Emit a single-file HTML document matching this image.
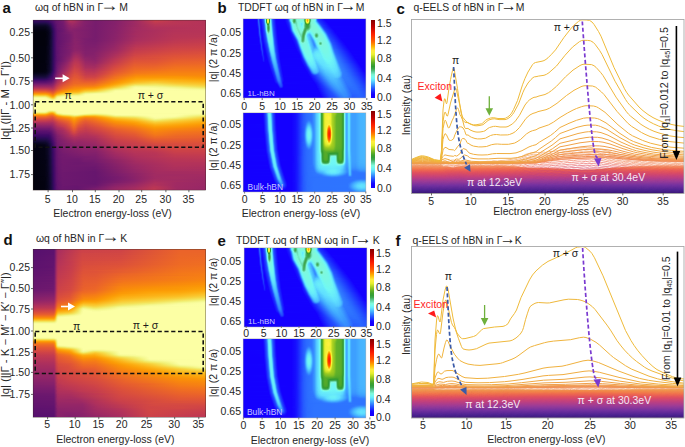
<!DOCTYPE html>
<html><head><meta charset="utf-8"><style>
html,body{margin:0;padding:0;background:#fff;}
body{width:685px;height:447px;overflow:hidden;position:relative;font-family:"Liberation Sans", sans-serif;}
.hm{position:absolute;overflow:hidden;}
.hm div{width:100%;}
svg{position:absolute;left:0;top:0;}
svg text{font-family:"Liberation Sans", sans-serif;}
</style></head><body>
<div class="hm" style="left:33px;top:20px;width:173px;height:170px;"><div style="height:1px;background:linear-gradient(90deg,#390963 0.5px,#390963 12.5px,#3e0966 15.5px,#6a176e 24.5px,#71196e 28.5px,#781c6d 30.5px,#a62d60 35.5px,#b1325a 37.5px,#a92e5e 41.5px,#9b2964 44.5px,#82206c 52.5px,#771c6d 62.5px,#84206b 82.5px,#982766 99.5px,#c83f4b 122.5px,#ba3655 141.5px,#b43359 172.5px)"></div><div style="height:1px;background:linear-gradient(90deg,#310a5c 0.5px,#310a5c 11.5px,#380962 15.5px,#4d0d6c 19.5px,#65156e 23.5px,#771c6d 30.5px,#a22b62 35.5px,#ad305d 37.5px,#a92e5e 40.5px,#84206b 51.5px,#771c6d 62.5px,#82206c 80.5px,#9a2865 100.5px,#c63d4d 122.5px,#b93556 144.5px,#b43359 172.5px)"></div><div style="height:1px;background:linear-gradient(90deg,#280b53 0.5px,#280b53 12.5px,#2f0a5b 15.5px,#490b6a 19.5px,#64156e 23.5px,#751b6e 30.5px,#a22b62 36.5px,#a62d60 38.5px,#a32c61 41.5px,#932667 45.5px,#84206b 51.5px,#771c6d 62.5px,#85216b 83.5px,#a32c61 105.5px,#c13a50 122.5px,#b93556 141.5px,#b43359 172.5px)"></div><div style="height:1px;background:linear-gradient(90deg,#1e0c45 0.5px,#1e0c45 12.5px,#230c4c 14.5px,#310a5c 17.5px,#440a68 19.5px,#5c126e 22.5px,#6a176e 25.5px,#71196e 29.5px,#7a1d6d 31.5px,#972766 35.5px,#a22b62 39.5px,#85216b 50.5px,#771c6d 62.5px,#84206b 81.5px,#9b2964 100.5px,#bd3853 121.5px,#b43359 172.5px)"></div><div style="height:1px;background:linear-gradient(90deg,#150b37 0.5px,#150b37 12.5px,#190c3e 14.5px,#290b55 17.5px,#3e0966 19.5px,#510e6c 21.5px,#65156e 24.5px,#6f196e 29.5px,#972766 36.5px,#9d2964 39.5px,#82206c 51.5px,#771c6d 62.5px,#85216b 82.5px,#9d2964 101.5px,#ba3655 122.5px,#b43359 172.5px)"></div><div style="height:1px;background:linear-gradient(90deg,#0e092b 0.5px,#0e092b 12.5px,#120a32 14.5px,#230c4c 17.5px,#390963 19.5px,#4d0d6c 21.5px,#65156e 24.5px,#721a6e 30.5px,#8d2369 35.5px,#982766 38.5px,#952667 42.5px,#7f1e6c 53.5px,#771c6d 62.5px,#87216b 83.5px,#b73557 122.5px,#b43359 172.5px)"></div><div style="height:1px;background:linear-gradient(90deg,#0a0722 0.5px,#0a0722 12.5px,#110a30 15.5px,#1e0c45 17.5px,#340a5f 19.5px,#4c0c6b 21.5px,#64156e 24.5px,#71196e 30.5px,#8c2369 35.5px,#952667 39.5px,#7d1e6d 54.5px,#771c6d 62.5px,#85216b 81.5px,#b43359 121.5px,#b63458 172.5px)"></div><div style="height:1px;background:linear-gradient(90deg,#07051b 0.5px,#07051b 10.5px,#09061f 13.5px,#0e092b 15.5px,#190c3e 17.5px,#310a5c 19.5px,#3d0965 20.5px,#540f6d 22.5px,#64156e 24.5px,#741a6e 31.5px,#88226a 35.5px,#902568 38.5px,#902568 41.5px,#85216b 47.5px,#771c6d 62.5px,#85216b 81.5px,#9f2a63 100.5px,#b1325a 120.5px,#b63458 172.5px)"></div><div style="height:1px;background:linear-gradient(90deg,#060419 0.5px,#060419 12.5px,#0c0826 15.5px,#160b39 17.5px,#390963 20.5px,#510e6c 22.5px,#62146e 24.5px,#6c186e 29.5px,#8a226a 36.5px,#8d2369 38.5px,#771c6d 62.5px,#87216b 82.5px,#a02a63 101.5px,#b0315b 121.5px,#b63458 172.5px)"></div><div style="height:1px;background:linear-gradient(90deg,#040314 0.5px,#040314 12.5px,#0a0722 15.5px,#140b34 17.5px,#290b55 19.5px,#360961 20.5px,#4f0d6c 22.5px,#5a116e 23.5px,#65156e 25.5px,#6d186e 30.5px,#87216b 36.5px,#8a226a 38.5px,#771c6d 62.5px,#88226a 83.5px,#a22b62 102.5px,#ad305d 119.5px,#b43359 140.5px,#b63458 172.5px)"></div><div style="height:1px;background:linear-gradient(90deg,#030210 0.5px,#030210 11.5px,#060419 14.5px,#0c0826 16.5px,#1b0c41 18.5px,#340a5f 20.5px,#4f0d6c 22.5px,#61136e 24.5px,#6a176e 29.5px,#84206b 36.5px,#87216b 38.5px,#771c6d 62.5px,#8a226a 84.5px,#a32c61 103.5px,#b43359 141.5px,#b63458 172.5px)"></div><div style="height:1px;background:linear-gradient(90deg,#02020e 0.5px,#02020e 12.5px,#07051b 15.5px,#190c3e 18.5px,#320a5e 20.5px,#4d0d6c 22.5px,#61136e 24.5px,#6a176e 29.5px,#801f6c 36.5px,#87216b 40.5px,#771c6d 62.5px,#87216b 81.5px,#a52c60 105.5px,#b43359 140.5px,#b63458 172.5px)"></div><div style="height:1px;background:linear-gradient(90deg,#02020c 0.5px,#02020c 11.5px,#040314 14.5px,#0a0722 16.5px,#10092d 17.5px,#320a5e 20.5px,#4d0d6c 22.5px,#61136e 24.5px,#64156e 25.5px,#87216b 41.5px,#771c6d 62.5px,#88226a 82.5px,#a52c60 104.5px,#b63458 142.5px,#b63458 172.5px)"></div><div style="height:1px;background:linear-gradient(90deg,#02020c 0.5px,#02020c 12.5px,#060419 15.5px,#10092d 17.5px,#190c3e 18.5px,#320a5e 20.5px,#4d0d6c 22.5px,#61136e 24.5px,#67166e 26.5px,#87216b 41.5px,#771c6d 62.5px,#8a226a 83.5px,#a52c60 103.5px,#b63458 140.5px,#b73557 172.5px)"></div><div style="height:1px;background:linear-gradient(90deg,#02020c 0.5px,#02020c 12.5px,#060419 15.5px,#10092d 17.5px,#190c3e 18.5px,#320a5e 20.5px,#4d0d6c 22.5px,#61136e 24.5px,#67166e 26.5px,#781c6d 36.5px,#87216b 41.5px,#771c6d 62.5px,#88226a 81.5px,#a52c60 102.5px,#b73557 142.5px,#b73557 172.5px)"></div><div style="height:2px;background:linear-gradient(90deg,#02020c 0.5px,#02020c 12.5px,#040314 14.5px,#0a0722 16.5px,#10092d 17.5px,#320a5e 20.5px,#4d0d6c 22.5px,#61136e 24.5px,#67166e 26.5px,#771c6d 36.5px,#87216b 41.5px,#771c6d 62.5px,#8a226a 82.5px,#a62d60 104.5px,#b83556 142.5px,#b93656 172.5px)"></div><div style="height:1px;background:linear-gradient(90deg,#02020c 0.5px,#02020c 11.5px,#040314 14.5px,#0a0722 16.5px,#10092d 17.5px,#320a5e 20.5px,#4d0d6c 22.5px,#59106e 23.5px,#65156e 25.5px,#771c6d 36.5px,#87216b 41.5px,#771c6d 62.5px,#8c2369 83.5px,#a62d60 102.5px,#b93556 140.5px,#bc3754 172.5px)"></div><div style="height:1px;background:linear-gradient(90deg,#02020c 0.5px,#02020c 11.5px,#040314 14.5px,#0a0722 16.5px,#10092d 17.5px,#320a5e 20.5px,#4d0d6c 22.5px,#59106e 23.5px,#65156e 25.5px,#751b6e 35.5px,#88226a 42.5px,#7d1e6d 50.5px,#771c6d 61.5px,#88226a 80.5px,#a82e5f 103.5px,#ba3655 141.5px,#bd3853 172.5px)"></div><div style="height:1px;background:linear-gradient(90deg,#02020c 0.5px,#02020c 11.5px,#040314 14.5px,#0a0722 16.5px,#190c3e 18.5px,#320a5e 20.5px,#4d0d6c 22.5px,#59106e 23.5px,#65156e 25.5px,#781c6d 36.5px,#88226a 41.5px,#85216b 46.5px,#7c1d6d 51.5px,#771c6d 61.5px,#8c2369 82.5px,#a82e5f 102.5px,#bc3754 143.5px,#c03a51 172.5px)"></div><div style="height:1px;background:linear-gradient(90deg,#02020c 0.5px,#02020c 11.5px,#030210 13.5px,#07051b 15.5px,#190c3e 18.5px,#320a5e 20.5px,#4d0d6c 22.5px,#61136e 24.5px,#781c6d 36.5px,#88226a 41.5px,#7a1d6d 54.5px,#781c6d 63.5px,#8a226a 80.5px,#ab2f5e 104.5px,#bd3853 143.5px,#c13a50 172.5px)"></div><div style="height:1px;background:linear-gradient(90deg,#02020c 0.5px,#02020c 11.5px,#030210 13.5px,#07051b 15.5px,#190c3e 18.5px,#320a5e 20.5px,#4d0d6c 22.5px,#61136e 24.5px,#781c6d 36.5px,#88226a 41.5px,#88226a 44.5px,#7c1d6d 52.5px,#781c6d 62.5px,#8c2369 80.5px,#ad305d 103.5px,#bf3952 141.5px,#c33b4f 172.5px)"></div><div style="height:1px;background:linear-gradient(90deg,#02020c 0.5px,#02020c 11.5px,#030210 13.5px,#07051b 15.5px,#190c3e 18.5px,#320a5e 20.5px,#4d0d6c 22.5px,#5a116e 23.5px,#61136e 24.5px,#771c6d 35.5px,#88226a 41.5px,#88226a 44.5px,#7c1d6d 52.5px,#7a1d6d 62.5px,#8d2369 80.5px,#b0315b 103.5px,#c13a50 144.5px,#c43c4e 172.5px)"></div><div style="height:1px;background:linear-gradient(90deg,#02020c 0.5px,#02020c 11.5px,#030210 13.5px,#07051b 15.5px,#190c3e 18.5px,#320a5e 20.5px,#4d0d6c 22.5px,#5a116e 23.5px,#61136e 24.5px,#8a226a 42.5px,#7d1e6d 51.5px,#7a1d6d 61.5px,#8f2469 80.5px,#b3325a 104.5px,#c33b4f 141.5px,#c73e4c 172.5px)"></div><div style="height:1px;background:linear-gradient(90deg,#02020c 0.5px,#02020c 11.5px,#030210 13.5px,#07051b 15.5px,#190c3e 18.5px,#320a5e 20.5px,#4d0d6c 22.5px,#5a116e 23.5px,#61136e 24.5px,#8a226a 42.5px,#7d1e6d 52.5px,#7c1d6d 62.5px,#902568 80.5px,#b43359 102.5px,#c63d4d 143.5px,#c83f4b 172.5px)"></div><div style="height:1px;background:linear-gradient(90deg,#02020c 0.5px,#02020c 11.5px,#030210 13.5px,#0b0724 16.5px,#190c3e 18.5px,#320a5e 20.5px,#4d0d6c 22.5px,#5a116e 23.5px,#61136e 24.5px,#6a176e 27.5px,#7a1d6d 36.5px,#8a226a 41.5px,#8a226a 44.5px,#7d1e6d 53.5px,#7d1e6d 62.5px,#922568 80.5px,#b73557 102.5px,#c73e4c 141.5px,#ca404a 172.5px)"></div><div style="height:1px;background:linear-gradient(90deg,#02020c 0.5px,#02020e 12.5px,#0b0724 16.5px,#190c3e 18.5px,#320a5e 20.5px,#4d0d6c 22.5px,#5a116e 23.5px,#61136e 24.5px,#8a226a 41.5px,#8a226a 44.5px,#7f1e6c 51.5px,#7d1e6d 61.5px,#932667 80.5px,#ba3655 103.5px,#ca404a 143.5px,#cc4248 172.5px)"></div><div style="height:1px;background:linear-gradient(90deg,#02020c 0.5px,#02020e 12.5px,#0b0724 16.5px,#1b0c41 18.5px,#320a5e 20.5px,#4d0d6c 22.5px,#5a116e 23.5px,#61136e 24.5px,#69166e 26.5px,#771c6d 34.5px,#8a226a 41.5px,#88226a 46.5px,#7f1e6c 52.5px,#7f1e6c 62.5px,#952667 80.5px,#bc3754 101.5px,#cb4149 140.5px,#ce4347 172.5px)"></div><div style="height:1px;background:linear-gradient(90deg,#02020c 0.5px,#02020e 12.5px,#0b0724 16.5px,#1b0c41 18.5px,#320a5e 20.5px,#4d0d6c 22.5px,#5a116e 23.5px,#61136e 24.5px,#69166e 26.5px,#8c2369 42.5px,#7f1e6c 53.5px,#82206c 64.5px,#9b2964 83.5px,#c03a51 103.5px,#ce4347 142.5px,#d04545 172.5px)"></div><div style="height:1px;background:linear-gradient(90deg,#02020c 0.5px,#02020e 12.5px,#08051d 15.5px,#110a30 17.5px,#260c51 19.5px,#400a67 21.5px,#5a116e 23.5px,#61136e 24.5px,#6d186e 28.5px,#7c1d6d 36.5px,#8c2369 41.5px,#8a226a 46.5px,#801f6c 52.5px,#82206c 63.5px,#9b2964 82.5px,#c13a50 102.5px,#cf4446 140.5px,#d34743 172.5px)"></div><div style="height:1px;background:linear-gradient(90deg,#02020c 0.5px,#02020e 12.5px,#08051d 15.5px,#1b0c41 18.5px,#320a5e 20.5px,#400a67 21.5px,#5a116e 23.5px,#61136e 24.5px,#6d186e 28.5px,#7a1d6d 35.5px,#8d2369 41.5px,#8d2369 45.5px,#801f6c 52.5px,#82206c 62.5px,#a02a63 83.5px,#c43c4e 102.5px,#d24644 141.5px,#d44842 172.5px)"></div><div style="height:1px;background:linear-gradient(90deg,#02020c 0.5px,#02020e 12.5px,#08051d 15.5px,#1b0c41 18.5px,#320a5e 20.5px,#400a67 21.5px,#5a116e 23.5px,#69166e 26.5px,#7d1e6d 36.5px,#922568 42.5px,#902568 45.5px,#82206c 52.5px,#82206c 61.5px,#a52c60 84.5px,#c73e4c 102.5px,#d44842 142.5px,#d74b3f 172.5px)"></div><div style="height:1px;background:linear-gradient(90deg,#02020c 0.5px,#02020e 12.5px,#08051d 15.5px,#1b0c41 18.5px,#320a5e 20.5px,#400a67 21.5px,#5a116e 23.5px,#69166e 26.5px,#7d1e6d 36.5px,#922568 40.5px,#952667 42.5px,#932667 45.5px,#82206c 52.5px,#84206b 61.5px,#a62d60 83.5px,#c83f4b 101.5px,#d54a41 139.5px,#d94d3d 172.5px)"></div><div style="height:1px;background:linear-gradient(90deg,#02020c 0.5px,#02020e 11.5px,#040312 13.5px,#08051d 15.5px,#1b0c41 18.5px,#320a5e 20.5px,#400a67 21.5px,#5a116e 23.5px,#6c186e 27.5px,#7f1e6c 36.5px,#952667 40.5px,#9a2865 42.5px,#952667 46.5px,#87216b 50.5px,#82206c 53.5px,#84206b 60.5px,#a92e5e 83.5px,#cb4149 101.5px,#d84c3e 140.5px,#da4e3c 172.5px)"></div><div style="height:1px;background:linear-gradient(90deg,#02020c 0.5px,#02020e 11.5px,#040312 13.5px,#08051d 15.5px,#1b0c41 18.5px,#320a5e 20.5px,#400a67 21.5px,#5a116e 23.5px,#62146e 24.5px,#6c186e 27.5px,#801f6c 36.5px,#982766 40.5px,#9d2964 42.5px,#9b2964 45.5px,#84206b 52.5px,#85216b 61.5px,#ad305d 83.5px,#ce4347 101.5px,#da4e3c 141.5px,#dd513a 172.5px)"></div><div style="height:1px;background:linear-gradient(90deg,#02020c 0.5px,#02020e 11.5px,#040312 13.5px,#0c0826 16.5px,#1b0c41 18.5px,#320a5e 20.5px,#400a67 21.5px,#5a116e 23.5px,#62146e 24.5px,#6c186e 27.5px,#82206c 36.5px,#9b2964 40.5px,#a22b62 42.5px,#9f2a63 45.5px,#88226a 51.5px,#85216b 53.5px,#87216b 61.5px,#a62d60 78.5px,#d24644 103.5px,#dd513a 142.5px,#df5337 172.5px)"></div><div style="height:1px;background:linear-gradient(90deg,#02020c 0.5px,#02020e 11.5px,#040312 13.5px,#0c0826 16.5px,#1b0c41 18.5px,#320a5e 20.5px,#4d0d6c 22.5px,#62146e 24.5px,#85216b 36.5px,#a02a63 40.5px,#a52c60 42.5px,#a52c60 44.5px,#88226a 52.5px,#88226a 62.5px,#b1325a 82.5px,#d34743 101.5px,#df5337 144.5px,#e05536 172.5px)"></div><div style="height:1px;background:linear-gradient(90deg,#02020c 0.5px,#02020e 11.5px,#040312 13.5px,#0c0826 16.5px,#1b0c41 18.5px,#320a5e 20.5px,#400a67 21.5px,#5a116e 23.5px,#62146e 24.5px,#88226a 36.5px,#a32c61 40.5px,#a92e5e 42.5px,#a32c61 46.5px,#8d2369 51.5px,#88226a 60.5px,#a82e5f 76.5px,#d54a41 101.5px,#e05536 140.5px,#e25734 172.5px)"></div><div style="height:1px;background:linear-gradient(90deg,#02020c 0.5px,#02020e 11.5px,#040312 13.5px,#09061f 15.5px,#120a32 17.5px,#1b0c41 18.5px,#320a5e 20.5px,#4f0d6c 22.5px,#62146e 24.5px,#8c2369 36.5px,#a82e5f 40.5px,#ad305d 42.5px,#ad305d 44.5px,#a62d60 46.5px,#902568 51.5px,#8a226a 61.5px,#b93556 82.5px,#d84c3e 101.5px,#da4e3c 121.5px,#e25734 141.5px,#e45a31 172.5px)"></div><div style="height:1px;background:linear-gradient(90deg,#02020c 0.5px,#02020e 11.5px,#040312 13.5px,#09061f 15.5px,#120a32 17.5px,#1b0c41 18.5px,#320a5e 20.5px,#4f0d6c 22.5px,#62146e 24.5px,#7d1e6d 32.5px,#902568 36.5px,#ab2f5e 40.5px,#b1325a 42.5px,#ae305c 45.5px,#902568 52.5px,#8c2369 61.5px,#bc3754 82.5px,#da4e3c 101.5px,#dd513a 122.5px,#e45a31 142.5px,#e65d2f 172.5px)"></div><div style="height:1px;background:linear-gradient(90deg,#02020c 0.5px,#02020e 11.5px,#09061f 15.5px,#120a32 17.5px,#1b0c41 18.5px,#340a5f 20.5px,#4f0d6c 22.5px,#62146e 24.5px,#85216b 33.5px,#932667 36.5px,#b43359 41.5px,#b43359 44.5px,#932667 52.5px,#8f2469 62.5px,#bd3853 81.5px,#dd513a 101.5px,#df5337 123.5px,#e65d2f 143.5px,#e75e2e 172.5px)"></div><div style="height:1px;background:linear-gradient(90deg,#02020c 0.5px,#02020e 11.5px,#09061f 15.5px,#1b0c41 18.5px,#340a5f 20.5px,#4f0d6c 22.5px,#5c126e 23.5px,#6a176e 25.5px,#7a1d6d 30.5px,#922568 35.5px,#b3325a 40.5px,#b93556 42.5px,#b63458 45.5px,#972766 52.5px,#922568 62.5px,#c03a51 81.5px,#df5337 101.5px,#e05536 120.5px,#e8602d 146.5px,#e9612b 172.5px)"></div><div style="height:1px;background:linear-gradient(90deg,#02020c 0.5px,#02020e 11.5px,#09061f 15.5px,#140b34 17.5px,#260c51 19.5px,#340a5f 20.5px,#510e6c 22.5px,#5d126e 23.5px,#6c186e 25.5px,#8c2369 33.5px,#b73557 40.5px,#bc3754 42.5px,#b93556 45.5px,#9a2865 52.5px,#952667 62.5px,#c13a50 80.5px,#e15635 101.5px,#e25734 122.5px,#e9612b 140.5px,#eb6429 172.5px)"></div><div style="height:1px;background:linear-gradient(90deg,#02020c 0.5px,#030210 12.5px,#09061f 15.5px,#140b34 17.5px,#260c51 19.5px,#340a5f 20.5px,#520e6d 22.5px,#69166e 24.5px,#952667 34.5px,#ba3655 40.5px,#bf3952 42.5px,#bc3754 45.5px,#9d2964 52.5px,#982766 62.5px,#c73e4c 81.5px,#e35933 101.5px,#e45a31 122.5px,#eb6429 141.5px,#eb6628 172.5px)"></div><div style="height:1px;background:linear-gradient(90deg,#02020c 0.5px,#030210 12.5px,#060419 14.5px,#0d0829 16.5px,#1c0c43 18.5px,#340a5f 20.5px,#440a68 21.5px,#61136e 23.5px,#6a176e 24.5px,#932667 33.5px,#bd3853 40.5px,#c13a50 42.5px,#bf3952 45.5px,#a02a63 52.5px,#9b2964 61.5px,#c83f4b 80.5px,#e55c30 101.5px,#e65d2f 122.5px,#ec6726 141.5px,#ed6925 172.5px)"></div><div style="height:1px;background:linear-gradient(90deg,#02020c 0.5px,#030210 12.5px,#0d0829 16.5px,#1c0c43 18.5px,#360961 20.5px,#540f6d 22.5px,#62146e 23.5px,#721a6e 25.5px,#972766 33.5px,#c43c4e 41.5px,#c13a50 45.5px,#a32c61 52.5px,#9f2a63 61.5px,#ce4347 81.5px,#e75e2e 101.5px,#e8602d 122.5px,#ee6a24 142.5px,#ef6c23 172.5px)"></div><div style="height:1px;background:linear-gradient(90deg,#02020c 0.5px,#030210 12.5px,#0d0829 16.5px,#1c0c43 18.5px,#360961 20.5px,#550f6d 22.5px,#64156e 23.5px,#741a6e 25.5px,#a52c60 35.5px,#c73e4c 41.5px,#c03a51 46.5px,#a62d60 52.5px,#a32c61 62.5px,#d34743 82.5px,#e9612b 101.5px,#ea632a 121.5px,#ef6e21 142.5px,#f06f20 172.5px)"></div><div style="height:1px;background:linear-gradient(90deg,#02020c 0.5px,#030210 12.5px,#0d0829 16.5px,#1c0c43 18.5px,#360961 20.5px,#550f6d 22.5px,#6f196e 24.5px,#751b6e 25.5px,#a32c61 34.5px,#ca404a 41.5px,#c33b4f 46.5px,#a92e5e 52.5px,#a62d60 61.5px,#d44842 81.5px,#eb6429 101.5px,#eb6628 119.5px,#f1711f 143.5px,#f1711f 172.5px)"></div><div style="height:1px;background:linear-gradient(90deg,#02020c 0.5px,#030210 12.5px,#0e092b 16.5px,#140b34 17.5px,#280b53 19.5px,#470b6a 21.5px,#57106e 22.5px,#65156e 23.5px,#781c6d 25.5px,#a22b62 33.5px,#cc4248 41.5px,#c83f4b 45.5px,#ae305c 52.5px,#ab2f5e 61.5px,#bf3952 70.5px,#d94d3d 82.5px,#ec6726 101.5px,#ee6a24 123.5px,#f2741c 144.5px,#f2741c 172.5px)"></div><div style="height:1px;background:linear-gradient(90deg,#02020c 0.5px,#030210 11.5px,#040314 13.5px,#0e092b 16.5px,#140b34 17.5px,#280b53 19.5px,#380962 20.5px,#59106e 22.5px,#721a6e 24.5px,#801f6c 26.5px,#ab2f5e 34.5px,#cf4446 41.5px,#cb4149 45.5px,#b43359 51.5px,#b0315b 61.5px,#c73e4c 72.5px,#da4e3c 81.5px,#ee6a24 101.5px,#ef6e21 122.5px,#f3761b 139.5px,#f37819 172.5px)"></div><div style="height:1px;background:linear-gradient(90deg,#02020c 0.5px,#030210 11.5px,#040314 13.5px,#0e092b 16.5px,#1e0c45 18.5px,#390963 20.5px,#5a116e 22.5px,#6a176e 23.5px,#7d1e6d 25.5px,#a92e5e 33.5px,#cb4149 39.5px,#d24644 41.5px,#d04545 44.5px,#b63458 52.5px,#b3325a 60.5px,#c83f4b 71.5px,#df5337 82.5px,#f06f20 102.5px,#f1711f 121.5px,#f47918 139.5px,#f47918 172.5px)"></div><div style="height:1px;background:linear-gradient(90deg,#02020e 0.5px,#030210 10.5px,#050417 13.5px,#10092d 16.5px,#210c4a 18.5px,#3d0965 20.5px,#5d126e 22.5px,#771c6d 24.5px,#982766 29.5px,#b3325a 34.5px,#ce4347 39.5px,#d44842 41.5px,#d04545 45.5px,#b93556 53.5px,#b73557 61.5px,#df5337 80.5px,#f1731d 102.5px,#f57d15 139.5px,#f57d15 172.5px)"></div><div style="height:1px;background:linear-gradient(90deg,#040312 0.5px,#050417 12.5px,#0d0829 15.5px,#190c3e 17.5px,#240c4f 18.5px,#400a67 20.5px,#61136e 22.5px,#7c1d6d 24.5px,#9d2964 29.5px,#cc4248 38.5px,#d74b3f 41.5px,#d34743 45.5px,#bd3853 52.5px,#bc3754 61.5px,#d24644 72.5px,#e35933 81.5px,#f3761b 102.5px,#f68013 138.5px,#f68013 172.5px)"></div><div style="height:1px;background:linear-gradient(90deg,#060419 0.5px,#08051d 11.5px,#0a0722 13.5px,#0d0829 14.5px,#180c3c 16.5px,#290b55 18.5px,#450a69 20.5px,#65156e 22.5px,#7f1e6c 24.5px,#a22b62 29.5px,#cf4446 38.5px,#d94d3d 41.5px,#d84c3e 44.5px,#c03a51 53.5px,#c03a51 61.5px,#cf4446 69.5px,#e75e2e 82.5px,#f57b17 102.5px,#f78410 136.5px,#f78410 172.5px)"></div><div style="height:1px;background:linear-gradient(90deg,#0a0722 0.5px,#0c0826 12.5px,#120a32 14.5px,#240c4f 17.5px,#2f0a5b 18.5px,#4a0c6b 20.5px,#6a176e 22.5px,#84206b 24.5px,#a62d60 29.5px,#d74b3f 39.5px,#db503b 41.5px,#da4e3c 44.5px,#c43c4e 52.5px,#c33b4f 60.5px,#d34743 69.5px,#ea632a 82.5px,#f78212 102.5px,#f8870e 127.5px,#f8850f 172.5px)"></div><div style="height:1px;background:linear-gradient(90deg,#10092d 0.5px,#10092d 10.5px,#110a30 12.5px,#180c3c 14.5px,#2b0b57 17.5px,#400a67 19.5px,#6d186e 22.5px,#7d1e6d 23.5px,#922568 25.5px,#ab2f5e 29.5px,#d54a41 38.5px,#de5238 41.5px,#dd513a 44.5px,#c83f4b 52.5px,#c83f4b 62.5px,#eb6628 81.5px,#f8890c 103.5px,#f98c0a 121.5px,#f8890c 172.5px)"></div><div style="height:1px;background:linear-gradient(90deg,#150b37 0.5px,#150b37 10.5px,#160b39 12.5px,#1e0c45 14.5px,#2b0b57 16.5px,#450a69 19.5px,#721a6e 22.5px,#82206c 23.5px,#972766 25.5px,#b0315b 29.5px,#d04545 36.5px,#e05536 41.5px,#de5238 45.5px,#cb4149 53.5px,#cc4248 62.5px,#ef6e21 82.5px,#fa9008 103.5px,#fa9407 143.5px,#f98c0a 172.5px)"></div><div style="height:1px;background:linear-gradient(90deg,#1c0c43 0.5px,#1c0c43 11.5px,#210c4a 13.5px,#2b0b57 15.5px,#4a0c6b 19.5px,#67166e 21.5px,#87216b 23.5px,#9b2964 25.5px,#bf3952 31.5px,#e15635 40.5px,#e05536 45.5px,#d04545 52.5px,#d04545 61.5px,#df5337 69.5px,#f1711f 81.5px,#f98c0a 96.5px,#fb9706 103.5px,#fb9906 148.5px,#fa9207 172.5px)"></div><div style="height:1px;background:linear-gradient(90deg,#260c51 0.5px,#260c51 11.5px,#2b0b57 13.5px,#510e6c 19.5px,#5c126e 20.5px,#8c2369 23.5px,#a02a63 25.5px,#c33b4f 31.5px,#e35933 40.5px,#e45a31 43.5px,#d54a41 52.5px,#d74b3f 62.5px,#ee6a24 76.5px,#f98e09 93.5px,#fc9f07 103.5px,#fca309 129.5px,#fb9906 172.5px)"></div><div style="height:1px;background:linear-gradient(90deg,#340a5f 0.5px,#340a5f 11.5px,#3b0964 14.5px,#550f6d 19.5px,#61136e 20.5px,#902568 23.5px,#a52c60 25.5px,#c33b4f 30.5px,#e55c30 40.5px,#e65d2f 44.5px,#da4e3c 52.5px,#db503b 61.5px,#e75e2e 69.5px,#f3761b 78.5px,#f98c0a 89.5px,#fb9b06 96.5px,#fca60c 103.5px,#fcac11 126.5px,#fca108 172.5px)"></div><div style="height:1px;background:linear-gradient(90deg,#420a68 0.5px,#420a68 11.5px,#57106e 18.5px,#69166e 20.5px,#a22b62 24.5px,#b73557 27.5px,#d34743 33.5px,#e75e2e 40.5px,#e8602d 44.5px,#df5337 53.5px,#e15635 62.5px,#f2741c 75.5px,#fa9207 88.5px,#fc9f07 95.5px,#fcac11 101.5px,#fcb014 106.5px,#fbb61a 128.5px,#fca80d 172.5px)"></div><div style="height:1px;background:linear-gradient(90deg,#510e6c 0.5px,#510e6c 12.5px,#61136e 18.5px,#71196e 20.5px,#a82e5f 24.5px,#c33b4f 28.5px,#d04545 31.5px,#e9612b 40.5px,#ea632a 44.5px,#e45a31 51.5px,#e55c30 61.5px,#f98c0a 82.5px,#fb9906 88.5px,#fca60c 95.5px,#fbb61a 102.5px,#fac228 119.5px,#fac228 125.5px,#fbb81d 140.5px,#fcb014 172.5px)"></div><div style="height:1px;background:linear-gradient(90deg,#5d126e 0.5px,#5d126e 12.5px,#6a176e 18.5px,#7a1d6d 20.5px,#ae305c 24.5px,#c33b4f 27.5px,#d84c3e 32.5px,#eb6429 40.5px,#eb6628 45.5px,#e8602d 51.5px,#ea632a 62.5px,#f98e09 80.5px,#fb9b06 86.5px,#fca60c 91.5px,#fac026 102.5px,#f8cd37 120.5px,#fac026 142.5px,#fbb81d 172.5px)"></div><div style="height:1px;background:linear-gradient(90deg,#6c186e 0.5px,#6c186e 13.5px,#751b6e 18.5px,#84206b 20.5px,#b63458 24.5px,#c83f4b 27.5px,#dd513a 32.5px,#ec6726 40.5px,#ed6925 61.5px,#f98c0a 76.5px,#fb9b06 82.5px,#fcac11 89.5px,#f9c72f 99.5px,#f8cf3a 104.5px,#f5d949 122.5px,#f9c932 142.5px,#fac026 172.5px)"></div><div style="height:1px;background:linear-gradient(90deg,#7a1d6d 0.5px,#7d1e6d 17.5px,#8d2369 20.5px,#b43359 23.5px,#cf4446 27.5px,#db503b 30.5px,#eb6628 38.5px,#ef6e21 41.5px,#f06f20 60.5px,#fb9606 76.5px,#fca309 81.5px,#fcae12 85.5px,#f9c72f 94.5px,#f4dd4f 101.5px,#f3e55d 122.5px,#f7d340 145.5px,#f9c72f 172.5px)"></div><div style="height:1px;background:linear-gradient(90deg,#8a226a 0.5px,#8c2369 18.5px,#902568 19.5px,#a32c61 21.5px,#bc3754 23.5px,#d04545 26.5px,#e05536 30.5px,#ef6c23 38.5px,#f2741c 42.5px,#f37819 60.5px,#f67e14 64.5px,#fb9906 73.5px,#fca60c 78.5px,#fac228 87.5px,#f6d746 94.5px,#f1ed71 102.5px,#f1ed71 124.5px,#f4e156 142.5px,#f8cf3a 172.5px)"></div><div style="height:1px;background:linear-gradient(90deg,#9a2865 0.5px,#982766 18.5px,#a22b62 20.5px,#c43c4e 23.5px,#d74b3f 26.5px,#e55c30 30.5px,#f1711f 37.5px,#f57b17 41.5px,#f78212 60.5px,#fb9906 69.5px,#fcae12 76.5px,#f8cd37 86.5px,#f3e35a 93.5px,#f1ec6d 96.5px,#f2f482 99.5px,#f4f88e 102.5px,#f3f68a 122.5px,#f2f482 126.5px,#f2f482 129.5px,#f1ef75 136.5px,#f2ea69 148.5px,#f2e661 151.5px,#f5d949 172.5px)"></div><div style="height:1px;background:linear-gradient(90deg,#ab2f5e 0.5px,#a62d60 19.5px,#b63458 21.5px,#cc4248 23.5px,#d94d3d 25.5px,#ea632a 30.5px,#f78410 41.5px,#fa9207 62.5px,#fb9b06 65.5px,#fcaa0f 70.5px,#f9c72f 79.5px,#f4e156 88.5px,#f1ed71 93.5px,#f9fc9d 101.5px,#fafda1 103.5px,#f9fc9d 104.5px,#f9fc9d 115.5px,#f8fb9a 116.5px,#f6fa96 128.5px,#f3f586 144.5px,#f2e661 169.5px,#f2e661 172.5px)"></div><div style="height:1px;background:linear-gradient(90deg,#ba3655 0.5px,#ba3655 13.5px,#b3325a 19.5px,#c03a51 21.5px,#da4e3c 24.5px,#ef6c23 30.5px,#f98c0a 41.5px,#f98e09 45.5px,#fb9d07 53.5px,#fca108 61.5px,#fca80d 64.5px,#fbbc21 70.5px,#f8cf3a 76.5px,#f4e156 81.5px,#f2f27d 91.5px,#fafda1 100.5px,#fcffa4 102.5px,#fcffa4 120.5px,#f9fc9d 129.5px,#f9fc9d 136.5px,#f1f179 172.5px)"></div><div style="height:1px;background:linear-gradient(90deg,#cb4149 0.5px,#cb4149 12.5px,#c03a51 18.5px,#c33b4f 20.5px,#e25734 24.5px,#f2741c 29.5px,#fa9008 38.5px,#fb9b06 46.5px,#fcac11 53.5px,#fcb014 59.5px,#fbb81d 63.5px,#f5db4c 74.5px,#f2f27d 82.5px,#fcffa4 100.5px,#fcffa4 139.5px,#f5f992 172.5px)"></div><div style="height:1px;background:linear-gradient(90deg,#da4e3c 0.5px,#da4e3c 12.5px,#cc4248 19.5px,#d54a41 21.5px,#e55c30 23.5px,#ee6a24 25.5px,#f8870e 30.5px,#fb9606 36.5px,#fca108 41.5px,#fca309 45.5px,#fbba1f 51.5px,#f9c932 63.5px,#f5db4c 69.5px,#f1ed71 75.5px,#f8fb9a 82.5px,#fcffa4 97.5px,#fafda1 172.5px)"></div><div style="height:1px;background:linear-gradient(90deg,#e8602d 0.5px,#e8602d 12.5px,#d84c3e 19.5px,#e15635 21.5px,#f2741c 24.5px,#fa9207 29.5px,#fc9f07 34.5px,#fcac11 41.5px,#fcac11 43.5px,#fcb418 46.5px,#f8cd37 51.5px,#f7d340 54.5px,#f6d746 60.5px,#f4e156 65.5px,#f2f482 74.5px,#f5f992 77.5px,#fcffa4 82.5px,#fcffa4 172.5px)"></div><div style="height:1px;background:linear-gradient(90deg,#f2741c 0.5px,#f2741c 12.5px,#ec6726 16.5px,#e55c30 18.5px,#e45a31 20.5px,#f8870e 24.5px,#fa9407 26.5px,#fc9f07 28.5px,#fca80d 30.5px,#fbbc21 40.5px,#fbbe23 44.5px,#fac62d 46.5px,#f3e55d 52.5px,#f1ed71 62.5px,#f5f992 73.5px,#fcffa4 81.5px,#fcffa4 172.5px)"></div><div style="height:1px;background:linear-gradient(90deg,#f98e09 0.5px,#f98e09 12.5px,#f78212 15.5px,#eb6628 19.5px,#ed6925 20.5px,#fa9207 23.5px,#fb9d07 24.5px,#fbb61a 28.5px,#fbbe23 30.5px,#f8cf3a 39.5px,#f6d543 45.5px,#f5d949 46.5px,#f1ef75 50.5px,#f3f586 52.5px,#f6fa96 61.5px,#fafda1 73.5px,#fcffa4 78.5px,#fcffa4 172.5px)"></div><div style="height:1px;background:linear-gradient(90deg,#fcac11 0.5px,#fcaa0f 12.5px,#fca108 14.5px,#fa9207 16.5px,#f37819 19.5px,#f57b17 20.5px,#fb9906 22.5px,#fbb81d 24.5px,#f7d340 29.5px,#f3e55d 38.5px,#f2e661 44.5px,#f1ec6d 46.5px,#f5f992 50.5px,#f9fc9d 52.5px,#fafda1 55.5px,#fcffa4 61.5px,#fcffa4 172.5px)"></div><div style="height:1px;background:linear-gradient(90deg,#f9cb35 0.5px,#f9c932 12.5px,#fbbe23 14.5px,#fc9f07 17.5px,#f98b0b 19.5px,#f98e09 20.5px,#fc9f07 21.5px,#f9c72f 23.5px,#f7d340 24.5px,#f3e55d 27.5px,#f1ed71 30.5px,#f3f586 38.5px,#f3f68a 45.5px,#fcffa4 52.5px,#fcffa4 172.5px)"></div><div style="height:1px;background:linear-gradient(90deg,#f2e865 0.5px,#f2e865 11.5px,#f2e661 12.5px,#f8cf3a 15.5px,#fcaa0f 18.5px,#fca108 19.5px,#fca50a 20.5px,#fbb61a 21.5px,#f9cb35 22.5px,#f4e156 23.5px,#f1ed71 24.5px,#f2f27d 25.5px,#f6fa96 30.5px,#f9fc9d 36.5px,#f9fc9d 45.5px,#fcffa4 49.5px,#fcffa4 172.5px)"></div><div style="height:1px;background:linear-gradient(90deg,#f5f992 0.5px,#f5f992 11.5px,#f4f88e 12.5px,#f3f586 13.5px,#f2e865 15.5px,#fac42a 18.5px,#fbbc21 19.5px,#fbbe23 20.5px,#f8cd37 21.5px,#f1f179 23.5px,#f5f992 24.5px,#f9fc9d 26.5px,#fcffa4 30.5px,#fcffa4 172.5px)"></div><div style="height:1px;background:linear-gradient(90deg,#fcffa4 0.5px,#fcffa4 10.5px,#f9fc9d 13.5px,#f6fa96 14.5px,#f2f27d 16.5px,#f4e156 18.5px,#f5d949 19.5px,#f5d949 20.5px,#f3e35a 21.5px,#f5f992 23.5px,#fcffa4 25.5px,#fcffa4 172.5px)"></div><div style="height:1px;background:linear-gradient(90deg,#fcffa4 0.5px,#fcffa4 13.5px,#f8fb9a 16.5px,#f5f992 17.5px,#f1f179 19.5px,#f1f179 20.5px,#f9fc9d 23.5px,#fcffa4 24.5px,#fcffa4 172.5px)"></div><div style="height:1px;background:linear-gradient(90deg,#fcffa4 0.5px,#fcffa4 16.5px,#f8fb9a 19.5px,#fcffa4 23.5px,#fcffa4 172.5px)"></div><div style="height:6px;background:linear-gradient(90deg,#fcffa4 0.5px,#fcffa4 172.5px)"></div><div style="height:3px;background:linear-gradient(90deg,#fcffa4 0.5px,#fcffa4 172.5px)"></div><div style="height:1px;background:linear-gradient(90deg,#fcffa4 0.5px,#fcffa4 12.5px,#f5f992 17.5px,#f5f992 19.5px,#fcffa4 24.5px,#fcffa4 172.5px)"></div><div style="height:1px;background:linear-gradient(90deg,#fafda1 0.5px,#fafda1 11.5px,#f6fa96 13.5px,#f3f68a 14.5px,#f2ea69 16.5px,#f2e661 17.5px,#f3e55d 19.5px,#f1ef75 21.5px,#f8fb9a 23.5px,#fcffa4 25.5px,#fcffa4 172.5px)"></div><div style="height:1px;background:linear-gradient(90deg,#f2f482 0.5px,#f2f482 11.5px,#f2f27d 12.5px,#f3e35a 14.5px,#f6d543 15.5px,#fac42a 17.5px,#fac026 18.5px,#fac228 19.5px,#f9c932 20.5px,#f6d746 21.5px,#f2e865 22.5px,#f3f586 23.5px,#f8fb9a 24.5px,#fafda1 25.5px,#fcffa4 27.5px,#fcffa4 172.5px)"></div><div style="height:1px;background:linear-gradient(90deg,#f6d543 0.5px,#f6d543 11.5px,#f9cb35 13.5px,#fca60c 16.5px,#fb9b06 18.5px,#fb9d07 19.5px,#fca80d 20.5px,#fbbc21 21.5px,#f7d13d 22.5px,#f2e661 23.5px,#f2f27d 24.5px,#f3f68a 25.5px,#fafda1 30.5px,#fcffa4 36.5px,#fcffa4 48.5px,#f6fa96 59.5px,#f6fa96 64.5px,#fcffa4 78.5px,#fafda1 172.5px)"></div><div style="height:1px;background:linear-gradient(90deg,#fcac11 0.5px,#fcac11 10.5px,#fca80d 12.5px,#fb9b06 14.5px,#f8890c 16.5px,#f78212 18.5px,#f78410 19.5px,#f98c0a 20.5px,#fb9d07 21.5px,#fcb216 22.5px,#fac62d 23.5px,#f4dd4f 25.5px,#f1ed71 28.5px,#f2f482 30.5px,#f4f88e 36.5px,#fafda1 42.5px,#f9fc9d 44.5px,#f1f179 53.5px,#f2ea69 61.5px,#f3f586 72.5px,#f9fc9d 79.5px,#fcffa4 83.5px,#fcffa4 146.5px,#f5f992 167.5px,#f5f992 172.5px)"></div><div style="height:1px;background:linear-gradient(90deg,#f8890c 0.5px,#f8890c 12.5px,#f1731d 16.5px,#ef6c23 18.5px,#ef6e21 19.5px,#f2741c 20.5px,#fa9207 22.5px,#fca108 23.5px,#fbb61a 25.5px,#f7d13d 29.5px,#f3e35a 36.5px,#f2f27d 41.5px,#f1ef75 44.5px,#f7d13d 51.5px,#f9c932 58.5px,#f9c932 62.5px,#f7d340 66.5px,#f1ed71 76.5px,#f5f992 82.5px,#f5f992 87.5px,#f6fa96 88.5px,#f6fa96 98.5px,#fcffa4 117.5px,#fcffa4 143.5px,#f3f68a 158.5px,#f1ef75 172.5px)"></div><div style="height:1px;background:linear-gradient(90deg,#f1731d 0.5px,#f1711f 12.5px,#e75e2e 17.5px,#e65d2f 19.5px,#ef6c23 21.5px,#f98c0a 24.5px,#fb9906 26.5px,#fcb014 31.5px,#fbba1f 35.5px,#fac228 37.5px,#f8cf3a 39.5px,#f6d543 41.5px,#f8cf3a 43.5px,#fca60c 51.5px,#fca309 53.5px,#fca50a 61.5px,#fbba1f 68.5px,#f5d949 77.5px,#f3e55d 80.5px,#f2ea69 83.5px,#f1f179 100.5px,#fcffa4 120.5px,#fafda1 141.5px,#f4f88e 150.5px,#f2f27d 155.5px,#f4e156 172.5px)"></div><div style="height:1px;background:linear-gradient(90deg,#e9612b 0.5px,#e8602d 12.5px,#dd513a 19.5px,#e05536 20.5px,#f37819 24.5px,#fa9207 31.5px,#fca309 37.5px,#fcb216 39.5px,#fbb81d 41.5px,#fca60c 44.5px,#fb9d07 46.5px,#f8850f 52.5px,#f98b0b 60.5px,#fca108 68.5px,#fcb216 73.5px,#f7d13d 82.5px,#f3e35a 102.5px,#f2f27d 111.5px,#f6fa96 117.5px,#fafda1 121.5px,#fafda1 126.5px,#f5f992 140.5px,#f3e55d 159.5px,#f6d746 169.5px,#f6d543 172.5px)"></div><div style="height:1px;background:linear-gradient(90deg,#df5337 0.5px,#df5337 11.5px,#d44842 19.5px,#de5238 21.5px,#ea632a 23.5px,#f1711f 26.5px,#f8850f 34.5px,#fa9207 37.5px,#fca50a 40.5px,#fca60c 41.5px,#fa9407 44.5px,#f68013 48.5px,#f2741c 52.5px,#f67e14 61.5px,#fa9008 67.5px,#fb9b06 71.5px,#fcaa0f 76.5px,#fbb81d 80.5px,#fac026 84.5px,#f7d340 102.5px,#f2ea69 112.5px,#f1ef75 114.5px,#f8fb9a 122.5px,#f1ed71 143.5px,#f5db4c 157.5px,#f9c932 172.5px)"></div><div style="height:1px;background:linear-gradient(90deg,#d44842 0.5px,#d44842 10.5px,#cb4149 19.5px,#e8602d 25.5px,#f68013 36.5px,#fb9b06 40.5px,#fb9b06 41.5px,#fa9008 43.5px,#f47918 47.5px,#ee6a24 51.5px,#f2741c 60.5px,#f98e09 70.5px,#fb9b06 75.5px,#fcb014 83.5px,#fbba1f 93.5px,#f9c72f 103.5px,#f4df53 112.5px,#f2f482 121.5px,#f1f179 127.5px,#f1ed71 129.5px,#f4dd4f 144.5px,#fac62d 165.5px,#fac026 172.5px)"></div><div style="height:1px;background:linear-gradient(90deg,#c83f4b 0.5px,#c83f4b 12.5px,#c13a50 19.5px,#de5238 24.5px,#f1711f 35.5px,#f57b17 37.5px,#fa9207 40.5px,#f98e09 42.5px,#f47918 45.5px,#f1711f 47.5px,#e9612b 52.5px,#f06f20 61.5px,#f98c0a 73.5px,#fb9b06 79.5px,#fca50a 83.5px,#fcb216 97.5px,#fbbc21 103.5px,#f7d13d 112.5px,#f2e865 121.5px,#f2e865 123.5px,#f7d340 141.5px,#fbb61a 172.5px)"></div><div style="height:1px;background:linear-gradient(90deg,#bd3853 0.5px,#bd3853 12.5px,#b73557 16.5px,#bc3754 20.5px,#d04545 23.5px,#db503b 26.5px,#ec6726 35.5px,#f47918 38.5px,#f78410 39.5px,#f98b0b 41.5px,#ed6925 47.5px,#e75e2e 50.5px,#e55c30 53.5px,#ee6a24 62.5px,#f8890c 75.5px,#fb9706 82.5px,#fcaa0f 100.5px,#fbb61a 106.5px,#f5db4c 122.5px,#fac228 148.5px,#fcac11 172.5px)"></div><div style="height:1px;background:linear-gradient(90deg,#b1325a 0.5px,#ae305c 19.5px,#d24644 25.5px,#e8602d 35.5px,#f78212 40.5px,#f78410 41.5px,#eb6628 46.5px,#e35933 50.5px,#e15635 53.5px,#ef6c23 66.5px,#f98e09 81.5px,#fb9906 93.5px,#fca60c 104.5px,#f8cd37 121.5px,#fca50a 172.5px)"></div><div style="height:1px;background:linear-gradient(90deg,#a52c60 0.5px,#a32c61 18.5px,#ab2f5e 20.5px,#c73e4c 24.5px,#e15635 34.5px,#eb6429 37.5px,#f57b17 40.5px,#f57d15 41.5px,#e8602d 46.5px,#dd513a 52.5px,#e75e2e 62.5px,#f8890c 83.5px,#fa9407 95.5px,#fb9706 100.5px,#fca309 106.5px,#fac228 122.5px,#fcaa0f 154.5px,#fc9f07 172.5px)"></div><div style="height:1px;background:linear-gradient(90deg,#9a2865 0.5px,#9b2964 18.5px,#a32c61 20.5px,#bc3754 23.5px,#c43c4e 25.5px,#d94d3d 33.5px,#e75e2e 37.5px,#f3761b 40.5px,#f3761b 41.5px,#e45a31 46.5px,#d94d3d 51.5px,#d94d3d 53.5px,#e8602d 66.5px,#f68013 82.5px,#f98e09 98.5px,#fc9f07 109.5px,#fbb61a 122.5px,#fca309 153.5px,#fb9706 172.5px)"></div><div style="height:1px;background:linear-gradient(90deg,#8f2469 0.5px,#902568 17.5px,#972766 19.5px,#ba3655 24.5px,#d04545 32.5px,#e05536 36.5px,#ee6a24 39.5px,#f1711f 41.5px,#e25734 45.5px,#d74b3f 50.5px,#d54a41 53.5px,#e25734 64.5px,#f3761b 80.5px,#f8890c 101.5px,#fa9207 106.5px,#fc9f07 114.5px,#fcac11 122.5px,#fb9d07 150.5px,#fa9008 172.5px)"></div><div style="height:1px;background:linear-gradient(90deg,#85216b 0.5px,#87216b 17.5px,#8f2469 19.5px,#b3325a 24.5px,#cf4446 33.5px,#db503b 36.5px,#ee6a24 40.5px,#eb6628 42.5px,#de5238 45.5px,#d04545 52.5px,#e25734 67.5px,#f1711f 81.5px,#f68013 100.5px,#fa9407 112.5px,#fca309 121.5px,#fb9706 148.5px,#f98b0b 172.5px)"></div><div style="height:1px;background:linear-gradient(90deg,#7c1d6d 0.5px,#7f1e6c 17.5px,#82206c 18.5px,#ab2f5e 24.5px,#b93556 29.5px,#ce4347 34.5px,#d74b3f 36.5px,#eb6429 40.5px,#e8602d 42.5px,#d94d3d 45.5px,#cc4248 52.5px,#da4e3c 64.5px,#ef6c23 83.5px,#f47918 100.5px,#fa9008 114.5px,#fb9b06 121.5px,#fa9207 145.5px,#f78410 172.5px)"></div><div style="height:1px;background:linear-gradient(90deg,#71196e 0.5px,#741a6e 16.5px,#801f6c 19.5px,#a02a63 23.5px,#b63458 30.5px,#d24644 36.5px,#e75e2e 40.5px,#e45a31 42.5px,#d94d3d 44.5px,#d24644 46.5px,#c83f4b 52.5px,#db503b 68.5px,#eb6628 83.5px,#f2741c 101.5px,#fa9407 121.5px,#f67e14 172.5px)"></div><div style="height:1px;background:linear-gradient(90deg,#69166e 0.5px,#6c186e 16.5px,#801f6c 20.5px,#a02a63 24.5px,#b0315b 30.5px,#cc4248 36.5px,#e35933 40.5px,#e05536 42.5px,#d04545 45.5px,#c63d4d 53.5px,#d84c3e 68.5px,#e75e2e 81.5px,#f06f20 101.5px,#f98e09 121.5px,#f57b17 172.5px)"></div><div style="height:1px;background:linear-gradient(90deg,#61136e 0.5px,#62146e 15.5px,#6d186e 18.5px,#7a1d6d 20.5px,#952667 23.5px,#a92e5e 30.5px,#c13a50 35.5px,#da4e3c 39.5px,#df5337 41.5px,#cc4248 45.5px,#c13a50 52.5px,#d04545 65.5px,#e55c30 83.5px,#ee6a24 101.5px,#f8890c 121.5px,#f57d15 146.5px,#f37819 172.5px)"></div><div style="height:1px;background:linear-gradient(90deg,#59106e 0.5px,#59106e 13.5px,#61136e 17.5px,#6c186e 19.5px,#952667 24.5px,#a22b62 29.5px,#b3325a 33.5px,#c73e4c 37.5px,#d94d3d 40.5px,#d94d3d 41.5px,#cb4149 44.5px,#c33b4f 47.5px,#bf3952 53.5px,#cf4446 67.5px,#e25734 82.5px,#eb6628 101.5px,#f8850f 122.5px,#f47918 142.5px,#f1731d 172.5px)"></div><div style="height:1px;background:linear-gradient(90deg,#520e6d 0.5px,#550f6d 16.5px,#5f136e 18.5px,#902568 24.5px,#a92e5e 32.5px,#bc3754 36.5px,#cf4446 39.5px,#d44842 41.5px,#c03a51 46.5px,#ba3655 53.5px,#cc4248 68.5px,#e05536 83.5px,#e9612b 101.5px,#f68013 121.5px,#f2741c 145.5px,#f06f20 172.5px)"></div><div style="height:1px;background:linear-gradient(90deg,#4c0c6b 0.5px,#4f0d6c 16.5px,#520e6d 17.5px,#6a176e 20.5px,#8c2369 24.5px,#b1325a 35.5px,#c83f4b 39.5px,#ce4347 41.5px,#bd3853 45.5px,#b63458 52.5px,#c73e4c 67.5px,#dd513a 82.5px,#e65d2f 101.5px,#f57d15 121.5px,#f1711f 143.5px,#ef6c23 172.5px)"></div><div style="height:1px;background:linear-gradient(90deg,#440a68 0.5px,#450a69 15.5px,#540f6d 18.5px,#87216b 24.5px,#a82e5f 34.5px,#c63d4d 40.5px,#b63458 47.5px,#b3325a 53.5px,#c03a51 65.5px,#d94d3d 81.5px,#e45a31 102.5px,#f47918 122.5px,#ef6e21 141.5px,#ed6925 172.5px)"></div><div style="height:1px;background:linear-gradient(90deg,#3d0965 0.5px,#3e0966 15.5px,#470b6a 17.5px,#62146e 20.5px,#82206c 24.5px,#a82e5f 35.5px,#bf3952 41.5px,#b1325a 47.5px,#b0315b 54.5px,#ba3655 64.5px,#d84c3e 83.5px,#e05536 100.5px,#f2741c 122.5px,#ed6925 145.5px,#eb6628 172.5px)"></div><div style="height:1px;background:linear-gradient(90deg,#360961 0.5px,#390963 15.5px,#420a68 17.5px,#5f136e 20.5px,#7f1e6c 24.5px,#b63458 40.5px,#ad305d 48.5px,#ad305d 54.5px,#b3325a 62.5px,#d44842 82.5px,#de5238 101.5px,#ef6e21 121.5px,#eb6628 142.5px,#ea632a 172.5px)"></div><div style="height:1px;background:linear-gradient(90deg,#2f0a5b 0.5px,#2f0a5b 12.5px,#340a5f 15.5px,#3e0966 17.5px,#5a116e 20.5px,#771c6d 23.5px,#82206c 25.5px,#b0315b 41.5px,#a92e5e 45.5px,#ad305d 60.5px,#d24644 82.5px,#db503b 102.5px,#ed6925 121.5px,#e8602d 172.5px)"></div><div style="height:1px;background:linear-gradient(90deg,#280b53 0.5px,#280b53 12.5px,#2b0b57 14.5px,#390963 17.5px,#57106e 20.5px,#7c1d6d 24.5px,#a92e5e 40.5px,#a52c60 50.5px,#ab2f5e 62.5px,#cf4446 83.5px,#da4e3c 104.5px,#ea632a 121.5px,#e55c30 172.5px)"></div><div style="height:1px;background:linear-gradient(90deg,#1f0c48 0.5px,#230c4c 13.5px,#340a5f 17.5px,#540f6d 20.5px,#7a1d6d 24.5px,#a52c60 41.5px,#a02a63 46.5px,#a62d60 61.5px,#cb4149 82.5px,#d54a41 102.5px,#e75e2e 122.5px,#e35933 172.5px)"></div><div style="height:1px;background:linear-gradient(90deg,#190c3e 0.5px,#1b0c41 12.5px,#230c4c 15.5px,#280b53 16.5px,#450a69 19.5px,#5c126e 21.5px,#781c6d 24.5px,#a02a63 41.5px,#9b2964 45.5px,#a52c60 62.5px,#c83f4b 82.5px,#d34743 103.5px,#e35933 121.5px,#e25734 172.5px)"></div><div style="height:1px;background:linear-gradient(90deg,#140b34 0.5px,#150b37 12.5px,#1e0c45 15.5px,#2b0b57 17.5px,#420a68 19.5px,#65156e 22.5px,#771c6d 24.5px,#9b2964 41.5px,#982766 47.5px,#a22b62 62.5px,#c63d4d 82.5px,#cf4446 102.5px,#e05536 121.5px,#e05536 172.5px)"></div><div style="height:1px;background:linear-gradient(90deg,#0d0829 0.5px,#0e092b 10.5px,#10092d 12.5px,#150b37 14.5px,#280b53 17.5px,#4a0c6b 20.5px,#751b6e 24.5px,#801f6c 28.5px,#972766 41.5px,#932667 45.5px,#9f2a63 62.5px,#c33b4f 82.5px,#ce4347 104.5px,#dd513a 122.5px,#de5238 172.5px)"></div><div style="height:1px;background:linear-gradient(90deg,#09061f 0.5px,#0a0722 9.5px,#0d0829 13.5px,#150b37 15.5px,#230c4c 17.5px,#390963 19.5px,#540f6d 21.5px,#741a6e 24.5px,#7a1d6d 26.5px,#922568 41.5px,#9a2865 60.5px,#c03a51 82.5px,#ca404a 102.5px,#d94d3d 122.5px,#db503b 172.5px)"></div><div style="height:1px;background:linear-gradient(90deg,#050417 0.5px,#07051b 11.5px,#0d0829 14.5px,#1f0c48 17.5px,#360961 19.5px,#510e6c 21.5px,#6a176e 23.5px,#721a6e 24.5px,#84206b 32.5px,#8f2469 41.5px,#982766 61.5px,#bd3853 82.5px,#d54a41 123.5px,#da4e3c 172.5px)"></div><div style="height:1px;background:linear-gradient(90deg,#040312 0.5px,#050417 11.5px,#0b0724 14.5px,#150b37 16.5px,#1e0c45 17.5px,#420a68 20.5px,#69166e 23.5px,#71196e 24.5px,#801f6c 30.5px,#922568 50.5px,#952667 61.5px,#bc3754 84.5px,#d74b3f 137.5px,#d84c3e 172.5px)"></div><div style="height:1px;background:linear-gradient(90deg,#030210 0.5px,#050417 12.5px,#0e092b 15.5px,#260c51 18.5px,#400a67 20.5px,#67166e 23.5px,#741a6e 25.5px,#7f1e6c 30.5px,#902568 51.5px,#922568 61.5px,#b93556 84.5px,#d54a41 140.5px,#d54a41 172.5px)"></div><div style="height:1px;background:linear-gradient(90deg,#030210 0.5px,#040314 11.5px,#0a0722 14.5px,#1c0c43 17.5px,#400a67 20.5px,#65156e 23.5px,#721a6e 25.5px,#7f1e6c 31.5px,#8f2469 52.5px,#8f2469 61.5px,#b63458 84.5px,#d34743 140.5px,#d34743 172.5px)"></div><div style="height:1px;background:linear-gradient(90deg,#030210 0.5px,#040314 11.5px,#0a0722 14.5px,#140b34 16.5px,#320a5e 19.5px,#4c0c6b 21.5px,#64156e 23.5px,#71196e 25.5px,#7d1e6d 31.5px,#8c2369 50.5px,#8c2369 61.5px,#b3325a 84.5px,#d24644 142.5px,#d24644 172.5px)"></div><div style="height:1px;background:linear-gradient(90deg,#030210 0.5px,#040314 11.5px,#0a0722 14.5px,#140b34 16.5px,#320a5e 19.5px,#4c0c6b 21.5px,#64156e 23.5px,#721a6e 26.5px,#7c1d6d 31.5px,#8a226a 51.5px,#8a226a 62.5px,#ad305d 81.5px,#bc3754 100.5px,#c33b4f 122.5px,#cf4446 141.5px,#cf4446 172.5px)"></div><div style="height:1px;background:linear-gradient(90deg,#030210 0.5px,#040314 11.5px,#0a0722 14.5px,#1b0c41 17.5px,#320a5e 19.5px,#4c0c6b 21.5px,#62146e 23.5px,#6a176e 24.5px,#741a6e 27.5px,#7a1d6d 31.5px,#88226a 52.5px,#87216b 61.5px,#ab2f5e 82.5px,#ba3655 101.5px,#bf3952 119.5px,#cc4248 140.5px,#cc4248 172.5px)"></div><div style="height:1px;background:linear-gradient(90deg,#030210 0.5px,#040314 11.5px,#0a0722 14.5px,#1b0c41 17.5px,#260c51 18.5px,#3e0966 20.5px,#62146e 23.5px,#6d186e 25.5px,#771c6d 29.5px,#85216b 50.5px,#87216b 63.5px,#a82e5f 82.5px,#b73557 100.5px,#bc3754 119.5px,#cb4149 143.5px,#cb4149 172.5px)"></div><div style="height:1px;background:linear-gradient(90deg,#030210 0.5px,#040314 11.5px,#0a0722 14.5px,#1b0c41 17.5px,#3e0966 20.5px,#62146e 23.5px,#6d186e 25.5px,#771c6d 30.5px,#84206b 51.5px,#84206b 62.5px,#a62d60 83.5px,#b63458 101.5px,#ba3655 121.5px,#c83f4b 141.5px,#c83f4b 172.5px)"></div><div style="height:1px;background:linear-gradient(90deg,#030210 0.5px,#040314 11.5px,#0a0722 14.5px,#1b0c41 17.5px,#310a5c 19.5px,#3d0965 20.5px,#61136e 23.5px,#69166e 24.5px,#6f196e 26.5px,#751b6e 30.5px,#82206c 51.5px,#82206c 62.5px,#a22b62 81.5px,#b43359 102.5px,#b93556 122.5px,#c63d4d 141.5px,#c73e4c 172.5px)"></div><div style="height:1px;background:linear-gradient(90deg,#030210 0.5px,#040314 11.5px,#0a0722 14.5px,#1b0c41 17.5px,#310a5c 19.5px,#3d0965 20.5px,#61136e 23.5px,#6c186e 25.5px,#741a6e 30.5px,#801f6c 52.5px,#801f6c 62.5px,#a02a63 82.5px,#b3325a 103.5px,#b73557 122.5px,#c43c4e 144.5px,#c43c4e 172.5px)"></div><div style="height:1px;background:linear-gradient(90deg,#030210 0.5px,#040314 11.5px,#07051b 13.5px,#0d0829 15.5px,#1b0c41 17.5px,#310a5c 19.5px,#3d0965 20.5px,#61136e 23.5px,#6c186e 25.5px,#721a6e 29.5px,#7f1e6c 52.5px,#7f1e6c 62.5px,#9f2a63 83.5px,#b0315b 101.5px,#b63458 122.5px,#c13a50 141.5px,#c33b4f 172.5px)"></div><div style="height:1px;background:linear-gradient(90deg,#030210 0.5px,#040314 11.5px,#07051b 13.5px,#0d0829 15.5px,#1b0c41 17.5px,#310a5c 19.5px,#3d0965 20.5px,#61136e 23.5px,#6c186e 25.5px,#721a6e 29.5px,#7d1e6d 62.5px,#9a2865 81.5px,#ae305c 102.5px,#bf3952 140.5px,#c03a51 172.5px)"></div><div style="height:1px;background:linear-gradient(90deg,#030210 0.5px,#040314 11.5px,#07051b 13.5px,#0d0829 15.5px,#1b0c41 17.5px,#3d0965 20.5px,#61136e 23.5px,#6c186e 25.5px,#71196e 28.5px,#7c1d6d 62.5px,#982766 82.5px,#ad305d 103.5px,#bd3853 143.5px,#bf3952 172.5px)"></div><div style="height:1px;background:linear-gradient(90deg,#030210 0.5px,#040312 10.5px,#07051b 13.5px,#0d0829 15.5px,#190c3e 17.5px,#240c4f 18.5px,#3d0965 20.5px,#61136e 23.5px,#6d186e 26.5px,#721a6e 30.5px,#721a6e 45.5px,#7a1d6d 54.5px,#7a1d6d 62.5px,#972766 83.5px,#ab2f5e 104.5px,#ba3655 140.5px,#bd3853 172.5px)"></div><div style="height:1px;background:linear-gradient(90deg,#030210 0.5px,#040312 10.5px,#060419 13.5px,#09061f 14.5px,#190c3e 17.5px,#2f0a5b 19.5px,#3b0964 20.5px,#61136e 23.5px,#6a176e 25.5px,#71196e 29.5px,#71196e 45.5px,#771c6d 51.5px,#781c6d 62.5px,#a82e5f 102.5px,#b93556 140.5px,#ba3655 172.5px)"></div><div style="height:1px;background:linear-gradient(90deg,#02020e 0.5px,#040314 12.5px,#09061f 14.5px,#190c3e 17.5px,#2f0a5b 19.5px,#3b0964 20.5px,#5f136e 23.5px,#6a176e 25.5px,#71196e 29.5px,#6f196e 45.5px,#751b6e 51.5px,#751b6e 60.5px,#a62d60 103.5px,#b73557 140.5px,#b93556 172.5px)"></div><div style="height:1px;background:linear-gradient(90deg,#02020e 0.5px,#040314 12.5px,#09061f 14.5px,#190c3e 17.5px,#2f0a5b 19.5px,#3b0964 20.5px,#5f136e 23.5px,#6a176e 25.5px,#71196e 29.5px,#6f196e 46.5px,#741a6e 50.5px,#741a6e 60.5px,#a52c60 104.5px,#b63458 139.5px,#b73557 172.5px)"></div><div style="height:1px;background:linear-gradient(90deg,#02020e 0.5px,#040314 12.5px,#09061f 14.5px,#190c3e 17.5px,#2f0a5b 19.5px,#3b0964 20.5px,#5f136e 23.5px,#6a176e 25.5px,#71196e 29.5px,#6d186e 43.5px,#721a6e 60.5px,#a22b62 102.5px,#b43359 139.5px,#b43359 172.5px)"></div><div style="height:1px;background:linear-gradient(90deg,#02020e 0.5px,#040314 12.5px,#09061f 14.5px,#190c3e 17.5px,#2f0a5b 19.5px,#3b0964 20.5px,#5f136e 23.5px,#6a176e 25.5px,#71196e 30.5px,#6d186e 45.5px,#721a6e 63.5px,#9f2a63 101.5px,#a62d60 114.5px,#b3325a 139.5px,#b3325a 172.5px)"></div><div style="height:1px;background:linear-gradient(90deg,#02020e 0.5px,#040312 11.5px,#09061f 14.5px,#190c3e 17.5px,#3b0964 20.5px,#5f136e 23.5px,#6a176e 25.5px,#71196e 30.5px,#6d186e 41.5px,#71196e 63.5px,#9b2964 100.5px,#a52c60 114.5px,#b3325a 142.5px,#b1325a 172.5px)"></div><div style="height:1px;background:linear-gradient(90deg,#02020e 0.5px,#040312 11.5px,#09061f 14.5px,#190c3e 17.5px,#390963 20.5px,#5f136e 23.5px,#6c186e 26.5px,#6f196e 29.5px,#6f196e 62.5px,#9a2865 100.5px,#a62d60 119.5px,#b1325a 142.5px,#b0315b 172.5px)"></div><div style="height:1px;background:linear-gradient(90deg,#02020e 0.5px,#040312 11.5px,#060419 13.5px,#0c0826 15.5px,#180c3c 17.5px,#390963 20.5px,#5f136e 23.5px,#69166e 25.5px,#6f196e 29.5px,#6d186e 62.5px,#982766 100.5px,#a82e5f 123.5px,#b0315b 141.5px,#ae305c 172.5px)"></div><div style="height:2px;background:linear-gradient(90deg,#02020e 0.5px,#040312 11.5px,#060419 13.5px,#0c0826 15.5px,#180c3c 17.5px,#390963 20.5px,#5d126e 23.5px,#69166e 25.5px,#6f196e 29.5px,#6b176e 61.5px,#992865 103.5px,#a52c60 120.5px,#ad305c 140.5px,#ac2f5d 172.5px)"></div><div style="height:2px;background:linear-gradient(90deg,#02020e 0.5px,#040312 11.5px,#060419 13.5px,#0c0826 15.5px,#180c3c 17.5px,#390963 20.5px,#5d126e 23.5px,#69166e 25.5px,#6f196e 30.5px,#69176e 62.5px,#942667 101.5px,#a52c60 122.5px,#aa2f5e 139.5px,#a92e5f 172.5px)"></div><div style="height:1px;background:linear-gradient(90deg,#02020e 0.5px,#040312 11.5px,#060419 13.5px,#0c0826 15.5px,#180c3c 17.5px,#390963 20.5px,#5d126e 23.5px,#69166e 25.5px,#6f196e 30.5px,#67166e 61.5px,#932667 102.5px,#a52c60 124.5px,#a62d60 172.5px)"></div><div style="height:1px;background:linear-gradient(90deg,#02020e 0.5px,#040312 11.5px,#08051d 14.5px,#180c3c 17.5px,#380962 20.5px,#450a69 21.5px,#5d126e 23.5px,#69166e 25.5px,#6d186e 29.5px,#67166e 62.5px,#902568 100.5px,#a32c61 122.5px,#a52c60 172.5px)"></div><div style="height:1px;background:linear-gradient(90deg,#02020e 0.5px,#040312 11.5px,#08051d 14.5px,#1f0c48 18.5px,#380962 20.5px,#450a69 21.5px,#5d126e 23.5px,#6a176e 26.5px,#6d186e 29.5px,#67166e 62.5px,#84206b 91.5px,#a32c61 124.5px,#a52c60 172.5px)"></div><div style="height:2px;background:linear-gradient(90deg,#02020e 0.5px,#040312 11.5px,#08051d 14.5px,#160b39 17.5px,#380962 20.5px,#450a69 21.5px,#5d126e 23.5px,#67166e 25.5px,#6d186e 29.5px,#67166e 62.5px,#811f6c 90.5px,#a12b62 121.5px,#a22b62 172.5px)"></div><div style="height:1px;background:linear-gradient(90deg,#02020e 0.5px,#030210 10.5px,#050417 13.5px,#08051d 14.5px,#160b39 17.5px,#380962 20.5px,#450a69 21.5px,#5c126e 23.5px,#67166e 25.5px,#6d186e 29.5px,#67166e 62.5px,#781c6d 84.5px,#a02a63 121.5px,#a32c61 137.5px,#a02a63 172.5px)"></div><div style="height:2px;background:linear-gradient(90deg,#02020d 0.5px,#040312 12.5px,#0b0724 15.5px,#160b39 17.5px,#370961 20.5px,#5c126e 23.5px,#67166e 25.5px,#6d186e 30.5px,#67166e 63.5px,#791c6d 86.5px,#a12b62 122.5px,#a32c61 141.5px,#9e2a63 172.5px)"></div><div style="height:1px;background:linear-gradient(90deg,#02020c 0.5px,#040312 12.5px,#0b0724 15.5px,#160b39 17.5px,#360961 20.5px,#440a68 21.5px,#5c126e 23.5px,#67166e 25.5px,#6c186e 29.5px,#67166e 63.5px,#71196e 77.5px,#87216b 100.5px,#a32c61 121.5px,#9d2964 172.5px)"></div><div style="height:1px;background:linear-gradient(90deg,#02020c 0.5px,#040312 12.5px,#0b0724 15.5px,#1e0c45 18.5px,#360961 20.5px,#440a68 21.5px,#5c126e 23.5px,#69166e 26.5px,#6c186e 29.5px,#67166e 63.5px,#87216b 99.5px,#a62d60 121.5px,#9b2964 172.5px)"></div><div style="height:1px;background:linear-gradient(90deg,#02020c 0.5px,#030210 11.5px,#050417 13.5px,#0b0724 15.5px,#1e0c45 18.5px,#360961 20.5px,#440a68 21.5px,#5c126e 23.5px,#65156e 25.5px,#6c186e 29.5px,#67166e 62.5px,#8d2369 102.5px,#a92e5e 121.5px,#9b2964 172.5px)"></div><div style="height:1px;background:linear-gradient(90deg,#02020c 0.5px,#030210 11.5px,#050417 13.5px,#0b0724 15.5px,#150b37 17.5px,#360961 20.5px,#510e6c 22.5px,#62146e 24.5px,#6c186e 29.5px,#67166e 62.5px,#8d2369 99.5px,#ad305d 122.5px,#a02a63 144.5px,#9b2964 172.5px)"></div><div style="height:1px;background:linear-gradient(90deg,#02020c 0.5px,#030210 11.5px,#050417 13.5px,#0b0724 15.5px,#150b37 17.5px,#280b53 19.5px,#360961 20.5px,#4f0d6c 22.5px,#62146e 24.5px,#6c186e 29.5px,#67166e 62.5px,#82206c 82.5px,#922568 100.5px,#b0315b 122.5px,#a02a63 143.5px,#9a2865 172.5px)"></div><div style="height:1px;background:linear-gradient(90deg,#02020c 0.5px,#030210 11.5px,#050417 13.5px,#0b0724 15.5px,#150b37 17.5px,#1e0c45 18.5px,#420a68 21.5px,#62146e 24.5px,#6c186e 30.5px,#69166e 62.5px,#84206b 80.5px,#972766 101.5px,#b1325a 120.5px,#a02a63 143.5px,#9a2865 172.5px)"></div><div style="height:1px;background:linear-gradient(90deg,#02020c 0.5px,#030210 11.5px,#07051b 14.5px,#0e092b 16.5px,#280b53 19.5px,#420a68 21.5px,#62146e 24.5px,#6c186e 30.5px,#69166e 40.5px,#6c186e 63.5px,#8a226a 82.5px,#9b2964 102.5px,#b43359 120.5px,#a02a63 142.5px,#9a2865 172.5px)"></div><div style="height:1px;background:linear-gradient(90deg,#02020c 0.5px,#030210 11.5px,#07051b 14.5px,#0e092b 16.5px,#1e0c45 18.5px,#420a68 21.5px,#5a116e 23.5px,#65156e 25.5px,#6a176e 29.5px,#67166e 44.5px,#6f196e 62.5px,#8c2369 80.5px,#a02a63 103.5px,#b73557 120.5px,#b73557 123.5px,#a02a63 142.5px,#982766 172.5px)"></div><div style="height:1px;background:linear-gradient(90deg,#02020c 0.5px,#030210 11.5px,#07051b 14.5px,#0e092b 16.5px,#1c0c43 18.5px,#340a5f 20.5px,#420a68 21.5px,#5a116e 23.5px,#65156e 25.5px,#6a176e 29.5px,#67166e 44.5px,#721a6e 61.5px,#922568 82.5px,#a22b62 101.5px,#ba3655 120.5px,#b93556 124.5px,#a02a63 142.5px,#982766 172.5px)"></div><div style="height:1px;background:linear-gradient(90deg,#02020c 0.5px,#030210 11.5px,#0a0722 15.5px,#1c0c43 18.5px,#340a5f 20.5px,#420a68 21.5px,#5a116e 23.5px,#67166e 26.5px,#6a176e 29.5px,#67166e 45.5px,#7f1e6c 67.5px,#932667 80.5px,#a52c60 101.5px,#bd3853 121.5px,#9f2a63 144.5px,#982766 172.5px)"></div><div style="height:1px;background:linear-gradient(90deg,#02020c 0.5px,#030210 11.5px,#040314 13.5px,#0a0722 15.5px,#1c0c43 18.5px,#340a5f 20.5px,#420a68 21.5px,#5a116e 23.5px,#64156e 25.5px,#6a176e 29.5px,#67166e 45.5px,#82206c 67.5px,#9a2865 83.5px,#a62d60 100.5px,#bf3952 120.5px,#a02a63 141.5px,#982766 172.5px)"></div></div>
<div class="hm" style="left:33px;top:249px;width:173px;height:168px;"><div style="height:2px;background:linear-gradient(90deg,#57106e 0.5px,#5c126e 20.5px,#65156e 21.5px,#932567 23.5px,#a32c61 24.5px,#a92e5e 25.5px,#cc4248 49.5px,#ce4447 88.5px,#ea632a 146.5px,#ea632a 172.5px)"></div><div style="height:2px;background:linear-gradient(90deg,#57106e 0.5px,#5d126e 20.5px,#67166e 21.5px,#942667 23.5px,#a42c61 24.5px,#ab2f5e 25.5px,#cd4248 48.5px,#d04545 87.5px,#eb6429 147.5px,#eb6429 172.5px)"></div><div style="height:2px;background:linear-gradient(90deg,#59106e 0.5px,#5d126e 20.5px,#68166e 21.5px,#962766 23.5px,#a62d60 24.5px,#ad305c 25.5px,#d04545 49.5px,#d24743 88.5px,#eb6528 147.5px,#eb6628 172.5px)"></div><div style="height:2px;background:linear-gradient(90deg,#59106e 0.5px,#5f136e 20.5px,#69166e 21.5px,#972766 23.5px,#a82e5f 24.5px,#af315c 25.5px,#d14644 49.5px,#d44842 86.5px,#eb6628 146.5px,#ec6726 172.5px)"></div><div style="height:2px;background:linear-gradient(90deg,#5a116e 0.5px,#60136e 20.5px,#69176e 21.5px,#992865 23.5px,#a92e5e 24.5px,#b0315b 25.5px,#d34743 49.5px,#d64a40 88.5px,#ec6726 147.5px,#ed6925 172.5px)"></div><div style="height:2px;background:linear-gradient(90deg,#5a116e 0.5px,#61136e 20.5px,#6a176e 21.5px,#9b2865 23.5px,#ac2f5d 24.5px,#b2325a 25.5px,#d44842 49.5px,#d74b3f 85.5px,#ed6826 147.5px,#ee6a24 172.5px)"></div><div style="height:2px;background:linear-gradient(90deg,#5c126e 0.5px,#61146e 20.5px,#6c186e 21.5px,#9c2964 23.5px,#ad305c 24.5px,#b43359 25.5px,#c63d4d 39.5px,#d64a40 49.5px,#da4e3d 87.5px,#ed6925 146.5px,#ef6c23 172.5px)"></div><div style="height:2px;background:linear-gradient(90deg,#5c126e 0.5px,#62146e 20.5px,#6d186e 21.5px,#9e2a63 23.5px,#af315c 24.5px,#b63458 25.5px,#c43c4f 37.5px,#d74b3f 49.5px,#dc503a 88.5px,#ee6a24 147.5px,#ef6e21 172.5px)"></div><div style="height:1px;background:linear-gradient(90deg,#5d126e 0.5px,#62146e 20.5px,#6d186e 21.5px,#9f2a63 23.5px,#b1325a 24.5px,#b73557 25.5px,#c63d4d 38.5px,#d94d3d 50.5px,#de5238 88.5px,#ef6c23 147.5px,#f06f20 172.5px)"></div><div style="height:1px;background:linear-gradient(90deg,#5d126e 0.5px,#61136e 19.5px,#64156e 20.5px,#6d186e 21.5px,#a02a63 23.5px,#b1325a 24.5px,#b93556 25.5px,#ca404a 40.5px,#da4e3c 50.5px,#df5337 87.5px,#ef6c23 144.5px,#f1711f 172.5px)"></div><div style="height:1px;background:linear-gradient(90deg,#5d126e 0.5px,#61136e 19.5px,#64156e 20.5px,#6f196e 21.5px,#a02a63 23.5px,#b3325a 24.5px,#b93556 25.5px,#c73e4c 38.5px,#da4e3c 49.5px,#e05536 86.5px,#ef6e21 145.5px,#f1731d 172.5px)"></div><div style="height:1px;background:linear-gradient(90deg,#5d126e 0.5px,#64156e 20.5px,#6f196e 21.5px,#a22b62 23.5px,#b3325a 24.5px,#ba3655 25.5px,#c63d4d 37.5px,#db503b 50.5px,#df5337 76.5px,#f06f20 145.5px,#f2741c 172.5px)"></div><div style="height:1px;background:linear-gradient(90deg,#5f136e 0.5px,#64156e 20.5px,#6f196e 21.5px,#a22b62 23.5px,#b43359 24.5px,#ba3655 25.5px,#ca404a 39.5px,#dd513a 50.5px,#de5238 68.5px,#f1711f 146.5px,#f2741c 172.5px)"></div><div style="height:1px;background:linear-gradient(90deg,#5f136e 0.5px,#62146e 19.5px,#65156e 20.5px,#71196e 21.5px,#a32c61 23.5px,#b43359 24.5px,#bc3754 25.5px,#c73e4c 37.5px,#dd513a 50.5px,#e9612b 108.5px,#f1731d 146.5px,#f3761b 172.5px)"></div><div style="height:1px;background:linear-gradient(90deg,#5f136e 0.5px,#65156e 20.5px,#71196e 21.5px,#a52c60 23.5px,#b63458 24.5px,#bd3853 25.5px,#cb4149 39.5px,#de5238 50.5px,#de5238 62.5px,#f2741c 147.5px,#f37819 172.5px)"></div><div style="height:1px;background:linear-gradient(90deg,#61136e 0.5px,#65156e 20.5px,#71196e 21.5px,#a52c60 23.5px,#b73557 24.5px,#bd3853 25.5px,#c83f4b 37.5px,#de5238 49.5px,#df5337 62.5px,#f3761b 148.5px,#f47918 172.5px)"></div><div style="height:1px;background:linear-gradient(90deg,#61136e 0.5px,#64156e 19.5px,#67166e 20.5px,#721a6e 21.5px,#a62d60 23.5px,#b73557 24.5px,#bf3952 25.5px,#cb4149 38.5px,#df5337 50.5px,#e05536 63.5px,#e9612b 87.5px,#f37819 149.5px,#f57b17 172.5px)"></div><div style="height:1px;background:linear-gradient(90deg,#61136e 0.5px,#67166e 20.5px,#721a6e 21.5px,#a62d60 23.5px,#b93556 24.5px,#bf3952 25.5px,#ca404a 37.5px,#e05536 50.5px,#e05536 60.5px,#eb6429 89.5px,#f37819 144.5px,#f57d15 172.5px)"></div><div style="height:1px;background:linear-gradient(90deg,#62146e 0.5px,#65156e 19.5px,#69166e 20.5px,#741a6e 21.5px,#a82e5f 23.5px,#b93556 24.5px,#c03a51 25.5px,#cc4248 38.5px,#e05536 49.5px,#e15635 61.5px,#ec6726 92.5px,#f67e14 172.5px)"></div><div style="height:1px;background:linear-gradient(90deg,#62146e 0.5px,#69166e 20.5px,#741a6e 21.5px,#a82e5f 23.5px,#ba3655 24.5px,#c13a50 25.5px,#cb4149 37.5px,#e15635 50.5px,#e25734 62.5px,#ec6726 86.5px,#f57b17 145.5px,#f67e14 172.5px)"></div><div style="height:1px;background:linear-gradient(90deg,#64156e 0.5px,#69166e 20.5px,#741a6e 21.5px,#a92e5e 23.5px,#bc3754 24.5px,#c13a50 25.5px,#ce4347 38.5px,#e25734 50.5px,#e45a31 65.5px,#ee6a24 89.5px,#f57d15 146.5px,#f68013 172.5px)"></div><div style="height:1px;background:linear-gradient(90deg,#64156e 0.5px,#67166e 19.5px,#6a176e 20.5px,#751b6e 21.5px,#a92e5e 23.5px,#bc3754 24.5px,#c33b4f 25.5px,#cc4248 37.5px,#e25734 49.5px,#e45a31 63.5px,#ef6c23 87.5px,#f78212 172.5px)"></div><div style="height:1px;background:linear-gradient(90deg,#64156e 0.5px,#6a176e 20.5px,#751b6e 21.5px,#ab2f5e 23.5px,#bd3853 24.5px,#c43c4e 25.5px,#cf4446 38.5px,#e35933 50.5px,#e45a31 61.5px,#f06f20 90.5px,#f78410 172.5px)"></div><div style="height:1px;background:linear-gradient(90deg,#65156e 0.5px,#69166e 19.5px,#6c186e 20.5px,#771c6d 21.5px,#ad305d 23.5px,#bf3952 24.5px,#c43c4e 25.5px,#d24644 39.5px,#e45a31 50.5px,#e65d2f 64.5px,#f1711f 87.5px,#f8850f 172.5px)"></div><div style="height:1px;background:linear-gradient(90deg,#65156e 0.5px,#69166e 19.5px,#6c186e 20.5px,#771c6d 21.5px,#ad305d 23.5px,#bf3952 24.5px,#c63d4d 25.5px,#d04545 38.5px,#e55c30 51.5px,#e65d2f 62.5px,#f2741c 89.5px,#f8890c 172.5px)"></div><div style="height:1px;background:linear-gradient(90deg,#67166e 0.5px,#6c186e 20.5px,#781c6d 21.5px,#902568 22.5px,#ae305c 23.5px,#c03a51 24.5px,#c63d4d 25.5px,#d34743 39.5px,#e55c30 50.5px,#e75e2e 62.5px,#f37819 91.5px,#f98c0a 172.5px)"></div><div style="height:1px;background:linear-gradient(90deg,#67166e 0.5px,#6a176e 19.5px,#6d186e 20.5px,#781c6d 21.5px,#ae305c 23.5px,#c03a51 24.5px,#c73e4c 25.5px,#d24644 38.5px,#e65d2f 50.5px,#e8602d 63.5px,#f47918 87.5px,#fa9008 172.5px)"></div><div style="height:1px;background:linear-gradient(90deg,#67166e 0.5px,#6d186e 20.5px,#781c6d 21.5px,#922568 22.5px,#b0315b 23.5px,#c13a50 24.5px,#c83f4b 25.5px,#d44842 39.5px,#e75e2e 51.5px,#e9612b 63.5px,#f57d15 88.5px,#fa9207 172.5px)"></div><div style="height:1px;background:linear-gradient(90deg,#69166e 0.5px,#6c186e 19.5px,#6f196e 20.5px,#7a1d6d 21.5px,#b0315b 23.5px,#c33b4f 24.5px,#c83f4b 25.5px,#d34743 38.5px,#e75e2e 50.5px,#e9612b 62.5px,#f68013 90.5px,#fb9606 172.5px)"></div><div style="height:1px;background:linear-gradient(90deg,#69166e 0.5px,#6c186e 19.5px,#6f196e 20.5px,#7a1d6d 21.5px,#932667 22.5px,#b1325a 23.5px,#c33b4f 24.5px,#ca404a 25.5px,#d54a41 39.5px,#e75e2e 49.5px,#ea632a 62.5px,#f78212 87.5px,#f98c0a 118.5px,#fb9906 172.5px)"></div><div style="height:1px;background:linear-gradient(90deg,#69166e 0.5px,#6f196e 20.5px,#7c1d6d 21.5px,#952667 22.5px,#b3325a 23.5px,#c43c4e 24.5px,#cb4149 25.5px,#d34743 37.5px,#e9612b 51.5px,#eb6429 62.5px,#f8850f 88.5px,#fa9008 120.5px,#fb9d07 172.5px)"></div><div style="height:1px;background:linear-gradient(90deg,#6a176e 0.5px,#6d186e 19.5px,#71196e 20.5px,#7c1d6d 21.5px,#952667 22.5px,#b3325a 23.5px,#c43c4e 24.5px,#cb4149 25.5px,#d54a41 38.5px,#e9612b 50.5px,#eb6429 61.5px,#f8890c 89.5px,#fa9407 122.5px,#fb9606 142.5px,#fca108 172.5px)"></div><div style="height:1px;background:linear-gradient(90deg,#6c186e 0.5px,#71196e 20.5px,#7d1e6d 21.5px,#972766 22.5px,#b43359 23.5px,#c63d4d 24.5px,#cc4248 25.5px,#d44842 37.5px,#ea632a 50.5px,#eb6628 61.5px,#f98c0a 90.5px,#fb9606 115.5px,#fb9906 144.5px,#fca50a 172.5px)"></div><div style="height:1px;background:linear-gradient(90deg,#6d186e 0.5px,#71196e 19.5px,#741a6e 20.5px,#7f1e6c 21.5px,#982766 22.5px,#b63458 23.5px,#c73e4c 24.5px,#ce4347 25.5px,#d54a41 37.5px,#eb6628 51.5px,#ee6a24 63.5px,#f8890c 83.5px,#fa9008 91.5px,#fb9906 114.5px,#fb9d07 141.5px,#fca80d 172.5px)"></div><div style="height:1px;background:linear-gradient(90deg,#71196e 0.5px,#751b6e 20.5px,#82206c 21.5px,#9b2964 22.5px,#b73557 23.5px,#c83f4b 24.5px,#cf4446 25.5px,#d94d3d 38.5px,#ec6726 49.5px,#ef6c23 61.5px,#f98c0a 83.5px,#fa9407 91.5px,#fc9f07 117.5px,#fca309 145.5px,#fcae12 172.5px)"></div><div style="height:1px;background:linear-gradient(90deg,#741a6e 0.5px,#781c6d 20.5px,#85216b 21.5px,#9d2964 22.5px,#ba3655 23.5px,#cb4149 24.5px,#d04545 25.5px,#d94d3d 37.5px,#ed6925 48.5px,#f1711f 62.5px,#fb9606 87.5px,#fca309 115.5px,#fca80d 146.5px,#fbb61a 172.5px)"></div><div style="height:1px;background:linear-gradient(90deg,#771c6d 0.5px,#7c1d6d 20.5px,#87216b 21.5px,#a02a63 22.5px,#bc3754 23.5px,#cc4248 24.5px,#d34743 25.5px,#db503b 37.5px,#f06f20 49.5px,#f2741c 61.5px,#f98b0b 76.5px,#fb9906 87.5px,#fca80d 117.5px,#fcae12 146.5px,#fbbc21 172.5px)"></div><div style="height:1px;background:linear-gradient(90deg,#7a1d6d 0.5px,#7f1e6c 20.5px,#8a226a 21.5px,#a32c61 22.5px,#bf3952 23.5px,#ce4347 24.5px,#d44842 25.5px,#db503b 36.5px,#f1731d 49.5px,#f57b17 63.5px,#f98c0a 74.5px,#fb9906 83.5px,#fca108 88.5px,#fcac11 114.5px,#fcb418 146.5px,#fac42a 172.5px)"></div><div style="height:1px;background:linear-gradient(90deg,#7d1e6d 0.5px,#82206c 20.5px,#8d2369 21.5px,#c03a51 23.5px,#d04545 24.5px,#d54a41 25.5px,#df5337 37.5px,#f37819 49.5px,#f67e14 62.5px,#f98e09 72.5px,#fb9b06 81.5px,#fca60c 89.5px,#fbba1f 146.5px,#f9c932 172.5px)"></div><div style="height:1px;background:linear-gradient(90deg,#801f6c 0.5px,#85216b 20.5px,#902568 21.5px,#a82e5f 22.5px,#c33b4f 23.5px,#d24644 24.5px,#d84c3e 25.5px,#df5337 36.5px,#f57b17 49.5px,#f78410 63.5px,#fa9008 70.5px,#fb9d07 79.5px,#fcac11 89.5px,#fac026 145.5px,#f7d13d 172.5px)"></div><div style="height:1px;background:linear-gradient(90deg,#84206b 0.5px,#8a226a 20.5px,#932667 21.5px,#c43c4e 23.5px,#d44842 24.5px,#d94d3d 25.5px,#e25734 37.5px,#f78212 50.5px,#f8870e 62.5px,#fb9706 72.5px,#fca108 78.5px,#fcb014 87.5px,#fac62d 141.5px,#f5d949 172.5px)"></div><div style="height:1px;background:linear-gradient(90deg,#87216b 0.5px,#8d2369 20.5px,#972766 21.5px,#c73e4c 23.5px,#d54a41 24.5px,#dd513a 26.5px,#e45a31 37.5px,#f3761b 45.5px,#f8870e 51.5px,#f98b0b 61.5px,#fb9706 69.5px,#fca309 76.5px,#fbb61a 87.5px,#f8cf3a 143.5px,#f3e35a 172.5px)"></div><div style="height:1px;background:linear-gradient(90deg,#8a226a 0.5px,#902568 20.5px,#9a2865 21.5px,#ca404a 23.5px,#d84c3e 24.5px,#dd513a 25.5px,#e65d2f 37.5px,#f98c0a 50.5px,#fa9008 61.5px,#fb9906 67.5px,#fca80d 76.5px,#fbbe23 89.5px,#f7d13d 130.5px,#f4df53 152.5px,#f1ec6d 172.5px)"></div><div style="height:1px;background:linear-gradient(90deg,#8f2469 0.5px,#952667 20.5px,#9f2a63 21.5px,#cc4248 23.5px,#da4e3c 24.5px,#e05536 25.5px,#e75e2e 36.5px,#f98e09 48.5px,#fb9606 51.5px,#fb9b06 64.5px,#fcaa0f 73.5px,#fac42a 88.5px,#f8cf3a 113.5px,#f5d949 128.5px,#f2f482 172.5px)"></div><div style="height:1px;background:linear-gradient(90deg,#952667 0.5px,#9a2865 20.5px,#a32c61 21.5px,#d04545 23.5px,#de5238 24.5px,#e35933 25.5px,#eb6628 37.5px,#f98b0b 45.5px,#fb9d07 49.5px,#fca108 51.5px,#fca108 62.5px,#fbb61a 75.5px,#f9cb35 88.5px,#f5db4c 119.5px,#f1ef75 148.5px,#f6fa96 172.5px)"></div><div style="height:1px;background:linear-gradient(90deg,#9a2865 0.5px,#9f2a63 20.5px,#a92e5e 21.5px,#bf3952 22.5px,#d54a41 23.5px,#e25734 24.5px,#e65d2f 25.5px,#ef6c23 37.5px,#f98e09 44.5px,#fb9906 46.5px,#fca80d 49.5px,#fcac11 51.5px,#fcaa0f 62.5px,#f7d340 88.5px,#f4e156 114.5px,#f4f88e 150.5px,#fafda1 172.5px)"></div><div style="height:1px;background:linear-gradient(90deg,#a02a63 0.5px,#a52c60 20.5px,#ae305c 21.5px,#c43c4e 22.5px,#da4e3c 23.5px,#e65d2f 24.5px,#ea632a 25.5px,#f06f20 36.5px,#fb9906 44.5px,#fca50a 46.5px,#fbb81d 50.5px,#fbb61a 63.5px,#f8cf3a 80.5px,#f5db4c 87.5px,#f4e156 99.5px,#f2ea69 112.5px,#f2ea69 115.5px,#f8fb9a 146.5px,#fcffa4 172.5px)"></div><div style="height:1px;background:linear-gradient(90deg,#a62d60 0.5px,#a92e5e 20.5px,#b43359 21.5px,#de5238 23.5px,#e9612b 24.5px,#ed6925 25.5px,#f3761b 36.5px,#f78410 39.5px,#fb9706 42.5px,#fca309 44.5px,#fbbe23 48.5px,#fac62d 50.5px,#fac026 63.5px,#f4dd4f 82.5px,#f2e661 91.5px,#f1f179 111.5px,#f3f586 117.5px,#fafda1 144.5px,#fcffa4 172.5px)"></div><div style="height:1px;background:linear-gradient(90deg,#ad305d 0.5px,#b0315b 20.5px,#ba3655 21.5px,#ce4347 22.5px,#e25734 23.5px,#ec6726 24.5px,#f06f20 25.5px,#f57d15 36.5px,#fb9906 41.5px,#fca60c 43.5px,#fac42a 47.5px,#f7d340 50.5px,#f9c932 60.5px,#f9cb35 64.5px,#f5db4c 75.5px,#f1ed71 89.5px,#f6fa96 115.5px,#fcffa4 141.5px,#fcffa4 172.5px)"></div><div style="height:1px;background:linear-gradient(90deg,#b3325a 0.5px,#b63458 20.5px,#bf3952 21.5px,#d34743 22.5px,#e65d2f 23.5px,#ef6e21 24.5px,#f3761b 25.5px,#f78410 36.5px,#fb9b06 40.5px,#fcb216 43.5px,#f7d13d 47.5px,#f4e156 50.5px,#f4e156 52.5px,#f6d543 60.5px,#f6d543 63.5px,#f2e865 77.5px,#f2f27d 84.5px,#f3f586 88.5px,#fafda1 114.5px,#fcffa4 172.5px)"></div><div style="height:1px;background:linear-gradient(90deg,#b93556 0.5px,#ba3655 20.5px,#c43c4e 21.5px,#d84c3e 22.5px,#eb6429 23.5px,#f3761b 24.5px,#f67e14 25.5px,#f8890c 35.5px,#fb9d07 39.5px,#fcae12 41.5px,#fac62d 44.5px,#f4dd4f 47.5px,#f1ec6d 49.5px,#f1ed71 50.5px,#f1ed71 52.5px,#f4e156 60.5px,#f4e156 63.5px,#f3f586 81.5px,#f5f992 84.5px,#f8fb9a 89.5px,#f9fc9d 103.5px,#fcffa4 111.5px,#fcffa4 172.5px)"></div><div style="height:1px;background:linear-gradient(90deg,#bf3952 0.5px,#c13a50 20.5px,#cb4149 21.5px,#de5238 22.5px,#ef6c23 23.5px,#f68013 24.5px,#f8870e 25.5px,#fb9906 37.5px,#fca80d 39.5px,#fbb81d 41.5px,#f5d949 45.5px,#f2ea69 47.5px,#f3f586 49.5px,#f4f88e 50.5px,#f2f27d 56.5px,#f1ec6d 60.5px,#f1ec6d 63.5px,#f3f68a 76.5px,#fafda1 86.5px,#fafda1 93.5px,#fcffa4 94.5px,#fcffa4 172.5px)"></div><div style="height:1px;background:linear-gradient(90deg,#c63d4d 0.5px,#c83f4b 20.5px,#d24644 21.5px,#e45a31 22.5px,#f3761b 23.5px,#f98b0b 24.5px,#fa9407 25.5px,#fca108 36.5px,#fcac11 38.5px,#f9cb35 42.5px,#f3e35a 45.5px,#f1f179 47.5px,#f3f68a 48.5px,#f9fc9d 50.5px,#f8fb9a 53.5px,#f2f482 62.5px,#fcffa4 85.5px,#fcffa4 172.5px)"></div><div style="height:1px;background:linear-gradient(90deg,#cc4248 0.5px,#cf4446 20.5px,#d84c3e 21.5px,#e9612b 22.5px,#f68013 23.5px,#fb9606 24.5px,#fc9f07 25.5px,#fcaa0f 35.5px,#fbb81d 38.5px,#f9cb35 41.5px,#f4e156 44.5px,#f1ef75 46.5px,#f5f992 48.5px,#f9fc9d 49.5px,#fafda1 50.5px,#fcffa4 51.5px,#f6fa96 63.5px,#fcffa4 81.5px,#fcffa4 172.5px)"></div><div style="height:1px;background:linear-gradient(90deg,#d34743 0.5px,#d54a41 20.5px,#de5238 21.5px,#ee6a24 22.5px,#f98b0b 23.5px,#fca309 24.5px,#fcac11 25.5px,#fbb81d 35.5px,#fbbe23 37.5px,#f6d543 41.5px,#f2e661 44.5px,#f2f27d 46.5px,#f6fa96 48.5px,#fcffa4 50.5px,#fcffa4 58.5px,#fafda1 59.5px,#fafda1 67.5px,#fcffa4 68.5px,#fcffa4 172.5px)"></div><div style="height:1px;background:linear-gradient(90deg,#da4e3c 0.5px,#db503b 20.5px,#e45a31 21.5px,#f2741c 22.5px,#fb9706 23.5px,#fcb014 24.5px,#fbba1f 25.5px,#fac62d 35.5px,#f8cf3a 38.5px,#f3e35a 42.5px,#f1f179 45.5px,#f8fb9a 48.5px,#fcffa4 50.5px,#fcffa4 172.5px)"></div><div style="height:1px;background:linear-gradient(90deg,#e05536 0.5px,#e25734 20.5px,#ea632a 21.5px,#f68013 22.5px,#fca50a 23.5px,#fbbe23 24.5px,#f9c932 25.5px,#f7d340 33.5px,#f5db4c 37.5px,#f4e156 39.5px,#f2f27d 44.5px,#f9fc9d 48.5px,#fcffa4 50.5px,#fcffa4 172.5px)"></div><div style="height:1px;background:linear-gradient(90deg,#e75e2e 0.5px,#e75e2e 19.5px,#e9612b 20.5px,#ef6e21 21.5px,#f98c0a 22.5px,#fcb418 23.5px,#f8cf3a 24.5px,#f5db4c 25.5px,#f2e661 34.5px,#f2f27d 41.5px,#f3f586 42.5px,#fcffa4 49.5px,#fcffa4 172.5px)"></div><div style="height:1px;background:linear-gradient(90deg,#ee6a24 0.5px,#ee6a24 19.5px,#ef6e21 20.5px,#f57b17 21.5px,#fb9d07 22.5px,#fac62d 23.5px,#f4e156 24.5px,#f1ec6d 25.5px,#f2f482 32.5px,#fcffa4 48.5px,#fcffa4 172.5px)"></div><div style="height:1px;background:linear-gradient(90deg,#f37819 0.5px,#f37819 19.5px,#f57b17 20.5px,#f8890c 21.5px,#fcac11 22.5px,#f6d543 23.5px,#f1ef75 24.5px,#f3f68a 25.5px,#f5f992 27.5px,#fcffa4 44.5px,#fcffa4 172.5px)"></div><div style="height:1px;background:linear-gradient(90deg,#f8870e 0.5px,#f8870e 19.5px,#f98b0b 20.5px,#fb9906 21.5px,#fbba1f 22.5px,#f4e156 23.5px,#f3f68a 24.5px,#f9fc9d 25.5px,#fafda1 26.5px,#fcffa4 32.5px,#fcffa4 172.5px)"></div><div style="height:1px;background:linear-gradient(90deg,#fb9b06 0.5px,#fb9d07 20.5px,#fcaa0f 21.5px,#f9c72f 22.5px,#f2e865 23.5px,#f5f992 24.5px,#fafda1 25.5px,#fcffa4 26.5px,#fcffa4 172.5px)"></div><div style="height:1px;background:linear-gradient(90deg,#fcb216 0.5px,#fcb418 20.5px,#fbbe23 21.5px,#f6d543 22.5px,#f1ef75 23.5px,#f8fb9a 24.5px,#fcffa4 25.5px,#fcffa4 172.5px)"></div><div style="height:1px;background:linear-gradient(90deg,#f9c932 0.5px,#f9cb35 20.5px,#f7d340 21.5px,#f3e55d 22.5px,#f2f482 23.5px,#f9fc9d 24.5px,#fcffa4 25.5px,#fcffa4 172.5px)"></div><div style="height:1px;background:linear-gradient(90deg,#f3e35a 0.5px,#f3e35a 20.5px,#f2e865 21.5px,#f5f992 23.5px,#fafda1 24.5px,#fcffa4 25.5px,#fcffa4 172.5px)"></div><div style="height:1px;background:linear-gradient(90deg,#f2f482 0.5px,#f2f482 19.5px,#f3f68a 21.5px,#fcffa4 24.5px,#fcffa4 172.5px)"></div><div style="height:1px;background:linear-gradient(90deg,#f9fc9d 0.5px,#f9fc9d 21.5px,#fcffa4 23.5px,#fcffa4 172.5px)"></div><div style="height:6px;background:linear-gradient(90deg,#fcffa4 0.5px,#fcffa4 172.5px)"></div><div style="height:6px;background:linear-gradient(90deg,#fcffa4 0.5px,#fcffa4 172.5px)"></div><div style="height:1px;background:linear-gradient(90deg,#fcffa4 0.5px,#fcffa4 172.5px)"></div><div style="height:1px;background:linear-gradient(90deg,#fafda1 0.5px,#fafda1 21.5px,#fcffa4 22.5px,#fcffa4 172.5px)"></div><div style="height:1px;background:linear-gradient(90deg,#f3f68a 0.5px,#f3f68a 20.5px,#fcffa4 24.5px,#fcffa4 172.5px)"></div><div style="height:1px;background:linear-gradient(90deg,#f4df53 0.5px,#f4df53 19.5px,#f3e55d 21.5px,#f1ef75 22.5px,#fafda1 24.5px,#fcffa4 25.5px,#fcffa4 172.5px)"></div><div style="height:1px;background:linear-gradient(90deg,#fbbe23 0.5px,#fac026 20.5px,#f9c72f 21.5px,#f4dd4f 22.5px,#f1f179 23.5px,#f8fb9a 24.5px,#fcffa4 25.5px,#fcffa4 172.5px)"></div><div style="height:1px;background:linear-gradient(90deg,#fc9f07 0.5px,#fc9f07 19.5px,#fca309 20.5px,#fcae12 21.5px,#f9cb35 22.5px,#f2ea69 23.5px,#f6fa96 24.5px,#fcffa4 25.5px,#fcffa4 172.5px)"></div><div style="height:1px;background:linear-gradient(90deg,#f8890c 0.5px,#f8890c 17.5px,#f98c0a 20.5px,#fb9b06 21.5px,#fbbe23 22.5px,#f3e55d 23.5px,#f5f992 24.5px,#fcffa4 25.5px,#fcffa4 172.5px)"></div><div style="height:1px;background:linear-gradient(90deg,#f47918 0.5px,#f47918 19.5px,#f57d15 20.5px,#f98c0a 21.5px,#fcb216 22.5px,#f4df53 23.5px,#f4f88e 24.5px,#fafda1 25.5px,#fcffa4 26.5px,#fcffa4 172.5px)"></div><div style="height:1px;background:linear-gradient(90deg,#ef6e21 0.5px,#ef6e21 19.5px,#f1711f 20.5px,#f78212 21.5px,#fcaa0f 22.5px,#f5db4c 23.5px,#f3f68a 24.5px,#fafda1 25.5px,#fcffa4 26.5px,#fcffa4 172.5px)"></div><div style="height:1px;background:linear-gradient(90deg,#eb6628 0.5px,#eb6628 19.5px,#ed6925 20.5px,#f47918 21.5px,#fca108 22.5px,#f7d340 23.5px,#f2f27d 24.5px,#f6fa96 25.5px,#f9fc9d 27.5px,#fcffa4 35.5px,#fcffa4 172.5px)"></div><div style="height:1px;background:linear-gradient(90deg,#e75e2e 0.5px,#e9612b 20.5px,#f1711f 21.5px,#fb9606 22.5px,#fac62d 23.5px,#f3e55d 24.5px,#f1ef75 25.5px,#f2f482 27.5px,#f3f68a 31.5px,#f6fa96 34.5px,#fcffa4 46.5px,#fcffa4 172.5px)"></div><div style="height:1px;background:linear-gradient(90deg,#e35933 0.5px,#e35933 19.5px,#e55c30 20.5px,#ec6726 21.5px,#f8870e 22.5px,#fcb014 23.5px,#f9cb35 24.5px,#f6d746 25.5px,#f4df53 27.5px,#f2e865 32.5px,#f1ec6d 33.5px,#f9fc9d 46.5px,#fcffa4 49.5px,#fcffa4 172.5px)"></div><div style="height:1px;background:linear-gradient(90deg,#df5337 0.5px,#e15635 20.5px,#e8602d 21.5px,#f47918 22.5px,#fb9906 23.5px,#fcb216 24.5px,#fbbc21 25.5px,#fac42a 27.5px,#f4dd4f 37.5px,#f1f179 43.5px,#f9fc9d 48.5px,#fcffa4 50.5px,#fcffa4 172.5px)"></div><div style="height:1px;background:linear-gradient(90deg,#db503b 0.5px,#dd513a 20.5px,#e35933 21.5px,#ef6e21 22.5px,#f8890c 23.5px,#fb9d07 24.5px,#fca60c 25.5px,#fbbe23 35.5px,#f9c932 38.5px,#f4df53 42.5px,#f1ef75 45.5px,#f6fa96 48.5px,#fcffa4 50.5px,#f9fc9d 59.5px,#f9fc9d 68.5px,#fcffa4 78.5px,#fcffa4 172.5px)"></div><div style="height:1px;background:linear-gradient(90deg,#d74b3f 0.5px,#d84c3e 20.5px,#df5337 21.5px,#eb6429 22.5px,#f57d15 23.5px,#f98e09 24.5px,#fb9606 25.5px,#fca108 30.5px,#fcac11 36.5px,#fbbe23 39.5px,#f7d340 42.5px,#f1ed71 46.5px,#f4f88e 48.5px,#fafda1 50.5px,#f5f992 57.5px,#f3f586 60.5px,#f3f586 64.5px,#fcffa4 84.5px,#fcffa4 172.5px)"></div><div style="height:1px;background:linear-gradient(90deg,#d34743 0.5px,#d44842 20.5px,#da4e3c 21.5px,#f1731d 23.5px,#f78212 24.5px,#f8890c 25.5px,#fa9407 30.5px,#fc9f07 36.5px,#fcaa0f 38.5px,#f8cf3a 43.5px,#f4df53 45.5px,#f2f482 48.5px,#f4f88e 49.5px,#f5f992 50.5px,#f3f68a 53.5px,#f2e865 59.5px,#f3e55d 61.5px,#f3e55d 63.5px,#f1ef75 71.5px,#f3f586 75.5px,#f3f586 76.5px,#fcffa4 86.5px,#fcffa4 172.5px)"></div><div style="height:1px;background:linear-gradient(90deg,#ce4347 0.5px,#cf4446 20.5px,#d54a41 21.5px,#ee6a24 23.5px,#f37819 24.5px,#f67e14 25.5px,#fa9008 35.5px,#fb9d07 38.5px,#fcac11 40.5px,#f9c932 44.5px,#f2e865 48.5px,#f1ef75 50.5px,#f1ec6d 52.5px,#f5db4c 57.5px,#f8cf3a 62.5px,#f4e156 70.5px,#f1f179 77.5px,#fcffa4 86.5px,#fcffa4 172.5px)"></div><div style="height:1px;background:linear-gradient(90deg,#ca404a 0.5px,#cb4149 20.5px,#d04545 21.5px,#e9612b 23.5px,#f2741c 25.5px,#f8850f 35.5px,#fb9706 39.5px,#fb9d07 40.5px,#fcb014 43.5px,#f6d746 49.5px,#f5d949 50.5px,#fac026 61.5px,#fac42a 64.5px,#f4df53 73.5px,#f1ed71 78.5px,#f5f992 83.5px,#fcffa4 87.5px,#fcffa4 172.5px)"></div><div style="height:1px;background:linear-gradient(90deg,#c63d4d 0.5px,#c73e4c 20.5px,#d84c3e 22.5px,#eb6628 24.5px,#f68013 37.5px,#fa9008 40.5px,#fc9f07 43.5px,#fbbe23 49.5px,#fac026 51.5px,#fcb216 61.5px,#fbbc21 65.5px,#f7d340 72.5px,#f2ea69 79.5px,#f1f179 81.5px,#f6fa96 85.5px,#f9fc9d 87.5px,#fafda1 102.5px,#fcffa4 103.5px,#fcffa4 172.5px)"></div><div style="height:1px;background:linear-gradient(90deg,#c13a50 0.5px,#c33b4f 20.5px,#c83f4b 21.5px,#e15635 23.5px,#eb6429 25.5px,#f2741c 36.5px,#fb9606 44.5px,#fca309 47.5px,#fcac11 49.5px,#fca80d 61.5px,#fbbc21 68.5px,#f7d340 75.5px,#f2ea69 82.5px,#f2f482 85.5px,#f4f88e 88.5px,#fcffa4 113.5px,#fcffa4 172.5px)"></div><div style="height:1px;background:linear-gradient(90deg,#bf3952 0.5px,#c03a51 20.5px,#c63d4d 21.5px,#de5238 23.5px,#e8602d 25.5px,#ef6e21 36.5px,#fa9008 45.5px,#fca309 50.5px,#fc9f07 61.5px,#fca50a 64.5px,#fbba1f 71.5px,#f5d949 81.5px,#f2e865 86.5px,#f1ec6d 88.5px,#f3f586 101.5px,#f4f88e 103.5px,#fcffa4 115.5px,#fcffa4 172.5px)"></div><div style="height:1px;background:linear-gradient(90deg,#bc3754 0.5px,#bd3853 20.5px,#c33b4f 21.5px,#db503b 23.5px,#e65d2f 25.5px,#ed6925 36.5px,#f98c0a 46.5px,#fb9906 50.5px,#fb9606 61.5px,#fb9b06 64.5px,#fca80d 69.5px,#fbb61a 74.5px,#f7d340 84.5px,#f4df53 90.5px,#f2f27d 104.5px,#f4f88e 108.5px,#fcffa4 116.5px,#fcffa4 172.5px)"></div><div style="height:1px;background:linear-gradient(90deg,#b93556 0.5px,#ba3655 20.5px,#c03a51 21.5px,#d94d3d 23.5px,#e45a31 25.5px,#ec6726 37.5px,#fa9008 49.5px,#f98c0a 61.5px,#fb9906 67.5px,#fca80d 73.5px,#fac228 83.5px,#f8cd37 87.5px,#f4df53 96.5px,#f1ef75 105.5px,#fcffa4 116.5px,#fcffa4 172.5px)"></div><div style="height:1px;background:linear-gradient(90deg,#b73557 0.5px,#b73557 20.5px,#bd3853 21.5px,#d84c3e 23.5px,#e25734 25.5px,#eb6628 38.5px,#f8890c 50.5px,#f8850f 61.5px,#fa9008 66.5px,#fb9d07 72.5px,#fbb81d 83.5px,#f4dd4f 99.5px,#f2f27d 109.5px,#f4f88e 112.5px,#fafda1 117.5px,#fcffa4 172.5px)"></div><div style="height:1px;background:linear-gradient(90deg,#b43359 0.5px,#b63458 20.5px,#bc3754 21.5px,#d54a41 23.5px,#e05536 25.5px,#e8602d 37.5px,#f78212 50.5px,#f68013 62.5px,#fa9008 69.5px,#fb9d07 75.5px,#fcb014 83.5px,#f6d543 99.5px,#f1ed71 110.5px,#f1f179 111.5px,#f5f992 117.5px,#fcffa4 142.5px,#fcffa4 172.5px)"></div><div style="height:1px;background:linear-gradient(90deg,#b1325a 0.5px,#b3325a 20.5px,#b93556 21.5px,#d34743 23.5px,#df5337 25.5px,#e75e2e 38.5px,#f57b17 50.5px,#f57b17 62.5px,#f98e09 71.5px,#fb9d07 78.5px,#fca80d 83.5px,#f9cb35 99.5px,#f4e156 109.5px,#f3e55d 110.5px,#f2f27d 119.5px,#f2f27d 121.5px,#f3f586 124.5px,#f3f586 126.5px,#fcffa4 144.5px,#fcffa4 172.5px)"></div><div style="height:1px;background:linear-gradient(90deg,#ae305c 0.5px,#b0315b 20.5px,#b63458 21.5px,#d04545 23.5px,#dd513a 25.5px,#e65d2f 39.5px,#f3761b 50.5px,#f3761b 61.5px,#fa9207 75.5px,#fb9d07 81.5px,#fac228 99.5px,#f3e55d 117.5px,#f2f482 132.5px,#fcffa4 145.5px,#fcffa4 172.5px)"></div><div style="height:1px;background:linear-gradient(90deg,#ab2f5e 0.5px,#ad305d 20.5px,#b3325a 21.5px,#ce4347 23.5px,#da4e3c 25.5px,#e15635 37.5px,#f1711f 50.5px,#f2741c 63.5px,#fa9207 78.5px,#fb9d07 84.5px,#fcae12 94.5px,#f8cd37 112.5px,#f5db4c 120.5px,#f2e661 127.5px,#f1f179 133.5px,#f1f179 134.5px,#f6fa96 141.5px,#fcffa4 146.5px,#fcffa4 172.5px)"></div><div style="height:1px;background:linear-gradient(90deg,#a92e5e 0.5px,#ab2f5e 20.5px,#b1325a 21.5px,#cc4248 23.5px,#d44842 24.5px,#d94d3d 26.5px,#df5337 37.5px,#ef6c23 50.5px,#f06f20 62.5px,#f98e09 80.5px,#fb9d07 88.5px,#fcac11 98.5px,#f9c932 116.5px,#f4dd4f 126.5px,#f1ef75 136.5px,#fafda1 147.5px,#fcffa4 172.5px)"></div><div style="height:1px;background:linear-gradient(90deg,#a62d60 0.5px,#a82e5f 20.5px,#ae305c 21.5px,#ca404a 23.5px,#d34743 24.5px,#d84c3e 26.5px,#db503b 35.5px,#ed6925 50.5px,#ee6a24 61.5px,#f98e09 83.5px,#fb9d07 92.5px,#fcae12 104.5px,#f9c72f 119.5px,#f4e156 132.5px,#f1ef75 140.5px,#f5f992 147.5px,#fafda1 163.5px,#fcffa4 172.5px)"></div><div style="height:1px;background:linear-gradient(90deg,#a52c60 0.5px,#a62d60 20.5px,#ad305d 21.5px,#c83f4b 23.5px,#d54a41 25.5px,#da4e3c 35.5px,#eb6429 50.5px,#ed6925 63.5px,#f98e09 85.5px,#fb9d07 96.5px,#fcb014 110.5px,#fac228 121.5px,#f2e661 141.5px,#f1f179 147.5px,#fcffa4 172.5px)"></div><div style="height:1px;background:linear-gradient(90deg,#a32c61 0.5px,#a52c60 20.5px,#ab2f5e 21.5px,#c73e4c 23.5px,#d44842 25.5px,#d94d3d 35.5px,#e9612b 50.5px,#eb6429 62.5px,#fa9008 89.5px,#fc9f07 102.5px,#fcb014 115.5px,#f9c932 131.5px,#f4dd4f 143.5px,#f3e55d 147.5px,#f1ef75 157.5px,#f4f88e 165.5px,#f9fc9d 172.5px)"></div><div style="height:1px;background:linear-gradient(90deg,#a22b62 0.5px,#a22b62 20.5px,#a82e5f 21.5px,#c63d4d 23.5px,#d34743 25.5px,#d84c3e 35.5px,#e55c30 48.5px,#e8602d 61.5px,#f8890c 87.5px,#fb9d07 105.5px,#fcae12 119.5px,#f8cd37 141.5px,#f4dd4f 152.5px,#f1ef75 166.5px,#f2f482 169.5px,#f3f586 172.5px)"></div><div style="height:1px;background:linear-gradient(90deg,#9f2a63 0.5px,#a02a63 20.5px,#a62d60 21.5px,#c43c4e 23.5px,#d24644 25.5px,#d94d3d 38.5px,#e25734 47.5px,#e65d2f 61.5px,#f78410 86.5px,#fb9906 107.5px,#fca309 116.5px,#fbb61a 131.5px,#f6d746 157.5px,#f2e865 172.5px)"></div><div style="height:1px;background:linear-gradient(90deg,#9d2964 0.5px,#9f2a63 20.5px,#a52c60 21.5px,#c33b4f 23.5px,#d04545 25.5px,#e15635 49.5px,#e45a31 61.5px,#f67e14 85.5px,#fb9606 109.5px,#fca80d 126.5px,#fac228 145.5px,#f5d949 172.5px)"></div><div style="height:1px;background:linear-gradient(90deg,#9b2964 0.5px,#9d2964 20.5px,#a32c61 21.5px,#c13a50 23.5px,#cf4446 25.5px,#e45a31 63.5px,#f57d15 87.5px,#fa9407 113.5px,#fca309 127.5px,#fbbe23 148.5px,#f9cb35 172.5px)"></div><div style="height:1px;background:linear-gradient(90deg,#9a2865 0.5px,#9b2964 20.5px,#a22b62 21.5px,#c03a51 23.5px,#ca404a 24.5px,#d04545 28.5px,#e25734 62.5px,#f57b17 89.5px,#fa9207 117.5px,#fca309 132.5px,#fbb81d 149.5px,#fac42a 172.5px)"></div><div style="height:1px;background:linear-gradient(90deg,#982766 0.5px,#982766 20.5px,#a02a63 21.5px,#bf3952 23.5px,#c83f4b 24.5px,#ce4347 26.5px,#e05536 61.5px,#f2741c 86.5px,#fa9407 122.5px,#fca108 135.5px,#fcb014 148.5px,#fbbc21 172.5px)"></div><div style="height:1px;background:linear-gradient(90deg,#952667 0.5px,#972766 20.5px,#9d2964 21.5px,#c73e4c 24.5px,#cc4248 26.5px,#df5337 61.5px,#ee6a24 81.5px,#fb9706 130.5px,#fca80d 146.5px,#fbb61a 172.5px)"></div><div style="height:1px;background:linear-gradient(90deg,#932667 0.5px,#952667 20.5px,#9b2964 21.5px,#c63d4d 24.5px,#ca404a 25.5px,#d34743 38.5px,#df5337 63.5px,#ef6e21 86.5px,#fa9207 129.5px,#fca309 147.5px,#fcae12 172.5px)"></div><div style="height:1px;background:linear-gradient(90deg,#922568 0.5px,#932667 20.5px,#9a2865 21.5px,#c43c4e 24.5px,#c83f4b 25.5px,#d34743 40.5px,#dd513a 62.5px,#ee6a24 86.5px,#f98e09 130.5px,#fb9d07 151.5px,#fca80d 172.5px)"></div><div style="height:1px;background:linear-gradient(90deg,#902568 0.5px,#922568 20.5px,#982766 21.5px,#c33b4f 24.5px,#c73e4c 25.5px,#d04545 37.5px,#db503b 62.5px,#ec6726 85.5px,#f98e09 136.5px,#fca309 172.5px)"></div><div style="height:1px;background:linear-gradient(90deg,#8f2469 0.5px,#8f2469 20.5px,#972766 21.5px,#c13a50 24.5px,#c63d4d 25.5px,#cf4446 37.5px,#d94d3d 61.5px,#e8602d 80.5px,#f06f20 99.5px,#f98e09 142.5px,#fb9b06 172.5px)"></div><div style="height:1px;background:linear-gradient(90deg,#8c2369 0.5px,#8d2369 20.5px,#952667 21.5px,#b43359 23.5px,#c33b4f 25.5px,#ce4347 37.5px,#d94d3d 63.5px,#ee6a24 96.5px,#f98b0b 142.5px,#fb9606 172.5px)"></div><div style="height:1px;background:linear-gradient(90deg,#8a226a 0.5px,#8c2369 20.5px,#922568 21.5px,#b3325a 23.5px,#c13a50 25.5px,#cc4248 38.5px,#d84c3e 63.5px,#eb6628 93.5px,#f98b0b 147.5px,#fa9008 172.5px)"></div><div style="height:1px;background:linear-gradient(90deg,#88226a 0.5px,#8a226a 20.5px,#902568 21.5px,#b1325a 23.5px,#c03a51 25.5px,#cb4149 39.5px,#d54a41 62.5px,#ea632a 92.5px,#f8870e 147.5px,#f98c0a 172.5px)"></div><div style="height:1px;background:linear-gradient(90deg,#85216b 0.5px,#87216b 20.5px,#8f2469 21.5px,#ba3655 24.5px,#bf3952 25.5px,#c83f4b 38.5px,#d54a41 64.5px,#e8602d 91.5px,#f78410 146.5px,#f8890c 172.5px)"></div><div style="height:1px;background:linear-gradient(90deg,#84206b 0.5px,#85216b 20.5px,#8c2369 21.5px,#b93556 24.5px,#c03a51 28.5px,#d54a41 66.5px,#e65d2f 90.5px,#ed6925 114.5px,#f68013 146.5px,#f8850f 172.5px)"></div><div style="height:1px;background:linear-gradient(90deg,#82206c 0.5px,#84206b 20.5px,#8a226a 21.5px,#ab2f5e 23.5px,#b63458 24.5px,#bf3952 29.5px,#d24644 63.5px,#e45a31 89.5px,#ec6726 116.5px,#f57d15 145.5px,#f78410 172.5px)"></div><div style="height:1px;background:linear-gradient(90deg,#7f1e6c 0.5px,#801f6c 20.5px,#88226a 21.5px,#a92e5e 23.5px,#b43359 24.5px,#bd3853 30.5px,#cf4446 62.5px,#e25734 88.5px,#f57b17 148.5px,#f68013 172.5px)"></div><div style="height:1px;background:linear-gradient(90deg,#7d1e6d 0.5px,#7f1e6c 20.5px,#85216b 21.5px,#b3325a 24.5px,#b93556 26.5px,#cc4248 60.5px,#e05536 87.5px,#f37819 147.5px,#f57d15 172.5px)"></div><div style="height:1px;background:linear-gradient(90deg,#7c1d6d 0.5px,#7c1d6d 20.5px,#84206b 21.5px,#b1325a 24.5px,#b73557 27.5px,#cb4149 61.5px,#df5337 88.5px,#f2741c 147.5px,#f47918 172.5px)"></div><div style="height:1px;background:linear-gradient(90deg,#781c6d 0.5px,#7a1d6d 20.5px,#82206c 21.5px,#a32c61 23.5px,#ae305c 24.5px,#b63458 28.5px,#ca404a 62.5px,#de5238 89.5px,#f1711f 146.5px,#f3761b 172.5px)"></div><div style="height:1px;background:linear-gradient(90deg,#771c6d 0.5px,#781c6d 20.5px,#7f1e6c 21.5px,#a22b62 23.5px,#ad305d 24.5px,#b3325a 26.5px,#c83f4b 62.5px,#db503b 87.5px,#ef6e21 146.5px,#f1731d 172.5px)"></div><div style="height:1px;background:linear-gradient(90deg,#741a6e 0.5px,#751b6e 20.5px,#7d1e6d 21.5px,#ab2f5e 24.5px,#b1325a 26.5px,#b43359 37.5px,#bf3952 47.5px,#c73e4c 63.5px,#da4e3c 87.5px,#ef6c23 149.5px,#f06f20 172.5px)"></div><div style="height:1px;background:linear-gradient(90deg,#721a6e 0.5px,#741a6e 20.5px,#7c1d6d 21.5px,#a92e5e 24.5px,#ae305c 25.5px,#b1325a 36.5px,#bd3853 48.5px,#c43c4e 62.5px,#da4e3c 90.5px,#ed6925 148.5px,#ef6c23 172.5px)"></div><div style="height:1px;background:linear-gradient(90deg,#71196e 0.5px,#721a6e 20.5px,#781c6d 21.5px,#9b2964 23.5px,#a82e5f 24.5px,#ad305d 26.5px,#b0315b 38.5px,#d84c3e 88.5px,#eb6628 146.5px,#ee6a24 172.5px)"></div><div style="height:1px;background:linear-gradient(90deg,#6d186e 0.5px,#6f196e 20.5px,#771c6d 21.5px,#9a2865 23.5px,#a52c60 24.5px,#ab2f5e 26.5px,#ad305d 37.5px,#c33b4f 65.5px,#d74b3f 88.5px,#ea632a 145.5px,#ec6726 172.5px)"></div><div style="height:1px;background:linear-gradient(90deg,#6c186e 0.5px,#6d186e 20.5px,#751b6e 21.5px,#a32c61 24.5px,#a92e5e 27.5px,#a92e5e 36.5px,#c33b4f 67.5px,#d54a41 88.5px,#e9612b 147.5px,#eb6429 172.5px)"></div><div style="height:1px;background:linear-gradient(90deg,#6a176e 0.5px,#6c186e 20.5px,#741a6e 21.5px,#a22b62 24.5px,#a62d60 25.5px,#a82e5f 38.5px,#d44842 88.5px,#e75e2e 146.5px,#e9612b 172.5px)"></div><div style="height:1px;background:linear-gradient(90deg,#69166e 0.5px,#6a176e 20.5px,#721a6e 21.5px,#a02a63 24.5px,#a52c60 26.5px,#a52c60 37.5px,#d24644 86.5px,#e65d2f 149.5px,#e75e2e 172.5px)"></div><div style="height:1px;background:linear-gradient(90deg,#69166e 0.5px,#6a176e 20.5px,#71196e 21.5px,#9f2a63 24.5px,#a32c61 26.5px,#a32c61 39.5px,#d04545 86.5px,#e45a31 146.5px,#e55c30 172.5px)"></div><div style="height:1px;background:linear-gradient(90deg,#67166e 0.5px,#69166e 20.5px,#71196e 21.5px,#902568 23.5px,#9b2964 24.5px,#a02a63 25.5px,#a32c61 43.5px,#ce4347 85.5px,#e25734 144.5px,#e35933 172.5px)"></div><div style="height:1px;background:linear-gradient(90deg,#67166e 0.5px,#69166e 20.5px,#6f196e 21.5px,#8f2469 23.5px,#9a2865 24.5px,#9f2a63 25.5px,#9d2964 37.5px,#a22b62 45.5px,#cc4248 85.5px,#e15635 147.5px,#e15635 172.5px)"></div><div style="height:1px;background:linear-gradient(90deg,#65156e 0.5px,#67166e 20.5px,#6d186e 21.5px,#8d2369 23.5px,#982766 24.5px,#9d2964 26.5px,#9b2964 39.5px,#a02a63 47.5px,#ca404a 84.5px,#de5238 140.5px,#df5337 172.5px)"></div><div style="height:1px;background:linear-gradient(90deg,#65156e 0.5px,#65156e 20.5px,#6c186e 21.5px,#8c2369 23.5px,#972766 24.5px,#9b2964 26.5px,#9d2964 47.5px,#b3325a 63.5px,#c83f4b 85.5px,#da4e3c 132.5px,#dd513a 172.5px)"></div><div style="height:1px;background:linear-gradient(90deg,#64156e 0.5px,#65156e 20.5px,#6c186e 21.5px,#952667 24.5px,#982766 25.5px,#9b2964 49.5px,#b0315b 62.5px,#c83f4b 89.5px,#d74b3f 121.5px,#db503b 145.5px,#da4e3c 172.5px)"></div><div style="height:1px;background:linear-gradient(90deg,#62146e 0.5px,#64156e 20.5px,#6a176e 21.5px,#932667 24.5px,#972766 25.5px,#982766 49.5px,#ad305d 61.5px,#c63d4d 88.5px,#d54a41 118.5px,#d84c3e 172.5px)"></div><div style="height:1px;background:linear-gradient(90deg,#62146e 0.5px,#64156e 20.5px,#69166e 21.5px,#922568 24.5px,#952667 25.5px,#952667 49.5px,#ad305d 63.5px,#c83f4b 96.5px,#d54a41 123.5px,#d54a41 172.5px)"></div><div style="height:1px;background:linear-gradient(90deg,#61136e 0.5px,#62146e 20.5px,#69166e 21.5px,#85216b 23.5px,#932667 25.5px,#932667 49.5px,#ab2f5e 63.5px,#cc4248 105.5px,#d44842 118.5px,#d34743 172.5px)"></div><div style="height:1px;background:linear-gradient(90deg,#61136e 0.5px,#61136e 20.5px,#67166e 21.5px,#84206b 23.5px,#8d2369 24.5px,#922568 26.5px,#922568 49.5px,#ab2f5e 65.5px,#d04545 112.5px,#d44842 134.5px,#d04545 172.5px)"></div><div style="height:1px;background:linear-gradient(90deg,#5f136e 0.5px,#61136e 20.5px,#65156e 21.5px,#82206c 23.5px,#8c2369 24.5px,#902568 26.5px,#902568 49.5px,#a82e5f 64.5px,#d04545 113.5px,#d34743 148.5px,#ce4347 172.5px)"></div><div style="height:1px;background:linear-gradient(90deg,#5d126e 0.5px,#5f136e 20.5px,#65156e 21.5px,#8a226a 24.5px,#8d2369 25.5px,#902568 50.5px,#a32c61 61.5px,#b73557 87.5px,#d04545 114.5px,#d24644 145.5px,#cc4248 172.5px)"></div><div style="height:1px;background:linear-gradient(90deg,#5d126e 0.5px,#5f136e 20.5px,#64156e 21.5px,#88226a 24.5px,#8c2369 25.5px,#8f2469 49.5px,#a32c61 63.5px,#b63458 88.5px,#d24644 117.5px,#ca404a 172.5px)"></div><div style="height:1px;background:linear-gradient(90deg,#5c126e 0.5px,#5d126e 20.5px,#64156e 21.5px,#7f1e6c 23.5px,#8c2369 25.5px,#8d2369 49.5px,#a02a63 62.5px,#b3325a 87.5px,#d04545 116.5px,#c83f4b 172.5px)"></div><div style="height:1px;background:linear-gradient(90deg,#5c126e 0.5px,#5c126e 20.5px,#62146e 21.5px,#87216b 24.5px,#8a226a 25.5px,#8c2369 48.5px,#9f2a63 62.5px,#b1325a 87.5px,#d04545 117.5px,#c63d4d 172.5px)"></div><div style="height:1px;background:linear-gradient(90deg,#5a116e 0.5px,#5c126e 20.5px,#62146e 21.5px,#87216b 24.5px,#8a226a 25.5px,#87216b 34.5px,#8a226a 47.5px,#9f2a63 64.5px,#ae305c 86.5px,#cf4446 116.5px,#c43c4e 172.5px)"></div><div style="height:1px;background:linear-gradient(90deg,#5a116e 0.5px,#5a116e 20.5px,#61136e 21.5px,#7d1e6d 23.5px,#87216b 24.5px,#8a226a 25.5px,#85216b 36.5px,#8a226a 49.5px,#9a2865 61.5px,#ad305d 86.5px,#cf4446 117.5px,#c33b4f 172.5px)"></div><div style="height:1px;background:linear-gradient(90deg,#59106e 0.5px,#5a116e 20.5px,#61136e 21.5px,#7d1e6d 23.5px,#87216b 24.5px,#8a226a 25.5px,#84206b 35.5px,#88226a 48.5px,#9a2865 63.5px,#ab2f5e 86.5px,#ce4347 116.5px,#c03a51 172.5px)"></div><div style="height:2px;background:linear-gradient(90deg,#57106e 0.5px,#59106e 20.5px,#5f136e 21.5px,#87216b 24.5px,#8a226a 25.5px,#811f6c 36.5px,#86216b 46.5px,#a92e5f 86.5px,#cd4248 117.5px,#be3853 172.5px)"></div></div>
<style>.t1{background-image:linear-gradient(90deg,#1400ff 0.5px,#1400ff 13.5px,#1921ff 14.5px,#2964ff 15.5px,#1a2dff 16.5px,#160eff 17.5px,#181dff 18.5px,#1c35ff 19.5px,#2558ff 20.5px,#3fa5ff 21.5px,#72f8f1 22.5px,#38a140 23.5px,#ecf033 24.5px,#ecf033 25.5px,#37a03e 26.5px,#74f8ec 27.5px,#45b1ff 28.5px,#275eff 29.5px,#1d38ff 30.5px,#160cff 32.5px,#1400ff 33.5px,#1400ff 41.5px,#1713ff 43.5px,#1923ff 44.5px,#224aff 45.5px,#3da0ff 46.5px,#66e9fb 47.5px,#79f8e5 48.5px,#73e8c2 49.5px,#53c07f 50.5px,#47b161 51.5px,#58c68c 52.5px,#76ebc6 53.5px,#80f7d7 54.5px,#80f8d8 59.5px,#7af1ce 60.5px,#4fbb76 61.5px,#86c124 62.5px,#ffe535 63.5px,#ffb101 64.5px,#ffe535 65.5px,#86c124 66.5px,#4fbb76 67.5px,#7af1ce 68.5px,#80f8d8 69.5px,#7ef8dc 70.5px,#77f8e7 71.5px,#66e9fb 72.5px,#3ea1ff 73.5px,#234eff 74.5px,#1b30ff 75.5px,#1403ff 81.5px,#1400ff 122.5px),linear-gradient(90deg,#1400ff 0.5px,#1400ff 13.5px,#1820ff 14.5px,#2863ff 15.5px,#1c32ff 16.5px,#160fff 17.5px,#181bff 18.5px,#1c32ff 19.5px,#2454ff 20.5px,#3c9dff 21.5px,#71f8f2 22.5px,#329c34 23.5px,#f9f03c 24.5px,#f9f03c 25.5px,#309a31 26.5px,#77f8e8 27.5px,#48b6ff 28.5px,#2861ff 29.5px,#1e3aff 30.5px,#160dff 32.5px,#1400ff 33.5px,#1400ff 41.5px,#1507ff 42.5px,#1820ff 44.5px,#2043ff 45.5px,#3993ff 46.5px,#62e2fe 47.5px,#77f8e8 48.5px,#6ee2b9 49.5px,#4bb56b 50.5px,#40a84f 51.5px,#54c183 52.5px,#74e9c3 53.5px,#7ff7d7 54.5px,#7ff8d9 59.5px,#7af1ce 60.5px,#4db870 61.5px,#8ec423 62.5px,#ffde2e 63.5px,#ffa800 64.5px,#ffde2e 65.5px,#8ec423 66.5px,#4cb86f 67.5px,#7af0cd 68.5px,#7ff8d9 69.5px,#7df8de 70.5px,#75f8eb 71.5px,#63e5fd 72.5px,#3da0ff 73.5px,#2454ff 74.5px,#1d36ff 75.5px,#1923ff 77.5px,#1402ff 82.5px,#1400ff 122.5px),linear-gradient(90deg,#1400ff 0.5px,#1400ff 13.5px,#181dff 14.5px,#2760ff 15.5px,#1611ff 17.5px,#1718ff 18.5px,#1b2fff 19.5px,#234fff 20.5px,#3892ff 21.5px,#6ef6f5 22.5px,#339c35 23.5px,#f9f03c 24.5px,#f9f03c 25.5px,#309a31 26.5px,#78f8e5 27.5px,#4cbdff 28.5px,#2964ff 29.5px,#1e3cff 30.5px,#160fff 32.5px,#1400ff 33.5px,#1400ff 41.5px,#1505ff 42.5px,#181cff 44.5px,#1d36ff 45.5px,#2f76ff 46.5px,#52c8ff 47.5px,#71f8f3 48.5px,#72e6bf 49.5px,#4bb66c 50.5px,#40a850 51.5px,#54c181 52.5px,#70e3bb 53.5px,#7ef6d5 54.5px,#7cf8de 57.5px,#7cf8df 59.5px,#80f8d9 60.5px,#54c283 61.5px,#78bb25 62.5px,#fef03f 63.5px,#ffc010 64.5px,#fef03f 65.5px,#78bb25 66.5px,#53c081 67.5px,#7cf3d1 68.5px,#7ef8db 69.5px,#7bf8e1 70.5px,#73f8ef 71.5px,#63e5fd 72.5px,#45b1ff 73.5px,#2d71ff 74.5px,#2146ff 75.5px,#1c33ff 76.5px,#1a2aff 77.5px,#1401ff 83.5px,#1400ff 122.5px),linear-gradient(90deg,#1400ff 0.5px,#1400ff 13.5px,#181aff 14.5px,#265aff 15.5px,#1f41ff 16.5px,#1713ff 17.5px,#1716ff 18.5px,#1a2cff 19.5px,#2249ff 20.5px,#3486ff 21.5px,#68ecf9 22.5px,#3ea64c 23.5px,#d9e82c 24.5px,#d9e92c 25.5px,#3ba446 26.5px,#77f8e7 27.5px,#4fc3ff 28.5px,#2a68ff 29.5px,#1f3fff 30.5px,#1611ff 32.5px,#1401ff 33.5px,#1400ff 41.5px,#1402ff 42.5px,#1717ff 44.5px,#1a2aff 45.5px,#2556ff 46.5px,#3ea3ff 47.5px,#65e8fb 48.5px,#80f8d8 49.5px,#5ac890 50.5px,#4eba74 51.5px,#6cdfb5 53.5px,#7cf3d1 54.5px,#7ef8dc 55.5px,#76f8ea 57.5px,#73f8ee 58.5px,#74f8ec 59.5px,#7af8e2 60.5px,#62d3a4 61.5px,#4ca72b 62.5px,#d9e82c 63.5px,#f9f03c 64.5px,#d9e82c 65.5px,#4ba62c 66.5px,#62d2a3 67.5px,#7ef6d5 68.5px,#7cf8df 70.5px,#76f8e9 71.5px,#6cf2f7 72.5px,#58d3ff 73.5px,#3c9eff 74.5px,#2965ff 75.5px,#2042ff 76.5px,#1b32ff 77.5px,#1a29ff 78.5px,#1400ff 84.5px,#1400ff 122.5px),linear-gradient(90deg,#1400ff 0.5px,#1400ff 13.5px,#1716ff 14.5px,#2453ff 15.5px,#2148ff 16.5px,#1715ff 17.5px,#1713ff 18.5px,#2044ff 20.5px,#307aff 21.5px,#60e0ff 22.5px,#60d1a1 23.5px,#73b826 24.5px,#76ba26 25.5px,#54c081 26.5px,#75f8eb 27.5px,#53c9ff 28.5px,#2c6cff 29.5px,#1f41ff 30.5px,#1713ff 32.5px,#1402ff 33.5px,#1400ff 42.5px,#1712ff 44.5px,#1921ff 45.5px,#2043ff 46.5px,#368aff 47.5px,#5bd7ff 48.5px,#76f8e9 49.5px,#73e7c1 50.5px,#67d9ac 51.5px,#6cdfb5 53.5px,#7bf1cf 54.5px,#7ef8db 55.5px,#7af8e3 56.5px,#71f8f2 57.5px,#68ebfa 58.5px,#6cf3f6 59.5px,#7af8e2 60.5px,#66d8ab 61.5px,#369f3d 62.5px,#72b826 63.5px,#a5cf20 64.5px,#72b826 65.5px,#38a140 66.5px,#6adcb1 67.5px,#7ef5d4 68.5px,#7bf8e1 71.5px,#74f8ed 72.5px,#68ecfa 73.5px,#52c7ff 74.5px,#3891ff 75.5px,#275dff 76.5px,#1f3eff 77.5px,#1928ff 79.5px,#1400ff 85.5px,#1400ff 122.5px),linear-gradient(90deg,#1400ff 0.5px,#1400ff 13.5px,#1612ff 14.5px,#224bff 15.5px,#234eff 16.5px,#1718ff 17.5px,#1611ff 18.5px,#1f3fff 20.5px,#2d6fff 21.5px,#58d1ff 22.5px,#7ef5d4 23.5px,#369f3c 24.5px,#319b33 25.5px,#61d1a1 26.5px,#77f8e8 27.5px,#56cfff 28.5px,#2d71ff 29.5px,#2044ff 30.5px,#1715ff 32.5px,#1404ff 33.5px,#1400ff 34.5px,#1400ff 42.5px,#1504ff 43.5px,#181aff 45.5px,#1d37ff 46.5px,#3078ff 47.5px,#51c6ff 48.5px,#6ef5f5 49.5px,#7bf8e0 50.5px,#7ef5d4 51.5px,#6ee2b9 53.5px,#7af1ce 54.5px,#7ff8da 55.5px,#7bf8e1 56.5px,#72f8f1 57.5px,#67eafa 58.5px,#6df4f6 59.5px,#7ef8dc 60.5px,#63d3a5 61.5px,#42aa54 62.5px,#319b31 63.5px,#41a22d 64.5px,#329c34 65.5px,#49b366 66.5px,#6addb2 67.5px,#7cf3d1 68.5px,#80f8d8 69.5px,#7df8dd 71.5px,#71f8f1 73.5px,#64e6fc 74.5px,#4bbcff 75.5px,#3485ff 76.5px,#2555ff 77.5px,#1e3aff 78.5px,#1927ff 80.5px,#1504ff 85.5px,#1400ff 86.5px,#1400ff 122.5px),linear-gradient(90deg,#1400ff 0.5px,#1400ff 13.5px,#160eff 14.5px,#2043ff 15.5px,#2453ff 16.5px,#181bff 17.5px,#160fff 18.5px,#1e3bff 20.5px,#2a67ff 21.5px,#52c7ff 22.5px,#7af8e3 23.5px,#4eba74 24.5px,#3da54a 25.5px,#5fcf9d 26.5px,#79f8e4 27.5px,#5ad5ff 28.5px,#2f78ff 29.5px,#2147ff 30.5px,#1717ff 32.5px,#1505ff 33.5px,#1400ff 34.5px,#1401ff 43.5px,#1715ff 45.5px,#1a2dff 46.5px,#2a67ff 47.5px,#49b7ff 48.5px,#68edf9 49.5px,#77f8e8 50.5px,#7df8dd 51.5px,#7cf3d0 52.5px,#71e6be 53.5px,#7ff8d9 55.5px,#7cf8df 56.5px,#74f8ed 57.5px,#6aeff8 58.5px,#70f8f4 59.5px,#80f8d8 60.5px,#5fce9c 61.5px,#44ad59 62.5px,#39a242 63.5px,#369f3b 64.5px,#3ba446 65.5px,#4db870 66.5px,#68daae 67.5px,#7bf2cf 68.5px,#80f8d8 69.5px,#7ff8da 71.5px,#77f8e7 73.5px,#6ff6f5 74.5px,#60e0ff 75.5px,#45b1ff 76.5px,#3079ff 77.5px,#224dff 78.5px,#1d37ff 79.5px,#1404ff 86.5px,#1400ff 87.5px,#1400ff 122.5px),linear-gradient(90deg,#1400ff 0.5px,#1400ff 13.5px,#1509ff 14.5px,#1d39ff 15.5px,#2557ff 16.5px,#181dff 17.5px,#160dff 18.5px,#1d38ff 20.5px,#2861ff 21.5px,#4dbeff 22.5px,#77f8e7 23.5px,#51bd7a 24.5px,#3ca447 25.5px,#58c68d 26.5px,#7bf8e1 27.5px,#5edcff 28.5px,#3280ff 29.5px,#224bff 30.5px,#1719ff 32.5px,#1507ff 33.5px,#1400ff 34.5px,#1400ff 43.5px,#1610ff 45.5px,#1925ff 46.5px,#2659ff 47.5px,#40a8ff 48.5px,#64e6fc 49.5px,#75f8ec 50.5px,#7ef6d5 52.5px,#75ebc5 53.5px,#78eeca 54.5px,#80f7d7 55.5px,#7df8de 56.5px,#6ef5f6 58.5px,#71f8f3 59.5px,#80f8d8 60.5px,#5ece9c 61.5px,#44ad5a 62.5px,#3aa344 63.5px,#38a140 64.5px,#3da549 65.5px,#4eb972 66.5px,#68daae 67.5px,#7bf2cf 68.5px,#80f8d8 69.5px,#80f8d9 71.5px,#7bf8e0 73.5px,#75f8ea 74.5px,#6bf1f7 75.5px,#5ad5ff 76.5px,#3fa4ff 77.5px,#2c6cff 78.5px,#2146ff 79.5px,#1c35ff 80.5px,#1a2cff 81.5px,#1403ff 87.5px,#1400ff 122.5px),linear-gradient(90deg,#1400ff 0.5px,#1400ff 13.5px,#1505ff 14.5px,#2659ff 16.5px,#181eff 17.5px,#160bff 18.5px,#1c34ff 20.5px,#265cff 21.5px,#48b5ff 22.5px,#76f8ea 23.5px,#4eb973 24.5px,#39a242 25.5px,#54c182 26.5px,#7cf8df 27.5px,#61e2fe 28.5px,#3589ff 29.5px,#234eff 30.5px,#181bff 32.5px,#1508ff 33.5px,#1400ff 34.5px,#1400ff 43.5px,#1403ff 44.5px,#160cff 45.5px,#181eff 46.5px,#224bff 47.5px,#3a97ff 48.5px,#5fdeff 49.5px,#72f8f0 50.5px,#7bf8e1 51.5px,#7ff8d9 52.5px,#76ebc6 54.5px,#7df5d3 55.5px,#7ef8dc 56.5px,#71f8f2 58.5px,#71f8f2 59.5px,#80f8d8 60.5px,#5ecd9b 61.5px,#46af5e 62.5px,#3da54a 63.5px,#3ba447 64.5px,#40a850 65.5px,#53c081 66.5px,#6ce0b6 67.5px,#7df4d2 68.5px,#80f8d8 69.5px,#7ef8dc 73.5px,#73f8ee 75.5px,#68ebfa 76.5px,#53c9ff 77.5px,#3995ff 78.5px,#2860ff 79.5px,#2041ff 80.5px,#1c33ff 81.5px,#1a2bff 82.5px,#1402ff 88.5px,#1400ff 122.5px),linear-gradient(90deg,#1400ff 0.5px,#1401ff 14.5px,#1927ff 15.5px,#2659ff 16.5px,#181fff 17.5px,#1509ff 18.5px,#181aff 19.5px,#1b31ff 20.5px,#2557ff 21.5px,#42acff 22.5px,#74f8ee 23.5px,#4fbb75 24.5px,#39a242 25.5px,#54c181 26.5px,#7df8dd 27.5px,#64e5fd 28.5px,#3891ff 29.5px,#2452ff 30.5px,#1c34ff 31.5px,#181dff 32.5px,#150aff 33.5px,#1400ff 34.5px,#1400ff 44.5px,#1508ff 45.5px,#1717ff 46.5px,#1f3eff 47.5px,#3486ff 48.5px,#57d1ff 49.5px,#6ff7f5 50.5px,#7af8e3 51.5px,#7ef8db 52.5px,#75eac4 54.5px,#7ff8da 56.5px,#75f8ec 58.5px,#73f8ef 59.5px,#79efcb 60.5px,#53c080 61.5px,#41aa53 62.5px,#41a952 63.5px,#43ac57 64.5px,#4cb76e 65.5px,#5fcf9d 66.5px,#75eac5 67.5px,#80f8d7 68.5px,#80f8d8 72.5px,#7df8de 74.5px,#70f8f3 76.5px,#63e5fd 77.5px,#4bbbff 78.5px,#3486ff 79.5px,#2556ff 80.5px,#1e3dff 81.5px,#1a2aff 83.5px,#1401ff 89.5px,#1400ff 122.5px),linear-gradient(90deg,#1400ff 0.5px,#1400ff 14.5px,#1820ff 15.5px,#2558ff 16.5px,#1820ff 17.5px,#1508ff 18.5px,#1717ff 19.5px,#1b2eff 20.5px,#2452ff 21.5px,#3ea2ff 22.5px,#71f8f2 23.5px,#54c183 24.5px,#3ca448 25.5px,#58c68b 26.5px,#7df8dd 27.5px,#66e9fb 28.5px,#3b9aff 29.5px,#2556ff 30.5px,#1d37ff 31.5px,#1820ff 32.5px,#160cff 33.5px,#1400ff 34.5px,#1400ff 44.5px,#1504ff 45.5px,#1611ff 46.5px,#1b31ff 47.5px,#2e73ff 48.5px,#4fc2ff 49.5px,#6bf0f7 50.5px,#78f8e7 51.5px,#7ff7d6 53.5px,#77edc8 54.5px,#75ebc6 55.5px,#7ff6d5 56.5px,#79f8e5 58.5px,#79f8e5 59.5px,#6bdeb3 60.5px,#49b365 61.5px,#3fa74f 62.5px,#5dcd99 65.5px,#80f8d9 67.5px,#7ff8d9 73.5px,#7bf8e0 75.5px,#76f8ea 76.5px,#6df3f6 77.5px,#5edcff 78.5px,#43aeff 79.5px,#2f77ff 80.5px,#234dff 81.5px,#1e3aff 82.5px,#1401ff 90.5px,#1400ff 122.5px),linear-gradient(90deg,#1400ff 0.5px,#1400ff 14.5px,#181dff 15.5px,#2557ff 16.5px,#1924ff 17.5px,#1508ff 18.5px,#1715ff 19.5px,#1a2bff 20.5px,#224cff 21.5px,#3a96ff 22.5px,#6cf3f6 23.5px,#5ece9b 24.5px,#42ab56 25.5px,#60d09f 26.5px,#7df8de 27.5px,#68edf9 28.5px,#3fa4ff 29.5px,#265aff 30.5px,#1d39ff 31.5px,#1922ff 32.5px,#160dff 33.5px,#1400ff 34.5px,#1400ff 44.5px,#1401ff 45.5px,#150bff 46.5px,#1924ff 47.5px,#275eff 48.5px,#42acff 49.5px,#64e6fc 50.5px,#74f8ee 51.5px,#7bf8e1 52.5px,#7ff8da 53.5px,#73e8c2 55.5px,#7ff8da 57.5px,#7cf8de 58.5px,#80f8d8 59.5px,#5dcc98 60.5px,#42aa54 61.5px,#41aa54 62.5px,#56c386 63.5px,#67d9ad 64.5px,#7ff8da 66.5px,#79f8e4 67.5px,#80f8d9 70.5px,#80f8d9 73.5px,#7df8dd 75.5px,#74f8ee 77.5px,#69edf9 78.5px,#56cfff 79.5px,#3d9fff 80.5px,#2b6bff 81.5px,#2148ff 82.5px,#1d38ff 83.5px,#1b2fff 84.5px,#1400ff 91.5px,#1400ff 122.5px),linear-gradient(90deg,#1400ff 0.5px,#1400ff 14.5px,#181bff 15.5px,#2555ff 16.5px,#1a2bff 17.5px,#1509ff 18.5px,#1612ff 19.5px,#1928ff 20.5px,#2146ff 21.5px,#3485ff 22.5px,#66e9fb 23.5px,#6cdfb5 24.5px,#52bf7d 25.5px,#6bdeb4 26.5px,#7bf8e0 27.5px,#6bf0f8 28.5px,#43aeff 29.5px,#275fff 30.5px,#1e3bff 31.5px,#160fff 33.5px,#1400ff 34.5px,#1400ff 45.5px,#1506ff 46.5px,#1718ff 47.5px,#2145ff 48.5px,#368bff 49.5px,#56ceff 50.5px,#6df3f6 51.5px,#77f8e7 52.5px,#7ff7d6 54.5px,#75eac5 55.5px,#75eac4 56.5px,#7ff7d6 57.5px,#7ff8d9 58.5px,#72e6bf 59.5px,#51bd7b 60.5px,#3fa74e 61.5px,#48b264 62.5px,#65d7a9 63.5px,#7ef6d5 64.5px,#74f8ec 66.5px,#73f8ef 67.5px,#7df8de 69.5px,#7ff8da 70.5px,#80f8d8 73.5px,#7cf8df 76.5px,#71f8f2 78.5px,#65e7fc 79.5px,#4fc3ff 80.5px,#3891ff 81.5px,#2760ff 82.5px,#2043ff 83.5px,#1b2eff 85.5px,#1404ff 91.5px,#1400ff 92.5px,#1400ff 122.5px),linear-gradient(90deg,#1400ff 0.5px,#1400ff 14.5px,#1718ff 15.5px,#2451ff 16.5px,#1b32ff 17.5px,#150bff 18.5px,#1610ff 19.5px,#1f3fff 21.5px,#2e73ff 22.5px,#5ddbff 23.5px,#7ef5d4 24.5px,#65d7a9 25.5px,#79efcb 26.5px,#7af8e3 27.5px,#6df3f6 28.5px,#48b6ff 29.5px,#2863ff 30.5px,#1f3dff 31.5px,#1611ff 33.5px,#1401ff 34.5px,#1400ff 45.5px,#1403ff 46.5px,#160fff 47.5px,#1a2cff 48.5px,#2863ff 49.5px,#42abff 50.5px,#62e3fd 51.5px,#72f8f0 52.5px,#7af8e2 53.5px,#7ef8db 54.5px,#72e7c0 56.5px,#7bf1cf 57.5px,#7cf3d1 58.5px,#65d7a9 59.5px,#48b264 60.5px,#3fa74e 61.5px,#51be7b 62.5px,#77edc9 63.5px,#74f8ed 64.5px,#6cf3f6 65.5px,#68ebfa 66.5px,#6af0f8 67.5px,#73f8ee 68.5px,#7df8dc 70.5px,#80f8d9 71.5px,#7af1ce 73.5px,#7ff8d9 75.5px,#76f8ea 78.5px,#6ef4f6 79.5px,#60e0ff 80.5px,#48b6ff 81.5px,#3383ff 82.5px,#2556ff 83.5px,#1f3fff 84.5px,#1925ff 87.5px,#1402ff 92.5px,#1400ff 122.5px),linear-gradient(90deg,#1400ff 0.5px,#1400ff 14.5px,#1715ff 15.5px,#224cff 16.5px,#1d38ff 17.5px,#160eff 18.5px,#160eff 19.5px,#1e3aff 21.5px,#2965ff 22.5px,#52c7ff 23.5px,#77f8e7 24.5px,#79f0cd 25.5px,#7ef8db 26.5px,#79f8e5 27.5px,#6ef6f5 28.5px,#4dbeff 29.5px,#2a68ff 30.5px,#1f40ff 31.5px,#1713ff 33.5px,#1402ff 34.5px,#1400ff 46.5px,#1508ff 47.5px,#171aff 48.5px,#2042ff 49.5px,#3383ff 50.5px,#51c6ff 51.5px,#6aeff8 52.5px,#76f8e9 53.5px,#7ff7d7 55.5px,#73e8c1 56.5px,#74e9c4 58.5px,#5ac992 59.5px,#42aa54 60.5px,#42aa54 61.5px,#5dcd99 62.5px,#7bf8e1 63.5px,#67ebfa 64.5px,#5ddaff 65.5px,#57d1ff 66.5px,#60e0ff 67.5px,#6df3f6 68.5px,#76f8e9 69.5px,#7ef5d4 71.5px,#6cdfb5 72.5px,#63d4a5 73.5px,#6cdfb5 74.5px,#7df4d2 75.5px,#7cf8de 77.5px,#74f8ee 79.5px,#6aeff8 80.5px,#5ad5ff 81.5px,#40a8ff 82.5px,#2e73ff 83.5px,#224cff 84.5px,#1e3bff 85.5px,#1c32ff 86.5px,#1507ff 92.5px,#1400ff 94.5px,#1400ff 122.5px),linear-gradient(90deg,#1400ff 0.5px,#1400ff 14.5px,#1611ff 15.5px,#2045ff 16.5px,#1f3fff 17.5px,#1611ff 18.5px,#160cff 19.5px,#1d36ff 21.5px,#275dff 22.5px,#47b4ff 23.5px,#6ef5f5 24.5px,#7bf8e2 25.5px,#78f8e6 27.5px,#70f8f4 28.5px,#51c6ff 29.5px,#2c6cff 30.5px,#2042ff 31.5px,#1715ff 33.5px,#1504ff 34.5px,#1400ff 35.5px,#1400ff 46.5px,#1504ff 47.5px,#160fff 48.5px,#1928ff 49.5px,#265bff 50.5px,#3ea3ff 51.5px,#5fdfff 52.5px,#70f8f3 53.5px,#7ef8dc 55.5px,#6ee2b9 57.5px,#6cdeb4 58.5px,#51be7c 59.5px,#3fa74f 60.5px,#48b264 61.5px,#6bdeb4 62.5px,#73f8f0 63.5px,#5edcff 64.5px,#51c5ff 65.5px,#4ab9ff 66.5px,#51c5ff 67.5px,#64e6fc 68.5px,#71f8f2 69.5px,#79f8e3 70.5px,#78eec9 71.5px,#59c890 72.5px,#4bb66c 73.5px,#59c88f 74.5px,#75eac5 75.5px,#7ff8da 76.5px,#7bf8e0 78.5px,#71f8f2 80.5px,#66e8fb 81.5px,#51c6ff 82.5px,#3992ff 83.5px,#275fff 84.5px,#2044ff 85.5px,#1921ff 89.5px,#1401ff 94.5px,#1400ff 122.5px),linear-gradient(90deg,#1400ff 0.5px,#1400ff 14.5px,#160dff 15.5px,#1e3cff 16.5px,#2146ff 17.5px,#1714ff 18.5px,#150aff 19.5px,#1c33ff 21.5px,#2556ff 22.5px,#3fa4ff 23.5px,#67ebfa 24.5px,#76f8e9 25.5px,#79f8e4 26.5px,#78f8e6 27.5px,#71f8f3 28.5px,#55cdff 29.5px,#2e74ff 30.5px,#2145ff 31.5px,#1717ff 33.5px,#1505ff 34.5px,#1400ff 35.5px,#1400ff 46.5px,#1401ff 47.5px,#1509ff 48.5px,#1719ff 49.5px,#1e3dff 50.5px,#307aff 51.5px,#4dbfff 52.5px,#68ebfa 53.5px,#75f8ec 54.5px,#7ff6d6 56.5px,#70e4bc 57.5px,#66d7aa 58.5px,#4cb76e 59.5px,#3fa84f 60.5px,#50bb77 61.5px,#78efcb 62.5px,#6cf2f7 63.5px,#5ad6ff 64.5px,#46b3ff 66.5px,#45b1ff 67.5px,#57d0ff 68.5px,#69eef9 69.5px,#76f8e9 70.5px,#75ebc5 71.5px,#52be7c 72.5px,#42ab56 73.5px,#52be7c 74.5px,#71e5be 75.5px,#7ff8d9 76.5px,#7af8e3 79.5px,#6df4f6 81.5px,#5eddff 82.5px,#44afff 83.5px,#3078ff 84.5px,#2350ff 85.5px,#1f3fff 86.5px,#1d36ff 87.5px,#1505ff 94.5px,#1400ff 95.5px,#1400ff 122.5px),linear-gradient(90deg,#1400ff 0.5px,#1400ff 14.5px,#1507ff 15.5px,#1b31ff 16.5px,#224bff 17.5px,#1718ff 18.5px,#1508ff 19.5px,#1b30ff 21.5px,#234fff 22.5px,#3993ff 23.5px,#62e3fe 24.5px,#74f8ee 25.5px,#78f8e6 26.5px,#77f8e7 27.5px,#72f8f1 28.5px,#5ad5ff 29.5px,#327eff 30.5px,#2249ff 31.5px,#1719ff 33.5px,#1507ff 34.5px,#1400ff 35.5px,#1400ff 47.5px,#1610ff 49.5px,#1926ff 50.5px,#2454ff 51.5px,#3b9aff 52.5px,#5bd7ff 53.5px,#6ef6f5 54.5px,#78f8e7 55.5px,#7ef8dc 56.5px,#76ebc6 57.5px,#62d2a3 58.5px,#49b367 59.5px,#41a952 60.5px,#56c386 61.5px,#7ff6d6 62.5px,#6cf3f6 63.5px,#5cd8ff 64.5px,#41aaff 67.5px,#4ab9ff 68.5px,#60e0ff 69.5px,#70f8f3 70.5px,#7ef5d4 71.5px,#5ac992 72.5px,#4bb66d 73.5px,#59c890 74.5px,#76ebc6 75.5px,#7ff8da 76.5px,#7bf8e0 79.5px,#72f8f1 81.5px,#66eafb 82.5px,#52c7ff 83.5px,#3994ff 84.5px,#2861ff 85.5px,#2147ff 86.5px,#1c34ff 88.5px,#1404ff 95.5px,#1400ff 96.5px,#1400ff 122.5px),linear-gradient(90deg,#1400ff 0.5px,#1402ff 15.5px,#234dff 17.5px,#181aff 18.5px,#1507ff 19.5px,#1717ff 20.5px,#2148ff 22.5px,#3381ff 23.5px,#5bd8ff 24.5px,#71f8f1 25.5px,#77f8e8 26.5px,#77f8e8 27.5px,#72f8f0 28.5px,#5eddff 29.5px,#3589ff 30.5px,#234eff 31.5px,#1b31ff 32.5px,#181bff 33.5px,#1508ff 34.5px,#1400ff 35.5px,#1400ff 47.5px,#1402ff 48.5px,#150bff 49.5px,#1719ff 50.5px,#1d38ff 51.5px,#2d71ff 52.5px,#48b7ff 53.5px,#65e8fb 54.5px,#73f8ef 55.5px,#7df5d3 57.5px,#63d4a5 58.5px,#49b366 59.5px,#43ac59 60.5px,#5bca94 61.5px,#7ff8da 62.5px,#6ff7f5 63.5px,#60e0ff 64.5px,#41aaff 67.5px,#3fa6ff 68.5px,#67ebfa 70.5px,#78f8e7 71.5px,#72e7c0 72.5px,#64d6a8 73.5px,#6de1b7 74.5px,#7ef6d5 75.5px,#7ef8dc 76.5px,#7af8e3 80.5px,#6df3f6 82.5px,#5edcff 83.5px,#44afff 84.5px,#3079ff 85.5px,#2453ff 86.5px,#2042ff 87.5px,#1e3aff 88.5px,#1402ff 96.5px,#1400ff 122.5px),linear-gradient(90deg,#1400ff 0.5px,#1400ff 15.5px,#181cff 16.5px,#234dff 17.5px,#181bff 18.5px,#1505ff 19.5px,#1714ff 20.5px,#2042ff 22.5px,#2d71ff 23.5px,#53caff 24.5px,#6ff6f5 25.5px,#76f8ea 26.5px,#76f8e9 27.5px,#72f8f0 28.5px,#61e2fe 29.5px,#3994ff 30.5px,#2452ff 31.5px,#1c34ff 32.5px,#181dff 33.5px,#150aff 34.5px,#1400ff 35.5px,#1400ff 48.5px,#1611ff 50.5px,#1924ff 51.5px,#234eff 52.5px,#3891ff 53.5px,#57d0ff 54.5px,#6cf2f7 55.5px,#77f8e8 56.5px,#7ff8da 57.5px,#64d5a7 58.5px,#49b366 59.5px,#46b060 60.5px,#60d0a0 61.5px,#7ef8db 62.5px,#72f8f1 63.5px,#64e7fc 64.5px,#57d1ff 65.5px,#3d9fff 68.5px,#44afff 69.5px,#5bd7ff 70.5px,#6df3f6 71.5px,#79f8e4 72.5px,#7ff8d9 73.5px,#7cf8de 79.5px,#77f8e7 81.5px,#71f8f2 82.5px,#66e9fb 83.5px,#51c6ff 84.5px,#3994ff 85.5px,#2863ff 86.5px,#224bff 87.5px,#1d38ff 89.5px,#1507ff 96.5px,#1400ff 98.5px,#1400ff 122.5px),linear-gradient(90deg,#1400ff 0.5px,#1400ff 15.5px,#1718ff 16.5px,#224cff 17.5px,#181fff 18.5px,#1505ff 19.5px,#1611ff 20.5px,#1f3eff 22.5px,#2966ff 23.5px,#4cbdff 24.5px,#6cf1f7 25.5px,#74f8ec 26.5px,#76f8ea 27.5px,#72f8f0 28.5px,#64e6fc 29.5px,#3d9eff 30.5px,#2557ff 31.5px,#1d36ff 32.5px,#181fff 33.5px,#160cff 34.5px,#1400ff 35.5px,#1400ff 48.5px,#160dff 50.5px,#1719ff 51.5px,#1c33ff 52.5px,#2a69ff 53.5px,#45b1ff 54.5px,#64e5fc 55.5px,#73f8ef 56.5px,#7ef8dc 57.5px,#63d4a6 58.5px,#49b367 59.5px,#4ab469 60.5px,#65d6a8 61.5px,#7ef8db 62.5px,#75f8ec 63.5px,#69edf9 64.5px,#5ad6ff 65.5px,#3d9fff 68.5px,#3c9bff 69.5px,#4cbdff 70.5px,#63e4fd 71.5px,#70f8f4 72.5px,#77f8e7 73.5px,#7bf8e1 74.5px,#7df8dd 76.5px,#7bf8e0 80.5px,#74f8ec 82.5px,#6cf2f7 83.5px,#5ddbff 84.5px,#44afff 85.5px,#317bff 86.5px,#2555ff 87.5px,#2146ff 88.5px,#1f3eff 89.5px,#160cff 96.5px,#1400ff 98.5px,#1400ff 122.5px),linear-gradient(90deg,#1400ff 0.5px,#1400ff 15.5px,#1716ff 16.5px,#2148ff 17.5px,#1508ff 19.5px,#160fff 20.5px,#1e3aff 22.5px,#275eff 23.5px,#44aeff 24.5px,#68ebfa 25.5px,#73f8ef 26.5px,#75f8ec 27.5px,#72f8f0 28.5px,#66e9fb 29.5px,#40a8ff 30.5px,#265bff 31.5px,#1d38ff 32.5px,#160dff 34.5px,#1400ff 35.5px,#1401ff 49.5px,#1713ff 51.5px,#1924ff 52.5px,#224cff 53.5px,#3892ff 54.5px,#59d4ff 55.5px,#6ef5f5 56.5px,#7cf8df 57.5px,#4ab56a 59.5px,#4eba73 60.5px,#69dcb1 61.5px,#7ef8dc 62.5px,#6df4f6 64.5px,#5fdeff 65.5px,#3fa5ff 68.5px,#3994ff 69.5px,#3fa6ff 70.5px,#57d0ff 71.5px,#69eef9 72.5px,#73f8ee 73.5px,#7bf8e0 75.5px,#7df8de 78.5px,#7af8e2 81.5px,#71f8f3 83.5px,#65e8fb 84.5px,#51c6ff 85.5px,#3995ff 86.5px,#2965ff 87.5px,#234eff 88.5px,#150bff 97.5px,#1400ff 99.5px,#1400ff 122.5px),linear-gradient(90deg,#1400ff 0.5px,#1400ff 15.5px,#1612ff 16.5px,#2042ff 17.5px,#1b31ff 18.5px,#160cff 19.5px,#160dff 20.5px,#1c36ff 22.5px,#2556ff 23.5px,#3c9cff 24.5px,#62e4fd 25.5px,#71f8f3 26.5px,#73f8ee 27.5px,#72f8f1 28.5px,#67ebfa 29.5px,#44b0ff 30.5px,#275fff 31.5px,#1e3bff 32.5px,#160fff 34.5px,#1400ff 35.5px,#1400ff 49.5px,#160eff 51.5px,#181bff 52.5px,#1d38ff 53.5px,#2f76ff 54.5px,#4dbfff 55.5px,#69edf9 56.5px,#79f8e4 57.5px,#6addb2 58.5px,#54c181 59.5px,#59c78e 60.5px,#72e6bf 61.5px,#7df8dd 62.5px,#71f8f3 64.5px,#64e6fc 65.5px,#3995ff 69.5px,#3995ff 70.5px,#63e4fd 72.5px,#70f8f4 73.5px,#7ff8d9 76.5px,#7df4d3 77.5px,#80f8d9 78.5px,#7bf8e1 81.5px,#74f8ee 83.5px,#6bf1f7 84.5px,#5ddaff 85.5px,#44afff 86.5px,#317cff 87.5px,#2558ff 88.5px,#224aff 89.5px,#1610ff 97.5px,#1400ff 100.5px,#1400ff 122.5px),linear-gradient(90deg,#1400ff 0.5px,#1400ff 15.5px,#160dff 16.5px,#1d39ff 17.5px,#1d39ff 18.5px,#160fff 19.5px,#1509ff 20.5px,#1b30ff 22.5px,#224dff 23.5px,#3587ff 24.5px,#5bd7ff 25.5px,#6ef5f5 26.5px,#72f8f0 27.5px,#71f8f2 28.5px,#68ecf9 29.5px,#48b7ff 30.5px,#2963ff 31.5px,#1e3dff 32.5px,#1611ff 34.5px,#1402ff 35.5px,#1400ff 49.5px,#1402ff 50.5px,#1715ff 52.5px,#1a2bff 53.5px,#275dff 54.5px,#40a8ff 55.5px,#62e3fe 56.5px,#74f8ee 57.5px,#7df5d3 58.5px,#6ce0b6 59.5px,#70e3bb 60.5px,#7ff7d7 61.5px,#74f8ee 64.5px,#68ecf9 65.5px,#59d4ff 66.5px,#46b2ff 68.5px,#3b9bff 69.5px,#378eff 70.5px,#41aaff 71.5px,#5ad6ff 72.5px,#6bf0f8 73.5px,#74f8ed 74.5px,#7cf8df 75.5px,#6ee2b9 76.5px,#5fcf9d 77.5px,#6de0b6 78.5px,#7ff8d9 79.5px,#76f8ea 83.5px,#70f8f4 84.5px,#65e7fc 85.5px,#51c5ff 86.5px,#3a95ff 87.5px,#2a67ff 88.5px,#2451ff 89.5px,#160eff 98.5px,#1400ff 101.5px,#1400ff 122.5px),linear-gradient(90deg,#1400ff 0.5px,#1400ff 15.5px,#1508ff 16.5px,#1b2fff 17.5px,#1f3fff 18.5px,#1712ff 19.5px,#1506ff 20.5px,#1716ff 21.5px,#2043ff 23.5px,#2e73ff 24.5px,#52c7ff 25.5px,#6af0f8 26.5px,#70f8f3 27.5px,#70f8f4 28.5px,#69edf9 29.5px,#4cbdff 30.5px,#2a68ff 31.5px,#1f40ff 32.5px,#1714ff 34.5px,#1403ff 35.5px,#1400ff 36.5px,#1400ff 50.5px,#1610ff 52.5px,#1821ff 53.5px,#2149ff 54.5px,#378eff 55.5px,#58d1ff 56.5px,#6df4f6 57.5px,#78f8e6 58.5px,#7ef8dc 59.5px,#7ef8db 60.5px,#7af8e3 63.5px,#6cf2f7 65.5px,#5edcff 66.5px,#378eff 70.5px,#3b9aff 71.5px,#65e8fb 73.5px,#71f8f2 74.5px,#7cf8df 75.5px,#63d4a5 76.5px,#4eba73 77.5px,#61d1a2 78.5px,#7ff7d6 79.5px,#7cf8df 80.5px,#7af8e2 82.5px,#73f8ef 84.5px,#6af0f8 85.5px,#5cd9ff 86.5px,#43adff 87.5px,#317bff 88.5px,#265aff 89.5px,#234dff 90.5px,#1507ff 100.5px,#1400ff 102.5px,#1400ff 122.5px),linear-gradient(90deg,#1400ff 0.5px,#1403ff 16.5px,#2043ff 18.5px,#1715ff 19.5px,#1403ff 20.5px,#1611ff 21.5px,#1e3cff 23.5px,#2863ff 24.5px,#48b7ff 25.5px,#67eafa 26.5px,#6ff6f5 27.5px,#6ff6f5 28.5px,#69edf9 29.5px,#4fc3ff 30.5px,#2d70ff 31.5px,#2044ff 32.5px,#1716ff 34.5px,#1505ff 35.5px,#1400ff 36.5px,#1400ff 50.5px,#1403ff 51.5px,#1719ff 53.5px,#1d36ff 54.5px,#2e73ff 55.5px,#4cbcff 56.5px,#67ebfa 57.5px,#74f8ed 58.5px,#79f8e4 59.5px,#7bf8e1 60.5px,#7bf8e0 62.5px,#77f8e7 64.5px,#70f8f4 65.5px,#63e5fd 66.5px,#55cdff 67.5px,#41aaff 69.5px,#3892ff 70.5px,#378dff 71.5px,#46b2ff 72.5px,#5eddff 73.5px,#6df3f6 74.5px,#78f8e6 75.5px,#71e5be 76.5px,#5fcf9f 77.5px,#6de1b7 78.5px,#7ff8da 79.5px,#79f8e5 83.5px,#6ff6f5 85.5px,#63e5fd 86.5px,#4ec0ff 87.5px,#378eff 88.5px,#2863ff 89.5px,#2452ff 90.5px,#1612ff 99.5px,#1400ff 102.5px,#1400ff 122.5px),linear-gradient(90deg,#1400ff 0.5px,#1400ff 16.5px,#181aff 17.5px,#2044ff 18.5px,#1716ff 19.5px,#1401ff 20.5px,#160dff 21.5px,#1d36ff 23.5px,#2659ff 24.5px,#3fa6ff 25.5px,#62e3fd 26.5px,#6cf2f7 27.5px,#6ef4f6 28.5px,#69edf9 29.5px,#53c9ff 30.5px,#307bff 31.5px,#2148ff 32.5px,#1b2eff 33.5px,#1507ff 35.5px,#1400ff 36.5px,#1401ff 51.5px,#1713ff 53.5px,#1a28ff 54.5px,#265bff 55.5px,#3fa5ff 56.5px,#61e1ff 57.5px,#70f8f3 58.5px,#77f8e7 59.5px,#7bf8e1 61.5px,#7af8e2 63.5px,#73f8ef 65.5px,#67ebfa 66.5px,#58d2ff 67.5px,#45b1ff 69.5px,#3b99ff 70.5px,#368cff 71.5px,#3ea3ff 72.5px,#55cdff 73.5px,#67ebfa 74.5px,#73f8f0 75.5px,#80f8d8 77.5px,#79f8e4 83.5px,#72f8f1 85.5px,#68ecfa 86.5px,#56cfff 87.5px,#3d9fff 88.5px,#2d6fff 89.5px,#2659ff 90.5px,#1717ff 99.5px,#1400ff 103.5px,#1400ff 122.5px),linear-gradient(90deg,#1400ff 0.5px,#1400ff 16.5px,#1716ff 17.5px,#2043ff 18.5px,#1718ff 19.5px,#1400ff 20.5px,#1509ff 21.5px,#1b31ff 23.5px,#2350ff 24.5px,#3994ff 25.5px,#5cd9ff 26.5px,#6aeff8 27.5px,#6cf2f7 28.5px,#68edf9 29.5px,#56cfff 30.5px,#3485ff 31.5px,#234dff 32.5px,#1b31ff 33.5px,#1508ff 35.5px,#1400ff 36.5px,#1400ff 51.5px,#160eff 53.5px,#181fff 54.5px,#2147ff 55.5px,#368bff 56.5px,#56cfff 57.5px,#6cf2f7 58.5px,#75f8eb 59.5px,#79f8e4 60.5px,#7af8e2 63.5px,#75f8ec 65.5px,#6bf1f7 66.5px,#5cdaff 67.5px,#51c6ff 68.5px,#3995ff 71.5px,#3d9fff 72.5px,#62e2fe 74.5px,#6ef5f5 75.5px,#79f8e4 77.5px,#7bf8e1 79.5px,#7af8e3 83.5px,#73f8ee 85.5px,#6bf1f7 86.5px,#5ddbff 87.5px,#45b0ff 88.5px,#327fff 89.5px,#2860ff 90.5px,#2555ff 91.5px,#1716ff 100.5px,#1400ff 104.5px,#1400ff 122.5px),linear-gradient(90deg,#1400ff 0.5px,#1400ff 16.5px,#1714ff 17.5px,#1f41ff 18.5px,#181dff 19.5px,#1402ff 20.5px,#1505ff 21.5px,#1a2bff 23.5px,#2147ff 24.5px,#327fff 25.5px,#54cbff 26.5px,#67ebfa 27.5px,#6af0f8 28.5px,#68ecfa 29.5px,#59d3ff 30.5px,#378fff 31.5px,#2451ff 32.5px,#1c33ff 33.5px,#181dff 34.5px,#150aff 35.5px,#1400ff 36.5px,#1402ff 52.5px,#1717ff 54.5px,#1c34ff 55.5px,#2d71ff 56.5px,#4abaff 57.5px,#66e9fb 58.5px,#73f8ef 59.5px,#7af8e2 61.5px,#7af8e2 63.5px,#76f8ea 65.5px,#6ff6f5 66.5px,#62e2fe 67.5px,#54caff 68.5px,#42acff 70.5px,#3ea3ff 71.5px,#40a8ff 72.5px,#49b8ff 73.5px,#5ad6ff 74.5px,#69eef9 75.5px,#72f8f0 76.5px,#79f8e4 78.5px,#7af8e2 82.5px,#78f8e6 84.5px,#6ef5f5 86.5px,#63e4fd 87.5px,#4dbfff 88.5px,#388fff 89.5px,#2a69ff 90.5px,#265aff 91.5px,#181bff 100.5px,#1402ff 104.5px,#1400ff 105.5px,#1400ff 122.5px),linear-gradient(90deg,#1400ff 0.5px,#1400ff 16.5px,#1611ff 17.5px,#1e3cff 18.5px,#1925ff 19.5px,#1505ff 20.5px,#1402ff 21.5px,#1611ff 22.5px,#1f3eff 24.5px,#2b6cff 25.5px,#4bbcff 26.5px,#64e6fc 27.5px,#69edf9 28.5px,#67ebfa 29.5px,#5bd7ff 30.5px,#3a97ff 31.5px,#2555ff 32.5px,#1d36ff 33.5px,#1820ff 34.5px,#160cff 35.5px,#1400ff 36.5px,#1400ff 52.5px,#1610ff 54.5px,#1926ff 55.5px,#2659ff 56.5px,#3ea2ff 57.5px,#5eddff 58.5px,#6ff6f5 59.5px,#76f8e9 60.5px,#7af8e3 62.5px,#79f8e4 64.5px,#71f8f2 66.5px,#66e8fb 67.5px,#56cfff 68.5px,#4dbfff 69.5px,#47b4ff 70.5px,#45b1ff 71.5px,#4cbeff 73.5px,#56cfff 74.5px,#64e7fc 75.5px,#6ff7f5 76.5px,#78f8e6 78.5px,#7af8e2 80.5px,#78f8e6 84.5px,#70f8f3 86.5px,#67eafa 87.5px,#55cdff 88.5px,#3d9fff 89.5px,#2e73ff 90.5px,#2760ff 91.5px,#1820ff 100.5px,#1401ff 105.5px,#1400ff 122.5px),linear-gradient(90deg,#1400ff 0.5px,#1400ff 16.5px,#160dff 17.5px,#1c34ff 18.5px,#1a2dff 19.5px,#1509ff 20.5px,#1400ff 21.5px,#160dff 22.5px,#1d37ff 24.5px,#275dff 25.5px,#43adff 26.5px,#60e1ff 27.5px,#67eafa 28.5px,#66e9fb 29.5px,#5cd9ff 30.5px,#3da0ff 31.5px,#2659ff 32.5px,#1d38ff 33.5px,#160eff 35.5px,#1400ff 36.5px,#1403ff 53.5px,#160cff 54.5px,#181cff 55.5px,#2042ff 56.5px,#3485ff 57.5px,#52c8ff 58.5px,#69eef9 59.5px,#74f8ee 60.5px,#78f8e7 61.5px,#79f8e4 63.5px,#77f8e7 65.5px,#73f8ef 66.5px,#69eef9 67.5px,#5ad5ff 68.5px,#4fc3ff 69.5px,#4bbcff 70.5px,#58d2ff 74.5px,#6bf1f7 76.5px,#73f8ef 77.5px,#79f8e5 79.5px,#7af8e3 81.5px,#78f8e6 84.5px,#72f8f1 86.5px,#6aeff8 87.5px,#5cd9ff 88.5px,#44afff 89.5px,#3381ff 90.5px,#2a67ff 91.5px,#181fff 101.5px,#1400ff 106.5px,#1400ff 122.5px),linear-gradient(90deg,#1400ff 0.5px,#1400ff 16.5px,#1507ff 17.5px,#1a2aff 18.5px,#1c33ff 19.5px,#160dff 20.5px,#1400ff 21.5px,#1509ff 22.5px,#181bff 23.5px,#1b31ff 24.5px,#2453ff 25.5px,#3c9cff 26.5px,#5bd7ff 27.5px,#65e7fc 28.5px,#65e8fc 29.5px,#5ddcff 30.5px,#40a8ff 31.5px,#275eff 32.5px,#1e3aff 33.5px,#1610ff 35.5px,#1401ff 36.5px,#1400ff 53.5px,#1713ff 55.5px,#1b2eff 56.5px,#2a67ff 57.5px,#45b0ff 58.5px,#63e4fd 59.5px,#70f8f3 60.5px,#76f8e9 61.5px,#79f8e5 63.5px,#77f8e7 65.5px,#6df3f6 67.5px,#60e0ff 68.5px,#52c8ff 69.5px,#50c3ff 70.5px,#61e1ff 75.5px,#70f8f4 77.5px,#78f8e7 79.5px,#79f8e4 81.5px,#78f8e6 84.5px,#73f8ef 86.5px,#6df3f6 87.5px,#62e2fe 88.5px,#4cbeff 89.5px,#3891ff 90.5px,#2c6fff 91.5px,#2862ff 92.5px,#1716ff 103.5px,#1400ff 107.5px,#1400ff 122.5px),linear-gradient(90deg,#1400ff 0.5px,#1402ff 17.5px,#1d37ff 19.5px,#1610ff 20.5px,#1400ff 21.5px,#1505ff 22.5px,#1a2bff 24.5px,#224aff 25.5px,#3588ff 26.5px,#53caff 27.5px,#62e4fd 28.5px,#64e6fc 29.5px,#5eddff 30.5px,#44b0ff 31.5px,#2863ff 32.5px,#1f3dff 33.5px,#1612ff 35.5px,#1402ff 36.5px,#1400ff 53.5px,#1403ff 54.5px,#160cff 55.5px,#181fff 56.5px,#234eff 57.5px,#3995ff 58.5px,#58d3ff 59.5px,#6bf1f7 60.5px,#74f8ed 61.5px,#77f8e8 62.5px,#78f8e6 64.5px,#75f8eb 66.5px,#70f7f4 67.5px,#64e6fc 68.5px,#55cdff 69.5px,#54cbff 70.5px,#61e1ff 73.5px,#63e4fd 75.5px,#73f8ef 78.5px,#78f8e6 80.5px,#78f8e6 83.5px,#76f8e9 85.5px,#6ff6f5 87.5px,#65e8fb 88.5px,#54cbff 89.5px,#3da0ff 90.5px,#3078ff 91.5px,#2a67ff 92.5px,#2760ff 93.5px,#1402ff 107.5px,#1400ff 122.5px),linear-gradient(90deg,#1400ff 0.5px,#1400ff 17.5px,#1714ff 18.5px,#1d37ff 19.5px,#1611ff 20.5px,#1400ff 21.5px,#1402ff 22.5px,#1926ff 24.5px,#1f40ff 25.5px,#2d72ff 26.5px,#4bbbff 27.5px,#5fdfff 28.5px,#62e3fd 29.5px,#5eddff 30.5px,#49b7ff 31.5px,#2d6fff 32.5px,#2042ff 33.5px,#1714ff 35.5px,#1404ff 36.5px,#1400ff 37.5px,#1400ff 54.5px,#1507ff 55.5px,#1714ff 56.5px,#1d38ff 57.5px,#2f77ff 58.5px,#4cbdff 59.5px,#66e8fb 60.5px,#71f8f2 61.5px,#76f8ea 62.5px,#77f8e7 64.5px,#75f8eb 66.5px,#71f8f2 67.5px,#67ebfa 68.5px,#5ad5ff 69.5px,#58d3ff 70.5px,#62e3fe 72.5px,#66e9fb 76.5px,#71f8f3 78.5px,#77f8e8 80.5px,#78f8e6 82.5px,#76f8e9 85.5px,#70f8f3 87.5px,#68edf9 88.5px,#5bd7ff 89.5px,#44afff 90.5px,#3484ff 91.5px,#2c6eff 92.5px,#2964ff 93.5px,#1b2eff 101.5px,#1401ff 108.5px,#1400ff 122.5px),linear-gradient(90deg,#1400ff 0.5px,#1400ff 17.5px,#1610ff 18.5px,#1c34ff 19.5px,#1612ff 20.5px,#1400ff 21.5px,#1400ff 22.5px,#160dff 23.5px,#1d37ff 25.5px,#275eff 26.5px,#41aaff 27.5px,#5bd7ff 28.5px,#61e1ff 29.5px,#5edcff 30.5px,#4dbeff 31.5px,#317dff 32.5px,#2148ff 33.5px,#1a2cff 34.5px,#1505ff 36.5px,#1400ff 37.5px,#1402ff 55.5px,#160cff 56.5px,#1924ff 57.5px,#265bff 58.5px,#3ea4ff 59.5px,#5edcff 60.5px,#6df4f6 61.5px,#74f8ed 62.5px,#77f8e9 65.5px,#73f8f0 67.5px,#6bf0f8 68.5px,#60e0ff 69.5px,#5ddaff 70.5px,#66e9fb 73.5px,#68ecf9 77.5px,#6ef5f5 78.5px,#77f8e8 81.5px,#76f8ea 85.5px,#71f8f2 87.5px,#6bf1f7 88.5px,#61e1ff 89.5px,#4dbeff 90.5px,#3994ff 91.5px,#2f76ff 92.5px,#2a69ff 93.5px,#1a2dff 102.5px,#1400ff 109.5px,#1400ff 122.5px),linear-gradient(90deg,#1400ff 0.5px,#1400ff 17.5px,#160dff 18.5px,#1a2eff 19.5px,#1400ff 21.5px,#1400ff 22.5px,#1509ff 23.5px,#1b31ff 25.5px,#2453ff 26.5px,#3b9aff 27.5px,#55cdff 28.5px,#5eddff 29.5px,#5ddbff 30.5px,#50c3ff 31.5px,#3588ff 32.5px,#224dff 33.5px,#1b2eff 34.5px,#1507ff 36.5px,#1400ff 37.5px,#1400ff 55.5px,#1506ff 56.5px,#1717ff 57.5px,#2043ff 58.5px,#3587ff 59.5px,#52c8ff 60.5px,#68ecf9 61.5px,#72f8f1 62.5px,#76f8e9 64.5px,#73f8ee 67.5px,#6ef4f6 68.5px,#64e6fc 69.5px,#60dfff 70.5px,#69edf9 74.5px,#68ebfa 77.5px,#71f8f2 79.5px,#76f8e9 82.5px,#76f8ea 85.5px,#72f8f1 87.5px,#6df4f6 88.5px,#64e7fc 89.5px,#55ccff 90.5px,#3fa5ff 91.5px,#327fff 92.5px,#2c6eff 93.5px,#2a67ff 94.5px,#1a2bff 103.5px,#1403ff 109.5px,#1400ff 122.5px),linear-gradient(90deg,#1400ff 0.5px,#1400ff 17.5px,#1508ff 18.5px,#1925ff 19.5px,#181cff 20.5px,#1504ff 21.5px,#1400ff 22.5px,#1505ff 23.5px,#1a2bff 25.5px,#224aff 26.5px,#3587ff 27.5px,#4fc2ff 28.5px,#5bd8ff 29.5px,#5cd8ff 30.5px,#51c7ff 31.5px,#3992ff 32.5px,#2451ff 33.5px,#1b31ff 34.5px,#1509ff 36.5px,#1400ff 37.5px,#1401ff 56.5px,#160dff 57.5px,#1b2eff 58.5px,#2b69ff 59.5px,#45b1ff 60.5px,#62e3fe 61.5px,#6ef5f5 62.5px,#73f8ee 63.5px,#75f8eb 66.5px,#6ff7f4 68.5px,#61e1fe 70.5px,#69edf9 74.5px,#69eef9 78.5px,#6ff6f5 79.5px,#76f8ea 82.5px,#74f8ed 86.5px,#6ef6f5 88.5px,#67ebfa 89.5px,#5cd8ff 90.5px,#378dff 92.5px,#2f75ff 93.5px,#2b6cff 94.5px,#1b2fff 103.5px,#1401ff 110.5px,#1400ff 122.5px),linear-gradient(90deg,#1400ff 0.5px,#1400ff 17.5px,#1403ff 18.5px,#171aff 19.5px,#1921ff 20.5px,#1507ff 21.5px,#1400ff 22.5px,#1402ff 23.5px,#1926ff 25.5px,#1f41ff 26.5px,#2e73ff 27.5px,#47b4ff 28.5px,#58d1ff 29.5px,#5ad5ff 30.5px,#52c8ff 31.5px,#3b9aff 32.5px,#2555ff 33.5px,#1c33ff 34.5px,#150bff 36.5px,#1400ff 37.5px,#1400ff 56.5px,#1507ff 57.5px,#181eff 58.5px,#2350ff 59.5px,#3a96ff 60.5px,#57d1ff 61.5px,#69eef9 62.5px,#71f8f2 63.5px,#75f8ec 65.5px,#70f8f4 68.5px,#62e2fe 70.5px,#61e2fe 71.5px,#68ecfa 74.5px,#68ebfa 78.5px,#71f8f2 80.5px,#75f8eb 83.5px,#74f8ed 86.5px,#6ff7f4 88.5px,#61e1fe 90.5px,#4fc3ff 91.5px,#3c9cff 92.5px,#317dff 93.5px,#2d70ff 94.5px,#1a2dff 104.5px,#1400ff 111.5px,#1400ff 122.5px),linear-gradient(90deg,#1400ff 0.5px,#1400ff 18.5px,#1924ff 20.5px,#150aff 21.5px,#1400ff 22.5px,#1400ff 23.5px,#160dff 24.5px,#1d38ff 26.5px,#275fff 27.5px,#3fa5ff 28.5px,#54caff 29.5px,#58d2ff 30.5px,#53c8ff 31.5px,#3ea1ff 32.5px,#265cff 33.5px,#1d36ff 34.5px,#160cff 36.5px,#1400ff 37.5px,#1400ff 56.5px,#1505ff 57.5px,#1715ff 58.5px,#1e3aff 59.5px,#2f76ff 60.5px,#49b8ff 61.5px,#63e4fd 62.5px,#6df4f6 63.5px,#72f8f1 64.5px,#73f8ee 66.5px,#70f8f3 68.5px,#60e0ff 71.5px,#67ebfa 75.5px,#67eafa 78.5px,#6ef6f5 80.5px,#74f8ec 83.5px,#70f7f4 88.5px,#64e6fc 90.5px,#56cfff 91.5px,#42abff 92.5px,#3586ff 93.5px,#2f75ff 94.5px,#1a2bff 105.5px,#1403ff 111.5px,#1400ff 122.5px),linear-gradient(90deg,#1400ff 0.5px,#1400ff 18.5px,#160bff 19.5px,#1925ff 20.5px,#150bff 21.5px,#1400ff 22.5px,#1400ff 23.5px,#1509ff 24.5px,#1b31ff 26.5px,#2453ff 27.5px,#3a95ff 28.5px,#4fc2ff 29.5px,#55ceff 30.5px,#52c8ff 31.5px,#40a9ff 32.5px,#2a66ff 33.5px,#1e3bff 34.5px,#160eff 36.5px,#1400ff 37.5px,#1403ff 57.5px,#160fff 58.5px,#1927ff 59.5px,#2556ff 60.5px,#3b99ff 61.5px,#57d0ff 62.5px,#68ecfa 63.5px,#6ff7f5 64.5px,#72f8f1 65.5px,#70f8f4 68.5px,#6cf3f7 69.5px,#5fdeff 71.5px,#66e9fb 75.5px,#67eafa 79.5px,#70f8f4 81.5px,#73f8ee 84.5px,#70f7f4 88.5px,#66e9fb 90.5px,#5cd9ff 91.5px,#3994ff 93.5px,#317bff 94.5px,#2d72ff 95.5px,#1b2fff 105.5px,#1401ff 112.5px,#1400ff 122.5px),linear-gradient(90deg,#1400ff 0.5px,#1400ff 18.5px,#150aff 19.5px,#1922ff 20.5px,#150aff 21.5px,#1400ff 22.5px,#1505ff 24.5px,#1a2bff 26.5px,#224aff 27.5px,#3485ff 28.5px,#49b8ff 29.5px,#53c9ff 30.5px,#51c7ff 31.5px,#44aeff 32.5px,#2e73ff 33.5px,#1f41ff 34.5px,#1925ff 35.5px,#1401ff 37.5px,#1401ff 57.5px,#150bff 58.5px,#181bff 59.5px,#1e3cff 60.5px,#2f76ff 61.5px,#48b6ff 62.5px,#61e1ff 63.5px,#6bf0f8 64.5px,#71f8f3 66.5px,#6df3f6 69.5px,#5cd9ff 72.5px,#64e6fc 75.5px,#66e8fb 79.5px,#70f8f4 82.5px,#72f8f0 85.5px,#6cf3f6 89.5px,#60e1ff 91.5px,#51c6ff 92.5px,#3ea3ff 93.5px,#3383ff 94.5px,#2f76ff 95.5px,#1a2dff 106.5px,#1400ff 113.5px,#1400ff 122.5px),linear-gradient(90deg,#1400ff 0.5px,#1400ff 18.5px,#1507ff 19.5px,#181bff 20.5px,#1509ff 21.5px,#1400ff 22.5px,#1402ff 24.5px,#1926ff 26.5px,#1f40ff 27.5px,#2d71ff 28.5px,#42acff 29.5px,#50c3ff 30.5px,#50c5ff 31.5px,#46b3ff 32.5px,#3280ff 33.5px,#2147ff 34.5px,#1a29ff 35.5px,#1404ff 37.5px,#1400ff 38.5px,#1400ff 57.5px,#1714ff 59.5px,#1a2aff 60.5px,#2556ff 61.5px,#3a96ff 62.5px,#55ccff 63.5px,#65e8fb 64.5px,#6cf2f7 65.5px,#6ff7f5 67.5px,#6df3f6 69.5px,#68ecf9 70.5px,#5ad5ff 72.5px,#62e3fe 75.5px,#66e8fb 80.5px,#6df4f6 82.5px,#71f8f3 84.5px,#70f8f4 87.5px,#69edf9 90.5px,#63e4fd 91.5px,#57d0ff 92.5px,#378eff 94.5px,#307aff 95.5px,#160fff 111.5px,#1400ff 114.5px,#1400ff 122.5px),linear-gradient(90deg,#1400ff 0.5px,#1400ff 18.5px,#1402ff 19.5px,#1610ff 20.5px,#1400ff 22.5px,#1400ff 24.5px,#160dff 25.5px,#1d37ff 27.5px,#275dff 28.5px,#3c9dff 29.5px,#4cbdff 30.5px,#4fc2ff 31.5px,#48b7ff 32.5px,#368cff 33.5px,#234dff 34.5px,#1a2dff 35.5px,#1506ff 37.5px,#1400ff 38.5px,#1400ff 57.5px,#1504ff 58.5px,#181eff 60.5px,#1e3cff 61.5px,#2e74ff 62.5px,#46b2ff 63.5px,#5eddff 64.5px,#68ecf9 65.5px,#6ef4f6 67.5px,#6cf2f7 69.5px,#63e4fd 71.5px,#59d4ff 72.5px,#57d1ff 73.5px,#62e2fe 76.5px,#64e6fc 80.5px,#6ef4f6 83.5px,#70f8f4 85.5px,#6cf2f7 89.5px,#64e7fc 91.5px,#5bd8ff 92.5px,#4cbcff 93.5px,#3b9bff 94.5px,#3280ff 95.5px,#2f76ff 96.5px,#1b30ff 107.5px,#1402ff 114.5px,#1400ff 122.5px),linear-gradient(90deg,#1400ff 0.5px,#1400ff 24.5px,#1508ff 25.5px,#1b2eff 27.5px,#234fff 28.5px,#368cff 29.5px,#47b5ff 30.5px,#4dbfff 31.5px,#49b8ff 32.5px,#3995ff 33.5px,#2556ff 34.5px,#1b31ff 35.5px,#1509ff 37.5px,#1400ff 38.5px,#1401ff 58.5px,#1715ff 60.5px,#1a2aff 61.5px,#2555ff 62.5px,#3994ff 63.5px,#52c8ff 64.5px,#63e5fd 65.5px,#69eef9 66.5px,#6cf2f7 68.5px,#69edf9 70.5px,#64e6fc 71.5px,#55ccff 73.5px,#61e2fe 77.5px,#64e6fc 81.5px,#6df4f6 84.5px,#6ef5f5 86.5px,#69eef9 90.5px,#5fdeff 92.5px,#52c7ff 93.5px,#40a7ff 94.5px,#3587ff 95.5px,#3079ff 96.5px,#1a2dff 108.5px,#1400ff 115.5px,#1400ff 122.5px),linear-gradient(90deg,#1400ff 0.5px,#1400ff 24.5px,#1404ff 25.5px,#1927ff 27.5px,#2044ff 28.5px,#42abff 30.5px,#4bbbff 31.5px,#49b8ff 32.5px,#3d9eff 33.5px,#2863ff 34.5px,#1d38ff 35.5px,#160cff 37.5px,#1400ff 38.5px,#1400ff 58.5px,#1505ff 59.5px,#181dff 61.5px,#1e3bff 62.5px,#2d72ff 63.5px,#44afff 64.5px,#5bd8ff 65.5px,#66e8fb 66.5px,#6af0f8 68.5px,#68edf9 70.5px,#65e7fc 71.5px,#53c9ff 73.5px,#53c9ff 74.5px,#5fdeff 77.5px,#63e4fd 81.5px,#6bf1f7 84.5px,#6df3f6 86.5px,#69eef9 90.5px,#61e2fe 92.5px,#56cfff 93.5px,#3993ff 95.5px,#327eff 96.5px,#2f76ff 97.5px,#2454ff 103.5px,#1404ff 115.5px,#1400ff 116.5px,#1400ff 122.5px),linear-gradient(90deg,#1400ff 0.5px,#1400ff 25.5px,#160eff 26.5px,#1d39ff 28.5px,#2863ff 29.5px,#3c9dff 30.5px,#48b6ff 31.5px,#49b7ff 32.5px,#3fa5ff 33.5px,#1f3fff 35.5px,#1923ff 36.5px,#1400ff 38.5px,#1400ff 59.5px,#1713ff 61.5px,#1928ff 62.5px,#2453ff 63.5px,#3890ff 64.5px,#4fc3ff 65.5px,#61e1ff 66.5px,#66eafb 67.5px,#68edf9 69.5px,#64e7fc 71.5px,#5eddff 72.5px,#54cbff 73.5px,#50c4ff 74.5px,#5fddff 78.5px,#6bf1f7 87.5px,#69edf9 90.5px,#62e3fd 92.5px,#5ad6ff 93.5px,#4cbeff 94.5px,#3d9fff 95.5px,#3484ff 96.5px,#3079ff 97.5px,#2558ff 103.5px,#1402ff 116.5px,#1400ff 122.5px),linear-gradient(90deg,#1400ff 0.5px,#1400ff 25.5px,#1509ff 26.5px,#1b2fff 28.5px,#2451ff 29.5px,#378dff 30.5px,#44b0ff 31.5px,#48b5ff 32.5px,#41a9ff 33.5px,#317dff 34.5px,#2045ff 35.5px,#1926ff 36.5px,#1402ff 38.5px,#1400ff 59.5px,#1403ff 60.5px,#181bff 62.5px,#1d39ff 63.5px,#41a9ff 65.5px,#57d0ff 66.5px,#62e3fe 67.5px,#66e9fb 69.5px,#63e5fd 71.5px,#5fdeff 72.5px,#4ec0ff 74.5px,#4fc2ff 75.5px,#5eddff 79.5px,#6aeff8 87.5px,#66e9fb 91.5px,#5ddaff 93.5px,#51c6ff 94.5px,#368cff 96.5px,#317cff 97.5px,#2556ff 104.5px,#1400ff 117.5px,#1400ff 122.5px),linear-gradient(90deg,#1400ff 0.5px,#1400ff 25.5px,#1504ff 26.5px,#1928ff 28.5px,#2146ff 29.5px,#317dff 30.5px,#40a8ff 31.5px,#46b2ff 32.5px,#42abff 33.5px,#3486ff 34.5px,#224bff 35.5px,#1a2bff 36.5px,#1505ff 38.5px,#1400ff 39.5px,#1400ff 60.5px,#1611ff 62.5px,#1925ff 63.5px,#234eff 64.5px,#3587ff 65.5px,#49b8ff 66.5px,#5ad6ff 67.5px,#61e2fe 68.5px,#62e3fe 71.5px,#5eddff 72.5px,#4ec0ff 74.5px,#4bbcff 75.5px,#5ddcff 80.5px,#68ecfa 86.5px,#69edf9 88.5px,#66e8fb 91.5px,#5eddff 93.5px,#55cdff 94.5px,#3a97ff 96.5px,#3381ff 97.5px,#3079ff 98.5px,#265aff 104.5px,#1504ff 117.5px,#1400ff 118.5px,#1400ff 122.5px),linear-gradient(90deg,#1400ff 0.5px,#1400ff 26.5px,#1921ff 28.5px,#1e3cff 29.5px,#3c9cff 31.5px,#44aeff 32.5px,#42abff 33.5px,#378fff 34.5px,#2556ff 35.5px,#1b30ff 36.5px,#1507ff 38.5px,#1400ff 39.5px,#1402ff 61.5px,#1717ff 63.5px,#1c33ff 64.5px,#2863ff 65.5px,#3c9cff 66.5px,#4fc2ff 67.5px,#5bd7ff 68.5px,#60e0ff 69.5px,#60e0ff 71.5px,#5ddbff 72.5px,#49b7ff 75.5px,#5bd7ff 80.5px,#67ebfa 88.5px,#65e7fc 91.5px,#5fdfff 93.5px,#58d2ff 94.5px,#4cbeff 95.5px,#3486ff 97.5px,#317bff 98.5px,#2557ff 105.5px,#1402ff 118.5px,#1400ff 122.5px),linear-gradient(90deg,#1400ff 0.5px,#1400ff 26.5px,#1509ff 27.5px,#1b32ff 29.5px,#2557ff 30.5px,#378eff 31.5px,#41a9ff 32.5px,#41aaff 33.5px,#3a96ff 34.5px,#2863ff 35.5px,#1d37ff 36.5px,#181dff 37.5px,#150aff 38.5px,#1400ff 39.5px,#1400ff 61.5px,#160fff 63.5px,#1820ff 64.5px,#2044ff 65.5px,#42abff 67.5px,#52c8ff 68.5px,#5ad6ff 69.5px,#5ddbff 70.5px,#5bd7ff 72.5px,#57cfff 73.5px,#47b5ff 75.5px,#47b4ff 76.5px,#54cbff 79.5px,#5ad6ff 81.5px,#65e8fb 88.5px,#62e3fd 92.5px,#60dfff 93.5px,#5ad5ff 94.5px,#50c4ff 95.5px,#388fff 97.5px,#327fff 98.5px,#2555ff 106.5px,#1401ff 119.5px,#1400ff 122.5px),linear-gradient(90deg,#1400ff 0.5px,#1400ff 26.5px,#1504ff 27.5px,#1a29ff 29.5px,#2148ff 30.5px,#327fff 31.5px,#3ea2ff 32.5px,#40a8ff 33.5px,#3b9bff 34.5px,#2c6fff 35.5px,#1e3dff 36.5px,#1820ff 37.5px,#160dff 38.5px,#1400ff 39.5px,#1401ff 62.5px,#1714ff 64.5px,#1a2bff 65.5px,#2558ff 66.5px,#378eff 67.5px,#47b5ff 68.5px,#53caff 69.5px,#58d2ff 70.5px,#59d4ff 71.5px,#55cdff 73.5px,#47b5ff 75.5px,#43aeff 76.5px,#57d0ff 81.5px,#64e6fc 89.5px,#62e2fe 92.5px,#5bd7ff 94.5px,#53c9ff 95.5px,#47b5ff 96.5px,#3383ff 98.5px,#307bff 99.5px,#2659ff 106.5px,#1504ff 119.5px,#1400ff 122.5px),linear-gradient(90deg,#1400ff 0.5px,#1401ff 27.5px,#1922ff 29.5px,#1f3eff 30.5px,#2c6fff 31.5px,#3b99ff 32.5px,#3fa5ff 33.5px,#3c9dff 34.5px,#3078ff 35.5px,#2042ff 36.5px,#1924ff 37.5px,#1401ff 39.5px,#1400ff 62.5px,#160cff 64.5px,#181cff 65.5px,#1e3cff 66.5px,#3c9dff 68.5px,#4bbaff 69.5px,#52c8ff 70.5px,#55cdff 71.5px,#53c9ff 73.5px,#40a7ff 76.5px,#56cfff 82.5px,#62e3fd 89.5px,#61e1ff 92.5px,#5bd7ff 94.5px,#55cdff 95.5px,#4bbcff 96.5px,#3588ff 98.5px,#317dff 99.5px,#2c6dff 103.5px,#2557ff 107.5px,#1402ff 120.5px,#1400ff 122.5px),linear-gradient(90deg,#1400ff 0.5px,#1400ff 27.5px,#150aff 28.5px,#181bff 29.5px,#1c34ff 30.5px,#275cff 31.5px,#378dff 32.5px,#3da1ff 33.5px,#3c9dff 34.5px,#3280ff 35.5px,#224aff 36.5px,#1a29ff 37.5px,#1403ff 39.5px,#1400ff 40.5px,#1400ff 63.5px,#1611ff 65.5px,#1926ff 66.5px,#234eff 67.5px,#3280ff 68.5px,#40a7ff 69.5px,#4bbcff 70.5px,#50c4ff 71.5px,#4fc3ff 73.5px,#4abaff 74.5px,#3c9dff 76.5px,#53caff 82.5px,#61e1ff 90.5px,#5edcff 93.5px,#56ceff 95.5px,#4ec1ff 96.5px,#3891ff 98.5px,#3280ff 99.5px,#265aff 107.5px,#160cff 119.5px,#1401ff 121.5px,#1400ff 122.5px),linear-gradient(90deg,#1400ff 0.5px,#1400ff 27.5px,#1505ff 28.5px,#1a2aff 30.5px,#224bff 31.5px,#327fff 32.5px,#3b9bff 33.5px,#3c9cff 34.5px,#3587ff 35.5px,#2556ff 36.5px,#1b2fff 37.5px,#1717ff 38.5px,#1506ff 39.5px,#1400ff 40.5px,#1402ff 64.5px,#1718ff 66.5px,#1c34ff 67.5px,#368bff 69.5px,#40a9ff 70.5px,#48b6ff 71.5px,#4ab9ff 72.5px,#48b6ff 73.5px,#41a9ff 74.5px,#3a97ff 75.5px,#3890ff 76.5px,#48b6ff 80.5px,#50c4ff 82.5px,#5ddbff 89.5px,#5fddff 91.5px,#5ad5ff 94.5px,#50c4ff 96.5px,#46b3ff 97.5px,#3382ff 99.5px,#307bff 100.5px,#2d72ff 103.5px,#275eff 107.5px,#1400ff 122.5px),linear-gradient(90deg,#1400ff 0.5px,#1401ff 28.5px,#1922ff 30.5px,#1f3fff 31.5px,#2d71ff 32.5px,#3994ff 33.5px,#3b9aff 34.5px,#368cff 35.5px,#1c35ff 37.5px,#181aff 38.5px,#1508ff 39.5px,#1400ff 40.5px,#1400ff 64.5px,#160fff 66.5px,#1820ff 67.5px,#3485ff 70.5px,#3a97ff 71.5px,#3c9dff 72.5px,#3b98ff 73.5px,#327fff 75.5px,#3383ff 76.5px,#43aeff 80.5px,#4fc3ff 83.5px,#5cdaff 91.5px,#59d4ff 94.5px,#51c6ff 96.5px,#48b6ff 97.5px,#3484ff 99.5px,#317bff 100.5px,#2d70ff 104.5px,#265cff 108.5px,#1504ff 122.5px),linear-gradient(90deg,#1400ff 0.5px,#1400ff 28.5px,#150aff 29.5px,#181cff 30.5px,#1d36ff 31.5px,#368aff 33.5px,#3a97ff 34.5px,#378eff 35.5px,#2b6aff 36.5px,#1e3aff 37.5px,#181eff 38.5px,#160bff 39.5px,#1400ff 40.5px,#1401ff 65.5px,#1713ff 67.5px,#1924ff 68.5px,#2555ff 70.5px,#2966ff 71.5px,#2c6eff 72.5px,#2a69ff 74.5px,#2c6cff 75.5px,#3fa6ff 80.5px,#4cbdff 83.5px,#5ad5ff 91.5px,#58d1ff 94.5px,#51c5ff 96.5px,#48b6ff 97.5px,#3383ff 99.5px,#317bff 100.5px,#2f75ff 103.5px,#2964ff 107.5px,#1508ff 122.5px),linear-gradient(90deg,#1400ff 0.5px,#1400ff 28.5px,#1505ff 29.5px,#1715ff 30.5px,#1a2cff 31.5px,#2350ff 32.5px,#327eff 33.5px,#3992ff 34.5px,#378fff 35.5px,#2d71ff 36.5px,#1f40ff 37.5px,#1922ff 38.5px,#1400ff 40.5px,#1400ff 65.5px,#160cff 67.5px,#1e3dff 71.5px,#2860ff 75.5px,#3891ff 79.5px,#44afff 82.5px,#4ec1ff 85.5px,#58d1ff 92.5px,#56cfff 94.5px,#4fc2ff 96.5px,#46b2ff 97.5px,#3381ff 99.5px,#307bff 100.5px,#2f76ff 103.5px,#2a67ff 107.5px,#160cff 122.5px),linear-gradient(90deg,#1400ff 0.5px,#1401ff 29.5px,#1923ff 31.5px,#1f41ff 32.5px,#2d71ff 33.5px,#378dff 34.5px,#378eff 35.5px,#3078ff 36.5px,#224aff 37.5px,#1927ff 38.5px,#1611ff 39.5px,#1402ff 40.5px,#1400ff 66.5px,#160fff 68.5px,#1d37ff 72.5px,#40a7ff 82.5px,#4dbfff 86.5px,#55cdff 92.5px,#54caff 94.5px,#4bbbff 96.5px,#327fff 99.5px,#2b6aff 107.5px,#2350ff 112.5px,#1610ff 122.5px),linear-gradient(90deg,#1400ff 0.5px,#1400ff 29.5px,#150aff 30.5px,#181cff 31.5px,#1d37ff 32.5px,#2863ff 33.5px,#3485ff 34.5px,#368cff 35.5px,#317dff 36.5px,#1a2dff 38.5px,#1714ff 39.5px,#1504ff 40.5px,#1400ff 41.5px,#1401ff 67.5px,#1d39ff 73.5px,#40a8ff 83.5px,#4cbeff 87.5px,#51c6ff 92.5px,#4fc2ff 94.5px,#4bbbff 95.5px,#44afff 96.5px,#378dff 98.5px,#3280ff 99.5px,#307aff 100.5px,#2f76ff 104.5px,#2a68ff 108.5px,#234dff 113.5px,#1714ff 122.5px),linear-gradient(90deg,#1400ff 0.5px,#1400ff 29.5px,#1506ff 30.5px,#1716ff 31.5px,#1a2eff 32.5px,#317bff 34.5px,#3589ff 35.5px,#3280ff 36.5px,#275dff 37.5px,#1c32ff 38.5px,#1718ff 39.5px,#1507ff 40.5px,#1400ff 41.5px,#1400ff 67.5px,#1403ff 68.5px,#181dff 71.5px,#275cff 77.5px,#368bff 81.5px,#40a8ff 84.5px,#4ab9ff 87.5px,#4dbeff 90.5px,#49b7ff 94.5px,#307bff 100.5px,#2e74ff 105.5px,#2b6bff 108.5px,#2451ff 113.5px,#1719ff 122.5px),linear-gradient(90deg,#1400ff 0.5px,#1402ff 30.5px,#1610ff 31.5px,#1924ff 32.5px,#2044ff 33.5px,#2d70ff 34.5px,#3484ff 35.5px,#3280ff 36.5px,#2863ff 37.5px,#1d37ff 38.5px,#181bff 39.5px,#1509ff 40.5px,#1400ff 41.5px,#1400ff 68.5px,#1820ff 72.5px,#275fff 78.5px,#3da0ff 84.5px,#47b3ff 87.5px,#4bbbff 90.5px,#48b6ff 93.5px,#42acff 95.5px,#3078ff 101.5px,#2f75ff 105.5px,#2a69ff 109.5px,#234fff 114.5px,#181dff 122.5px),linear-gradient(90deg,#1400ff 0.5px,#1400ff 30.5px,#150bff 31.5px,#181cff 32.5px,#1d37ff 33.5px,#2861ff 34.5px,#317cff 35.5px,#327eff 36.5px,#2a67ff 37.5px,#1e3dff 38.5px,#181cff 39.5px,#1509ff 40.5px,#1400ff 41.5px,#1400ff 69.5px,#1a2cff 74.5px,#3da0ff 85.5px,#46b2ff 88.5px,#49b8ff 91.5px,#48b5ff 93.5px,#40a7ff 96.5px,#3079ff 101.5px,#2e74ff 106.5px,#2b6bff 109.5px,#2453ff 114.5px,#1921ff 122.5px),linear-gradient(90deg,#1400ff 0.5px,#1400ff 30.5px,#1506ff 31.5px,#1715ff 32.5px,#1a2bff 33.5px,#2c6eff 35.5px,#2f77ff 36.5px,#2a68ff 37.5px,#181cff 39.5px,#1506ff 40.5px,#1400ff 41.5px,#1402ff 70.5px,#1b2fff 75.5px,#3b98ff 85.5px,#43adff 88.5px,#47b5ff 91.5px,#47b4ff 93.5px,#40a8ff 96.5px,#2f76ff 102.5px,#2e74ff 106.5px,#2a69ff 110.5px,#2451ff 115.5px,#1926ff 122.5px),linear-gradient(90deg,#1400ff 0.5px,#1400ff 31.5px,#181cff 33.5px,#1d37ff 34.5px,#265cff 35.5px,#2c6dff 36.5px,#2966ff 37.5px,#2148ff 38.5px,#181aff 39.5px,#1402ff 40.5px,#1400ff 70.5px,#1404ff 71.5px,#181dff 74.5px,#265aff 80.5px,#3b98ff 86.5px,#42acff 89.5px,#46b3ff 92.5px,#41a9ff 96.5px,#3c9cff 98.5px,#2f77ff 102.5px,#2e73ff 107.5px,#2b6bff 110.5px,#2454ff 115.5px,#1a2aff 122.5px),linear-gradient(90deg,#1400ff 0.5px,#1400ff 31.5px,#1403ff 32.5px,#160cff 33.5px,#1921ff 34.5px,#2148ff 35.5px,#2760ff 36.5px,#2860ff 37.5px,#224bff 38.5px,#1820ff 39.5px,#1403ff 40.5px,#1400ff 71.5px,#160eff 73.5px,#1c33ff 77.5px,#3b99ff 87.5px,#41aaff 90.5px,#45b0ff 93.5px,#3fa4ff 97.5px,#2e74ff 103.5px,#2e73ff 107.5px,#2b69ff 111.5px,#2452ff 116.5px,#1b2fff 122.5px),linear-gradient(90deg,#1400ff 0.5px,#1401ff 33.5px,#160fff 34.5px,#2451ff 36.5px,#2659ff 37.5px,#224cff 38.5px,#1506ff 40.5px,#1400ff 41.5px,#1401ff 72.5px,#1a2cff 77.5px,#3891ff 87.5px,#3fa5ff 90.5px,#43adff 93.5px,#3fa5ff 97.5px,#3b98ff 99.5px,#2e75ff 103.5px,#2d72ff 108.5px,#2b6bff 111.5px,#2556ff 116.5px,#1c33ff 122.5px),linear-gradient(90deg,#1400ff 0.5px,#1400ff 33.5px,#1403ff 34.5px,#181bff 35.5px,#1f3fff 36.5px,#2350ff 37.5px,#2249ff 38.5px,#1a2cff 39.5px,#1508ff 40.5px,#1400ff 41.5px,#1400ff 72.5px,#1505ff 73.5px,#1d39ff 79.5px,#3890ff 88.5px,#3ea3ff 91.5px,#41abff 94.5px,#3da1ff 98.5px,#2d72ff 104.5px,#2d72ff 108.5px,#2b69ff 112.5px,#2659ff 116.5px,#1d38ff 122.5px),linear-gradient(90deg,#1400ff 0.5px,#1400ff 34.5px,#150aff 35.5px,#1a2bff 36.5px,#2041ff 37.5px,#1f40ff 38.5px,#1927ff 39.5px,#1506ff 40.5px,#1400ff 41.5px,#1401ff 73.5px,#1e3bff 80.5px,#3890ff 89.5px,#3ea2ff 92.5px,#40a8ff 95.5px,#3c9cff 99.5px,#2e72ff 104.5px,#2b6bff 112.5px,#265cff 116.5px,#1e3cff 122.5px),linear-gradient(90deg,#1400ff 0.5px,#1401ff 35.5px,#1927ff 37.5px,#1927ff 38.5px,#1401ff 40.5px,#1400ff 73.5px,#1f3eff 81.5px,#3890ff 90.5px,#3da0ff 93.5px,#3fa5ff 95.5px,#3c9cff 99.5px,#2c6fff 105.5px,#2c6fff 110.5px,#2a69ff 113.5px,#1f40ff 122.5px),linear-gradient(90deg,#1400ff 0.5px,#1400ff 35.5px,#1506ff 37.5px,#1400ff 40.5px,#1401ff 74.5px,#2148ff 83.5px,#378fff 91.5px,#3d9eff 94.5px,#3ea2ff 96.5px,#3a98ff 100.5px,#2d70ff 105.5px,#2b6cff 106.5px,#2c6eff 110.5px,#2b6aff 113.5px,#275cff 117.5px,#2044ff 122.5px),linear-gradient(90deg,#1400ff 0.5px,#1400ff 74.5px,#224aff 84.5px,#378eff 92.5px,#3c9cff 95.5px,#3d9fff 97.5px,#3993ff 101.5px,#2b6bff 106.5px,#2c6dff 111.5px,#2a68ff 114.5px,#2148ff 122.5px),linear-gradient(90deg,#1400ff 0.5px,#1401ff 75.5px,#1c32ff 81.5px,#2453ff 86.5px,#3587ff 92.5px,#3a97ff 95.5px,#3c9cff 97.5px,#3994ff 101.5px,#2a68ff 107.5px,#2a69ff 114.5px,#224bff 122.5px),linear-gradient(90deg,#1400ff 0.5px,#1400ff 75.5px,#1c36ff 82.5px,#2453ff 87.5px,#3486ff 93.5px,#3a96ff 96.5px,#3b99ff 98.5px,#378fff 102.5px,#2a68ff 107.5px,#2a67ff 115.5px,#234fff 122.5px),linear-gradient(90deg,#1400ff 0.5px,#1402ff 76.5px,#1d39ff 83.5px,#2454ff 88.5px,#3486ff 94.5px,#3a96ff 98.5px,#388fff 102.5px,#2965ff 108.5px,#2a68ff 115.5px,#2452ff 122.5px),linear-gradient(90deg,#1400ff 0.5px,#1400ff 76.5px,#1e3cff 84.5px,#2454ff 89.5px,#3485ff 95.5px,#3993ff 99.5px,#368bff 103.5px,#2964ff 108.5px,#2a67ff 115.5px,#2555ff 122.5px),linear-gradient(90deg,#1400ff 0.5px,#1400ff 76.5px,#1402ff 77.5px,#1f3eff 85.5px,#2555ff 90.5px,#3484ff 96.5px,#3891ff 100.5px,#3486ff 104.5px,#2760ff 109.5px,#2966ff 116.5px,#2557ff 122.5px),linear-gradient(90deg,#1400ff 0.5px,#1400ff 77.5px,#1e3bff 85.5px,#234fff 90.5px,#317dff 96.5px,#378dff 100.5px,#378dff 102.5px,#3486ff 104.5px,#275dff 109.5px,#2965ff 116.5px,#2659ff 122.5px),linear-gradient(90deg,#1400ff 0.5px,#1400ff 77.5px,#1402ff 78.5px,#1f3eff 86.5px,#234fff 91.5px,#317cff 97.5px,#368aff 101.5px,#3484ff 104.5px,#265aff 109.5px,#2964ff 116.5px,#265bff 122.5px),linear-gradient(90deg,#1400ff 0.5px,#1400ff 78.5px,#1e3bff 86.5px,#2350ff 92.5px,#2f77ff 97.5px,#3587ff 101.5px,#3381ff 104.5px,#2558ff 109.5px,#2863ff 117.5px,#265cff 122.5px);background-position:0 0px,0 1px,0 2px,0 3px,0 4px,0 5px,0 6px,0 7px,0 8px,0 9px,0 10px,0 11px,0 12px,0 13px,0 14px,0 15px,0 16px,0 17px,0 18px,0 19px,0 20px,0 21px,0 22px,0 23px,0 24px,0 25px,0 26px,0 27px,0 28px,0 29px,0 30px,0 31px,0 32px,0 33px,0 34px,0 35px,0 36px,0 37px,0 38px,0 39px,0 40px,0 41px,0 42px,0 43px,0 44px,0 45px,0 46px,0 47px,0 48px,0 49px,0 50px,0 51px,0 52px,0 53px,0 54px,0 55px,0 56px,0 57px,0 58px,0 59px,0 60px,0 61px,0 62px,0 63px,0 64px,0 65px,0 66px,0 67px,0 68px,0 69px,0 70px,0 71px,0 72px,0 73px,0 74px,0 75px,0 76px,0 77px,0 78px;background-size:100% 1px,100% 1px,100% 1px,100% 1px,100% 1px,100% 1px,100% 1px,100% 1px,100% 1px,100% 1px,100% 1px,100% 1px,100% 1px,100% 1px,100% 1px,100% 1px,100% 1px,100% 1px,100% 1px,100% 1px,100% 1px,100% 1px,100% 1px,100% 1px,100% 1px,100% 1px,100% 1px,100% 1px,100% 1px,100% 1px,100% 1px,100% 1px,100% 1px,100% 1px,100% 1px,100% 1px,100% 1px,100% 1px,100% 1px,100% 1px,100% 1px,100% 1px,100% 1px,100% 1px,100% 1px,100% 1px,100% 1px,100% 1px,100% 1px,100% 1px,100% 1px,100% 1px,100% 1px,100% 1px,100% 1px,100% 1px,100% 1px,100% 1px,100% 1px,100% 1px,100% 1px,100% 1px,100% 1px,100% 1px,100% 1px,100% 1px,100% 1px,100% 1px,100% 1px,100% 1px,100% 1px,100% 1px,100% 1px,100% 1px,100% 1px,100% 1px,100% 1px,100% 1px,100% 1px;background-repeat:no-repeat;}
.tb{background-image:linear-gradient(90deg,#1400ff 0.5px,#1400ff 19.5px,#160eff 20.5px,#2044ff 22.5px,#2c6dff 23.5px,#45b1ff 24.5px,#67ebfa 25.5px,#70f7f4 26.5px,#64e7fc 27.5px,#3fa5ff 28.5px,#2964ff 29.5px,#1f40ff 30.5px,#160bff 32.5px,#1400ff 33.5px,#1400ff 48.5px,#160eff 52.5px,#181dff 54.5px,#265aff 60.5px,#2b6aff 63.5px,#2f75ff 68.5px,#317eff 69.5px,#3b99ff 71.5px,#52c7ff 73.5px,#64e5fd 75.5px,#71f8f3 76.5px,#6cdfb5 77.5px,#39a241 78.5px,#53aa2a 79.5px,#9ecc21 80.5px,#d8e82c 81.5px,#eef034 82.5px,#f4f038 83.5px,#f5f039 85.5px,#e9f031 87.5px,#aed322 89.5px,#a4ce20 90.5px,#a1cd21 91.5px,#93c722 92.5px,#78bb25 93.5px,#65b227 94.5px,#5cae29 97.5px,#54aa2a 98.5px,#3ea02e 99.5px,#3fa74e 100.5px,#7ef8db 101.5px,#58d1ff 102.5px,#41aaff 103.5px,#49b8ff 104.5px,#5fdeff 105.5px,#5fdeff 106.5px,#49b7ff 107.5px,#3ea2ff 108.5px,#3d9fff 109.5px,#3da0ff 112.5px,#47b4ff 117.5px,#49b8ff 122.5px),linear-gradient(90deg,#1400ff 0.5px,#1400ff 19.5px,#160dff 20.5px,#2043ff 22.5px,#2b6aff 23.5px,#43adff 24.5px,#66e9fb 25.5px,#70f7f4 26.5px,#65e8fb 27.5px,#41a9ff 28.5px,#2a67ff 29.5px,#2041ff 30.5px,#160cff 32.5px,#1400ff 33.5px,#1400ff 48.5px,#160eff 52.5px,#181dff 54.5px,#265aff 60.5px,#2b6aff 63.5px,#2f75ff 68.5px,#317eff 69.5px,#3b99ff 71.5px,#52c7ff 73.5px,#64e5fd 75.5px,#71f8f3 76.5px,#6cdfb5 77.5px,#39a241 78.5px,#53aa2a 79.5px,#9ecc21 80.5px,#d8e82c 81.5px,#eef034 82.5px,#f4f038 83.5px,#f5f039 85.5px,#eaf031 87.5px,#aed322 89.5px,#a2cd21 90.5px,#9bca21 91.5px,#8bc323 92.5px,#72b826 93.5px,#63b228 94.5px,#5cae29 97.5px,#54aa2a 98.5px,#3ea02e 99.5px,#3fa74e 100.5px,#7ef8db 101.5px,#58d1ff 102.5px,#41aaff 103.5px,#49b8ff 104.5px,#5fdeff 105.5px,#5fdeff 106.5px,#49b7ff 107.5px,#3ea2ff 108.5px,#3d9fff 109.5px,#3da0ff 112.5px,#47b4ff 117.5px,#49b8ff 122.5px),linear-gradient(90deg,#1400ff 0.5px,#1400ff 19.5px,#160cff 20.5px,#1f41ff 22.5px,#2966ff 23.5px,#40a8ff 24.5px,#65e8fc 25.5px,#70f7f4 26.5px,#67eafb 27.5px,#44afff 28.5px,#2b6bff 29.5px,#2043ff 30.5px,#160dff 32.5px,#1400ff 33.5px,#1400ff 48.5px,#160eff 52.5px,#181dff 54.5px,#265aff 60.5px,#2b6aff 63.5px,#2f75ff 68.5px,#317eff 69.5px,#3b99ff 71.5px,#52c7ff 73.5px,#64e5fd 75.5px,#71f8f3 76.5px,#6cdfb5 77.5px,#39a241 78.5px,#53aa2a 79.5px,#9ecc21 80.5px,#d8e82c 81.5px,#eef034 82.5px,#f7f03b 85.5px,#eaf031 87.5px,#aed322 89.5px,#9fcc21 90.5px,#93c722 91.5px,#6bb527 93.5px,#61b128 94.5px,#5cae29 97.5px,#54aa2a 98.5px,#3ea02e 99.5px,#3fa74e 100.5px,#7ef8db 101.5px,#58d1ff 102.5px,#41aaff 103.5px,#49b8ff 104.5px,#5fdeff 105.5px,#5fdeff 106.5px,#49b7ff 107.5px,#3ea2ff 108.5px,#3d9fff 109.5px,#3da0ff 112.5px,#47b4ff 117.5px,#49b8ff 122.5px),linear-gradient(90deg,#1400ff 0.5px,#1400ff 19.5px,#150bff 20.5px,#1922ff 21.5px,#2862ff 23.5px,#3ea2ff 24.5px,#64e6fc 25.5px,#70f7f4 26.5px,#68ebfa 27.5px,#47b4ff 28.5px,#2c6eff 29.5px,#2045ff 30.5px,#160eff 32.5px,#1400ff 33.5px,#1400ff 48.5px,#160eff 52.5px,#181dff 54.5px,#265aff 60.5px,#2b6aff 63.5px,#2f75ff 68.5px,#317eff 69.5px,#3b99ff 71.5px,#52c7ff 73.5px,#64e5fd 75.5px,#71f8f3 76.5px,#6cdfb5 77.5px,#39a241 78.5px,#53aa2a 79.5px,#9ecc21 80.5px,#d8e82c 81.5px,#eef034 82.5px,#faf03c 84.5px,#fcf03e 85.5px,#f7f03a 86.5px,#ebf032 87.5px,#aed322 89.5px,#9ecc21 90.5px,#8fc523 91.5px,#66b327 93.5px,#60b028 94.5px,#5cae29 97.5px,#54aa2a 98.5px,#3ea02e 99.5px,#3fa74e 100.5px,#7ef8db 101.5px,#58d1ff 102.5px,#41aaff 103.5px,#49b8ff 104.5px,#5fdeff 105.5px,#5fdeff 106.5px,#49b7ff 107.5px,#3ea2ff 108.5px,#3d9fff 109.5px,#3da0ff 112.5px,#47b4ff 117.5px,#49b8ff 122.5px),linear-gradient(90deg,#1400ff 0.5px,#1400ff 19.5px,#150aff 20.5px,#1821ff 21.5px,#275fff 23.5px,#3c9bff 24.5px,#62e4fd 25.5px,#6ff7f4 26.5px,#69edf9 27.5px,#4ab9ff 28.5px,#2d72ff 29.5px,#2147ff 30.5px,#160fff 32.5px,#1400ff 33.5px,#1400ff 48.5px,#160eff 52.5px,#181dff 54.5px,#265aff 60.5px,#2b6aff 63.5px,#2f75ff 68.5px,#317eff 69.5px,#3b99ff 71.5px,#52c7ff 73.5px,#64e5fd 75.5px,#71f8f3 76.5px,#6cdfb5 77.5px,#39a241 78.5px,#53aa2a 79.5px,#9ecc21 80.5px,#d8e82c 81.5px,#eef034 82.5px,#f6f03a 83.5px,#ffef3f 85.5px,#faf03d 86.5px,#ecf033 87.5px,#aed322 89.5px,#9ecc21 90.5px,#65b227 93.5px,#5cae29 97.5px,#54aa2a 98.5px,#3ea02e 99.5px,#3fa74e 100.5px,#7ef8db 101.5px,#58d1ff 102.5px,#41aaff 103.5px,#49b8ff 104.5px,#5fdeff 105.5px,#5fdeff 106.5px,#49b7ff 107.5px,#3ea2ff 108.5px,#3d9fff 109.5px,#3da0ff 112.5px,#47b4ff 117.5px,#49b8ff 122.5px),linear-gradient(90deg,#1400ff 0.5px,#1400ff 19.5px,#1509ff 20.5px,#181fff 21.5px,#265cff 23.5px,#3a95ff 24.5px,#61e2fe 25.5px,#6ff7f4 26.5px,#6aeef8 27.5px,#4cbeff 28.5px,#2f75ff 29.5px,#2148ff 30.5px,#1610ff 32.5px,#1401ff 33.5px,#1400ff 34.5px,#1400ff 48.5px,#160eff 52.5px,#181dff 54.5px,#265aff 60.5px,#2b6aff 63.5px,#2f75ff 68.5px,#317eff 69.5px,#3b99ff 71.5px,#52c7ff 73.5px,#64e5fd 75.5px,#71f8f3 76.5px,#6cdfb5 77.5px,#39a241 78.5px,#53aa2a 79.5px,#9ecc21 80.5px,#d8e82c 81.5px,#eef034 82.5px,#f6f03a 83.5px,#ffef3f 85.5px,#faf03d 86.5px,#ecf033 87.5px,#aed322 89.5px,#9ecc21 90.5px,#65b227 93.5px,#5cae29 97.5px,#54aa2a 98.5px,#3ea02e 99.5px,#3fa74e 100.5px,#7ef8db 101.5px,#58d1ff 102.5px,#41aaff 103.5px,#49b8ff 104.5px,#5fdeff 105.5px,#5fdeff 106.5px,#49b7ff 107.5px,#3ea2ff 108.5px,#3d9fff 109.5px,#3da0ff 112.5px,#47b4ff 117.5px,#49b8ff 122.5px),linear-gradient(90deg,#1400ff 0.5px,#1400ff 19.5px,#1508ff 20.5px,#181eff 21.5px,#265aff 23.5px,#3892ff 24.5px,#60e0ff 25.5px,#6ff7f5 26.5px,#6af0f8 27.5px,#4fc2ff 28.5px,#3078ff 29.5px,#224aff 30.5px,#1611ff 32.5px,#1401ff 33.5px,#1400ff 34.5px,#1400ff 48.5px,#160eff 52.5px,#181dff 54.5px,#265aff 60.5px,#2c6eff 64.5px,#2f75ff 68.5px,#317eff 69.5px,#3b99ff 71.5px,#52c7ff 73.5px,#64e5fd 75.5px,#71f8f3 76.5px,#6cdfb5 77.5px,#39a241 78.5px,#53aa2a 79.5px,#9ecc21 80.5px,#d8e82c 81.5px,#eef034 82.5px,#faf03c 84.5px,#fcf03e 85.5px,#f7f03a 86.5px,#ebf032 87.5px,#aed322 89.5px,#9ecc21 90.5px,#65b227 93.5px,#5cae29 97.5px,#54aa2a 98.5px,#3ea02e 99.5px,#3fa74e 100.5px,#7ef8db 101.5px,#58d1ff 102.5px,#41aaff 103.5px,#49b8ff 104.5px,#5fdeff 105.5px,#5fdeff 106.5px,#49b7ff 107.5px,#3ea2ff 108.5px,#3d9fff 109.5px,#3da0ff 112.5px,#47b4ff 117.5px,#49b8ff 122.5px),linear-gradient(90deg,#1400ff 0.5px,#1400ff 19.5px,#1507ff 20.5px,#181cff 21.5px,#2558ff 23.5px,#378fff 24.5px,#5fdeff 25.5px,#6ff6f5 26.5px,#6bf1f7 27.5px,#51c6ff 28.5px,#317cff 29.5px,#224cff 30.5px,#1712ff 32.5px,#1402ff 33.5px,#1400ff 34.5px,#1400ff 48.5px,#160eff 52.5px,#181dff 54.5px,#265aff 60.5px,#2f77ff 65.5px,#2f76ff 68.5px,#317eff 69.5px,#3b99ff 71.5px,#52c7ff 73.5px,#64e5fd 75.5px,#71f8f3 76.5px,#6cdfb5 77.5px,#39a241 78.5px,#53aa2a 79.5px,#9ecc21 80.5px,#d8e82c 81.5px,#eef034 82.5px,#f7f03b 85.5px,#eaf031 87.5px,#aed322 89.5px,#9ecc21 90.5px,#65b227 93.5px,#5cae29 97.5px,#54aa2a 98.5px,#3ea02e 99.5px,#3fa74e 100.5px,#7ff8db 101.5px,#58d1ff 102.5px,#41aaff 103.5px,#49b8ff 104.5px,#5fdeff 105.5px,#5fdeff 106.5px,#49b7ff 107.5px,#3ea2ff 108.5px,#3d9fff 109.5px,#3da0ff 112.5px,#47b4ff 117.5px,#49b8ff 122.5px),linear-gradient(90deg,#1400ff 0.5px,#1400ff 19.5px,#1506ff 20.5px,#181bff 21.5px,#2556ff 23.5px,#378dff 24.5px,#5ddbff 25.5px,#6ff6f5 26.5px,#6cf2f7 27.5px,#54caff 28.5px,#327fff 29.5px,#234dff 30.5px,#1714ff 32.5px,#1402ff 33.5px,#1400ff 34.5px,#1400ff 48.5px,#160eff 52.5px,#181dff 54.5px,#2452ff 59.5px,#2c6eff 63.5px,#3484ff 65.5px,#3484ff 66.5px,#3078ff 68.5px,#327eff 69.5px,#3b99ff 71.5px,#52c7ff 73.5px,#64e5fd 75.5px,#71f8f3 76.5px,#6cdfb5 77.5px,#39a241 78.5px,#53aa2a 79.5px,#9ecc21 80.5px,#d8e82c 81.5px,#eef034 82.5px,#f4f038 83.5px,#f5f039 85.5px,#eaf031 87.5px,#aed322 89.5px,#9ecc21 90.5px,#65b227 93.5px,#5cae29 97.5px,#54aa2a 98.5px,#3ea02e 99.5px,#3fa74e 100.5px,#7ff8db 101.5px,#58d1ff 102.5px,#41aaff 103.5px,#49b8ff 104.5px,#5fdeff 105.5px,#5fdeff 106.5px,#49b7ff 107.5px,#3ea2ff 108.5px,#3d9fff 109.5px,#3da0ff 112.5px,#47b4ff 117.5px,#49b8ff 122.5px),linear-gradient(90deg,#1400ff 0.5px,#1400ff 19.5px,#1505ff 20.5px,#1719ff 21.5px,#2555ff 23.5px,#368bff 24.5px,#5cd9ff 25.5px,#6ef6f5 26.5px,#6df3f6 27.5px,#56ceff 28.5px,#3381ff 29.5px,#234fff 30.5px,#1b30ff 31.5px,#1715ff 32.5px,#1402ff 33.5px,#1400ff 34.5px,#1400ff 48.5px,#160eff 52.5px,#181dff 54.5px,#2452ff 59.5px,#2a68ff 62.5px,#3994ff 65.5px,#3994ff 66.5px,#317dff 68.5px,#327fff 69.5px,#3589ff 70.5px,#3b99ff 71.5px,#52c7ff 73.5px,#64e5fd 75.5px,#71f8f3 76.5px,#6cdfb5 77.5px,#39a241 78.5px,#53aa2a 79.5px,#9ecc21 80.5px,#d8e82c 81.5px,#eef034 82.5px,#f4f038 83.5px,#f5f039 85.5px,#eaf031 87.5px,#aed322 89.5px,#9ecc21 90.5px,#65b227 93.5px,#5cae29 97.5px,#54aa2a 98.5px,#3ea02e 99.5px,#3fa74e 100.5px,#7ff8db 101.5px,#58d1ff 102.5px,#41aaff 103.5px,#49b8ff 104.5px,#5fdeff 105.5px,#5fdeff 106.5px,#49b7ff 107.5px,#3ea2ff 108.5px,#3d9fff 109.5px,#3da0ff 112.5px,#47b4ff 117.5px,#49b8ff 122.5px),linear-gradient(90deg,#1400ff 0.5px,#1400ff 19.5px,#1404ff 20.5px,#1718ff 21.5px,#2453ff 23.5px,#3588ff 24.5px,#5ad6ff 25.5px,#6ef5f5 26.5px,#6df4f6 27.5px,#58d1ff 28.5px,#3484ff 29.5px,#2351ff 30.5px,#1b32ff 31.5px,#1716ff 32.5px,#1403ff 33.5px,#1400ff 34.5px,#1400ff 48.5px,#160eff 52.5px,#181dff 54.5px,#2148ff 58.5px,#2b6bff 62.5px,#3a95ff 64.5px,#3fa4ff 65.5px,#3fa4ff 66.5px,#3485ff 68.5px,#3381ff 69.5px,#3589ff 70.5px,#3b99ff 71.5px,#52c7ff 73.5px,#64e5fd 75.5px,#71f8f3 76.5px,#6cdfb5 77.5px,#39a241 78.5px,#53aa2a 79.5px,#9ecc21 80.5px,#d8e82c 81.5px,#eef034 82.5px,#f6f03a 84.5px,#f5f039 86.5px,#ebf032 87.5px,#aed322 89.5px,#9ecc21 90.5px,#65b227 93.5px,#5cae29 97.5px,#54aa2a 98.5px,#3ea02e 99.5px,#3fa74e 100.5px,#7ff8db 101.5px,#58d1ff 102.5px,#41aaff 103.5px,#49b8ff 104.5px,#5fdeff 105.5px,#5fdeff 106.5px,#49b7ff 107.5px,#3ea2ff 108.5px,#3d9fff 109.5px,#3da0ff 112.5px,#47b4ff 117.5px,#49b8ff 122.5px),linear-gradient(90deg,#1400ff 0.5px,#1403ff 20.5px,#1717ff 21.5px,#2452ff 23.5px,#3486ff 24.5px,#59d3ff 25.5px,#6ef4f6 26.5px,#6ef4f6 27.5px,#59d4ff 28.5px,#3587ff 29.5px,#2452ff 30.5px,#1c33ff 31.5px,#1717ff 32.5px,#1403ff 33.5px,#1400ff 34.5px,#1400ff 48.5px,#160eff 52.5px,#181dff 54.5px,#2148ff 58.5px,#2861ff 61.5px,#2c6fff 62.5px,#3fa4ff 64.5px,#46b3ff 65.5px,#46b3ff 66.5px,#3fa4ff 67.5px,#378eff 68.5px,#3484ff 69.5px,#3689ff 70.5px,#3b99ff 71.5px,#52c7ff 73.5px,#64e5fd 75.5px,#71f8f3 76.5px,#6cdfb5 77.5px,#39a241 78.5px,#53aa2a 79.5px,#9ecc21 80.5px,#d8e82c 81.5px,#eef034 82.5px,#ffee3e 85.5px,#ffef3f 86.5px,#f0f036 87.5px,#aed322 89.5px,#9ecc21 90.5px,#65b227 93.5px,#5cae29 97.5px,#54aa2a 98.5px,#3ea02e 99.5px,#3fa74e 100.5px,#7ff8db 101.5px,#58d1ff 102.5px,#41aaff 103.5px,#49b8ff 104.5px,#5fdeff 105.5px,#5fdeff 106.5px,#49b7ff 107.5px,#3ea2ff 108.5px,#3d9fff 109.5px,#3da0ff 112.5px,#47b4ff 117.5px,#49b8ff 122.5px),linear-gradient(90deg,#1400ff 0.5px,#1402ff 20.5px,#1715ff 21.5px,#2350ff 23.5px,#3383ff 24.5px,#57d0ff 25.5px,#6df3f6 26.5px,#6ef5f5 27.5px,#5bd7ff 28.5px,#3589ff 29.5px,#2454ff 30.5px,#1c35ff 31.5px,#1718ff 32.5px,#1504ff 33.5px,#1400ff 34.5px,#1400ff 48.5px,#160eff 52.5px,#181dff 54.5px,#2148ff 58.5px,#2863ff 61.5px,#2e75ff 62.5px,#45b1ff 64.5px,#4fc1ff 65.5px,#4fc1ff 66.5px,#46b2ff 67.5px,#3b99ff 68.5px,#3587ff 69.5px,#368aff 70.5px,#3b99ff 71.5px,#52c7ff 73.5px,#64e5fd 75.5px,#71f8f3 76.5px,#6cdfb5 77.5px,#39a241 78.5px,#53aa2a 79.5px,#9ecc21 80.5px,#d8e82c 81.5px,#eef034 82.5px,#fdf03f 84.5px,#ffd323 85.5px,#ffce1e 86.5px,#fbf03d 87.5px,#d5e72b 88.5px,#afd322 89.5px,#8ec423 91.5px,#76ba26 92.5px,#65b227 93.5px,#5cae29 97.5px,#54aa2a 98.5px,#3ea02e 99.5px,#3fa74e 100.5px,#7ff8db 101.5px,#58d1ff 102.5px,#41aaff 103.5px,#49b8ff 104.5px,#5fdeff 105.5px,#5fdeff 106.5px,#49b7ff 107.5px,#3ea2ff 108.5px,#3d9fff 109.5px,#3da0ff 112.5px,#47b4ff 117.5px,#49b8ff 122.5px),linear-gradient(90deg,#1400ff 0.5px,#1402ff 20.5px,#1714ff 21.5px,#234eff 23.5px,#3280ff 24.5px,#55cdff 25.5px,#6cf3f6 26.5px,#6ef6f5 27.5px,#5cdaff 28.5px,#368cff 29.5px,#2555ff 30.5px,#181aff 32.5px,#1505ff 33.5px,#1400ff 34.5px,#1400ff 48.5px,#160eff 52.5px,#181dff 54.5px,#2965ff 61.5px,#317cff 62.5px,#4dbeff 64.5px,#56cfff 65.5px,#56cfff 66.5px,#4dbeff 67.5px,#3ea2ff 68.5px,#368bff 69.5px,#368aff 70.5px,#3b9aff 71.5px,#52c7ff 73.5px,#64e5fd 75.5px,#71f8f3 76.5px,#6cdfb5 77.5px,#39a241 78.5px,#53aa2a 79.5px,#9ecc21 80.5px,#d8e82c 81.5px,#eef034 82.5px,#f6f039 83.5px,#ffe737 84.5px,#ffb404 85.5px,#ffa700 86.5px,#ffde2e 87.5px,#dfec2e 88.5px,#b0d422 89.5px,#8ec423 91.5px,#76ba26 92.5px,#65b227 93.5px,#5cae29 97.5px,#54aa2a 98.5px,#3ea02e 99.5px,#3fa74e 100.5px,#7ff8db 101.5px,#58d1ff 102.5px,#41aaff 103.5px,#49b8ff 104.5px,#5fdeff 105.5px,#5fdeff 106.5px,#49b7ff 107.5px,#3ea2ff 108.5px,#3d9fff 109.5px,#3da0ff 112.5px,#47b4ff 117.5px,#49b8ff 122.5px),linear-gradient(90deg,#1400ff 0.5px,#1402ff 20.5px,#1713ff 21.5px,#224dff 23.5px,#317eff 24.5px,#53c9ff 25.5px,#6cf2f7 26.5px,#6ff6f5 27.5px,#5edcff 28.5px,#378eff 29.5px,#2557ff 30.5px,#181bff 32.5px,#1506ff 33.5px,#1400ff 34.5px,#1400ff 48.5px,#160eff 52.5px,#181dff 54.5px,#2a67ff 61.5px,#3383ff 62.5px,#41aaff 63.5px,#53caff 64.5px,#5edcff 65.5px,#5edcff 66.5px,#53caff 67.5px,#42acff 68.5px,#378fff 69.5px,#368bff 70.5px,#3b9aff 71.5px,#52c7ff 73.5px,#64e5fd 75.5px,#71f8f3 76.5px,#6cdfb5 77.5px,#39a241 78.5px,#53aa2a 79.5px,#9ecc21 80.5px,#d8e82c 81.5px,#eff035 82.5px,#f8f03b 83.5px,#ffd626 84.5px,#ff8e00 85.5px,#ff7a00 86.5px,#ffc414 87.5px,#e9f031 88.5px,#b1d422 89.5px,#65b227 93.5px,#5cae29 97.5px,#54aa2a 98.5px,#3ea02e 99.5px,#3fa74e 100.5px,#7ff8db 101.5px,#58d1ff 102.5px,#41aaff 103.5px,#49b8ff 104.5px,#5fdeff 105.5px,#5fdeff 106.5px,#49b7ff 107.5px,#3ea2ff 108.5px,#3d9fff 109.5px,#3da0ff 112.5px,#47b4ff 117.5px,#49b8ff 122.5px),linear-gradient(90deg,#1400ff 0.5px,#1401ff 20.5px,#1612ff 21.5px,#224bff 23.5px,#307bff 24.5px,#50c5ff 25.5px,#6bf0f7 26.5px,#6ff7f5 27.5px,#5fdeff 28.5px,#3890ff 29.5px,#2658ff 30.5px,#181dff 32.5px,#1507ff 33.5px,#1400ff 34.5px,#1400ff 48.5px,#160eff 52.5px,#1927ff 55.5px,#265bff 60.5px,#2b69ff 61.5px,#368aff 62.5px,#47b4ff 63.5px,#5ad5ff 64.5px,#63e4fd 65.5px,#63e4fd 66.5px,#5ad5ff 67.5px,#3995ff 69.5px,#378dff 70.5px,#3b9aff 71.5px,#52c7ff 73.5px,#5cd9ff 74.5px,#64e5fd 75.5px,#71f8f3 76.5px,#6cdfb5 77.5px,#39a241 78.5px,#53aa2a 79.5px,#9ecc21 80.5px,#d8e82c 81.5px,#eff035 82.5px,#fbf03d 83.5px,#ffc111 84.5px,#ff6700 85.5px,#ff5800 86.5px,#ffaa00 87.5px,#eef034 88.5px,#b3d523 89.5px,#65b227 93.5px,#5cae29 97.5px,#54aa2a 98.5px,#3ea02e 99.5px,#3fa74e 100.5px,#7ff8db 101.5px,#58d1ff 102.5px,#41aaff 103.5px,#49b8ff 104.5px,#5fdeff 105.5px,#5fdeff 106.5px,#49b7ff 107.5px,#3ea2ff 108.5px,#3d9fff 109.5px,#3da0ff 112.5px,#47b4ff 117.5px,#49b8ff 122.5px),linear-gradient(90deg,#1400ff 0.5px,#1401ff 20.5px,#1611ff 21.5px,#2249ff 23.5px,#2f77ff 24.5px,#4ec0ff 25.5px,#6aeff8 26.5px,#6ff7f5 27.5px,#60e1ff 28.5px,#3993ff 29.5px,#265bff 30.5px,#181eff 32.5px,#1508ff 33.5px,#1400ff 34.5px,#1400ff 48.5px,#160eff 52.5px,#181dff 54.5px,#265bff 60.5px,#2b6bff 61.5px,#3891ff 62.5px,#4cbcff 63.5px,#5fdfff 64.5px,#67ebfa 65.5px,#67ebfa 66.5px,#5fdfff 67.5px,#3b9bff 69.5px,#378fff 70.5px,#3b9aff 71.5px,#52c7ff 73.5px,#64e5fd 75.5px,#71f8f3 76.5px,#6cdfb5 77.5px,#39a241 78.5px,#53aa2a 79.5px,#9ecb21 80.5px,#d8e82c 81.5px,#eff035 82.5px,#fef03f 83.5px,#ffae00 84.5px,#ff5200 85.5px,#ff4500 86.5px,#ff8d00 87.5px,#f4f038 88.5px,#b7d724 89.5px,#9fcc21 90.5px,#8ec423 91.5px,#76ba26 92.5px,#65b227 93.5px,#5cae29 97.5px,#54aa2a 98.5px,#3ea02e 99.5px,#3fa74e 100.5px,#7ff8db 101.5px,#58d1ff 102.5px,#41aaff 103.5px,#49b8ff 104.5px,#5fdeff 105.5px,#5fdeff 106.5px,#49b7ff 107.5px,#3ea2ff 108.5px,#3d9fff 109.5px,#3da0ff 112.5px,#47b4ff 117.5px,#49b8ff 122.5px),linear-gradient(90deg,#1400ff 0.5px,#1401ff 20.5px,#1610ff 21.5px,#2147ff 23.5px,#2e73ff 24.5px,#4abaff 25.5px,#69edf9 26.5px,#6ff7f4 27.5px,#62e3fe 28.5px,#3b9aff 29.5px,#275eff 30.5px,#1820ff 32.5px,#1509ff 33.5px,#1400ff 34.5px,#1400ff 48.5px,#160eff 52.5px,#181dff 54.5px,#265bff 60.5px,#2c6dff 61.5px,#3a96ff 62.5px,#50c3ff 63.5px,#63e4fd 64.5px,#6bf0f8 65.5px,#6bf0f8 66.5px,#63e4fd 67.5px,#3da0ff 69.5px,#3890ff 70.5px,#3b9aff 71.5px,#52c7ff 73.5px,#64e5fd 75.5px,#71f8f3 76.5px,#6cdfb5 77.5px,#39a241 78.5px,#53aa2a 79.5px,#9ecb21 80.5px,#d8e82c 81.5px,#eff035 82.5px,#ffed3d 83.5px,#ff9a00 84.5px,#ff4200 85.5px,#ff3600 86.5px,#ff7300 87.5px,#fbf03d 88.5px,#bbda25 89.5px,#9fcc21 90.5px,#8ec423 91.5px,#76ba26 92.5px,#65b227 93.5px,#5cae29 97.5px,#54aa2a 98.5px,#3ea02e 99.5px,#3fa74e 100.5px,#7ff8db 101.5px,#58d1ff 102.5px,#41aaff 103.5px,#49b8ff 104.5px,#5fdeff 105.5px,#5fdeff 106.5px,#49b7ff 107.5px,#3ea2ff 108.5px,#3d9fff 109.5px,#3da0ff 112.5px,#47b4ff 117.5px,#49b8ff 122.5px),linear-gradient(90deg,#1400ff 0.5px,#1400ff 20.5px,#160eff 21.5px,#2044ff 23.5px,#2c6dff 24.5px,#46b2ff 25.5px,#67ebfa 26.5px,#6ff7f4 27.5px,#64e6fc 28.5px,#3ea3ff 29.5px,#2863ff 30.5px,#1f40ff 31.5px,#160bff 33.5px,#1400ff 34.5px,#1400ff 48.5px,#160eff 52.5px,#181dff 54.5px,#265bff 60.5px,#2d70ff 61.5px,#3b9bff 62.5px,#53c9ff 63.5px,#66e8fb 64.5px,#6ef4f6 65.5px,#6ef4f6 66.5px,#66e8fb 67.5px,#53caff 68.5px,#3fa4ff 69.5px,#3892ff 70.5px,#3b9aff 71.5px,#52c7ff 73.5px,#64e5fd 75.5px,#71f8f3 76.5px,#6cdfb5 77.5px,#39a241 78.5px,#53aa2a 79.5px,#9ecb21 80.5px,#d8e82c 81.5px,#eff035 82.5px,#ffe939 83.5px,#ff8a00 84.5px,#ff3700 85.5px,#ff2a00 86.5px,#ff6000 87.5px,#ffee3e 88.5px,#c0dc26 89.5px,#a0cc21 90.5px,#76ba26 92.5px,#65b227 93.5px,#5cae29 97.5px,#54aa2a 98.5px,#3ea02e 99.5px,#3fa74e 100.5px,#7ff8db 101.5px,#58d1ff 102.5px,#41aaff 103.5px,#49b8ff 104.5px,#5fdeff 105.5px,#5fdeff 106.5px,#49b7ff 107.5px,#3ea2ff 108.5px,#3d9fff 109.5px,#3da0ff 112.5px,#47b4ff 117.5px,#49b8ff 122.5px),linear-gradient(90deg,#1400ff 0.5px,#1400ff 20.5px,#160cff 21.5px,#2042ff 23.5px,#2a67ff 24.5px,#41a9ff 25.5px,#65e8fb 26.5px,#6ff7f5 27.5px,#66e8fb 28.5px,#42acff 29.5px,#2a69ff 30.5px,#2042ff 31.5px,#160dff 33.5px,#1400ff 34.5px,#1400ff 48.5px,#160eff 52.5px,#181dff 54.5px,#265cff 60.5px,#2d72ff 61.5px,#3d9fff 62.5px,#56ceff 63.5px,#68ebfa 64.5px,#70f8f4 65.5px,#70f8f4 66.5px,#68ebfa 67.5px,#56cfff 68.5px,#40a8ff 69.5px,#3993ff 70.5px,#3b9aff 71.5px,#52c7ff 73.5px,#64e5fd 75.5px,#71f8f3 76.5px,#6cdfb5 77.5px,#39a241 78.5px,#53aa2a 79.5px,#9dcb21 80.5px,#d8e82c 81.5px,#eff035 82.5px,#ffe636 83.5px,#ff8000 84.5px,#ff2f00 85.5px,#ff2100 86.5px,#ff5800 87.5px,#ffe636 88.5px,#c2dd27 89.5px,#a0cc21 90.5px,#76ba26 92.5px,#65b227 93.5px,#5cae29 97.5px,#54aa2a 98.5px,#3ea02e 99.5px,#3fa74e 100.5px,#7ff8db 101.5px,#58d1ff 102.5px,#41aaff 103.5px,#49b8ff 104.5px,#5fdeff 105.5px,#5fdeff 106.5px,#49b7ff 107.5px,#3ea2ff 108.5px,#3d9fff 109.5px,#3da0ff 112.5px,#47b4ff 117.5px,#49b8ff 122.5px),linear-gradient(90deg,#1400ff 0.5px,#1400ff 20.5px,#150aff 21.5px,#1922ff 22.5px,#2861ff 24.5px,#3d9fff 25.5px,#63e4fd 26.5px,#6ff6f5 27.5px,#67ebfa 28.5px,#47b4ff 29.5px,#2c6eff 30.5px,#2045ff 31.5px,#160eff 33.5px,#1400ff 34.5px,#1400ff 48.5px,#160eff 52.5px,#181dff 54.5px,#275dff 60.5px,#2e74ff 61.5px,#3ea1ff 62.5px,#57d1ff 63.5px,#69eef9 64.5px,#71f8f2 65.5px,#71f8f2 66.5px,#69eef9 67.5px,#58d2ff 68.5px,#41aaff 69.5px,#3993ff 70.5px,#3b9aff 71.5px,#52c7ff 73.5px,#64e5fd 75.5px,#71f8f3 76.5px,#6cdfb5 77.5px,#39a241 78.5px,#53aa2a 79.5px,#9dcb21 80.5px,#d7e82c 81.5px,#eff035 82.5px,#ffe535 83.5px,#ff7a00 84.5px,#ff2b00 85.5px,#fc1f00 86.5px,#ff5500 87.5px,#ffe333 88.5px,#c4de27 89.5px,#a0cc21 90.5px,#76ba26 92.5px,#65b227 93.5px,#5cae29 97.5px,#54aa2a 98.5px,#3ea02e 99.5px,#3fa74e 100.5px,#7ff8db 101.5px,#58d1ff 102.5px,#41aaff 103.5px,#49b8ff 104.5px,#5fdeff 105.5px,#5fdeff 106.5px,#49b7ff 107.5px,#3ea2ff 108.5px,#3d9fff 109.5px,#3da0ff 112.5px,#47b4ff 117.5px,#49b8ff 122.5px),linear-gradient(90deg,#1400ff 0.5px,#1400ff 20.5px,#1509ff 21.5px,#181fff 22.5px,#265cff 24.5px,#3a96ff 25.5px,#61e1ff 26.5px,#6ff6f5 27.5px,#69edf9 28.5px,#4bbbff 29.5px,#2e73ff 30.5px,#2147ff 31.5px,#1610ff 33.5px,#1401ff 34.5px,#1400ff 35.5px,#1400ff 48.5px,#160eff 52.5px,#181dff 54.5px,#275dff 60.5px,#2e75ff 61.5px,#3ea3ff 62.5px,#58d3ff 63.5px,#6aeff8 64.5px,#72f8f1 65.5px,#72f8f1 66.5px,#6aeff8 67.5px,#59d3ff 68.5px,#42abff 69.5px,#3994ff 70.5px,#3b9aff 71.5px,#52c7ff 73.5px,#64e5fd 75.5px,#71f8f3 76.5px,#6cdfb5 77.5px,#39a241 78.5px,#53aa2a 79.5px,#9dcb21 80.5px,#d7e82c 81.5px,#eff035 82.5px,#ffe535 83.5px,#ff7b00 84.5px,#ff2b00 85.5px,#fc1f00 86.5px,#ff5500 87.5px,#ffe333 88.5px,#c4de27 89.5px,#a0cc21 90.5px,#76ba26 92.5px,#65b227 93.5px,#5cae29 97.5px,#54aa2a 98.5px,#3ea02e 99.5px,#3fa74e 100.5px,#7ff8db 101.5px,#58d1ff 102.5px,#41aaff 103.5px,#49b8ff 104.5px,#5fdeff 105.5px,#5fdeff 106.5px,#49b7ff 107.5px,#3ea2ff 108.5px,#3d9fff 109.5px,#3da0ff 112.5px,#47b4ff 117.5px,#49b8ff 122.5px),linear-gradient(90deg,#1400ff 0.5px,#1400ff 20.5px,#1507ff 21.5px,#181dff 22.5px,#2558ff 24.5px,#378fff 25.5px,#5eddff 26.5px,#6ef5f5 27.5px,#6aeff8 28.5px,#4fc2ff 29.5px,#3078ff 30.5px,#2249ff 31.5px,#1611ff 33.5px,#1401ff 34.5px,#1400ff 35.5px,#1400ff 48.5px,#160eff 52.5px,#181dff 54.5px,#275dff 60.5px,#2e75ff 61.5px,#3ea3ff 62.5px,#58d3ff 63.5px,#6aeff8 64.5px,#72f8f1 65.5px,#72f8f1 66.5px,#6aeff8 67.5px,#59d3ff 68.5px,#42abff 69.5px,#3994ff 70.5px,#3b9aff 71.5px,#52c7ff 73.5px,#64e5fd 75.5px,#71f8f3 76.5px,#6cdfb5 77.5px,#39a241 78.5px,#52aa2a 79.5px,#9ccb21 80.5px,#d6e72c 81.5px,#eff035 82.5px,#ffe737 83.5px,#ff8000 84.5px,#ff2f00 85.5px,#ff2100 86.5px,#ff5800 87.5px,#ffe636 88.5px,#c2dd27 89.5px,#a0cc21 90.5px,#76ba26 92.5px,#65b227 93.5px,#5cae29 97.5px,#54aa2a 98.5px,#3ea02e 99.5px,#3fa74e 100.5px,#7ff8db 101.5px,#58d1ff 102.5px,#41aaff 103.5px,#49b8ff 104.5px,#5fdeff 105.5px,#5fdeff 106.5px,#49b7ff 107.5px,#3ea2ff 108.5px,#3d9fff 109.5px,#3da0ff 112.5px,#47b4ff 117.5px,#49b8ff 122.5px),linear-gradient(90deg,#1400ff 0.5px,#1400ff 20.5px,#1505ff 21.5px,#181aff 22.5px,#2555ff 24.5px,#368bff 25.5px,#5cd9ff 26.5px,#6ef4f6 27.5px,#6bf0f7 28.5px,#52c8ff 29.5px,#317cff 30.5px,#224cff 31.5px,#1713ff 33.5px,#1402ff 34.5px,#1400ff 35.5px,#1400ff 48.5px,#160eff 52.5px,#181dff 54.5px,#275dff 60.5px,#2e74ff 61.5px,#3ea1ff 62.5px,#57d1ff 63.5px,#69eef9 64.5px,#71f8f2 65.5px,#71f8f2 66.5px,#69eef9 67.5px,#58d2ff 68.5px,#41aaff 69.5px,#3993ff 70.5px,#3b9aff 71.5px,#52c7ff 73.5px,#64e5fd 75.5px,#71f8f3 76.5px,#6cdfb5 77.5px,#39a241 78.5px,#52aa2a 79.5px,#9ccb21 80.5px,#d6e72b 81.5px,#eef034 82.5px,#ffea3a 83.5px,#ff8b00 84.5px,#ff3700 85.5px,#ff2a00 86.5px,#ff6000 87.5px,#ffee3e 88.5px,#bfdc26 89.5px,#9fcc21 90.5px,#76ba26 92.5px,#65b227 93.5px,#5cae29 97.5px,#54aa2a 98.5px,#3ea02e 99.5px,#3fa74e 100.5px,#7ef8db 101.5px,#58d1ff 102.5px,#41aaff 103.5px,#49b8ff 104.5px,#5fdeff 105.5px,#5fdeff 106.5px,#49b7ff 107.5px,#3ea2ff 108.5px,#3d9fff 109.5px,#3da0ff 112.5px,#47b4ff 117.5px,#49b8ff 122.5px),linear-gradient(90deg,#1400ff 0.5px,#1400ff 20.5px,#1504ff 21.5px,#1718ff 22.5px,#2452ff 24.5px,#3587ff 25.5px,#59d4ff 26.5px,#6df3f6 27.5px,#6cf2f7 28.5px,#55cdff 29.5px,#3281ff 30.5px,#234eff 31.5px,#1715ff 33.5px,#1402ff 34.5px,#1400ff 35.5px,#1400ff 48.5px,#160eff 52.5px,#181dff 54.5px,#265cff 60.5px,#2d72ff 61.5px,#3d9fff 62.5px,#56ceff 63.5px,#68ebfa 64.5px,#70f8f4 65.5px,#70f8f4 66.5px,#68ebfa 67.5px,#56cfff 68.5px,#40a8ff 69.5px,#3993ff 70.5px,#3b9aff 71.5px,#52c7ff 73.5px,#64e5fd 75.5px,#71f8f3 76.5px,#6cdfb5 77.5px,#39a241 78.5px,#52aa2a 79.5px,#9bca21 80.5px,#d4e62b 81.5px,#eef034 82.5px,#ffef3f 83.5px,#ff9b00 84.5px,#ff4300 85.5px,#ff3600 86.5px,#ff7300 87.5px,#fbf03d 88.5px,#bbda25 89.5px,#9fcc21 90.5px,#75ba26 92.5px,#65b227 93.5px,#5cae29 97.5px,#54aa2a 98.5px,#3ea02e 99.5px,#3fa74e 100.5px,#7ef8db 101.5px,#58d1ff 102.5px,#41aaff 103.5px,#49b8ff 104.5px,#5fdeff 105.5px,#5fdeff 106.5px,#49b7ff 107.5px,#3ea2ff 108.5px,#3d9fff 109.5px,#3da0ff 112.5px,#47b4ff 117.5px,#49b8ff 122.5px),linear-gradient(90deg,#1400ff 0.5px,#1403ff 21.5px,#1716ff 22.5px,#234fff 24.5px,#3382ff 25.5px,#56cfff 26.5px,#6cf2f7 27.5px,#6cf3f6 28.5px,#58d2ff 29.5px,#3484ff 30.5px,#2350ff 31.5px,#1c32ff 32.5px,#1717ff 33.5px,#1403ff 34.5px,#1400ff 35.5px,#1400ff 48.5px,#160eff 52.5px,#181dff 54.5px,#265bff 60.5px,#2d70ff 61.5px,#3b9bff 62.5px,#53c9ff 63.5px,#66e8fb 64.5px,#6ef4f6 65.5px,#6ef4f6 66.5px,#66e8fb 67.5px,#53caff 68.5px,#3fa4ff 69.5px,#3892ff 70.5px,#3b9aff 71.5px,#52c7ff 73.5px,#64e5fd 75.5px,#71f8f3 76.5px,#6cdfb5 77.5px,#39a242 78.5px,#52a92a 79.5px,#9aca22 80.5px,#d3e52b 81.5px,#edf033 82.5px,#fcf03e 83.5px,#ffaf00 84.5px,#ff5200 85.5px,#ff4600 86.5px,#ff8d00 87.5px,#f4f038 88.5px,#b6d723 89.5px,#9ecc21 90.5px,#8dc423 91.5px,#75b926 92.5px,#65b227 93.5px,#5cae29 97.5px,#54aa2a 98.5px,#3ea02e 99.5px,#3fa74e 100.5px,#7ef8db 101.5px,#58d1ff 102.5px,#41aaff 103.5px,#49b8ff 104.5px,#5fdeff 105.5px,#5fdeff 106.5px,#49b7ff 107.5px,#3ea2ff 108.5px,#3d9fff 109.5px,#3da0ff 112.5px,#47b4ff 117.5px,#49b8ff 122.5px),linear-gradient(90deg,#1400ff 0.5px,#1402ff 21.5px,#1714ff 22.5px,#224cff 24.5px,#317eff 25.5px,#53caff 26.5px,#6bf0f7 27.5px,#6df3f6 28.5px,#5ad6ff 29.5px,#3588ff 30.5px,#2453ff 31.5px,#1c34ff 32.5px,#1718ff 33.5px,#1504ff 34.5px,#1400ff 35.5px,#1400ff 48.5px,#160eff 52.5px,#181dff 54.5px,#265bff 60.5px,#2c6dff 61.5px,#3a96ff 62.5px,#50c3ff 63.5px,#63e4fd 64.5px,#6bf0f8 65.5px,#6bf0f8 66.5px,#63e4fd 67.5px,#3da0ff 69.5px,#3890ff 70.5px,#3b9aff 71.5px,#52c7ff 73.5px,#64e5fd 75.5px,#71f8f3 76.5px,#6cdfb5 77.5px,#39a242 78.5px,#51a92a 79.5px,#98c922 80.5px,#d1e42a 81.5px,#ecf032 82.5px,#f8f03b 83.5px,#ffc313 84.5px,#ff6800 85.5px,#ff5900 86.5px,#ffac00 87.5px,#ecf033 88.5px,#b1d422 89.5px,#65b227 93.5px,#5cae29 97.5px,#54aa2a 98.5px,#3ea02e 99.5px,#3fa74e 100.5px,#7ef8db 101.5px,#58d1ff 102.5px,#41aaff 103.5px,#49b8ff 104.5px,#5fdeff 105.5px,#5fdeff 106.5px,#49b7ff 107.5px,#3ea2ff 108.5px,#3d9fff 109.5px,#3da0ff 112.5px,#47b4ff 117.5px,#49b8ff 122.5px),linear-gradient(90deg,#1400ff 0.5px,#1401ff 21.5px,#1612ff 22.5px,#224aff 24.5px,#3079ff 25.5px,#50c3ff 26.5px,#6aeff8 27.5px,#6df4f6 28.5px,#5cd9ff 29.5px,#368bff 30.5px,#2555ff 31.5px,#181bff 33.5px,#1506ff 34.5px,#1400ff 35.5px,#1400ff 48.5px,#160eff 52.5px,#181dff 54.5px,#265bff 60.5px,#2b6bff 61.5px,#3891ff 62.5px,#4cbcff 63.5px,#5fdfff 64.5px,#67ebfa 65.5px,#67ebfa 66.5px,#5fdfff 67.5px,#3b9bff 69.5px,#378fff 70.5px,#3b9aff 71.5px,#52c7ff 73.5px,#64e5fd 75.5px,#71f8f3 76.5px,#6cdfb5 77.5px,#39a242 78.5px,#51a92b 79.5px,#95c822 80.5px,#cee329 81.5px,#eaf031 82.5px,#f4f038 83.5px,#ffda2a 84.5px,#ff8f00 85.5px,#ff7b00 86.5px,#ffc616 87.5px,#e5ee2f 88.5px,#aed321 89.5px,#8dc423 91.5px,#75b926 92.5px,#65b227 93.5px,#5cae29 97.5px,#54aa2a 98.5px,#3ea02e 99.5px,#3fa74e 100.5px,#7ef8db 101.5px,#58d1ff 102.5px,#41aaff 103.5px,#49b8ff 104.5px,#5fdeff 105.5px,#5fdeff 106.5px,#49b7ff 107.5px,#3ea2ff 108.5px,#3d9fff 109.5px,#3da0ff 112.5px,#47b4ff 117.5px,#49b8ff 122.5px),linear-gradient(90deg,#1400ff 0.5px,#1401ff 21.5px,#1610ff 22.5px,#2147ff 24.5px,#2e73ff 25.5px,#4cbcff 26.5px,#68edf9 27.5px,#6df4f6 28.5px,#5eddff 29.5px,#3890ff 30.5px,#2558ff 31.5px,#181dff 33.5px,#1507ff 34.5px,#1400ff 35.5px,#1400ff 48.5px,#160eff 52.5px,#1927ff 55.5px,#265bff 60.5px,#2b69ff 61.5px,#368aff 62.5px,#47b4ff 63.5px,#5ad5ff 64.5px,#63e4fd 65.5px,#63e4fd 66.5px,#5ad5ff 67.5px,#3995ff 69.5px,#378dff 70.5px,#3b9aff 71.5px,#52c7ff 73.5px,#5cd9ff 74.5px,#64e5fd 75.5px,#71f8f3 76.5px,#6cdfb5 77.5px,#39a242 78.5px,#50a92b 79.5px,#92c622 80.5px,#cae128 81.5px,#e8f030 82.5px,#eff035 83.5px,#ffef3f 84.5px,#ffb707 85.5px,#ffa800 86.5px,#ffe131 87.5px,#d8e82c 88.5px,#abd221 89.5px,#8cc423 91.5px,#75b926 92.5px,#65b227 93.5px,#5cae29 97.5px,#54aa2a 98.5px,#3ea02e 99.5px,#3fa74e 100.5px,#7ef8db 101.5px,#58d1ff 102.5px,#41aaff 103.5px,#49b8ff 104.5px,#5fdeff 105.5px,#5fdeff 106.5px,#49b7ff 107.5px,#3ea2ff 108.5px,#3d9fff 109.5px,#3da0ff 112.5px,#47b4ff 117.5px,#49b8ff 122.5px),linear-gradient(90deg,#1400ff 0.5px,#1400ff 21.5px,#160eff 22.5px,#2044ff 24.5px,#2c6eff 25.5px,#47b5ff 26.5px,#67eafa 27.5px,#6ef4f6 28.5px,#61e1ff 29.5px,#3a98ff 30.5px,#265cff 31.5px,#181fff 33.5px,#1509ff 34.5px,#1400ff 35.5px,#1400ff 48.5px,#160eff 52.5px,#181dff 54.5px,#2a67ff 61.5px,#3383ff 62.5px,#41aaff 63.5px,#53caff 64.5px,#5edcff 65.5px,#5edcff 66.5px,#53caff 67.5px,#42acff 68.5px,#378fff 69.5px,#368bff 70.5px,#3b9aff 71.5px,#52c7ff 73.5px,#64e5fd 75.5px,#71f8f3 76.5px,#6cdfb5 77.5px,#39a242 78.5px,#4fa82b 79.5px,#8dc423 80.5px,#c4de27 81.5px,#e2ed2e 82.5px,#f7f03a 84.5px,#ffd828 85.5px,#ffd020 86.5px,#f7f03b 87.5px,#c9e128 88.5px,#a9d020 89.5px,#8bc323 91.5px,#74b926 92.5px,#64b228 93.5px,#5cae29 97.5px,#54aa2a 98.5px,#3ea02e 99.5px,#3fa74e 100.5px,#7ef8db 101.5px,#58d1ff 102.5px,#41aaff 103.5px,#49b8ff 104.5px,#5fdeff 105.5px,#5fdeff 106.5px,#49b7ff 107.5px,#3ea2ff 108.5px,#3d9fff 109.5px,#3da0ff 112.5px,#47b4ff 117.5px,#49b8ff 122.5px),linear-gradient(90deg,#1400ff 0.5px,#1400ff 21.5px,#160cff 22.5px,#1f41ff 24.5px,#2a68ff 25.5px,#42acff 26.5px,#65e7fc 27.5px,#6ef4f6 28.5px,#63e4fd 29.5px,#3ea1ff 30.5px,#2861ff 31.5px,#1f3dff 32.5px,#150aff 34.5px,#1400ff 35.5px,#1400ff 48.5px,#160eff 52.5px,#181dff 54.5px,#2965ff 61.5px,#317cff 62.5px,#4dbeff 64.5px,#56cfff 65.5px,#56cfff 66.5px,#4dbeff 67.5px,#3ea2ff 68.5px,#368bff 69.5px,#368aff 70.5px,#3b9aff 71.5px,#52c7ff 73.5px,#64e5fd 75.5px,#71f8f3 76.5px,#6cdfb5 77.5px,#39a242 78.5px,#4ea82b 79.5px,#87c124 80.5px,#bcda25 81.5px,#d9e92c 82.5px,#e7f030 83.5px,#faf03d 85.5px,#fcf03e 86.5px,#e9f031 87.5px,#bbd925 88.5px,#a5cf20 89.5px,#8ac323 91.5px,#73b926 92.5px,#64b228 93.5px,#5cae29 97.5px,#53aa2a 98.5px,#3ea02e 99.5px,#3fa74e 100.5px,#7ef8db 101.5px,#58d1ff 102.5px,#41aaff 103.5px,#49b8ff 104.5px,#5fdeff 105.5px,#5fdeff 106.5px,#49b7ff 107.5px,#3ea2ff 108.5px,#3d9fff 109.5px,#3da0ff 112.5px,#47b4ff 117.5px,#49b8ff 122.5px),linear-gradient(90deg,#1400ff 0.5px,#1400ff 21.5px,#150aff 22.5px,#1f3eff 24.5px,#2862ff 25.5px,#3ea3ff 26.5px,#63e4fd 27.5px,#6df4f6 28.5px,#64e7fc 29.5px,#41aaff 30.5px,#2966ff 31.5px,#1f40ff 32.5px,#160cff 34.5px,#1400ff 35.5px,#1400ff 48.5px,#160eff 52.5px,#181dff 54.5px,#2148ff 58.5px,#2863ff 61.5px,#2e75ff 62.5px,#45b1ff 64.5px,#4fc1ff 65.5px,#4fc1ff 66.5px,#46b2ff 67.5px,#3b99ff 68.5px,#3587ff 69.5px,#368aff 70.5px,#3b99ff 71.5px,#52c7ff 73.5px,#64e5fd 75.5px,#71f8f3 76.5px,#6cdfb6 77.5px,#39a242 78.5px,#4ca72b 79.5px,#b2d522 81.5px,#cee32a 82.5px,#dbea2d 83.5px,#ebf032 85.5px,#eaf031 86.5px,#b0d422 88.5px,#a1cd21 89.5px,#98c922 90.5px,#89c223 91.5px,#72b826 92.5px,#63b128 93.5px,#5bae29 97.5px,#53aa2a 98.5px,#3ea02e 99.5px,#3fa74e 100.5px,#7ef8db 101.5px,#58d1ff 102.5px,#41aaff 103.5px,#49b8ff 104.5px,#5fdeff 105.5px,#5fdeff 106.5px,#49b7ff 107.5px,#3ea2ff 108.5px,#3d9fff 109.5px,#3da0ff 112.5px,#47b4ff 117.5px,#49b8ff 122.5px),linear-gradient(90deg,#1400ff 0.5px,#1400ff 21.5px,#1509ff 22.5px,#181fff 23.5px,#275dff 25.5px,#3b99ff 26.5px,#61e1ff 27.5px,#6df4f6 28.5px,#66e9fb 29.5px,#46b2ff 30.5px,#2b6cff 31.5px,#2042ff 32.5px,#160dff 34.5px,#1400ff 35.5px,#1400ff 48.5px,#160eff 52.5px,#181dff 54.5px,#2148ff 58.5px,#2861ff 61.5px,#2c6fff 62.5px,#3fa4ff 64.5px,#46b3ff 65.5px,#46b3ff 66.5px,#3fa4ff 67.5px,#378eff 68.5px,#3484ff 69.5px,#3689ff 70.5px,#3b99ff 71.5px,#52c7ff 73.5px,#64e5fd 75.5px,#71f8f3 76.5px,#6de0b6 77.5px,#39a243 78.5px,#4aa62c 79.5px,#a5cf20 81.5px,#c0dc26 82.5px,#cce229 83.5px,#d2e52a 85.5px,#cce229 86.5px,#a7d020 88.5px,#96c822 90.5px,#86c124 91.5px,#70b726 92.5px,#62b128 93.5px,#5bae29 97.5px,#53aa2a 98.5px,#3da02e 99.5px,#3fa74f 100.5px,#7ef8db 101.5px,#58d1ff 102.5px,#41aaff 103.5px,#49b8ff 104.5px,#5fdeff 105.5px,#5fdeff 106.5px,#49b7ff 107.5px,#3ea2ff 108.5px,#3d9fff 109.5px,#3da0ff 112.5px,#47b4ff 117.5px,#49b8ff 122.5px),linear-gradient(90deg,#1400ff 0.5px,#1400ff 21.5px,#1507ff 22.5px,#181dff 23.5px,#2558ff 25.5px,#3890ff 26.5px,#5edcff 27.5px,#6df3f6 28.5px,#67ebfa 29.5px,#4ab9ff 30.5px,#2d71ff 31.5px,#2045ff 32.5px,#160fff 34.5px,#1400ff 35.5px,#1400ff 36.5px,#1400ff 48.5px,#160eff 52.5px,#181dff 54.5px,#2148ff 58.5px,#2b6bff 62.5px,#3a95ff 64.5px,#3fa4ff 65.5px,#3fa4ff 66.5px,#3485ff 68.5px,#3381ff 69.5px,#3589ff 70.5px,#3b99ff 71.5px,#52c7ff 73.5px,#64e5fd 75.5px,#70f8f3 76.5px,#6de0b6 77.5px,#3aa243 78.5px,#48a52c 79.5px,#95c722 81.5px,#add221 82.5px,#b8d824 83.5px,#bcda25 84.5px,#bbda25 85.5px,#aad121 87.5px,#9fcc21 88.5px,#92c622 90.5px,#83c024 91.5px,#6db627 92.5px,#61b028 93.5px,#5aad29 97.5px,#52aa2a 98.5px,#3da02e 99.5px,#40a84f 100.5px,#7ef8db 101.5px,#57d1ff 102.5px,#41aaff 103.5px,#49b8ff 104.5px,#5fdeff 105.5px,#5fdeff 106.5px,#49b7ff 107.5px,#3ea2ff 108.5px,#3d9fff 109.5px,#3da0ff 112.5px,#47b4ff 117.5px,#49b8ff 122.5px),linear-gradient(90deg,#1400ff 0.5px,#1400ff 21.5px,#1505ff 22.5px,#181aff 23.5px,#2454ff 25.5px,#368aff 26.5px,#5bd8ff 27.5px,#6cf2f7 28.5px,#68edf9 29.5px,#4dbfff 30.5px,#2f75ff 31.5px,#2147ff 32.5px,#1610ff 34.5px,#1401ff 35.5px,#1400ff 36.5px,#1400ff 48.5px,#160eff 52.5px,#181dff 54.5px,#2452ff 59.5px,#2a68ff 62.5px,#3994ff 65.5px,#3994ff 66.5px,#317dff 68.5px,#327fff 69.5px,#3589ff 70.5px,#3b99ff 71.5px,#52c7ff 73.5px,#64e5fd 75.5px,#70f8f3 76.5px,#6de1b7 77.5px,#3aa344 78.5px,#46a42c 79.5px,#86c124 81.5px,#98c922 82.5px,#a6cf20 84.5px,#a5cf20 85.5px,#8dc423 90.5px,#69b427 92.5px,#5fb028 93.5px,#59ad29 97.5px,#51a92a 98.5px,#3c9f2e 99.5px,#40a850 100.5px,#7ef8dc 101.5px,#57d1ff 102.5px,#41aaff 103.5px,#49b8ff 104.5px,#5fdeff 105.5px,#5fdeff 106.5px,#49b7ff 107.5px,#3ea2ff 108.5px,#3d9fff 109.5px,#3da0ff 112.5px,#47b4ff 117.5px,#49b8ff 122.5px),linear-gradient(90deg,#1400ff 0.5px,#1400ff 21.5px,#1504ff 22.5px,#1718ff 23.5px,#2451ff 25.5px,#3485ff 26.5px,#59d4ff 27.5px,#6cf1f7 28.5px,#69eef9 29.5px,#51c5ff 30.5px,#307aff 31.5px,#2249ff 32.5px,#1612ff 34.5px,#1401ff 35.5px,#1400ff 36.5px,#1400ff 48.5px,#160eff 52.5px,#181dff 54.5px,#2452ff 59.5px,#2c6eff 63.5px,#3484ff 65.5px,#3484ff 66.5px,#3078ff 68.5px,#327eff 69.5px,#3b99ff 71.5px,#52c7ff 73.5px,#64e5fd 75.5px,#70f8f4 76.5px,#6ee2b9 77.5px,#3ba345 78.5px,#44a32d 79.5px,#7bbc25 81.5px,#89c223 82.5px,#90c523 83.5px,#92c622 85.5px,#8cc323 89.5px,#85c124 90.5px,#64b228 92.5px,#5dae29 93.5px,#58ac29 97.5px,#50a82b 98.5px,#3a9f2e 99.5px,#41a953 100.5px,#7ef8dc 101.5px,#57d0ff 102.5px,#41aaff 103.5px,#49b8ff 104.5px,#5fdeff 105.5px,#5fdeff 106.5px,#49b7ff 107.5px,#3ea2ff 108.5px,#3d9fff 109.5px,#3da0ff 112.5px,#47b4ff 117.5px,#49b8ff 122.5px),linear-gradient(90deg,#1400ff 0.5px,#1403ff 22.5px,#1716ff 23.5px,#234eff 25.5px,#3381ff 26.5px,#56ceff 27.5px,#6bf0f8 28.5px,#6aeff8 29.5px,#54cbff 30.5px,#327eff 31.5px,#224cff 32.5px,#1715ff 34.5px,#1402ff 35.5px,#1400ff 36.5px,#1400ff 48.5px,#160eff 52.5px,#181dff 54.5px,#265aff 60.5px,#2f77ff 65.5px,#2f76ff 68.5px,#317eff 69.5px,#3b99ff 71.5px,#52c7ff 73.5px,#64e5fd 75.5px,#70f8f4 76.5px,#70e4bc 77.5px,#3ca448 78.5px,#40a12d 79.5px,#6fb726 81.5px,#7cbc25 82.5px,#81bf24 83.5px,#84c024 86.5px,#81be24 89.5px,#7abc25 90.5px,#5eaf28 92.5px,#59ad29 93.5px,#55ab2a 97.5px,#4da72b 98.5px,#389d2f 99.5px,#43ac58 100.5px,#7df8de 101.5px,#57d0ff 102.5px,#41aaff 103.5px,#49b7ff 104.5px,#5fdeff 105.5px,#5fdeff 106.5px,#49b8ff 107.5px,#3ea3ff 108.5px,#3d9fff 109.5px,#3da0ff 112.5px,#47b4ff 117.5px,#49b8ff 122.5px),linear-gradient(90deg,#1400ff 0.5px,#1402ff 22.5px,#1713ff 23.5px,#224bff 25.5px,#307bff 26.5px,#51c6ff 27.5px,#69eef9 28.5px,#6bf0f7 29.5px,#58d2ff 30.5px,#3485ff 31.5px,#2451ff 32.5px,#1c33ff 33.5px,#1718ff 34.5px,#1504ff 35.5px,#1400ff 36.5px,#1400ff 48.5px,#160eff 52.5px,#181dff 54.5px,#265aff 60.5px,#2c6eff 64.5px,#2f75ff 68.5px,#317eff 69.5px,#3b99ff 71.5px,#52c7ff 73.5px,#63e5fd 75.5px,#70f7f4 76.5px,#72e7c0 77.5px,#3ea64c 78.5px,#3a9f2e 79.5px,#51a92a 80.5px,#6db627 82.5px,#71b826 83.5px,#74b926 86.5px,#70b726 89.5px,#57ac2a 92.5px,#54aa2a 93.5px,#52aa2a 97.5px,#4aa62c 98.5px,#349c2f 99.5px,#46b05f 100.5px,#7cf8df 101.5px,#56cfff 102.5px,#41aaff 103.5px,#48b6ff 104.5px,#5eddff 105.5px,#5fdeff 106.5px,#49b8ff 107.5px,#3ea3ff 108.5px,#3d9fff 109.5px,#3da0ff 112.5px,#47b4ff 117.5px,#49b8ff 122.5px),linear-gradient(90deg,#1400ff 0.5px,#1401ff 22.5px,#1610ff 23.5px,#2146ff 25.5px,#2d71ff 26.5px,#4ab9ff 27.5px,#67eafb 28.5px,#6bf1f7 29.5px,#5ddaff 30.5px,#3891ff 31.5px,#2558ff 32.5px,#181dff 34.5px,#1507ff 35.5px,#1400ff 36.5px,#1400ff 48.5px,#160eff 52.5px,#181dff 54.5px,#265aff 60.5px,#2b6aff 63.5px,#2f75ff 68.5px,#317eff 69.5px,#3b99ff 71.5px,#52c7ff 73.5px,#5cd9ff 74.5px,#63e5fd 75.5px,#6ff6f5 76.5px,#77ecc8 77.5px,#42aa54 78.5px,#339b2f 79.5px,#4aa62c 80.5px,#57ac2a 81.5px,#5fb028 83.5px,#5cae29 89.5px,#4ba62b 93.5px,#50a92b 97.5px,#48a52c 98.5px,#329b30 99.5px,#49b366 100.5px,#7bf8e1 101.5px,#56ceff 102.5px,#41a9ff 103.5px,#47b5ff 104.5px,#5ddbff 105.5px,#5fdeff 106.5px,#4ab9ff 107.5px,#3ea3ff 108.5px,#3d9fff 109.5px,#3da0ff 112.5px,#47b4ff 117.5px,#49b8ff 122.5px),linear-gradient(90deg,#1400ff 0.5px,#1400ff 22.5px,#160cff 23.5px,#1f40ff 25.5px,#2966ff 26.5px,#41a9ff 27.5px,#63e4fd 28.5px,#6bf1f7 29.5px,#61e2fe 30.5px,#3ea2ff 31.5px,#2861ff 32.5px,#1f3dff 33.5px,#150bff 35.5px,#1400ff 36.5px,#1400ff 48.5px,#160eff 52.5px,#181dff 54.5px,#265aff 60.5px,#2b6aff 63.5px,#2f75ff 68.5px,#317eff 69.5px,#3b99ff 71.5px,#52c7ff 73.5px,#5cd9ff 74.5px,#63e5fd 75.5px,#6df4f6 76.5px,#7ef5d4 77.5px,#4ab56a 78.5px,#329b33 79.5px,#45a42c 80.5px,#52a92a 81.5px,#56ac2a 82.5px,#3da02e 92.5px,#40a12d 94.5px,#4ea82b 96.5px,#50a92b 97.5px,#48a52c 98.5px,#319a30 99.5px,#4ab468 100.5px,#7bf8e1 101.5px,#56ceff 102.5px,#40a9ff 103.5px,#47b3ff 104.5px,#5cd9ff 105.5px,#5fdeff 106.5px,#4bbbff 107.5px,#3fa4ff 108.5px,#3d9fff 109.5px,#3da0ff 112.5px,#47b4ff 117.5px,#49b8ff 122.5px),linear-gradient(90deg,#1400ff 0.5px,#1400ff 22.5px,#1509ff 23.5px,#181eff 24.5px,#265bff 26.5px,#3a96ff 27.5px,#5edcff 28.5px,#6bf0f8 29.5px,#65e7fc 30.5px,#46b2ff 31.5px,#2c6cff 32.5px,#2043ff 33.5px,#160eff 35.5px,#1400ff 36.5px,#1400ff 37.5px,#1400ff 48.5px,#160eff 52.5px,#181dff 54.5px,#265aff 60.5px,#2b6aff 63.5px,#2f75ff 68.5px,#317eff 69.5px,#3b99ff 71.5px,#52c7ff 73.5px,#5cd9ff 74.5px,#63e5fd 75.5px,#6bf1f7 76.5px,#7df8de 77.5px,#53c080 78.5px,#349d37 79.5px,#44a32d 80.5px,#51a92b 81.5px,#55ab2a 82.5px,#53aa2a 83.5px,#339c2f 86.5px,#309a31 87.5px,#349e38 92.5px,#339b30 94.5px,#4ea82b 96.5px,#50a92b 97.5px,#48a52c 98.5px,#319a30 99.5px,#4ab468 100.5px,#7bf8e1 101.5px,#56ceff 102.5px,#40a9ff 103.5px,#46b3ff 104.5px,#5bd7ff 105.5px,#5fdeff 106.5px,#4bbcff 107.5px,#3fa5ff 108.5px,#3da0ff 109.5px,#3da0ff 112.5px,#47b4ff 117.5px,#49b8ff 122.5px),linear-gradient(90deg,#1400ff 0.5px,#1400ff 22.5px,#1505ff 23.5px,#1719ff 24.5px,#2452ff 26.5px,#3587ff 27.5px,#58d2ff 28.5px,#6aeff8 29.5px,#67ebfa 30.5px,#4dc0ff 31.5px,#2f76ff 32.5px,#2148ff 33.5px,#1612ff 35.5px,#1401ff 36.5px,#1400ff 37.5px,#1400ff 48.5px,#160eff 52.5px,#181dff 54.5px,#265aff 60.5px,#2b6aff 63.5px,#2f75ff 68.5px,#317eff 69.5px,#3b99ff 71.5px,#52c7ff 73.5px,#5cd9ff 74.5px,#63e4fd 75.5px,#6aeef8 76.5px,#79f8e5 77.5px,#59c78d 78.5px,#349e39 79.5px,#44a32d 80.5px,#50a92b 81.5px,#54ab2a 82.5px,#52aa2a 83.5px,#49a62c 84.5px,#369d2f 85.5px,#3ea64d 87.5px,#45ae5b 91.5px,#44ad5a 92.5px,#3ea64c 93.5px,#349d37 94.5px,#40a12d 95.5px,#4da72b 96.5px,#50a82b 97.5px,#48a52c 98.5px,#319a30 99.5px,#4ab469 100.5px,#7bf8e1 101.5px,#56ceff 102.5px,#40a9ff 103.5px,#46b2ff 104.5px,#5ad5ff 105.5px,#5eddff 106.5px,#4cbdff 107.5px,#3fa5ff 108.5px,#3da0ff 109.5px,#3da0ff 112.5px,#47b4ff 117.5px,#49b7ff 122.5px),linear-gradient(90deg,#1400ff 0.5px,#1403ff 23.5px,#1715ff 24.5px,#224cff 26.5px,#317cff 27.5px,#52c7ff 28.5px,#68ecf9 29.5px,#68edf9 30.5px,#53caff 31.5px,#327eff 32.5px,#234dff 33.5px,#1716ff 35.5px,#1403ff 36.5px,#1400ff 37.5px,#1400ff 48.5px,#160eff 52.5px,#181dff 54.5px,#265aff 60.5px,#2b6aff 63.5px,#2f75ff 68.5px,#317dff 69.5px,#3b99ff 71.5px,#52c7ff 73.5px,#5cd9ff 74.5px,#63e4fd 75.5px,#69edf9 76.5px,#77f8e7 77.5px,#5ac992 78.5px,#359e39 79.5px,#44a32d 80.5px,#50a92b 81.5px,#54ab2a 82.5px,#52aa2a 83.5px,#49a52c 84.5px,#329b30 85.5px,#3fa74e 86.5px,#59c78e 87.5px,#62d3a4 88.5px,#69dbaf 91.5px,#65d6a9 92.5px,#51bd79 93.5px,#37a03e 94.5px,#3fa12e 95.5px,#4da72b 96.5px,#4fa82b 97.5px,#48a52c 98.5px,#319a30 99.5px,#4ab469 100.5px,#7bf8e1 101.5px,#56ceff 102.5px,#40a8ff 103.5px,#45b1ff 104.5px,#59d3ff 105.5px,#5eddff 106.5px,#4dbeff 107.5px,#3fa6ff 108.5px,#3d9fff 109.5px,#3da0ff 112.5px,#47b4ff 117.5px,#49b7ff 122.5px),linear-gradient(90deg,#1400ff 0.5px,#1401ff 23.5px,#1611ff 24.5px,#2146ff 26.5px,#2e72ff 27.5px,#4abaff 28.5px,#66e8fb 29.5px,#69eef9 30.5px,#58d3ff 31.5px,#3589ff 32.5px,#2453ff 33.5px,#181aff 35.5px,#1506ff 36.5px,#1400ff 37.5px,#1400ff 48.5px,#1505ff 50.5px,#1714ff 53.5px,#2452ff 59.5px,#2861ff 61.5px,#2c6dff 64.5px,#2f75ff 68.5px,#317dff 69.5px,#3b99ff 71.5px,#52c7ff 73.5px,#5cd9ff 74.5px,#63e4fd 75.5px,#68edf9 76.5px,#77f8e8 77.5px,#5bca93 78.5px,#359e3a 79.5px,#43a32d 80.5px,#50a92b 81.5px,#54aa2a 82.5px,#52a92a 83.5px,#48a52c 84.5px,#319a30 85.5px,#46af5e 86.5px,#70e4bc 87.5px,#7ff8da 88.5px,#7bf8e1 91.5px,#7ff8d9 92.5px,#5dcd9a 93.5px,#38a141 94.5px,#3ea12e 95.5px,#4da72b 96.5px,#4fa82b 97.5px,#47a52c 98.5px,#309a30 99.5px,#4ab56a 100.5px,#7bf8e2 101.5px,#55ceff 102.5px,#40a8ff 103.5px,#44b0ff 104.5px,#58d1ff 105.5px,#5edcff 106.5px,#3fa6ff 108.5px,#3d9fff 109.5px,#3d9fff 112.5px,#47b4ff 117.5px,#49b7ff 122.5px),linear-gradient(90deg,#1400ff 0.5px,#1400ff 23.5px,#160dff 24.5px,#1f40ff 26.5px,#2a67ff 27.5px,#42abff 28.5px,#62e3fd 29.5px,#69eef8 30.5px,#5edcff 31.5px,#3b98ff 32.5px,#265cff 33.5px,#1e3aff 34.5px,#1509ff 36.5px,#1400ff 37.5px,#1400ff 48.5px,#1505ff 50.5px,#1714ff 53.5px,#2452ff 59.5px,#2861ff 61.5px,#2c6dff 64.5px,#2f75ff 68.5px,#317dff 69.5px,#3b99ff 71.5px,#51c7ff 73.5px,#5cd9ff 74.5px,#63e4fd 75.5px,#68ecf9 76.5px,#77f8e8 77.5px,#5bca94 78.5px,#359e3a 79.5px,#42a22d 80.5px,#4fa82b 81.5px,#53aa2a 82.5px,#51a92b 83.5px,#48a52c 84.5px,#309a30 85.5px,#49b367 86.5px,#7bf1cf 87.5px,#76f8ea 88.5px,#72f8f0 91.5px,#79f8e4 92.5px,#62d3a4 93.5px,#39a242 94.5px,#3ea02e 95.5px,#4ca72b 96.5px,#4ea82b 97.5px,#47a42c 98.5px,#309a30 99.5px,#4bb66b 100.5px,#7af8e2 101.5px,#55cdff 102.5px,#40a8ff 103.5px,#44afff 104.5px,#56cfff 105.5px,#5ddbff 106.5px,#40a7ff 108.5px,#3d9fff 109.5px,#3d9fff 112.5px,#47b4ff 117.5px,#49b7ff 122.5px),linear-gradient(90deg,#1400ff 0.5px,#1400ff 23.5px,#1509ff 24.5px,#181fff 25.5px,#1e3aff 26.5px,#265cff 27.5px,#3b98ff 28.5px,#5ddbff 29.5px,#69eef9 30.5px,#62e3fe 31.5px,#41aaff 32.5px,#2966ff 33.5px,#1f3fff 34.5px,#160cff 36.5px,#1400ff 37.5px,#1400ff 48.5px,#1505ff 50.5px,#1714ff 53.5px,#2452ff 59.5px,#2861ff 61.5px,#2c6dff 64.5px,#2f75ff 68.5px,#317dff 69.5px,#3b99ff 71.5px,#51c6ff 73.5px,#5cd8ff 74.5px,#62e4fd 75.5px,#68ecf9 76.5px,#76f8e9 77.5px,#5dcc97 78.5px,#369f3c 79.5px,#41a22d 80.5px,#4da72b 81.5px,#51a92a 82.5px,#4fa82b 83.5px,#46a42c 84.5px,#319b31 85.5px,#4bb56b 86.5px,#7df5d4 87.5px,#73f8ee 88.5px,#70f8f4 89.5px,#70f8f4 91.5px,#78f8e7 92.5px,#64d5a7 93.5px,#3aa243 94.5px,#3c9f2e 95.5px,#4aa62c 96.5px,#4da72b 97.5px,#45a42d 98.5px,#319b32 99.5px,#4cb76e 100.5px,#7af8e3 101.5px,#55cdff 102.5px,#40a8ff 103.5px,#43aeff 104.5px,#55cdff 105.5px,#5ddaff 106.5px,#40a7ff 108.5px,#3d9fff 109.5px,#3d9fff 112.5px,#47b4ff 117.5px,#49b7ff 122.5px),linear-gradient(90deg,#1400ff 0.5px,#1400ff 23.5px,#1506ff 24.5px,#181aff 25.5px,#2453ff 27.5px,#3587ff 28.5px,#57d0ff 29.5px,#68ecf9 30.5px,#64e7fc 31.5px,#49b8ff 32.5px,#2d70ff 33.5px,#2045ff 34.5px,#1610ff 36.5px,#1401ff 37.5px,#1400ff 48.5px,#1505ff 50.5px,#1714ff 53.5px,#2452ff 59.5px,#2861ff 61.5px,#2c6dff 64.5px,#2e75ff 68.5px,#317dff 69.5px,#3b99ff 71.5px,#51c6ff 73.5px,#5bd8ff 74.5px,#62e4fd 75.5px,#68ecfa 76.5px,#76f8ea 77.5px,#5fce9d 78.5px,#37a03e 79.5px,#3ea02e 80.5px,#4aa62c 81.5px,#4ea82b 82.5px,#4ca72b 83.5px,#43a32d 84.5px,#329c34 85.5px,#4db871 86.5px,#7ff7d7 87.5px,#73f8ef 88.5px,#6ff7f4 89.5px,#70f8f4 91.5px,#77f8e7 92.5px,#66d7aa 93.5px,#3ba446 94.5px,#399e2f 95.5px,#47a42c 96.5px,#49a62c 97.5px,#42a22d 98.5px,#329c34 99.5px,#4eba74 100.5px,#79f8e4 101.5px,#54ccff 102.5px,#40a7ff 103.5px,#42acff 104.5px,#54caff 105.5px,#5cd9ff 106.5px,#40a8ff 108.5px,#3d9fff 109.5px,#3d9fff 112.5px,#46b3ff 117.5px,#48b7ff 122.5px),linear-gradient(90deg,#1400ff 0.5px,#1403ff 24.5px,#1715ff 25.5px,#224cff 27.5px,#317cff 28.5px,#51c6ff 29.5px,#67eafa 30.5px,#66e9fb 31.5px,#4fc2ff 32.5px,#3079ff 33.5px,#224aff 34.5px,#1713ff 36.5px,#1402ff 37.5px,#1400ff 48.5px,#1505ff 50.5px,#1714ff 53.5px,#2452ff 59.5px,#2861ff 61.5px,#2c6dff 64.5px,#2e75ff 68.5px,#317dff 69.5px,#3b98ff 71.5px,#51c6ff 73.5px,#5bd8ff 74.5px,#62e3fe 75.5px,#67ebfa 76.5px,#74f8ec 77.5px,#63d4a5 78.5px,#3aa343 79.5px,#379d2f 80.5px,#43a32d 81.5px,#47a52c 82.5px,#45a42c 83.5px,#3ca02e 84.5px,#359e3a 85.5px,#52be7c 86.5px,#7ff8da 87.5px,#72f8f0 88.5px,#6ff7f4 91.5px,#77f8e9 92.5px,#69dcb0 93.5px,#3da64b 94.5px,#329b30 95.5px,#40a12d 96.5px,#43a32d 97.5px,#3b9f2e 98.5px,#359e3a 99.5px,#53c080 100.5px,#78f8e7 101.5px,#53caff 102.5px,#40a7ff 103.5px,#42abff 104.5px,#52c8ff 105.5px,#5bd8ff 106.5px,#40a8ff 108.5px,#3d9fff 109.5px,#3d9eff 112.5px,#46b3ff 117.5px,#48b6ff 122.5px),linear-gradient(90deg,#1400ff 0.5px,#1401ff 24.5px,#1611ff 25.5px,#2146ff 27.5px,#2e73ff 28.5px,#4bbbff 29.5px,#64e7fc 30.5px,#67ebfa 31.5px,#54cbff 32.5px,#3382ff 33.5px,#234fff 34.5px,#1717ff 36.5px,#1504ff 37.5px,#1400ff 38.5px,#1400ff 47.5px,#1505ff 50.5px,#1714ff 53.5px,#2452ff 59.5px,#2861ff 61.5px,#2c6dff 64.5px,#2e75ff 68.5px,#317cff 69.5px,#3a98ff 71.5px,#51c5ff 73.5px,#62e3fe 75.5px,#67eafa 76.5px,#73f8ef 77.5px,#6addb2 78.5px,#3fa74d 79.5px,#329c35 80.5px,#3a9f2e 82.5px,#399e2f 83.5px,#309a30 84.5px,#3aa344 85.5px,#5bc993 86.5px,#7cf8df 87.5px,#71f8f2 88.5px,#6ff7f5 91.5px,#75f8eb 92.5px,#70e4bc 93.5px,#45ae5b 94.5px,#349e39 95.5px,#349c2f 96.5px,#369d2f 97.5px,#319a31 98.5px,#3aa344 99.5px,#5ccb96 100.5px,#75f8ec 101.5px,#52c7ff 102.5px,#3fa6ff 103.5px,#41aaff 104.5px,#51c5ff 105.5px,#5bd7ff 106.5px,#40a8ff 108.5px,#3d9eff 109.5px,#3d9eff 112.5px,#45b0ff 116.5px,#48b6ff 122.5px),linear-gradient(90deg,#1400ff 0.5px,#1400ff 24.5px,#160dff 25.5px,#1f40ff 27.5px,#2a68ff 28.5px,#43adff 29.5px,#62e2fe 30.5px,#67ebfa 31.5px,#59d4ff 32.5px,#388fff 33.5px,#2557ff 34.5px,#181cff 36.5px,#1507ff 37.5px,#1400ff 38.5px,#1400ff 48.5px,#1505ff 50.5px,#1714ff 53.5px,#2452ff 59.5px,#2861ff 61.5px,#2c6dff 64.5px,#2e75ff 68.5px,#317cff 69.5px,#3a97ff 71.5px,#50c4ff 73.5px,#61e2fe 75.5px,#66e9fb 76.5px,#71f8f3 77.5px,#77edc8 78.5px,#4fbb76 79.5px,#3ca548 80.5px,#37a03e 81.5px,#369f3b 82.5px,#3aa344 84.5px,#47b061 85.5px,#6adcb1 86.5px,#78f8e7 87.5px,#70f7f4 88.5px,#6ef6f5 91.5px,#73f8ef 92.5px,#7cf3d2 93.5px,#56c487 94.5px,#3ea64c 95.5px,#38a141 96.5px,#37a13f 97.5px,#3aa345 98.5px,#47b162 99.5px,#6cdfb6 100.5px,#6ff6f5 101.5px,#4fc1ff 102.5px,#3fa4ff 103.5px,#40a8ff 104.5px,#4fc3ff 105.5px,#5ad5ff 106.5px,#4fc3ff 107.5px,#40a8ff 108.5px,#3c9dff 109.5px,#3c9dff 110.5px,#3da0ff 113.5px,#46b2ff 117.5px,#47b5ff 122.5px),linear-gradient(90deg,#1400ff 0.5px,#1400ff 24.5px,#150aff 25.5px,#1e3bff 27.5px,#275dff 28.5px,#3b9bff 29.5px,#5ddaff 30.5px,#67ebfa 31.5px,#5eddff 32.5px,#3da0ff 33.5px,#2860ff 34.5px,#1e3cff 35.5px,#150aff 37.5px,#1400ff 38.5px,#1400ff 48.5px,#160eff 52.5px,#181dff 54.5px,#2452ff 59.5px,#2861ff 61.5px,#2c6dff 64.5px,#2e74ff 68.5px,#317bff 69.5px,#3a96ff 71.5px,#50c3ff 73.5px,#5ad5ff 74.5px,#6df3f6 77.5px,#7bf8e1 78.5px,#58c68d 80.5px,#4fbb77 81.5px,#4db870 82.5px,#4eba73 83.5px,#55c284 84.5px,#65d6a8 85.5px,#80f8d8 86.5px,#73f8ee 87.5px,#6ef5f5 88.5px,#70f8f4 92.5px,#79f8e4 93.5px,#71e6be 94.5px,#5ccb95 95.5px,#52be7d 96.5px,#50bc79 97.5px,#56c386 98.5px,#66d7aa 99.5px,#7df8dd 100.5px,#65e8fb 101.5px,#4ab9ff 102.5px,#3ea3ff 103.5px,#3fa6ff 104.5px,#59d4ff 106.5px,#4fc3ff 107.5px,#40a7ff 108.5px,#3c9cff 109.5px,#3c9cff 112.5px,#44aeff 116.5px,#47b4ff 122.5px),linear-gradient(90deg,#1400ff 0.5px,#1400ff 24.5px,#1506ff 25.5px,#181aff 26.5px,#2453ff 28.5px,#3589ff 29.5px,#57cfff 30.5px,#66eafb 31.5px,#62e2fe 32.5px,#44afff 33.5px,#2b6aff 34.5px,#2041ff 35.5px,#160eff 37.5px,#1400ff 38.5px,#1400ff 48.5px,#160eff 52.5px,#181dff 54.5px,#2452ff 59.5px,#2861ff 61.5px,#2b6aff 63.5px,#2e74ff 68.5px,#307aff 69.5px,#3994ff 71.5px,#4fc2ff 73.5px,#59d3ff 74.5px,#60e0ff 75.5px,#69edf9 77.5px,#70f8f4 78.5px,#80f8d9 80.5px,#7af1ce 81.5px,#78efcb 82.5px,#79f0cc 83.5px,#7ef5d4 84.5px,#7cf8df 85.5px,#6ff6f5 87.5px,#6df3f6 91.5px,#71f8f2 93.5px,#7ef8db 95.5px,#7df4d3 96.5px,#7df4d2 97.5px,#7ff8d9 98.5px,#79f8e4 99.5px,#6df3f6 100.5px,#58d3ff 101.5px,#45b2ff 102.5px,#3da0ff 103.5px,#3fa4ff 104.5px,#58d2ff 106.5px,#4fc3ff 107.5px,#3fa6ff 108.5px,#3c9bff 109.5px,#3b9bff 112.5px,#43adff 116.5px,#46b2ff 122.5px),linear-gradient(90deg,#1400ff 0.5px,#1403ff 25.5px,#1716ff 26.5px,#224cff 28.5px,#317cff 29.5px,#51c5ff 30.5px,#65e8fc 31.5px,#64e6fc 32.5px,#4cbcff 33.5px,#2e75ff 34.5px,#2148ff 35.5px,#1714ff 37.5px,#1403ff 38.5px,#1400ff 39.5px,#1400ff 48.5px,#160eff 52.5px,#181dff 54.5px,#2452ff 59.5px,#2861ff 61.5px,#2b6aff 63.5px,#3079ff 69.5px,#3383ff 70.5px,#3993ff 71.5px,#4dbfff 73.5px,#5fdeff 75.5px,#70f8f4 80.5px,#72f8f0 83.5px,#6cf2f7 87.5px,#6bf1f7 92.5px,#6ff7f5 95.5px,#6ef5f5 97.5px,#66e9fb 99.5px,#5edcff 100.5px,#43adff 102.5px,#3d9eff 103.5px,#3ea1ff 104.5px,#57d0ff 106.5px,#4fc2ff 107.5px,#3fa5ff 108.5px,#3b99ff 109.5px,#3b99ff 112.5px,#42abff 116.5px,#45b0ff 122.5px),linear-gradient(90deg,#1400ff 0.5px,#1401ff 25.5px,#1611ff 26.5px,#2146ff 28.5px,#2d71ff 29.5px,#49b7ff 30.5px,#62e4fd 31.5px,#65e7fc 32.5px,#53caff 33.5px,#3485ff 34.5px,#2451ff 35.5px,#181aff 37.5px,#1507ff 38.5px,#1400ff 39.5px,#1400ff 48.5px,#160eff 52.5px,#181dff 54.5px,#2452ff 59.5px,#2861ff 61.5px,#2c6dff 64.5px,#2f77ff 69.5px,#3280ff 70.5px,#3890ff 71.5px,#4cbdff 73.5px,#5ddbff 75.5px,#62e3fe 76.5px,#68ecf9 79.5px,#6aeff8 90.5px,#65e8fb 97.5px,#5edcff 99.5px,#56cfff 100.5px,#41aaff 102.5px,#3c9bff 103.5px,#3d9eff 104.5px,#56cfff 106.5px,#4fc2ff 107.5px,#3ea4ff 108.5px,#3a97ff 109.5px,#3a96ff 112.5px,#40a8ff 116.5px,#43aeff 122.5px),linear-gradient(90deg,#1400ff 0.5px,#1400ff 25.5px,#160dff 26.5px,#1f3eff 28.5px,#2861ff 29.5px,#3da0ff 30.5px,#5cd9ff 31.5px,#65e7fc 32.5px,#5bd7ff 33.5px,#3c9dff 34.5px,#275fff 35.5px,#1e3cff 36.5px,#160cff 38.5px,#1400ff 39.5px,#1400ff 48.5px,#160eff 52.5px,#181dff 54.5px,#2452ff 59.5px,#2861ff 61.5px,#2c6dff 64.5px,#2f75ff 69.5px,#317dff 70.5px,#378cff 71.5px,#49b9ff 73.5px,#53caff 74.5px,#60e0ff 76.5px,#65e7fc 78.5px,#69edf9 89.5px,#63e4fd 97.5px,#5bd7ff 99.5px,#53caff 100.5px,#3fa6ff 102.5px,#3a98ff 103.5px,#3b9aff 104.5px,#55ccff 106.5px,#4ec1ff 107.5px,#3ea1ff 108.5px,#3993ff 109.5px,#3992ff 112.5px,#3fa4ff 116.5px,#41aaff 122.5px),linear-gradient(90deg,#1400ff 0.5px,#1400ff 25.5px,#1507ff 26.5px,#181bff 27.5px,#2451ff 29.5px,#3484ff 30.5px,#52c7ff 31.5px,#63e5fd 32.5px,#60e0ff 33.5px,#46b3ff 34.5px,#2c6eff 35.5px,#2045ff 36.5px,#1612ff 38.5px,#1402ff 39.5px,#1400ff 40.5px,#1400ff 48.5px,#160eff 52.5px,#181dff 54.5px,#2452ff 59.5px,#2861ff 61.5px,#2c6dff 64.5px,#2e74ff 69.5px,#307aff 70.5px,#3588ff 71.5px,#46b3ff 73.5px,#50c4ff 74.5px,#5cdaff 76.5px,#62e3fe 78.5px,#67ebfa 90.5px,#60e0ff 97.5px,#57d1ff 99.5px,#50c4ff 100.5px,#3994ff 103.5px,#3a96ff 104.5px,#54caff 106.5px,#4dc0ff 107.5px,#3c9eff 108.5px,#378eff 109.5px,#378dff 112.5px,#3d9fff 116.5px,#3fa5ff 122.5px),linear-gradient(90deg,#1400ff 0.5px,#1403ff 26.5px,#1713ff 27.5px,#2146ff 29.5px,#2d6fff 30.5px,#46b3ff 31.5px,#5fdfff 32.5px,#62e3fe 33.5px,#4fc3ff 34.5px,#327fff 35.5px,#234eff 36.5px,#1719ff 38.5px,#1506ff 39.5px,#1400ff 40.5px,#1400ff 48.5px,#160eff 52.5px,#181dff 54.5px,#2452ff 59.5px,#2861ff 61.5px,#2c6dff 64.5px,#2f77ff 70.5px,#3382ff 71.5px,#42acff 73.5px,#53c9ff 75.5px,#5bd8ff 77.5px,#60e0ff 79.5px,#69edf9 89.5px,#68ebfa 92.5px,#60e1ff 96.5px,#54cbff 99.5px,#3993ff 103.5px,#3993ff 104.5px,#42abff 105.5px,#52c8ff 106.5px,#4dbeff 107.5px,#3b99ff 108.5px,#3588ff 109.5px,#3486ff 110.5px,#3589ff 113.5px,#3b9aff 117.5px,#3c9eff 122.5px),linear-gradient(90deg,#1400ff 0.5px,#1400ff 26.5px,#160cff 27.5px,#1e3cff 29.5px,#275eff 30.5px,#3b9aff 31.5px,#58d1ff 32.5px,#62e3fe 33.5px,#57d0ff 34.5px,#3a97ff 35.5px,#265cff 36.5px,#1e3aff 37.5px,#150bff 39.5px,#1400ff 40.5px,#1400ff 48.5px,#1508ff 51.5px,#181dff 54.5px,#2452ff 59.5px,#2861ff 61.5px,#2c6dff 64.5px,#2e75ff 70.5px,#317dff 71.5px,#46b3ff 74.5px,#52c7ff 76.5px,#5fdeff 82.5px,#6aeef8 87.5px,#6bf0f8 91.5px,#61e1ff 96.5px,#52c7ff 99.5px,#3a95ff 103.5px,#3892ff 104.5px,#40a8ff 105.5px,#51c6ff 106.5px,#4bbcff 107.5px,#3994ff 108.5px,#3281ff 109.5px,#327fff 112.5px,#3891ff 117.5px,#3994ff 122.5px),linear-gradient(90deg,#1400ff 0.5px,#1400ff 26.5px,#1506ff 27.5px,#1719ff 28.5px,#234eff 30.5px,#327fff 31.5px,#4ec0ff 32.5px,#60e0ff 33.5px,#5cd9ff 34.5px,#43adff 35.5px,#2b6aff 36.5px,#2042ff 37.5px,#1611ff 39.5px,#1402ff 40.5px,#1400ff 41.5px,#1400ff 48.5px,#160eff 52.5px,#181dff 54.5px,#2452ff 59.5px,#2861ff 61.5px,#2c6dff 64.5px,#3078ff 71.5px,#3fa6ff 74.5px,#4abaff 76.5px,#54cbff 80.5px,#60e0ff 83.5px,#69eef9 87.5px,#6af0f8 91.5px,#60e0ff 96.5px,#50c4ff 99.5px,#3995ff 103.5px,#3890ff 104.5px,#3fa4ff 105.5px,#50c3ff 106.5px,#4bbbff 107.5px,#3891ff 108.5px,#307aff 109.5px,#2f77ff 110.5px,#3079ff 113.5px,#3486ff 117.5px,#3589ff 122.5px),linear-gradient(90deg,#1400ff 0.5px,#1402ff 27.5px,#1612ff 28.5px,#2043ff 30.5px,#2b6bff 31.5px,#43acff 32.5px,#5bd7ff 33.5px,#5eddff 34.5px,#4bbcff 35.5px,#307bff 36.5px,#224bff 37.5px,#1717ff 39.5px,#1505ff 40.5px,#1400ff 41.5px,#1400ff 48.5px,#1508ff 51.5px,#181dff 54.5px,#2452ff 59.5px,#2861ff 61.5px,#2c6fff 65.5px,#2e75ff 71.5px,#317cff 72.5px,#3a96ff 74.5px,#41a9ff 76.5px,#49b8ff 79.5px,#60e0ff 84.5px,#67ebfa 88.5px,#67ebfa 91.5px,#60e0ff 95.5px,#4cbdff 99.5px,#378fff 103.5px,#368aff 104.5px,#3da0ff 105.5px,#4ec1ff 106.5px,#4bbbff 107.5px,#3891ff 108.5px,#3078ff 109.5px,#2e74ff 110.5px,#317dff 122.5px),linear-gradient(90deg,#1400ff 0.5px,#1400ff 27.5px,#160bff 28.5px,#1d39ff 30.5px,#265aff 31.5px,#3994ff 32.5px,#54caff 33.5px,#5eddff 34.5px,#53c9ff 35.5px,#3891ff 36.5px,#2558ff 37.5px,#1d37ff 38.5px,#150aff 40.5px,#1400ff 41.5px,#1400ff 48.5px,#1508ff 51.5px,#181dff 54.5px,#2452ff 59.5px,#2861ff 61.5px,#2c6fff 65.5px,#2f76ff 72.5px,#40a8ff 79.5px,#58d1ff 84.5px,#61e1fe 88.5px,#60e0ff 92.5px,#58d1ff 95.5px,#45b0ff 99.5px,#3484ff 103.5px,#3382ff 104.5px,#3b9aff 105.5px,#4dbeff 106.5px,#4abaff 107.5px,#3892ff 108.5px,#3079ff 109.5px,#2e74ff 110.5px,#2f76ff 122.5px),linear-gradient(90deg,#1400ff 0.5px,#1400ff 27.5px,#1505ff 28.5px,#1718ff 29.5px,#224bff 31.5px,#307aff 32.5px,#4ab9ff 33.5px,#5cd8ff 34.5px,#58d2ff 35.5px,#40a7ff 36.5px,#2966ff 37.5px,#1f3fff 38.5px,#160fff 40.5px,#1401ff 41.5px,#1400ff 48.5px,#1508ff 51.5px,#181dff 54.5px,#2452ff 59.5px,#2966ff 62.5px,#2c6fff 65.5px,#3078ff 74.5px,#368bff 78.5px,#4cbcff 84.5px,#55ccff 88.5px,#55ccff 91.5px,#4cbcff 95.5px,#40a7ff 98.5px,#307aff 103.5px,#317cff 104.5px,#3994ff 105.5px,#49b9ff 106.5px,#49b7ff 107.5px,#3891ff 108.5px,#3079ff 109.5px,#2e74ff 110.5px,#2e74ff 122.5px),linear-gradient(90deg,#1400ff 0.5px,#1402ff 28.5px,#1610ff 29.5px,#1f40ff 31.5px,#2a66ff 32.5px,#3fa6ff 33.5px,#57d0ff 34.5px,#5ad5ff 35.5px,#48b5ff 36.5px,#2f76ff 37.5px,#2148ff 38.5px,#1715ff 40.5px,#1504ff 41.5px,#1400ff 42.5px,#1400ff 48.5px,#1508ff 51.5px,#181dff 54.5px,#2452ff 59.5px,#2966ff 62.5px,#2d70ff 66.5px,#3078ff 77.5px,#3381ff 79.5px,#40a8ff 85.5px,#45b1ff 88.5px,#45b1ff 91.5px,#40a8ff 94.5px,#307bff 101.5px,#2e75ff 103.5px,#2f78ff 104.5px,#3689ff 105.5px,#40a7ff 106.5px,#40a7ff 107.5px,#3589ff 108.5px,#2f77ff 109.5px,#2e74ff 110.5px,#2e74ff 122.5px),linear-gradient(90deg,#1400ff 0.5px,#1400ff 28.5px,#150aff 29.5px,#1d37ff 31.5px,#2557ff 32.5px,#378eff 33.5px,#50c3ff 34.5px,#5ad5ff 35.5px,#4fc2ff 36.5px,#368cff 37.5px,#2555ff 38.5px,#1c35ff 39.5px,#1509ff 41.5px,#1400ff 42.5px,#1400ff 48.5px,#1508ff 51.5px,#181dff 54.5px,#265aff 60.5px,#2b6aff 63.5px,#2d71ff 67.5px,#2e75ff 78.5px,#3993ff 88.5px,#388fff 93.5px,#317cff 98.5px,#2e75ff 101.5px,#2e75ff 104.5px,#3587ff 106.5px,#3587ff 107.5px,#2e75ff 109.5px,#2e74ff 122.5px),linear-gradient(90deg,#1400ff 0.5px,#1400ff 28.5px,#1504ff 29.5px,#1716ff 30.5px,#2148ff 32.5px,#2e74ff 33.5px,#46b3ff 34.5px,#57d1ff 35.5px,#53caff 36.5px,#3da0ff 37.5px,#2862ff 38.5px,#1e3dff 39.5px,#160eff 41.5px,#1401ff 42.5px,#1400ff 48.5px,#1508ff 51.5px,#181dff 54.5px,#265aff 60.5px,#2966ff 62.5px,#2c6fff 65.5px,#2e74ff 81.5px,#317cff 89.5px,#2e74ff 99.5px,#2e74ff 122.5px),linear-gradient(90deg,#1400ff 0.5px,#1401ff 29.5px,#160fff 30.5px,#1e3dff 32.5px,#2861ff 33.5px,#3c9dff 34.5px,#51c6ff 35.5px,#54cbff 36.5px,#43aeff 37.5px,#2e72ff 38.5px,#2146ff 39.5px,#1715ff 41.5px,#1504ff 42.5px,#1400ff 43.5px,#1400ff 48.5px,#1508ff 51.5px,#181dff 54.5px,#265aff 60.5px,#2966ff 62.5px,#2c6fff 65.5px,#2e73ff 72.5px,#2f76ff 122.5px),linear-gradient(90deg,#1400ff 0.5px,#1400ff 29.5px,#1508ff 30.5px,#1c33ff 32.5px,#2350ff 33.5px,#46b3ff 35.5px,#50c5ff 36.5px,#48b5ff 37.5px,#2452ff 39.5px,#1c33ff 40.5px,#1509ff 42.5px,#1400ff 43.5px,#1400ff 48.5px,#1508ff 51.5px,#181dff 54.5px,#265aff 60.5px,#2966ff 62.5px,#2c6fff 65.5px,#2e73ff 72.5px,#2e74ff 109.5px,#3383ff 117.5px,#3280ff 122.5px),linear-gradient(90deg,#1400ff 0.5px,#1403ff 30.5px,#1612ff 31.5px,#1f40ff 33.5px,#2863ff 34.5px,#3b98ff 35.5px,#49b8ff 36.5px,#48b6ff 37.5px,#3995ff 38.5px,#275fff 39.5px,#1e3bff 40.5px,#1923ff 41.5px,#160eff 42.5px,#1401ff 43.5px,#1400ff 44.5px,#1400ff 48.5px,#160eff 52.5px,#181dff 54.5px,#265aff 60.5px,#2966ff 62.5px,#2c6fff 65.5px,#2e73ff 72.5px,#2e74ff 107.5px,#307aff 110.5px,#378fff 114.5px,#3b98ff 117.5px,#3994ff 122.5px),linear-gradient(90deg,#1400ff 0.5px,#1400ff 30.5px,#150aff 31.5px,#1c32ff 33.5px,#234eff 34.5px,#3fa5ff 36.5px,#45b1ff 37.5px,#3c9dff 38.5px,#2045ff 40.5px,#1a29ff 41.5px,#1504ff 43.5px,#1400ff 44.5px,#1400ff 48.5px,#160eff 52.5px,#181dff 54.5px,#265aff 60.5px,#2c6dff 64.5px,#2e73ff 71.5px,#2e74ff 106.5px,#307aff 108.5px,#3d9fff 113.5px,#43adff 116.5px,#45b1ff 119.5px,#42abff 122.5px),linear-gradient(90deg,#1400ff 0.5px,#1403ff 31.5px,#1612ff 32.5px,#1e3dff 34.5px,#275eff 35.5px,#378cff 36.5px,#3fa6ff 37.5px,#3d9fff 38.5px,#317cff 39.5px,#234fff 40.5px,#1b30ff 41.5px,#1509ff 43.5px,#1400ff 44.5px,#1400ff 48.5px,#1508ff 51.5px,#1714ff 53.5px,#265aff 60.5px,#2c6dff 64.5px,#2e73ff 71.5px,#2e74ff 105.5px,#317cff 107.5px,#42abff 112.5px,#4cbdff 115.5px,#50c4ff 118.5px,#4dbeff 122.5px),linear-gradient(90deg,#1400ff 0.5px,#1400ff 31.5px,#1509ff 32.5px,#1b2fff 34.5px,#224aff 35.5px,#3994ff 37.5px,#3b9bff 38.5px,#3484ff 39.5px,#2659ff 40.5px,#1d38ff 41.5px,#160dff 43.5px,#1401ff 44.5px,#1400ff 48.5px,#1508ff 51.5px,#1714ff 53.5px,#265aff 60.5px,#2c6dff 64.5px,#2e73ff 71.5px,#2e74ff 104.5px,#317bff 106.5px,#45b0ff 111.5px,#55ccff 115.5px,#59d4ff 118.5px,#55ceff 122.5px),linear-gradient(90deg,#1400ff 0.5px,#1402ff 32.5px,#1610ff 33.5px,#1d39ff 35.5px,#2557ff 36.5px,#327eff 37.5px,#3890ff 38.5px,#3486ff 39.5px,#1f3eff 41.5px,#1610ff 43.5px,#1402ff 44.5px,#1400ff 48.5px,#1508ff 51.5px,#1714ff 53.5px,#265aff 60.5px,#2c6dff 64.5px,#2e73ff 71.5px,#2e74ff 104.5px,#3381ff 106.5px,#45b0ff 110.5px,#58d1ff 114.5px,#5fdfff 118.5px,#5cd8ff 122.5px),linear-gradient(90deg,#1400ff 0.5px,#1400ff 32.5px,#1508ff 33.5px,#1a2cff 35.5px,#317dff 38.5px,#307aff 39.5px,#1e3dff 41.5px,#1924ff 42.5px,#1402ff 44.5px,#1400ff 48.5px,#1508ff 51.5px,#1714ff 53.5px,#2452ff 59.5px,#2b6aff 63.5px,#2e73ff 70.5px,#2e75ff 104.5px,#307aff 105.5px,#4dbfff 111.5px,#5bd7ff 114.5px,#61e2fe 117.5px,#5fdeff 122.5px),linear-gradient(90deg,#1400ff 0.5px,#1402ff 33.5px,#1820ff 35.5px,#275dff 38.5px,#275dff 39.5px,#181eff 42.5px,#160cff 43.5px,#1401ff 44.5px,#1400ff 48.5px,#1508ff 51.5px,#1714ff 53.5px,#2452ff 59.5px,#2b6aff 63.5px,#2e73ff 70.5px,#2e75ff 104.5px,#307aff 105.5px,#4dbfff 111.5px,#5bd7ff 114.5px,#61e2fe 117.5px,#5fdeff 122.5px),linear-gradient(90deg,#1400ff 0.5px,#1400ff 33.5px,#1506ff 34.5px,#1e3dff 38.5px,#1e3dff 39.5px,#1506ff 43.5px,#1400ff 44.5px,#1400ff 48.5px,#1508ff 51.5px,#1714ff 53.5px,#265aff 60.5px,#2c6dff 64.5px,#2e73ff 71.5px,#2e74ff 104.5px,#3381ff 106.5px,#45b0ff 110.5px,#58d1ff 114.5px,#5fdfff 118.5px,#5cd8ff 122.5px),linear-gradient(90deg,#1400ff 0.5px,#1400ff 34.5px,#1924ff 38.5px,#181eff 40.5px,#1401ff 43.5px,#1400ff 48.5px,#1508ff 51.5px,#1714ff 53.5px,#265aff 60.5px,#2c6dff 64.5px,#2e73ff 71.5px,#2e74ff 104.5px,#317bff 106.5px,#45b0ff 111.5px,#55ccff 115.5px,#59d4ff 118.5px,#55ceff 122.5px),linear-gradient(90deg,#1400ff 0.5px,#1400ff 35.5px,#160cff 37.5px,#1610ff 39.5px,#1401ff 42.5px,#1400ff 48.5px,#1508ff 51.5px,#1714ff 53.5px,#265aff 60.5px,#2c6dff 64.5px,#2e73ff 71.5px,#2e74ff 105.5px,#317cff 107.5px,#42abff 112.5px,#4cbdff 115.5px,#50c4ff 118.5px,#4dbeff 122.5px),linear-gradient(90deg,#1400ff 0.5px,#1400ff 48.5px,#1508ff 51.5px,#1714ff 53.5px,#265aff 60.5px,#2c6dff 64.5px,#2e73ff 71.5px,#2e74ff 106.5px,#307aff 108.5px,#3da0ff 113.5px,#43aeff 116.5px,#45b1ff 119.5px,#42acff 122.5px),linear-gradient(90deg,#1400ff 0.5px,#1400ff 48.5px,#1508ff 51.5px,#1714ff 53.5px,#265aff 60.5px,#2c6dff 64.5px,#2e73ff 71.5px,#2e74ff 107.5px,#317bff 110.5px,#3890ff 113.5px,#3c9dff 116.5px,#3ea1ff 119.5px,#3c9bff 122.5px);background-position:0 0px,0 1px,0 2px,0 3px,0 4px,0 5px,0 6px,0 7px,0 8px,0 9px,0 10px,0 11px,0 12px,0 13px,0 14px,0 15px,0 16px,0 17px,0 18px,0 19px,0 20px,0 21px,0 22px,0 23px,0 24px,0 25px,0 26px,0 27px,0 28px,0 29px,0 30px,0 31px,0 32px,0 33px,0 34px,0 35px,0 36px,0 37px,0 38px,0 39px,0 40px,0 41px,0 42px,0 43px,0 44px,0 45px,0 46px,0 47px,0 48px,0 49px,0 50px,0 51px,0 52px,0 53px,0 54px,0 55px,0 56px,0 57px,0 58px,0 59px,0 60px,0 61px,0 62px,0 63px,0 64px,0 65px,0 66px,0 67px,0 68px,0 69px,0 70px,0 71px,0 72px,0 73px,0 74px,0 75px,0 76px,0 77px,0 78px;background-size:100% 1px,100% 1px,100% 1px,100% 1px,100% 1px,100% 1px,100% 1px,100% 1px,100% 1px,100% 1px,100% 1px,100% 1px,100% 1px,100% 1px,100% 1px,100% 1px,100% 1px,100% 1px,100% 1px,100% 1px,100% 1px,100% 1px,100% 1px,100% 1px,100% 1px,100% 1px,100% 1px,100% 1px,100% 1px,100% 1px,100% 1px,100% 1px,100% 1px,100% 1px,100% 1px,100% 1px,100% 1px,100% 1px,100% 1px,100% 1px,100% 1px,100% 1px,100% 1px,100% 1px,100% 1px,100% 1px,100% 1px,100% 1px,100% 1px,100% 1px,100% 1px,100% 1px,100% 1px,100% 1px,100% 1px,100% 1px,100% 1px,100% 1px,100% 1px,100% 1px,100% 1px,100% 1px,100% 1px,100% 1px,100% 1px,100% 1px,100% 1px,100% 1px,100% 1px,100% 1px,100% 1px,100% 1px,100% 1px,100% 1px,100% 1px,100% 1px,100% 1px,100% 1px,100% 1px;background-repeat:no-repeat;}</style>
<div class="hm t1" style="left:243px;top:19px;width:123px;height:79px"></div>
<div class="hm t1" style="left:244px;top:248px;width:123px;height:79px"></div>
<div class="hm tb" style="left:243px;top:113px;width:123px;height:79px"></div>
<div class="hm tb" style="left:243px;top:339px;width:123px;height:79px"></div>
<div class="hm" style="left:371px;top:20px;width:4px;height:78px;background:linear-gradient(180deg,#890000 0.5px,#9a0000 2.5px,#ac0000 4.5px,#bd0000 6.5px,#ce0700 8.5px,#e01000 10.5px,#f11900 12.5px,#ff2300 14.5px,#ff3500 16.5px,#ff4600 18.5px,#ff5800 20.5px,#ff7100 22.5px,#ff9200 24.5px,#ffb202 26.5px,#ffcd1d 28.5px,#ffe737 30.5px,#f6f03a 32.5px,#e9f031 34.5px,#c9e128 36.5px,#a8d020 38.5px,#83c024 40.5px,#5fb028 42.5px,#46a42c 44.5px,#319b32 46.5px,#3ca448 48.5px,#4eb973 50.5px,#64d5a7 52.5px,#7af0cd 54.5px,#78f8e6 56.5px,#6df3f6 58.5px,#5fdfff 60.5px,#4dbeff 62.5px,#3c9cff 64.5px,#3079ff 66.5px,#2556ff 68.5px,#1d37ff 70.5px,#1716ff 72.5px,#1400ff 74.5px,#1400ff 76.5px)"></div>
<div class="hm" style="left:371px;top:111px;width:4px;height:77px;background:linear-gradient(180deg,#890000 0.5px,#9a0000 2.5px,#ac0000 4.5px,#be0000 6.5px,#cf0800 8.5px,#e11100 10.5px,#f21900 12.5px,#ff2500 14.5px,#ff3600 16.5px,#ff4800 18.5px,#ff5a00 20.5px,#ff7600 22.5px,#ff9700 24.5px,#ffb707 26.5px,#ffd121 28.5px,#ffec3c 30.5px,#f3f038 32.5px,#e3ed2f 34.5px,#c1dd26 36.5px,#9fcc21 38.5px,#7abb25 40.5px,#58ac29 42.5px,#3fa12d 44.5px,#349e39 46.5px,#3fa84f 48.5px,#55c285 50.5px,#6bdeb4 52.5px,#7ff8d9 54.5px,#74f8ed 56.5px,#68ecfa 58.5px,#58d2ff 60.5px,#45b1ff 62.5px,#378dff 64.5px,#2a69ff 66.5px,#2148ff 68.5px,#1928ff 70.5px,#1507ff 72.5px,#1400ff 74.5px,#1400ff 76.5px)"></div>
<div class="hm" style="left:370px;top:249px;width:4px;height:77px;background:linear-gradient(180deg,#890000 0.5px,#9a0000 2.5px,#ac0000 4.5px,#be0000 6.5px,#cf0800 8.5px,#e11100 10.5px,#f21900 12.5px,#ff2500 14.5px,#ff3600 16.5px,#ff4800 18.5px,#ff5a00 20.5px,#ff7600 22.5px,#ff9700 24.5px,#ffb707 26.5px,#ffd121 28.5px,#ffec3c 30.5px,#f3f038 32.5px,#e3ed2f 34.5px,#c1dd26 36.5px,#9fcc21 38.5px,#7abb25 40.5px,#58ac29 42.5px,#3fa12d 44.5px,#349e39 46.5px,#3fa84f 48.5px,#55c285 50.5px,#6bdeb4 52.5px,#7ff8d9 54.5px,#74f8ed 56.5px,#68ecfa 58.5px,#58d2ff 60.5px,#45b1ff 62.5px,#378dff 64.5px,#2a69ff 66.5px,#2148ff 68.5px,#1928ff 70.5px,#1507ff 72.5px,#1400ff 74.5px,#1400ff 76.5px)"></div>
<div class="hm" style="left:370px;top:339px;width:4px;height:77px;background:linear-gradient(180deg,#890000 0.5px,#9a0000 2.5px,#ac0000 4.5px,#be0000 6.5px,#cf0800 8.5px,#e11100 10.5px,#f21900 12.5px,#ff2500 14.5px,#ff3600 16.5px,#ff4800 18.5px,#ff5a00 20.5px,#ff7600 22.5px,#ff9700 24.5px,#ffb707 26.5px,#ffd121 28.5px,#ffec3c 30.5px,#f3f038 32.5px,#e3ed2f 34.5px,#c1dd26 36.5px,#9fcc21 38.5px,#7abb25 40.5px,#58ac29 42.5px,#3fa12d 44.5px,#349e39 46.5px,#3fa84f 48.5px,#55c285 50.5px,#6bdeb4 52.5px,#7ff8d9 54.5px,#74f8ed 56.5px,#68ecfa 58.5px,#58d2ff 60.5px,#45b1ff 62.5px,#378dff 64.5px,#2a69ff 66.5px,#2148ff 68.5px,#1928ff 70.5px,#1507ff 72.5px,#1400ff 74.5px,#1400ff 76.5px)"></div>
<svg width="685" height="447" viewBox="0 0 685 447">
<clipPath id="clipc"><rect x="411.5" y="19" width="272.5" height="174.5"/></clipPath>
<clipPath id="clipf"><rect x="411.5" y="246.5" width="272.5" height="171.5"/></clipPath>
<g clip-path="url(#clipc)">
<defs><linearGradient id="band163" gradientUnits="userSpaceOnUse" x1="0" y1="163" x2="0" y2="194"><stop offset="0" stop-color="#fbe0d0"/><stop offset="0.06" stop-color="#f8c8a8"/><stop offset="0.12" stop-color="#f49a70"/><stop offset="0.18" stop-color="#f27a50"/><stop offset="0.24" stop-color="#ec6454"/><stop offset="0.32" stop-color="#e05060"/><stop offset="0.47" stop-color="#c04080"/><stop offset="0.6" stop-color="#9a3c98"/><stop offset="0.73" stop-color="#7432a0"/><stop offset="0.9" stop-color="#4a2290"/><stop offset="1.0" stop-color="#3a1870"/></linearGradient></defs>
<path d="M411.5,163.9L422.5,164.1L440.0,163.9L441.5,164.3L443.0,165.9L444.0,166.3L447.0,166.2L450.5,167.1L453.5,167.6L461.0,165.8L466.0,165.5L476.0,165.3L505.5,165.6L513.5,165.9L525.0,167.2L532.5,167.7L548.0,168.0L582.0,169.5L594.0,169.3L624.5,166.8L639.0,166.0L658.0,165.5L684.0,165.3L684,194L411.5,194Z" fill="url(#band163)"/>
<path d="M411.5,163.4L417.5,163.5L421.5,163.0L423.5,163.5L427.5,163.0L431.5,163.5L441.5,163.3L443.5,161.4L445.5,161.0L447.5,161.5L451.5,160.2L453.5,160.1L465.5,162.3L469.5,161.8L473.5,162.5L475.5,162.0L479.5,162.3L487.5,161.3L491.5,161.3L493.5,160.7L497.5,161.1L499.5,160.6L505.5,160.3L515.5,158.7L517.5,157.6L521.5,156.5L525.5,154.4L531.5,152.8L535.5,152.3L539.5,152.6L543.5,152.0L545.5,152.4L549.5,151.5L553.5,151.4L561.5,150.0L563.5,150.0L567.5,148.8L569.5,149.0L573.5,148.2L585.5,147.6L587.5,148.0L591.5,147.6L595.5,148.8L599.5,149.1L609.5,151.6L613.5,153.1L615.5,153.1L619.5,154.6L623.5,154.9L629.5,156.2L633.5,156.4L637.5,157.5L639.5,157.2L643.5,158.1L647.5,157.9L655.5,158.7L657.5,158.6L661.5,159.3L665.5,158.8L667.5,159.4L671.5,159.1L679.5,159.5L683.5,159.3" fill="none" stroke="#f09a50" stroke-width="0.75" stroke-opacity="0.85"/>
<path d="M411.5,164.1L415.5,164.7L419.5,164.1L421.5,164.5L429.5,164.3L433.5,164.6L435.5,164.2L439.5,164.8L441.5,164.2L443.5,162.5L447.5,162.7L453.5,161.4L457.5,162.3L461.5,162.7L463.5,163.4L467.5,162.9L471.5,163.4L481.5,163.4L485.5,162.5L489.5,162.7L491.5,162.1L495.5,162.3L503.5,161.5L505.5,161.7L509.5,160.7L513.5,160.6L515.5,159.7L519.5,158.8L527.5,155.5L533.5,154.1L537.5,154.5L541.5,153.9L543.5,154.2L551.5,153.3L555.5,153.2L557.5,152.5L561.5,152.4L565.5,151.2L567.5,151.3L575.5,150.2L579.5,150.2L583.5,149.6L585.5,150.1L589.5,149.6L599.5,151.1L603.5,152.3L607.5,152.7L611.5,154.3L613.5,154.3L617.5,155.6L625.5,156.9L627.5,157.6L631.5,157.5L635.5,158.7L637.5,158.4L641.5,159.1L649.5,159.5L653.5,160.1L655.5,159.7L659.5,160.5L663.5,160.1L665.5,160.5L673.5,160.4L677.5,161.0L681.5,160.5L683.5,161.1" fill="none" stroke="#f09453" stroke-width="0.75" stroke-opacity="0.85"/>
<path d="M411.5,165.4L423.5,165.5L427.5,165.1L431.5,165.7L433.5,165.2L437.5,165.7L441.5,165.3L443.5,164.1L445.5,163.6L447.5,163.9L451.5,162.7L459.5,163.3L461.5,164.2L473.5,164.6L475.5,164.2L479.5,164.7L483.5,163.9L485.5,164.1L489.5,163.6L497.5,163.4L501.5,162.7L503.5,163.2L507.5,162.2L511.5,162.3L521.5,159.6L525.5,157.7L527.5,157.6L531.5,156.1L545.5,156.0L549.5,155.1L553.5,155.4L555.5,154.7L559.5,154.5L567.5,153.1L571.5,152.9L573.5,152.2L577.5,152.5L581.5,151.7L583.5,152.1L591.5,151.9L595.5,152.7L597.5,152.5L601.5,153.8L605.5,154.1L607.5,154.9L619.5,157.7L623.5,157.9L625.5,158.8L629.5,158.8L633.5,159.7L641.5,160.3L643.5,160.8L647.5,160.5L651.5,161.4L653.5,161.0L657.5,161.6L665.5,161.6L667.5,162.0L671.5,161.5L675.5,162.3L677.5,161.8L683.5,162.1" fill="none" stroke="#f08f56" stroke-width="0.75" stroke-opacity="0.85"/>
<path d="M411.5,166.5L419.5,166.3L421.5,166.7L425.5,166.1L429.5,166.7L431.5,166.3L439.5,166.7L441.5,166.4L443.5,165.2L447.5,165.1L449.5,164.3L455.5,163.9L463.5,165.4L467.5,165.2L471.5,165.8L473.5,165.3L477.5,165.8L489.5,164.9L491.5,164.4L495.5,164.8L499.5,164.1L501.5,164.4L513.5,163.2L515.5,162.4L519.5,162.0L523.5,160.0L525.5,159.8L529.5,158.4L533.5,157.9L541.5,157.4L543.5,157.9L547.5,157.1L551.5,157.3L553.5,156.8L561.5,156.2L565.5,155.1L569.5,155.2L571.5,154.5L575.5,154.6L579.5,154.0L585.5,154.1L589.5,153.7L593.5,154.5L595.5,154.2L599.5,155.2L603.5,155.6L611.5,157.6L613.5,157.6L617.5,159.0L621.5,159.1L623.5,159.9L635.5,161.4L639.5,161.4L641.5,162.1L645.5,161.8L647.5,162.3L659.5,163.1L663.5,162.7L665.5,163.3L669.5,162.8L673.5,163.4L681.5,163.3L683.5,163.6" fill="none" stroke="#f08958" stroke-width="0.75" stroke-opacity="0.85"/>
<path d="M411.5,167.6L413.5,167.8L415.5,167.3L417.5,167.3L419.5,167.8L423.5,167.2L431.5,167.6L433.5,167.3L437.5,167.9L443.5,167.1L445.5,166.2L453.5,165.3L459.5,165.6L461.5,166.5L465.5,166.2L469.5,166.8L471.5,166.5L479.5,166.8L483.5,166.2L485.5,166.5L489.5,165.7L493.5,166.1L495.5,165.6L503.5,165.4L507.5,164.8L511.5,165.0L513.5,164.2L517.5,163.9L521.5,162.4L531.5,159.6L535.5,159.8L539.5,159.1L541.5,159.6L553.5,158.8L555.5,158.3L559.5,158.4L563.5,157.3L565.5,157.5L569.5,156.8L577.5,156.4L581.5,155.8L583.5,156.2L587.5,155.6L591.5,156.2L593.5,156.0L605.5,157.6L607.5,158.5L609.5,158.9L611.5,158.8L615.5,160.1L619.5,160.5L625.5,161.7L629.5,161.7L633.5,162.7L635.5,162.4L639.5,163.2L643.5,163.2L651.5,163.9L653.5,163.6L657.5,164.4L661.5,163.9L663.5,164.4L667.5,164.3L675.5,164.7L677.5,164.4L681.5,164.9L683.5,164.7" fill="none" stroke="#f18254" stroke-width="0.75" stroke-opacity="0.85"/>
<path d="M411.5,168.9L413.5,168.4L417.5,168.7L425.5,168.3L429.5,168.8L431.5,168.3L435.5,168.9L439.5,168.4L441.5,168.7L443.5,168.3L445.5,167.3L453.5,166.8L455.5,166.2L457.5,166.4L459.5,167.2L467.5,167.7L473.5,167.6L477.5,168.1L481.5,167.4L483.5,167.8L487.5,167.1L499.5,166.6L501.5,166.9L505.5,166.1L509.5,166.4L511.5,165.8L519.5,164.7L523.5,163.2L527.5,162.6L529.5,161.6L533.5,161.6L535.5,161.1L543.5,161.1L547.5,160.6L551.5,160.9L553.5,160.2L557.5,160.4L561.5,159.5L569.5,158.9L571.5,158.4L575.5,158.6L579.5,157.8L581.5,158.2L585.5,157.7L595.5,158.0L599.5,159.0L603.5,158.9L607.5,160.2L609.5,160.2L617.5,161.9L621.5,162.2L623.5,163.0L627.5,162.9L631.5,163.9L633.5,163.7L641.5,164.7L645.5,164.5L649.5,165.2L651.5,164.8L655.5,165.6L659.5,165.3L665.5,165.7L669.5,165.4L673.5,166.1L675.5,165.6L679.5,166.1L683.5,165.8" fill="none" stroke="#f27c51" stroke-width="0.75" stroke-opacity="0.85"/>
<path d="M411.5,169.6L417.5,169.5L419.5,169.8L423.5,169.2L427.5,169.8L429.5,169.3L433.5,169.8L443.5,169.6L447.5,168.0L451.5,168.3L455.5,167.4L463.5,168.6L469.5,169.0L471.5,168.5L475.5,169.2L479.5,168.6L481.5,168.9L489.5,168.2L493.5,168.4L497.5,167.7L499.5,168.2L503.5,167.5L507.5,167.6L517.5,166.7L521.5,165.2L523.5,165.2L527.5,163.8L533.5,163.0L539.5,162.6L541.5,163.0L545.5,162.3L549.5,162.7L551.5,162.2L555.5,162.2L563.5,161.1L567.5,161.1L569.5,160.4L573.5,160.7L577.5,159.9L587.5,159.6L591.5,160.1L593.5,159.7L597.5,160.6L601.5,160.5L609.5,162.1L611.5,162.1L615.5,163.3L619.5,163.3L621.5,164.1L625.5,164.2L633.5,165.3L635.5,165.2L639.5,166.0L643.5,165.7L647.5,166.4L649.5,166.1L657.5,166.8L661.5,166.6L663.5,167.1L667.5,166.6L671.5,167.3L673.5,166.9L683.5,167.1" fill="none" stroke="#ef7052" stroke-width="0.75" stroke-opacity="0.85"/>
<path d="M411.5,170.9L415.5,170.5L417.5,171.0L421.5,170.3L423.5,170.7L431.5,170.5L435.5,170.9L439.5,170.4L441.5,171.0L443.5,170.7L445.5,169.4L449.5,169.7L455.5,168.8L459.5,169.4L463.5,169.4L467.5,170.1L469.5,169.7L473.5,170.1L481.5,169.8L483.5,170.0L487.5,169.3L491.5,169.7L495.5,169.0L497.5,169.3L505.5,168.7L509.5,168.9L511.5,168.2L515.5,168.4L519.5,167.2L521.5,167.1L529.5,165.0L533.5,164.9L535.5,164.3L537.5,164.2L539.5,164.7L543.5,164.0L547.5,164.3L553.5,163.8L557.5,163.9L561.5,162.9L563.5,163.3L567.5,162.4L571.5,162.5L579.5,161.7L581.5,162.0L585.5,161.3L589.5,162.0L591.5,161.5L603.5,162.6L607.5,163.5L609.5,163.3L613.5,164.6L617.5,164.7L619.5,165.2L627.5,165.9L631.5,166.7L633.5,166.4L637.5,167.2L641.5,167.0L643.5,167.4L651.5,167.5L655.5,168.2L659.5,167.7L661.5,168.3L665.5,167.9L669.5,168.3L677.5,168.3L679.5,168.7L683.5,168.1" fill="none" stroke="#ec6454" stroke-width="0.75" stroke-opacity="0.85"/>
<path d="M411.5,171.5L415.5,171.9L419.5,171.6L427.5,171.8L429.5,171.4L433.5,172.0L437.5,171.4L439.5,171.9L441.5,171.8L447.5,170.5L451.5,170.6L455.5,169.9L457.5,170.4L461.5,170.2L465.5,171.1L475.5,171.3L479.5,170.8L481.5,171.3L485.5,170.6L489.5,170.9L497.5,170.3L499.5,170.5L503.5,169.8L507.5,170.3L509.5,169.6L513.5,169.8L523.5,168.1L527.5,166.8L531.5,166.8L535.5,165.9L537.5,166.2L545.5,165.8L549.5,166.0L551.5,165.4L555.5,165.8L559.5,164.9L561.5,165.1L569.5,164.2L573.5,164.3L577.5,163.6L579.5,164.0L583.5,163.2L587.5,163.7L593.5,163.5L597.5,164.1L601.5,163.9L603.5,164.7L607.5,164.7L611.5,165.7L619.5,166.5L621.5,167.1L625.5,167.0L629.5,168.0L631.5,167.7L635.5,168.3L643.5,168.5L647.5,169.0L649.5,168.6L653.5,169.4L657.5,169.0L659.5,169.4L667.5,169.3L671.5,169.8L673.5,169.3L677.5,169.9L681.5,169.4L683.5,169.7" fill="none" stroke="#e75b59" stroke-width="0.75" stroke-opacity="0.85"/>
<path d="M411.5,172.7L417.5,172.9L421.5,172.4L425.5,172.9L427.5,172.4L431.5,173.0L435.5,172.6L441.5,172.9L443.5,172.8L445.5,171.9L449.5,172.1L451.5,171.4L453.5,171.2L455.5,171.5L459.5,171.3L467.5,172.2L469.5,171.9L473.5,172.5L477.5,171.9L479.5,172.4L483.5,171.9L491.5,171.9L493.5,171.4L497.5,171.8L501.5,171.1L505.5,171.4L515.5,170.9L519.5,169.9L521.5,170.1L525.5,168.7L533.5,167.8L539.5,167.7L543.5,167.2L547.5,167.7L549.5,167.1L553.5,167.4L565.5,166.5L567.5,165.9L571.5,166.3L575.5,165.5L577.5,165.8L585.5,165.2L589.5,165.5L591.5,165.1L595.5,165.8L599.5,165.5L601.5,166.1L609.5,166.8L613.5,167.6L617.5,167.6L619.5,168.4L623.5,168.2L627.5,169.1L637.5,169.9L641.5,169.5L643.5,170.2L647.5,169.9L651.5,170.5L659.5,170.4L661.5,170.8L665.5,170.3L669.5,171.0L671.5,170.5L675.5,171.0L683.5,170.7" fill="none" stroke="#e1525f" stroke-width="0.75" stroke-opacity="0.85"/>
<path d="M411.5,173.6L415.5,174.1L419.5,173.4L423.5,173.9L425.5,173.6L433.5,173.9L437.5,173.6L439.5,174.1L455.5,172.5L461.5,172.5L465.5,173.4L467.5,172.9L471.5,173.5L475.5,173.1L481.5,173.3L485.5,172.8L489.5,173.2L491.5,172.6L495.5,173.0L499.5,172.5L507.5,172.5L509.5,172.1L513.5,172.4L517.5,171.4L519.5,171.7L523.5,170.7L533.5,169.2L535.5,169.1L537.5,169.5L541.5,168.7L545.5,169.2L547.5,168.9L555.5,168.9L559.5,168.2L561.5,168.6L565.5,167.7L569.5,168.0L571.5,167.6L579.5,167.4L583.5,166.8L587.5,167.4L589.5,166.8L593.5,167.4L597.5,167.2L605.5,168.1L607.5,167.9L611.5,169.0L615.5,168.9L617.5,169.6L621.5,169.6L629.5,170.6L631.5,170.4L635.5,171.2L639.5,170.8L641.5,171.3L653.5,171.8L657.5,171.5L659.5,172.1L663.5,171.5L667.5,172.1L669.5,171.9L677.5,172.3L681.5,171.8L683.5,172.3" fill="none" stroke="#db4d65" stroke-width="0.75" stroke-opacity="0.85"/>
<path d="M411.5,174.7L413.5,175.1L417.5,174.6L419.5,174.9L427.5,174.6L431.5,175.1L435.5,174.5L437.5,175.1L441.5,174.6L445.5,174.7L447.5,174.1L453.5,173.7L455.5,174.0L459.5,173.4L463.5,174.3L477.5,174.2L479.5,174.6L483.5,173.9L487.5,174.4L489.5,173.9L497.5,173.9L501.5,173.5L505.5,173.8L507.5,173.3L511.5,173.7L515.5,173.0L521.5,172.6L525.5,171.6L529.5,171.6L531.5,170.8L535.5,171.0L539.5,170.4L547.5,170.6L549.5,170.3L553.5,170.7L557.5,169.9L559.5,170.3L563.5,169.7L571.5,169.5L573.5,169.1L577.5,169.4L581.5,168.6L585.5,169.0L587.5,168.7L599.5,168.9L601.5,169.5L603.5,169.6L605.5,169.2L609.5,170.3L611.5,170.1L619.5,171.1L623.5,171.1L627.5,171.9L629.5,171.6L633.5,172.3L637.5,172.1L645.5,172.7L647.5,172.4L651.5,173.1L655.5,172.7L657.5,173.2L661.5,172.9L669.5,173.3L671.5,173.0L675.5,173.6L679.5,173.0L683.5,173.5" fill="none" stroke="#d34a6d" stroke-width="0.75" stroke-opacity="0.85"/>
<path d="M411.5,176.0L419.5,175.7L423.5,176.0L425.5,175.5L429.5,176.2L433.5,175.6L435.5,176.0L445.5,175.9L449.5,174.9L453.5,175.3L457.5,174.5L471.5,175.7L475.5,175.2L477.5,175.7L481.5,175.2L485.5,175.4L493.5,175.0L495.5,175.3L499.5,174.6L503.5,175.1L505.5,174.6L509.5,174.8L517.5,174.1L519.5,174.3L523.5,173.2L527.5,173.3L529.5,172.6L531.5,172.4L541.5,171.9L545.5,172.3L547.5,171.7L551.5,172.3L555.5,171.6L561.5,171.6L565.5,171.1L569.5,171.4L571.5,170.8L573.5,170.7L575.5,171.1L579.5,170.5L589.5,170.3L593.5,170.8L597.5,170.3L599.5,171.0L603.5,170.8L611.5,171.8L615.5,171.9L617.5,172.6L621.5,172.2L625.5,173.1L627.5,172.9L635.5,173.6L639.5,173.4L641.5,174.0L645.5,173.5L649.5,174.3L651.5,174.0L659.5,174.4L663.5,174.1L667.5,174.6L669.5,174.1L673.5,174.7L677.5,174.3L683.5,174.6" fill="none" stroke="#cc4674" stroke-width="0.75" stroke-opacity="0.85"/>
<path d="M411.5,176.9L413.5,177.2L417.5,176.6L419.5,177.1L421.5,177.1L423.5,176.6L427.5,177.1L435.5,176.8L437.5,177.1L441.5,176.6L445.5,177.2L447.5,176.2L451.5,176.5L459.5,175.9L463.5,176.4L465.5,176.1L469.5,176.8L473.5,176.3L475.5,176.7L483.5,176.3L487.5,176.6L489.5,176.1L493.5,176.5L497.5,175.8L499.5,176.1L507.5,175.8L511.5,176.1L515.5,175.4L517.5,175.8L521.5,174.9L525.5,174.8L531.5,173.9L535.5,174.0L539.5,173.3L543.5,173.8L545.5,173.3L549.5,173.6L557.5,173.1L559.5,173.4L563.5,172.6L567.5,173.1L569.5,172.5L573.5,172.6L581.5,172.1L585.5,172.4L587.5,171.9L591.5,172.5L595.5,172.0L605.5,172.5L609.5,173.3L611.5,173.0L613.5,173.1L615.5,173.8L619.5,173.6L623.5,174.2L629.5,174.3L633.5,175.0L637.5,174.5L639.5,175.1L643.5,174.9L647.5,175.3L655.5,175.3L657.5,175.7L661.5,175.1L665.5,175.8L667.5,175.4L675.5,175.8L679.5,175.5L681.5,175.9L683.5,175.9" fill="none" stroke="#c5427b" stroke-width="0.75" stroke-opacity="0.85"/>
<path d="M411.5,178.3L415.5,177.7L417.5,178.1L425.5,177.8L429.5,178.1L433.5,177.7L435.5,178.2L439.5,177.6L443.5,178.1L449.5,177.3L453.5,177.5L457.5,176.8L459.5,177.3L463.5,177.1L467.5,177.8L475.5,177.5L477.5,177.8L481.5,177.3L485.5,177.8L487.5,177.3L491.5,177.6L499.5,177.1L503.5,177.3L505.5,176.8L509.5,177.4L513.5,176.7L515.5,177.0L527.5,176.0L529.5,175.3L533.5,175.6L537.5,174.8L539.5,175.1L547.5,174.9L551.5,175.2L555.5,174.5L557.5,175.0L561.5,174.3L565.5,174.6L573.5,174.0L575.5,174.3L579.5,173.6L583.5,174.1L585.5,173.5L589.5,173.9L597.5,173.7L599.5,174.2L603.5,173.8L607.5,174.7L609.5,174.4L613.5,174.9L621.5,175.2L625.5,175.8L627.5,175.4L631.5,176.2L635.5,175.8L637.5,176.2L645.5,176.2L649.5,176.8L651.5,176.3L653.5,176.4L655.5,176.9L659.5,176.4L663.5,176.8L669.5,176.6L673.5,177.1L677.5,176.6L679.5,177.1L683.5,176.7" fill="none" stroke="#bc4082" stroke-width="0.75" stroke-opacity="0.85"/>
<path d="M411.5,179.0L421.5,179.1L423.5,178.7L427.5,179.3L431.5,178.7L433.5,179.2L437.5,178.9L445.5,179.1L447.5,178.5L449.5,178.4L451.5,178.9L455.5,178.0L457.5,178.4L461.5,178.2L469.5,178.9L473.5,178.5L475.5,179.0L479.5,178.4L483.5,178.9L485.5,178.5L493.5,178.6L497.5,178.1L499.5,178.6L501.5,178.5L503.5,178.0L507.5,178.5L517.5,178.1L521.5,177.4L525.5,177.6L527.5,176.9L529.5,176.7L531.5,177.0L539.5,176.4L543.5,176.6L545.5,176.1L549.5,176.7L553.5,176.1L555.5,176.4L563.5,175.9L567.5,176.1L569.5,175.6L573.5,176.0L577.5,175.2L579.5,175.6L587.5,175.3L591.5,175.6L595.5,175.1L597.5,175.7L601.5,175.3L605.5,175.9L613.5,176.2L615.5,176.6L619.5,176.3L623.5,177.1L625.5,176.6L629.5,177.3L637.5,177.3L639.5,177.6L643.5,177.2L647.5,178.0L649.5,177.5L653.5,177.9L661.5,177.8L665.5,178.1L667.5,177.7L671.5,178.3L675.5,177.8L677.5,178.2L683.5,178.1" fill="none" stroke="#b23f89" stroke-width="0.75" stroke-opacity="0.85"/>
<path d="M411.5,180.2L415.5,179.8L417.5,180.3L419.5,180.2L421.5,179.7L425.5,180.3L427.5,179.9L435.5,180.1L439.5,179.8L443.5,180.3L445.5,179.8L463.5,179.3L467.5,180.0L471.5,179.5L473.5,180.0L477.5,179.6L485.5,179.9L487.5,179.5L491.5,179.9L495.5,179.2L497.5,179.7L501.5,179.3L509.5,179.5L513.5,179.1L515.5,179.5L519.5,178.7L523.5,179.0L525.5,178.5L533.5,178.2L537.5,177.6L541.5,178.0L543.5,177.5L547.5,178.0L551.5,177.7L557.5,177.8L561.5,177.2L565.5,177.7L567.5,177.1L571.5,177.5L575.5,177.0L583.5,177.1L585.5,176.6L589.5,177.2L593.5,176.6L595.5,177.1L599.5,176.9L607.5,177.5L609.5,177.2L613.5,178.0L617.5,177.5L619.5,178.0L631.5,178.7L635.5,178.3L637.5,178.9L641.5,178.4L645.5,179.0L653.5,178.9L655.5,179.2L659.5,178.7L663.5,179.4L665.5,178.9L669.5,179.4L677.5,179.1L679.5,179.4L683.5,178.9" fill="none" stroke="#a83d8f" stroke-width="0.75" stroke-opacity="0.85"/>
<path d="M411.5,181.0L413.5,180.8L415.5,181.3L419.5,180.8L423.5,181.1L431.5,180.9L433.5,181.3L437.5,180.7L441.5,181.3L443.5,180.9L447.5,181.1L455.5,180.4L459.5,180.7L461.5,180.2L465.5,181.0L467.5,180.7L475.5,180.9L479.5,180.6L483.5,181.1L485.5,180.5L489.5,181.0L493.5,180.5L501.5,180.6L503.5,180.3L507.5,180.8L509.5,180.3L511.5,180.2L513.5,180.7L517.5,180.1L525.5,180.0L527.5,179.5L531.5,179.8L535.5,179.0L537.5,179.4L541.5,179.0L549.5,179.3L553.5,178.9L555.5,179.4L559.5,178.7L563.5,179.1L565.5,178.7L573.5,178.8L577.5,178.3L581.5,178.7L583.5,178.1L587.5,178.7L589.5,178.3L597.5,178.6L601.5,178.2L605.5,179.0L607.5,178.5L611.5,179.2L615.5,179.0L623.5,179.5L625.5,179.2L629.5,180.0L633.5,179.5L635.5,180.0L639.5,179.8L647.5,180.3L649.5,179.9L653.5,180.5L657.5,179.9L661.5,180.4L663.5,180.2L671.5,180.5L675.5,180.1L677.5,180.6L681.5,180.1L683.5,180.4" fill="none" stroke="#9e3c95" stroke-width="0.75" stroke-opacity="0.85"/>
<path d="M411.5,181.9L413.5,182.2L421.5,181.9L425.5,182.4L429.5,181.9L431.5,182.4L435.5,181.8L439.5,182.2L449.5,182.1L453.5,181.5L455.5,182.0L459.5,181.4L463.5,181.8L471.5,181.8L473.5,182.2L477.5,181.6L481.5,182.2L483.5,181.7L487.5,182.0L495.5,181.6L499.5,181.9L501.5,181.4L505.5,182.0L507.5,181.5L515.5,181.6L519.5,181.2L523.5,181.5L525.5,180.8L529.5,181.2L533.5,180.5L543.5,180.3L547.5,180.8L551.5,180.2L553.5,180.7L557.5,180.2L565.5,180.3L567.5,180.0L571.5,180.4L575.5,179.7L577.5,180.2L581.5,179.7L589.5,180.0L593.5,179.7L595.5,180.1L599.5,179.6L603.5,180.3L605.5,179.9L613.5,180.5L617.5,180.3L621.5,180.9L623.5,180.4L627.5,181.1L641.5,180.9L645.5,181.5L647.5,181.0L651.5,181.6L655.5,181.2L663.5,181.5L665.5,181.2L669.5,181.8L673.5,181.2L675.5,181.7L679.5,181.4L683.5,181.5" fill="none" stroke="#943a99" stroke-width="0.75" stroke-opacity="0.85"/>
<path d="M411.5,183.1L415.5,183.3L419.5,182.8L423.5,183.5L427.5,182.9L429.5,183.3L437.5,183.0L441.5,183.3L443.5,182.9L447.5,183.5L451.5,182.6L453.5,183.0L461.5,182.6L465.5,183.1L469.5,182.7L471.5,183.3L475.5,182.7L489.5,183.2L493.5,182.6L495.5,183.1L499.5,182.6L503.5,182.9L511.5,182.6L513.5,183.0L517.5,182.3L521.5,182.8L523.5,182.2L527.5,182.4L535.5,181.8L537.5,182.1L541.5,181.5L545.5,182.2L549.5,181.6L551.5,181.9L559.5,181.5L563.5,181.9L565.5,181.3L569.5,181.9L573.5,181.2L575.5,181.5L583.5,181.1L587.5,181.6L591.5,181.0L593.5,181.6L597.5,181.1L607.5,181.3L611.5,181.9L615.5,181.4L617.5,182.0L621.5,181.7L629.5,182.2L633.5,182.1L635.5,182.5L639.5,182.0L643.5,182.7L645.5,182.3L653.5,182.6L657.5,182.3L661.5,182.8L663.5,182.3L667.5,182.9L671.5,182.5L677.5,182.7L681.5,182.4L683.5,182.7" fill="none" stroke="#8a389b" stroke-width="0.75" stroke-opacity="0.85"/>
<path d="M411.5,183.9L413.5,184.4L417.5,183.9L421.5,184.4L429.5,184.1L431.5,184.4L435.5,183.9L437.5,184.3L439.5,184.4L441.5,183.9L445.5,184.4L453.5,183.9L455.5,184.1L459.5,183.6L463.5,184.2L465.5,183.8L469.5,184.2L477.5,183.9L481.5,184.2L483.5,183.8L487.5,184.4L491.5,183.7L493.5,184.1L501.5,183.8L505.5,184.1L509.5,183.6L511.5,184.2L515.5,183.5L519.5,183.9L525.5,183.4L529.5,183.6L533.5,183.0L535.5,183.4L539.5,182.9L543.5,183.3L551.5,183.0L553.5,183.3L557.5,182.7L561.5,183.3L563.5,182.8L567.5,183.1L575.5,182.6L577.5,183.0L581.5,182.4L585.5,183.0L589.5,182.5L591.5,182.8L599.5,182.5L603.5,183.0L605.5,182.5L609.5,183.2L613.5,182.8L615.5,183.1L623.5,183.1L627.5,183.6L631.5,183.1L633.5,183.7L637.5,183.2L641.5,183.6L649.5,183.6L651.5,183.9L655.5,183.4L657.5,183.9L661.5,183.5L665.5,183.8L673.5,183.6L675.5,184.0L679.5,183.4L683.5,184.1" fill="none" stroke="#80359e" stroke-width="0.75" stroke-opacity="0.85"/>
<path d="M411.5,185.4L415.5,185.1L423.5,185.4L425.5,185.0L429.5,185.5L433.5,184.9L435.5,185.3L447.5,185.4L451.5,184.8L453.5,185.3L457.5,184.7L461.5,185.2L463.5,184.9L471.5,185.3L475.5,184.8L479.5,185.4L481.5,184.8L485.5,185.3L497.5,185.1L499.5,184.7L503.5,185.3L505.5,184.8L509.5,185.2L517.5,184.8L521.5,185.0L523.5,184.5L527.5,185.0L531.5,184.3L533.5,184.6L541.5,184.3L545.5,184.6L549.5,184.2L551.5,184.7L555.5,184.0L559.5,184.5L565.5,184.2L569.5,184.4L573.5,183.9L575.5,184.4L577.5,184.3L579.5,183.8L583.5,184.2L591.5,183.9L593.5,184.3L597.5,183.7L601.5,184.4L603.5,183.9L607.5,184.3L615.5,184.2L617.5,184.5L621.5,184.1L625.5,184.8L629.5,184.4L631.5,184.7L639.5,184.5L643.5,185.0L645.5,184.5L649.5,185.1L653.5,184.6L655.5,184.9L663.5,184.7L667.5,185.1L671.5,184.6L673.5,185.2L677.5,184.6L683.5,184.9" fill="none" stroke="#7632a0" stroke-width="0.75" stroke-opacity="0.85"/>
<path d="M411.5,186.2L417.5,186.0L421.5,186.6L423.5,186.0L427.5,186.5L431.5,186.1L439.5,186.4L441.5,186.0L445.5,186.6L449.5,185.9L451.5,186.3L455.5,186.0L463.5,186.2L465.5,185.9L469.5,186.5L473.5,185.8L477.5,186.4L479.5,186.1L487.5,186.3L491.5,185.9L493.5,186.4L497.5,185.8L501.5,186.3L503.5,186.0L511.5,186.2L515.5,185.7L519.5,186.2L521.5,185.7L525.5,186.1L529.5,185.7L537.5,185.7L539.5,185.3L543.5,185.9L545.5,185.4L549.5,185.8L553.5,185.5L561.5,185.7L563.5,185.3L567.5,185.8L571.5,185.2L573.5,185.6L577.5,185.3L585.5,185.6L589.5,185.1L591.5,185.7L595.5,185.0L599.5,185.5L605.5,185.4L609.5,185.7L613.5,185.2L615.5,185.8L619.5,185.3L623.5,185.9L631.5,185.7L633.5,186.0L637.5,185.5L641.5,186.2L643.5,185.6L647.5,186.1L655.5,185.8L657.5,186.1L661.5,185.7L665.5,186.3L669.5,185.8L671.5,186.2L679.5,185.9L683.5,186.2" fill="none" stroke="#6d2f9d" stroke-width="0.75" stroke-opacity="0.85"/>
<path d="M411.5,187.6L415.5,186.9L419.5,187.6L421.5,187.1L429.5,187.4L433.5,187.1L437.5,187.5L439.5,187.0L443.5,187.6L447.5,187.1L453.5,187.3L457.5,186.9L461.5,187.4L463.5,186.9L467.5,187.5L471.5,187.1L479.5,187.3L481.5,187.0L485.5,187.6L489.5,186.9L491.5,187.4L495.5,187.0L503.5,187.3L505.5,187.0L509.5,187.5L513.5,186.8L517.5,187.3L519.5,186.9L527.5,187.1L531.5,186.7L533.5,187.1L537.5,186.5L541.5,187.1L543.5,186.7L551.5,187.0L555.5,186.5L559.5,187.0L561.5,186.5L565.5,187.0L569.5,186.6L577.5,186.7L579.5,186.4L583.5,187.0L585.5,186.4L589.5,186.9L593.5,186.5L601.5,186.8L603.5,186.4L607.5,187.0L611.5,186.4L613.5,186.9L617.5,186.7L625.5,187.1L629.5,186.7L631.5,187.2L635.5,186.6L639.5,187.2L641.5,186.9L649.5,187.2L653.5,186.8L655.5,187.3L659.5,186.8L663.5,187.3L667.5,187.0L673.5,187.3L677.5,186.8L681.5,187.4L683.5,186.9" fill="none" stroke="#642c9a" stroke-width="0.75" stroke-opacity="0.85"/>
<path d="M411.5,188.4L413.5,188.1L417.5,188.4L423.5,188.2L427.5,188.6L431.5,188.0L433.5,188.5L437.5,188.1L441.5,188.4L449.5,188.2L451.5,188.5L455.5,187.9L459.5,188.5L461.5,188.1L469.5,188.3L473.5,188.1L477.5,188.5L479.5,188.0L483.5,188.6L487.5,188.1L493.5,188.3L497.5,188.0L501.5,188.5L503.5,188.0L507.5,188.5L511.5,188.0L519.5,188.3L521.5,188.0L525.5,188.5L529.5,187.8L531.5,188.3L535.5,187.8L543.5,188.1L545.5,187.8L549.5,188.3L553.5,187.6L557.5,188.2L559.5,187.8L567.5,188.1L571.5,187.7L573.5,188.2L577.5,187.6L581.5,188.2L583.5,187.8L591.5,188.0L595.5,187.6L599.5,188.1L601.5,187.6L605.5,188.2L609.5,187.8L615.5,188.1L619.5,187.7L623.5,188.3L627.5,187.8L629.5,188.3L633.5,187.9L641.5,188.3L643.5,187.9L647.5,188.5L651.5,187.9L653.5,188.3L657.5,188.0L665.5,188.4L669.5,188.0L671.5,188.5L675.5,187.9L679.5,188.4L683.5,188.2" fill="none" stroke="#5c2997" stroke-width="0.75" stroke-opacity="0.85"/>
<path d="M411.5,189.3L415.5,189.2L419.5,189.6L421.5,189.1L425.5,189.7L429.5,189.1L431.5,189.4L439.5,189.2L443.5,189.6L447.5,189.1L449.5,189.6L453.5,189.1L457.5,189.4L465.5,189.2L467.5,189.6L471.5,189.0L473.5,189.5L475.5,189.6L477.5,189.1L481.5,189.5L489.5,189.2L491.5,189.6L495.5,189.0L499.5,189.6L501.5,189.1L505.5,189.4L513.5,189.1L517.5,189.5L519.5,189.0L523.5,189.6L527.5,189.0L529.5,189.3L537.5,189.0L541.5,189.4L543.5,188.9L547.5,189.5L551.5,188.9L555.5,189.2L561.5,188.9L565.5,189.4L569.5,188.8L571.5,189.3L575.5,188.9L579.5,189.1L587.5,188.9L589.5,189.4L593.5,188.7L597.5,189.3L599.5,188.9L607.5,189.2L611.5,188.9L613.5,189.4L617.5,188.8L621.5,189.4L623.5,189.1L631.5,189.3L635.5,189.0L639.5,189.5L641.5,188.9L645.5,189.5L649.5,189.1L657.5,189.3L659.5,189.0L663.5,189.6L665.5,189.1L667.5,189.0L669.5,189.5L673.5,189.1L681.5,189.4L683.5,189.1" fill="none" stroke="#532694" stroke-width="0.75" stroke-opacity="0.85"/>
<path d="M411.5,190.4L413.5,190.1L417.5,190.7L419.5,190.2L423.5,190.6L431.5,190.3L435.5,190.5L437.5,190.1L441.5,190.7L445.5,190.2L447.5,190.6L455.5,190.2L459.5,190.6L461.5,190.1L465.5,190.7L469.5,190.1L471.5,190.5L479.5,190.3L483.5,190.6L487.5,190.1L489.5,190.7L493.5,190.1L497.5,190.5L503.5,190.3L507.5,190.6L511.5,190.0L515.5,190.6L517.5,190.1L521.5,190.5L529.5,190.2L531.5,190.5L535.5,190.0L539.5,190.6L541.5,190.1L545.5,190.4L553.5,190.1L557.5,190.5L559.5,190.0L563.5,190.6L567.5,190.0L569.5,190.4L577.5,190.1L581.5,190.5L583.5,190.0L585.5,190.0L587.5,190.5L591.5,190.0L595.5,190.3L601.5,190.1L605.5,190.5L609.5,189.9L611.5,190.5L615.5,190.0L619.5,190.4L627.5,190.2L629.5,190.6L633.5,190.0L637.5,190.6L639.5,190.1L643.5,190.4L651.5,190.1L653.5,190.6L657.5,190.0L661.5,190.6L663.5,190.2L671.5,190.4L675.5,190.1L679.5,190.6L681.5,190.1L683.5,190.2" fill="none" stroke="#4b2290" stroke-width="0.75" stroke-opacity="0.85"/>
<path d="M411.5,191.1L415.5,191.6L417.5,191.3L425.5,191.6L429.5,191.1L431.5,191.7L435.5,191.1L439.5,191.7L447.5,191.4L449.5,191.6L453.5,191.1L457.5,191.7L459.5,191.2L463.5,191.6L471.5,191.3L475.5,191.6L477.5,191.1L481.5,191.8L485.5,191.2L487.5,191.6L495.5,191.3L499.5,191.6L501.5,191.2L505.5,191.8L509.5,191.1L511.5,191.5L519.5,191.3L523.5,191.6L527.5,191.1L529.5,191.7L533.5,191.1L537.5,191.5L545.5,191.3L547.5,191.6L551.5,191.1L555.5,191.6L557.5,191.1L561.5,191.6L569.5,191.3L571.5,191.6L575.5,191.0L579.5,191.7L581.5,191.2L585.5,191.5L593.5,191.2L597.5,191.5L599.5,191.1L603.5,191.7L607.5,191.1L609.5,191.5L617.5,191.2L621.5,191.6L625.5,191.2L627.5,191.7L631.5,191.1L635.5,191.5L641.5,191.3L645.5,191.7L649.5,191.1L651.5,191.6L655.5,191.1L659.5,191.5L667.5,191.3L669.5,191.7L673.5,191.1L677.5,191.7L679.5,191.2L683.5,191.5" fill="none" stroke="#451f86" stroke-width="0.75" stroke-opacity="0.85"/>
<path d="M411.5,192.5L417.5,192.6L419.5,192.2L423.5,192.8L427.5,192.2L429.5,192.6L433.5,192.3L441.5,192.6L445.5,192.3L447.5,192.8L451.5,192.1L455.5,192.7L457.5,192.4L465.5,192.6L469.5,192.2L471.5,192.7L475.5,192.2L479.5,192.7L483.5,192.4L489.5,192.6L493.5,192.2L497.5,192.8L499.5,192.2L503.5,192.7L507.5,192.4L515.5,192.6L517.5,192.2L521.5,192.8L525.5,192.2L527.5,192.6L531.5,192.4L539.5,192.6L541.5,192.2L545.5,192.8L549.5,192.1L551.5,192.6L559.5,192.4L563.5,192.7L567.5,192.2L569.5,192.7L573.5,192.1L577.5,192.6L585.5,192.4L587.5,192.7L591.5,192.1L595.5,192.7L597.5,192.2L601.5,192.6L609.5,192.4L611.5,192.6L615.5,192.1L619.5,192.8L621.5,192.3L625.5,192.6L633.5,192.3L637.5,192.6L639.5,192.2L643.5,192.8L647.5,192.2L649.5,192.6L657.5,192.3L661.5,192.7L665.5,192.3L667.5,192.8L671.5,192.2L675.5,192.6L683.5,192.4" fill="none" stroke="#401b7b" stroke-width="0.75" stroke-opacity="0.85"/>
<path d="M411.5,193.3L415.5,193.8L417.5,193.2L421.5,193.8L425.5,193.3L433.5,193.6L435.5,193.3L439.5,193.8L443.5,193.3L445.5,193.8L449.5,193.3L457.5,193.6L459.5,193.3L463.5,193.8L467.5,193.2L469.5,193.7L485.5,193.3L487.5,193.8L491.5,193.2L495.5,193.7L497.5,193.4L505.5,193.7L509.5,193.2L513.5,193.7L515.5,193.2L519.5,193.8L523.5,193.4L529.5,193.6L533.5,193.2L537.5,193.8L539.5,193.3L543.5,193.8L547.5,193.4L555.5,193.6L557.5,193.2L561.5,193.8L565.5,193.2L567.5,193.7L571.5,193.4L579.5,193.7L581.5,193.3L585.5,193.8L589.5,193.2L593.5,193.7L595.5,193.4L603.5,193.7L607.5,193.3L609.5,193.8L613.5,193.2L617.5,193.7L619.5,193.4L627.5,193.7L631.5,193.2L635.5,193.7L637.5,193.2L641.5,193.7L645.5,193.4L651.5,193.7L655.5,193.2L659.5,193.8L661.5,193.3L665.5,193.7L673.5,193.4L677.5,193.7L679.5,193.2L683.5,193.8" fill="none" stroke="#3a1870" stroke-width="0.75" stroke-opacity="0.85"/>
<path d="M411.5,163.0L536.0,162.9L560.0,159.2L596.5,157.7L605.5,157.7L612.0,158.0L644.5,160.5L662.5,161.2L684.0,161.5" fill="none" stroke="#f08a58" stroke-width="1.0" stroke-linejoin="round"/>
<path d="M411.5,163.0L536.0,162.8L560.0,158.1L585.5,156.6L595.5,156.2L604.5,156.2L611.0,156.6L630.5,158.7L643.5,159.8L661.5,160.7L684.0,161.2" fill="none" stroke="#f08e55" stroke-width="1.0" stroke-linejoin="round"/>
<path d="M411.5,163.0L512.0,163.0L536.0,162.7L560.0,156.6L584.5,154.8L594.5,154.3L603.5,154.3L610.0,154.8L630.0,157.6L643.0,159.0L661.0,160.0L684.0,160.6" fill="none" stroke="#f09251" stroke-width="1.0" stroke-linejoin="round"/>
<path d="M411.5,163.0L512.0,163.0L536.0,162.5L554.5,156.6L560.0,154.7L583.5,152.3L593.5,151.7L602.5,151.8L609.0,152.4L629.0,156.0L642.0,157.8L660.5,159.2L684.0,160.0" fill="none" stroke="#f0964e" stroke-width="1.0" stroke-linejoin="round"/>
<path d="M411.5,163.0L512.0,163.0L525.5,162.6L536.0,162.1L554.0,155.2L560.0,152.6L582.5,149.7L592.5,149.0L601.5,149.1L608.0,149.9L612.5,150.7L628.0,154.3L636.5,155.9L641.0,156.5L651.5,157.7L660.0,158.3L684.0,159.3" fill="none" stroke="#f09a4c" stroke-width="1.0" stroke-linejoin="round"/>
<path d="M411.5,163.0L440.0,163.0L442.5,162.8L447.5,163.0L460.0,163.0L462.5,162.8L512.0,162.9L522.5,162.5L530.5,162.0L536.0,161.4L553.5,153.6L560.0,150.1L581.0,146.8L591.5,145.8L599.5,145.9L604.0,146.4L611.0,147.8L624.0,151.5L634.5,154.1L647.0,156.0L663.0,157.5L684.0,158.4" fill="none" stroke="#f09d4b" stroke-width="1.0" stroke-linejoin="round"/>
<path d="M411.5,163.0L440.0,163.0L441.5,162.9L442.5,162.6L448.5,163.0L458.0,163.0L461.5,162.5L467.0,162.5L477.5,162.8L512.0,162.8L526.5,161.7L536.0,160.3L553.0,151.2L560.0,146.8L565.0,145.9L580.0,142.8L590.5,141.5L598.5,141.6L603.0,142.2L610.0,144.0L623.0,148.7L633.5,151.9L637.5,152.8L646.5,154.4L654.0,155.4L662.5,156.2L684.0,157.3" fill="none" stroke="#f0a149" stroke-width="1.0" stroke-linejoin="round"/>
<path d="M411.5,162.6L422.5,162.2L440.0,162.7L442.0,162.1L445.0,162.1L447.0,162.7L449.5,162.9L456.0,163.0L457.5,162.8L459.5,162.1L462.0,162.1L466.0,161.7L472.5,162.3L476.5,162.4L512.0,162.4L522.0,161.4L526.5,160.7L536.0,158.4L552.5,148.7L560.0,143.3L579.0,138.8L586.0,137.6L589.5,137.2L597.5,137.3L602.0,138.0L609.0,140.2L622.0,145.8L632.5,149.6L636.5,150.8L646.0,152.7L653.5,154.0L662.5,155.0L673.5,155.8L684.0,156.2" fill="none" stroke="#f0a547" stroke-width="1.0" stroke-linejoin="round"/>
<path d="M411.5,162.2L422.5,161.4L440.0,162.4L442.0,161.1L442.5,161.3L445.0,160.9L450.0,162.6L454.0,162.9L455.5,162.6L457.0,161.3L457.5,161.1L458.5,160.9L460.5,161.1L465.0,159.9L471.5,161.3L480.0,161.7L512.0,161.5L518.5,160.7L525.0,159.2L536.0,155.6L541.0,152.1L552.0,145.2L560.0,138.9L578.0,133.5L585.0,132.1L588.5,131.7L596.5,131.8L601.0,132.6L608.0,135.2L621.0,142.1L631.5,146.7L635.5,148.1L645.0,150.5L653.0,152.1L662.0,153.3L673.0,154.3L684.0,154.8" fill="none" stroke="#f0a845" stroke-width="1.0" stroke-linejoin="round"/>
<path d="M411.5,161.8L419.0,160.8L422.5,160.6L428.5,161.0L434.5,161.9L440.0,162.2L440.5,161.9L442.0,159.8L445.0,158.6L449.5,159.8L453.5,162.2L455.0,159.7L456.5,159.0L458.5,159.3L459.5,159.0L460.0,158.8L463.5,155.4L464.5,154.9L467.5,155.9L469.5,157.5L470.5,158.0L474.0,158.6L478.0,158.9L488.5,158.9L498.0,158.3L511.0,158.3L517.5,157.6L523.0,156.2L529.5,153.6L536.0,151.7L540.0,148.6L551.5,140.9L555.5,137.6L560.0,133.5L577.0,127.3L584.0,125.6L588.0,125.1L595.5,125.2L598.5,125.8L600.5,126.5L607.0,129.4L620.0,137.7L630.5,143.3L634.5,145.0L644.0,147.9L652.0,149.8L661.0,151.2L672.0,152.4L684.0,153.1" fill="none" stroke="#f0ab43" stroke-width="1.0" stroke-linejoin="round"/>
<path d="M411.5,161.4L419.0,160.1L422.5,159.8L428.5,160.4L434.5,161.5L440.0,161.9L440.5,161.5L441.5,159.6L442.0,158.0L443.0,156.4L444.0,155.4L445.0,154.9L449.0,155.8L453.5,156.3L454.5,155.6L455.0,155.5L456.5,156.1L457.0,156.0L460.0,153.6L462.5,149.2L463.0,148.7L463.5,148.6L466.0,149.5L467.0,150.4L468.5,152.5L470.0,153.3L473.5,154.3L478.0,154.9L482.0,155.0L487.5,154.8L492.5,153.8L496.5,153.5L510.0,153.6L516.0,152.9L522.0,150.7L529.0,146.9L532.5,145.6L536.0,144.7L539.5,142.1L550.5,135.5L554.5,132.4L560.0,127.5L569.0,123.3L576.5,120.3L583.5,118.2L587.0,117.8L594.5,118.0L597.5,118.6L599.5,119.4L606.0,122.9L619.0,132.8L629.5,139.6L633.5,141.5L643.5,145.1L651.5,147.4L661.0,149.1L671.5,150.4L684.0,151.3" fill="none" stroke="#f0ae41" stroke-width="1.0" stroke-linejoin="round"/>
<path d="M411.5,161.1L419.0,159.3L422.5,159.0L428.5,159.7L434.5,161.2L440.0,161.6L440.5,161.0L441.5,158.1L443.0,150.3L443.5,149.2L445.0,147.3L447.0,148.0L449.0,149.5L453.5,149.9L454.5,150.6L455.5,149.7L457.5,146.7L460.0,144.0L461.5,139.4L462.0,138.8L462.5,138.6L464.0,138.6L465.0,139.2L466.0,140.5L467.0,142.7L467.5,143.1L468.0,143.1L471.0,145.1L473.5,146.1L478.5,146.9L482.0,146.9L486.5,146.5L491.5,144.7L495.0,144.1L497.5,144.0L501.5,144.3L508.5,144.3L514.5,143.1L517.0,141.8L520.5,139.5L526.5,133.9L530.0,131.7L532.5,130.7L536.0,129.8L539.0,128.1L548.5,124.9L553.5,122.1L560.0,117.5L567.5,113.0L573.0,110.1L576.5,108.5L581.5,106.7L584.0,106.0L586.0,105.7L593.5,106.0L596.5,106.8L598.5,107.9L605.0,112.3L618.0,124.8L628.5,133.3L632.5,135.8L642.5,140.4L650.5,143.2L660.0,145.4L671.0,147.2L684.0,148.2" fill="none" stroke="#f0b13f" stroke-width="1.0" stroke-linejoin="round"/>
<path d="M411.5,160.7L419.0,158.6L422.5,158.2L428.5,159.1L434.5,160.8L440.0,161.3L440.5,160.5L441.5,155.9L443.0,139.4L444.0,136.0L445.0,133.7L446.0,134.2L446.5,134.9L449.0,140.1L450.5,140.5L451.5,140.3L453.5,138.9L455.0,134.5L456.5,131.3L458.5,127.8L459.5,126.9L460.0,127.2L460.5,126.8L461.0,126.8L462.0,127.2L463.0,127.9L464.5,130.4L466.0,134.8L467.0,135.1L468.0,134.9L470.0,136.5L471.5,137.3L475.0,138.5L477.5,138.9L481.0,138.9L485.5,138.2L490.5,135.5L493.5,134.7L496.5,134.5L500.5,135.0L507.5,134.9L509.5,134.5L513.0,133.1L515.5,131.5L519.5,127.5L526.0,118.4L530.0,114.9L533.0,113.4L536.0,112.5L538.0,111.6L546.0,109.7L549.5,108.2L557.0,103.3L566.5,95.5L574.0,90.3L581.0,86.7L583.0,86.0L585.0,85.7L592.5,86.0L595.5,87.1L597.5,88.6L601.5,92.0L604.0,94.5L617.0,111.4L627.5,122.9L631.5,126.3L641.5,132.5L645.0,134.3L650.0,136.5L659.5,139.4L670.0,141.6L684.0,143.1" fill="none" stroke="#f0b43e" stroke-width="1.0" stroke-linejoin="round"/>
<path d="M411.5,160.3L419.0,157.9L422.5,157.4L428.5,158.4L434.5,160.4L440.0,161.1L440.5,160.0L441.5,153.7L443.0,128.6L444.5,121.5L445.0,120.3L445.5,120.5L446.0,121.4L448.0,127.3L448.5,127.9L449.0,128.0L450.0,126.0L452.0,120.8L453.5,117.8L456.5,109.3L457.0,108.3L457.5,107.9L458.0,108.4L458.5,109.6L460.0,114.9L461.0,116.3L462.5,119.8L464.5,127.5L465.0,128.1L466.0,128.5L468.0,128.4L470.0,129.9L473.0,131.2L475.0,131.8L477.0,132.1L480.0,132.0L483.5,131.4L485.0,130.8L488.0,128.4L489.5,127.5L493.5,126.4L495.5,126.3L500.0,127.0L506.0,127.0L508.0,126.5L512.5,123.9L515.5,120.9L519.5,115.3L525.0,105.0L527.5,101.8L529.5,99.9L532.0,98.3L534.0,97.3L536.0,97.1L539.0,96.0L545.0,94.5L548.5,92.7L551.5,90.6L556.5,86.3L565.5,76.8L573.0,70.1L580.0,65.5L582.0,64.6L584.0,64.2L591.5,64.6L594.0,65.7L596.0,67.3L600.5,72.3L603.0,75.5L616.0,97.1L626.5,111.8L628.5,114.2L630.5,116.1L641.0,124.4L645.0,126.9L649.5,129.3L654.0,131.3L659.0,133.0L669.5,135.8L677.5,137.0L684.0,137.6" fill="none" stroke="#efb63d" stroke-width="1.0" stroke-linejoin="round"/>
<path d="M411.5,159.9L419.0,157.1L421.0,156.7L422.5,156.6L428.5,157.8L434.5,160.0L440.0,160.8L440.5,159.5L441.5,152.2L443.0,121.7L444.0,115.2L444.5,113.1L445.0,112.1L445.5,112.4L447.0,116.1L447.5,116.0L448.0,114.6L450.5,103.0L454.5,89.9L455.0,88.5L455.5,88.0L456.0,88.6L456.5,90.3L461.0,110.5L462.5,118.7L463.0,120.4L464.5,122.0L466.0,122.5L468.0,122.7L470.0,124.0L473.5,125.4L475.0,125.7L477.0,125.8L480.0,125.4L483.0,124.7L488.0,120.5L489.0,119.9L492.0,119.0L494.5,118.8L499.0,119.6L505.0,119.6L506.5,119.3L508.0,118.5L510.5,116.8L512.5,114.5L514.0,112.3L518.5,104.0L523.0,92.2L524.5,88.9L528.0,83.0L531.0,79.5L533.0,77.6L534.5,76.8L536.0,76.7L538.5,76.1L544.0,75.3L546.5,74.3L549.0,72.7L556.5,66.0L565.0,55.3L572.5,47.1L579.5,41.6L581.5,40.6L583.0,40.3L587.5,40.4L590.5,40.8L593.0,42.2L595.0,44.2L599.5,50.3L602.0,54.4L615.0,81.2L625.5,99.4L627.5,102.4L629.5,104.8L640.0,115.0L644.0,118.2L648.5,121.2L653.5,123.8L658.5,126.0L664.5,128.1L669.0,129.3L677.5,130.8L684.0,131.6" fill="none" stroke="#efb93b" stroke-width="1.0" stroke-linejoin="round"/>
<path d="M411.5,159.5L414.5,158.1L419.0,156.4L421.0,155.9L422.5,155.8L425.0,156.2L428.5,157.1L434.5,159.7L440.0,160.5L440.5,159.0L441.5,150.0L443.0,110.0L444.0,101.2L444.5,98.9L445.0,98.7L446.0,102.7L446.5,103.8L447.0,102.6L449.0,88.0L450.5,79.7L452.5,70.5L453.0,68.7L453.5,68.0L454.0,68.8L454.5,70.9L457.5,88.6L461.0,112.7L462.0,115.7L463.0,117.6L466.0,121.3L468.0,122.8L471.5,124.3L473.5,124.8L476.0,124.8L481.5,123.8L482.5,123.2L485.5,120.4L487.0,119.3L490.5,118.0L493.5,117.7L498.0,118.5L504.0,118.5L505.5,118.2L507.5,117.1L510.0,115.2L511.5,113.2L513.5,109.6L517.5,100.6L522.5,84.8L525.0,78.4L528.0,72.0L532.5,64.7L534.0,63.2L535.5,62.5L542.0,61.2L544.0,60.6L546.0,59.4L548.0,57.8L551.5,54.3L555.5,49.9L564.0,37.4L571.5,27.8L573.5,25.7L578.5,21.4L580.5,20.2L582.0,19.8L586.5,20.0L589.5,20.4L592.0,22.0L594.0,24.4L598.5,31.5L601.0,36.2L614.0,67.5L624.5,88.8L626.5,92.2L628.5,95.0L639.0,107.0L643.0,110.7L648.0,114.5L653.0,117.6L658.0,120.0L664.0,122.4L668.5,123.8L677.0,125.6L684.0,126.4" fill="none" stroke="#efbb3a" stroke-width="1.0" stroke-linejoin="round"/>
</g>
<g clip-path="url(#clipf)">
<defs><linearGradient id="band388" gradientUnits="userSpaceOnUse" x1="0" y1="388" x2="0" y2="419"><stop offset="0" stop-color="#f6c890"/><stop offset="0.04" stop-color="#f2a850"/><stop offset="0.1" stop-color="#f09040"/><stop offset="0.17" stop-color="#f07048"/><stop offset="0.28" stop-color="#e05060"/><stop offset="0.42" stop-color="#c04080"/><stop offset="0.58" stop-color="#9a3c98"/><stop offset="0.72" stop-color="#7432a0"/><stop offset="0.88" stop-color="#4a2290"/><stop offset="1" stop-color="#3a1870"/></linearGradient></defs>
<path d="M411.5,388.9L433.5,388.9L437.5,389.4L447.0,389.5L487.5,389.2L588.0,389.9L639.5,389.2L684.0,389.0L684,419L411.5,419Z" fill="url(#band388)"/>
<path d="M411.5,388.4L417.5,388.7L421.5,388.2L423.5,388.7L427.5,388.1L431.5,388.5L437.5,387.9L441.5,388.3L445.5,387.6L447.5,388.1L451.5,387.6L455.5,388.1L463.5,388.0L465.5,388.4L469.5,387.8L473.5,388.5L475.5,388.0L479.5,388.3L487.5,387.9L491.5,388.1L493.5,387.6L497.5,388.2L501.5,387.5L503.5,387.8L511.5,387.3L515.5,387.6L517.5,387.0L521.5,387.4L525.5,386.7L527.5,386.9L535.5,386.4L539.5,386.7L543.5,386.0L545.5,386.5L549.5,386.0L553.5,386.3L561.5,386.0L563.5,386.4L567.5,385.6L571.5,386.1L573.5,385.6L577.5,385.8L585.5,385.3L587.5,385.7L591.5,385.1L595.5,385.9L599.5,385.6L601.5,385.9L609.5,386.0L613.5,386.6L615.5,386.2L619.5,387.0L623.5,386.6L625.5,387.0L633.5,387.0L637.5,387.7L639.5,387.2L641.5,387.3L643.5,387.8L647.5,387.4L655.5,387.9L657.5,387.6L661.5,388.2L665.5,387.6L667.5,388.1L671.5,387.8L679.5,388.2L683.5,387.9" fill="none" stroke="#f09a50" stroke-width="0.75" stroke-opacity="0.85"/>
<path d="M411.5,389.2L415.5,389.8L419.5,389.2L421.5,389.6L429.5,389.3L433.5,389.6L435.5,388.9L437.5,388.9L439.5,389.4L443.5,388.7L445.5,389.1L453.5,388.9L457.5,389.3L461.5,388.9L463.5,389.5L467.5,388.9L471.5,389.4L477.5,389.2L481.5,389.4L485.5,388.8L487.5,389.3L489.5,389.3L491.5,388.8L495.5,389.1L503.5,388.7L505.5,389.0L509.5,388.3L513.5,388.8L515.5,388.3L519.5,388.5L527.5,387.8L531.5,388.0L533.5,387.5L537.5,388.0L541.5,387.3L543.5,387.6L551.5,387.2L555.5,387.6L557.5,387.1L561.5,387.6L565.5,387.0L567.5,387.3L575.5,386.8L579.5,387.1L583.5,386.5L585.5,387.0L589.5,386.4L593.5,386.9L601.5,386.9L603.5,387.4L607.5,387.0L611.5,387.7L613.5,387.3L617.5,387.9L625.5,387.9L627.5,388.3L631.5,387.9L635.5,388.7L637.5,388.3L641.5,388.7L649.5,388.6L653.5,389.0L655.5,388.6L659.5,389.2L663.5,388.7L665.5,389.1L673.5,388.9L677.5,389.4L681.5,388.9L683.5,389.4" fill="none" stroke="#f09453" stroke-width="0.75" stroke-opacity="0.85"/>
<path d="M411.5,390.5L423.5,390.7L427.5,390.2L431.5,390.8L433.5,390.2L449.5,390.1L451.5,389.8L455.5,390.4L459.5,389.9L461.5,390.4L465.5,390.1L473.5,390.4L475.5,390.0L479.5,390.6L483.5,389.9L485.5,390.3L497.5,390.2L501.5,389.7L503.5,390.2L507.5,389.5L511.5,389.9L513.5,389.6L521.5,389.6L525.5,388.9L527.5,389.3L531.5,388.7L535.5,389.1L543.5,388.6L545.5,388.8L549.5,388.3L553.5,388.9L555.5,388.4L559.5,388.7L567.5,388.3L571.5,388.4L573.5,387.9L577.5,388.5L581.5,387.8L583.5,388.1L591.5,387.8L595.5,388.3L597.5,387.9L601.5,388.6L605.5,388.1L607.5,388.6L615.5,388.7L619.5,389.2L623.5,388.8L625.5,389.4L629.5,389.0L633.5,389.6L641.5,389.6L643.5,390.0L647.5,389.5L651.5,390.1L653.5,389.7L657.5,390.1L665.5,389.9L667.5,390.3L671.5,389.8L675.5,390.5L677.5,390.0L683.5,390.2" fill="none" stroke="#f08f56" stroke-width="0.75" stroke-opacity="0.85"/>
<path d="M411.5,391.6L419.5,391.4L421.5,391.8L425.5,391.2L429.5,391.8L443.5,390.9L447.5,391.3L449.5,390.8L453.5,391.4L455.5,391.1L463.5,391.4L467.5,391.0L471.5,391.6L473.5,391.1L477.5,391.6L481.5,391.2L489.5,391.3L491.5,390.9L495.5,391.5L499.5,390.8L501.5,391.2L505.5,390.8L513.5,390.9L515.5,390.5L519.5,390.9L523.5,390.1L525.5,390.5L529.5,390.1L537.5,390.2L541.5,389.7L543.5,390.2L547.5,389.5L551.5,390.0L553.5,389.7L561.5,389.9L565.5,389.3L569.5,389.8L571.5,389.2L575.5,389.6L579.5,389.2L585.5,389.3L589.5,388.8L593.5,389.5L595.5,389.0L599.5,389.6L603.5,389.4L611.5,389.9L613.5,389.6L617.5,390.4L621.5,389.9L623.5,390.4L631.5,390.4L635.5,390.8L639.5,390.6L641.5,391.1L645.5,390.6L649.5,391.1L655.5,390.9L659.5,391.3L663.5,390.8L665.5,391.4L669.5,390.9L673.5,391.4L681.5,391.2L683.5,391.5" fill="none" stroke="#f08958" stroke-width="0.75" stroke-opacity="0.85"/>
<path d="M411.5,392.6L413.5,392.9L417.5,392.3L419.5,392.9L423.5,392.4L437.5,392.6L441.5,392.0L443.5,392.5L447.5,392.0L459.5,392.1L461.5,392.6L465.5,392.0L469.5,392.6L471.5,392.2L479.5,392.5L483.5,392.1L485.5,392.6L489.5,391.9L493.5,392.5L495.5,392.1L503.5,392.2L507.5,391.7L511.5,392.2L513.5,391.6L517.5,392.0L521.5,391.5L529.5,391.4L531.5,391.0L535.5,391.5L539.5,390.9L541.5,391.3L545.5,390.8L553.5,391.1L555.5,390.7L559.5,391.2L563.5,390.5L567.5,391.0L569.5,390.6L577.5,390.7L581.5,390.3L583.5,390.7L587.5,390.0L591.5,390.6L593.5,390.3L601.5,390.8L605.5,390.5L609.5,391.1L611.5,390.7L615.5,391.4L619.5,391.1L625.5,391.6L629.5,391.2L633.5,392.0L635.5,391.5L639.5,392.1L643.5,391.8L651.5,392.2L653.5,391.8L657.5,392.5L661.5,391.9L663.5,392.4L667.5,392.1L675.5,392.5L677.5,392.1L681.5,392.6L683.5,392.3" fill="none" stroke="#f18254" stroke-width="0.75" stroke-opacity="0.85"/>
<path d="M411.5,393.9L415.5,393.5L417.5,393.7L425.5,393.4L429.5,393.8L431.5,393.3L435.5,393.9L439.5,393.1L441.5,393.4L449.5,393.1L453.5,393.5L457.5,393.1L459.5,393.6L463.5,393.2L467.5,393.5L473.5,393.3L477.5,393.8L481.5,393.1L483.5,393.6L487.5,393.2L491.5,393.4L499.5,393.0L501.5,393.5L505.5,392.8L509.5,393.3L511.5,392.8L519.5,392.9L523.5,392.5L527.5,392.7L529.5,392.2L533.5,392.7L535.5,392.3L543.5,392.3L547.5,391.9L551.5,392.4L553.5,391.8L557.5,392.4L561.5,391.9L569.5,392.0L571.5,391.7L575.5,392.1L579.5,391.5L581.5,391.9L585.5,391.4L593.5,391.7L595.5,391.5L599.5,392.1L603.5,391.5L605.5,392.1L609.5,391.9L617.5,392.5L621.5,392.2L623.5,392.8L627.5,392.2L631.5,393.0L633.5,392.6L641.5,393.1L645.5,392.8L649.5,393.3L651.5,392.8L655.5,393.4L659.5,393.1L665.5,393.4L669.5,393.0L673.5,393.6L675.5,393.1L679.5,393.6L683.5,393.2" fill="none" stroke="#f27c51" stroke-width="0.75" stroke-opacity="0.85"/>
<path d="M411.5,394.6L417.5,394.6L419.5,394.9L423.5,394.3L427.5,394.9L429.5,394.4L433.5,394.8L441.5,394.2L443.5,394.6L447.5,394.0L451.5,394.6L455.5,394.2L457.5,394.5L465.5,394.3L469.5,394.7L471.5,394.2L475.5,394.8L479.5,394.3L481.5,394.6L489.5,394.2L493.5,394.6L497.5,394.1L499.5,394.6L503.5,394.0L507.5,394.2L513.5,393.9L517.5,394.2L521.5,393.5L523.5,394.0L527.5,393.5L531.5,393.7L539.5,393.3L541.5,393.7L545.5,393.0L549.5,393.6L551.5,393.1L555.5,393.4L563.5,393.0L567.5,393.3L569.5,392.8L573.5,393.4L575.5,392.9L587.5,392.6L591.5,393.1L593.5,392.5L597.5,393.2L601.5,392.8L609.5,393.3L611.5,393.1L615.5,393.7L619.5,393.2L621.5,393.8L625.5,393.4L637.5,393.9L639.5,394.3L643.5,393.7L647.5,394.3L649.5,394.0L657.5,394.4L661.5,394.1L663.5,394.6L667.5,394.0L671.5,394.6L673.5,394.3L683.5,394.4" fill="none" stroke="#ef7052" stroke-width="0.75" stroke-opacity="0.85"/>
<path d="M411.5,395.9L415.5,395.5L417.5,396.0L421.5,395.4L423.5,395.8L431.5,395.6L435.5,395.9L439.5,395.2L441.5,395.7L445.5,395.1L449.5,395.6L457.5,395.3L459.5,395.7L463.5,395.2L467.5,395.8L469.5,395.3L473.5,395.7L481.5,395.4L483.5,395.7L487.5,395.2L491.5,395.8L495.5,395.2L497.5,395.5L505.5,395.1L509.5,395.4L511.5,394.9L515.5,395.4L519.5,394.8L521.5,395.1L529.5,394.6L533.5,394.9L537.5,394.4L539.5,394.9L543.5,394.2L547.5,394.6L553.5,394.3L557.5,394.7L561.5,394.1L563.5,394.6L567.5,394.1L571.5,394.4L579.5,394.0L581.5,394.3L585.5,393.7L589.5,394.3L591.5,393.8L595.5,394.2L603.5,394.0L607.5,394.5L609.5,394.0L613.5,394.8L617.5,394.4L619.5,394.7L627.5,394.6L631.5,395.2L633.5,394.7L637.5,395.4L641.5,394.9L643.5,395.2L651.5,395.1L655.5,395.6L659.5,395.1L661.5,395.6L665.5,395.2L669.5,395.5L677.5,395.4L679.5,395.8L683.5,395.2" fill="none" stroke="#ec6454" stroke-width="0.75" stroke-opacity="0.85"/>
<path d="M411.5,396.5L415.5,397.0L419.5,396.6L427.5,396.9L429.5,396.5L433.5,397.1L437.5,396.3L439.5,396.7L447.5,396.4L451.5,396.7L455.5,396.3L457.5,396.8L461.5,396.2L465.5,396.7L471.5,396.5L475.5,396.8L479.5,396.3L481.5,396.9L485.5,396.3L489.5,396.7L497.5,396.4L499.5,396.6L503.5,396.0L507.5,396.6L509.5,396.0L513.5,396.4L521.5,396.0L523.5,396.2L527.5,395.6L531.5,396.2L533.5,395.7L549.5,395.8L551.5,395.3L555.5,395.9L559.5,395.3L561.5,395.7L569.5,395.3L573.5,395.6L577.5,395.1L579.5,395.6L583.5,395.0L587.5,395.3L593.5,395.1L597.5,395.5L601.5,395.0L603.5,395.6L607.5,395.2L611.5,395.7L619.5,395.6L621.5,396.0L625.5,395.5L629.5,396.3L631.5,395.8L635.5,396.3L643.5,396.1L647.5,396.4L649.5,396.0L653.5,396.7L657.5,396.2L659.5,396.5L667.5,396.3L671.5,396.7L673.5,396.2L677.5,396.8L681.5,396.3L683.5,396.6" fill="none" stroke="#e75b59" stroke-width="0.75" stroke-opacity="0.85"/>
<path d="M411.5,397.7L417.5,397.9L421.5,397.5L425.5,398.0L427.5,397.5L431.5,398.0L445.5,397.3L449.5,397.8L451.5,397.3L455.5,397.8L459.5,397.4L467.5,397.8L469.5,397.4L473.5,398.0L477.5,397.4L479.5,397.8L483.5,397.5L491.5,397.7L495.5,397.4L497.5,397.8L501.5,397.1L505.5,397.6L507.5,397.3L515.5,397.5L519.5,397.0L521.5,397.4L525.5,396.8L529.5,397.2L531.5,396.9L539.5,397.0L543.5,396.5L547.5,397.0L549.5,396.5L553.5,396.9L565.5,396.8L567.5,396.3L571.5,396.9L573.5,396.4L577.5,396.7L585.5,396.3L589.5,396.5L591.5,396.1L595.5,396.7L599.5,396.2L601.5,396.6L609.5,396.6L613.5,397.0L617.5,396.6L619.5,397.2L623.5,396.7L627.5,397.2L633.5,397.1L637.5,397.5L641.5,397.0L643.5,397.5L647.5,397.1L651.5,397.6L659.5,397.4L661.5,397.7L665.5,397.2L669.5,397.8L671.5,397.3L675.5,397.7L683.5,397.5" fill="none" stroke="#e1525f" stroke-width="0.75" stroke-opacity="0.85"/>
<path d="M411.5,398.6L415.5,399.1L419.5,398.5L423.5,399.0L425.5,398.6L433.5,398.9L437.5,398.6L439.5,398.9L443.5,398.3L447.5,398.9L449.5,398.5L457.5,398.7L461.5,398.4L465.5,398.9L467.5,398.4L471.5,399.0L475.5,398.6L481.5,398.8L485.5,398.4L489.5,398.9L491.5,398.4L495.5,398.9L499.5,398.4L507.5,398.6L509.5,398.2L513.5,398.7L517.5,398.0L519.5,398.5L523.5,398.1L531.5,398.3L533.5,397.9L537.5,398.3L541.5,397.6L545.5,398.1L547.5,397.8L555.5,398.0L559.5,397.6L561.5,398.1L565.5,397.5L569.5,398.0L571.5,397.7L579.5,397.8L583.5,397.3L587.5,397.8L589.5,397.3L593.5,397.8L597.5,397.5L605.5,397.8L607.5,397.5L611.5,398.2L613.5,397.7L617.5,398.2L621.5,397.9L629.5,398.3L631.5,398.0L635.5,398.6L639.5,398.0L641.5,398.5L645.5,398.3L653.5,398.7L657.5,398.3L659.5,398.8L663.5,398.2L667.5,398.8L669.5,398.5L677.5,398.9L681.5,398.4L683.5,398.9" fill="none" stroke="#db4d65" stroke-width="0.75" stroke-opacity="0.85"/>
<path d="M411.5,399.7L413.5,400.2L417.5,399.6L419.5,399.9L427.5,399.7L431.5,400.2L435.5,399.6L437.5,400.1L441.5,399.4L445.5,399.8L453.5,399.5L455.5,400.0L459.5,399.3L463.5,399.9L465.5,399.5L473.5,399.8L477.5,399.6L479.5,400.0L483.5,399.4L487.5,400.0L489.5,399.6L497.5,399.7L501.5,399.4L505.5,399.8L507.5,399.2L511.5,399.8L515.5,399.3L521.5,399.4L525.5,399.1L529.5,399.5L531.5,399.0L535.5,399.4L539.5,398.9L547.5,399.1L549.5,398.8L553.5,399.3L557.5,398.7L559.5,399.2L563.5,398.8L571.5,399.0L575.5,398.7L577.5,399.1L581.5,398.5L585.5,399.0L587.5,398.6L595.5,398.9L599.5,398.5L601.5,399.0L605.5,398.5L609.5,399.2L611.5,398.9L619.5,399.3L623.5,398.9L627.5,399.5L629.5,399.0L633.5,399.6L637.5,399.3L645.5,399.6L647.5,399.2L651.5,399.9L655.5,399.3L657.5,399.8L661.5,399.5L669.5,399.8L671.5,399.4L675.5,400.0L679.5,399.4L683.5,399.9" fill="none" stroke="#d34a6d" stroke-width="0.75" stroke-opacity="0.85"/>
<path d="M411.5,401.0L419.5,400.7L423.5,401.1L425.5,400.6L429.5,401.2L433.5,400.7L435.5,401.0L443.5,400.6L447.5,401.0L449.5,400.5L453.5,401.0L457.5,400.5L459.5,400.8L467.5,400.6L471.5,401.1L475.5,400.5L477.5,401.1L481.5,400.5L485.5,400.9L493.5,400.6L495.5,401.0L499.5,400.3L503.5,400.9L505.5,400.4L509.5,400.7L517.5,400.3L519.5,400.7L523.5,400.1L527.5,400.7L529.5,400.2L533.5,400.4L541.5,400.0L545.5,400.4L547.5,399.9L551.5,400.5L555.5,399.9L561.5,400.2L565.5,399.9L569.5,400.4L571.5,399.8L575.5,400.3L579.5,399.8L587.5,400.0L589.5,399.7L593.5,400.2L597.5,399.6L599.5,400.1L603.5,399.8L611.5,400.2L615.5,400.0L617.5,400.5L621.5,399.9L625.5,400.5L627.5,400.2L635.5,400.6L639.5,400.3L641.5,400.8L645.5,400.2L649.5,400.9L651.5,400.5L659.5,400.8L663.5,400.4L667.5,401.0L669.5,400.4L673.5,401.0L677.5,400.6L683.5,400.9" fill="none" stroke="#cc4674" stroke-width="0.75" stroke-opacity="0.85"/>
<path d="M411.5,401.9L413.5,402.2L417.5,401.6L419.5,402.1L421.5,402.1L423.5,401.6L427.5,402.1L435.5,401.8L437.5,402.1L441.5,401.5L445.5,402.1L447.5,401.6L451.5,401.9L459.5,401.6L463.5,402.0L465.5,401.5L469.5,402.2L473.5,401.6L475.5,402.0L483.5,401.7L487.5,402.1L489.5,401.6L493.5,402.1L497.5,401.5L499.5,401.8L507.5,401.5L511.5,401.9L515.5,401.3L517.5,401.9L521.5,401.3L525.5,401.6L533.5,401.3L535.5,401.7L539.5,401.0L543.5,401.6L545.5,401.1L549.5,401.4L557.5,401.1L559.5,401.5L563.5,400.9L567.5,401.5L569.5,401.0L573.5,401.3L581.5,400.9L585.5,401.3L587.5,400.7L591.5,401.3L595.5,400.8L597.5,401.1L605.5,400.9L609.5,401.5L611.5,401.0L613.5,401.0L615.5,401.6L619.5,401.1L623.5,401.4L629.5,401.3L633.5,401.8L637.5,401.3L639.5,401.8L643.5,401.4L647.5,401.7L655.5,401.6L657.5,402.0L661.5,401.4L665.5,402.0L667.5,401.6L675.5,401.9L679.5,401.6L681.5,402.0L683.5,402.0" fill="none" stroke="#c5427b" stroke-width="0.75" stroke-opacity="0.85"/>
<path d="M411.5,403.3L415.5,402.7L417.5,403.1L421.5,402.9L429.5,403.2L433.5,402.7L435.5,403.3L439.5,402.6L443.5,403.0L449.5,402.8L453.5,403.0L457.5,402.5L459.5,403.0L461.5,403.1L463.5,402.6L467.5,403.1L475.5,402.8L477.5,403.1L481.5,402.6L485.5,403.2L487.5,402.6L491.5,403.0L499.5,402.7L503.5,402.9L505.5,402.5L509.5,403.1L513.5,402.5L515.5,402.8L523.5,402.5L527.5,402.8L529.5,402.3L533.5,402.8L537.5,402.2L539.5,402.5L547.5,402.3L551.5,402.6L555.5,402.1L557.5,402.6L561.5,402.1L565.5,402.5L573.5,402.2L575.5,402.5L579.5,401.9L583.5,402.5L585.5,402.0L589.5,402.3L597.5,402.0L599.5,402.4L603.5,401.9L607.5,402.6L609.5,402.1L613.5,402.5L621.5,402.3L625.5,402.7L627.5,402.2L631.5,402.9L635.5,402.4L637.5,402.7L645.5,402.5L649.5,403.0L653.5,402.5L655.5,403.1L659.5,402.5L663.5,402.9L669.5,402.7L673.5,403.1L677.5,402.5L679.5,403.1L683.5,402.6" fill="none" stroke="#bc4082" stroke-width="0.75" stroke-opacity="0.85"/>
<path d="M411.5,404.0L421.5,404.1L423.5,403.7L427.5,404.3L431.5,403.8L433.5,404.2L437.5,403.9L445.5,404.1L447.5,403.7L451.5,404.2L455.5,403.6L457.5,404.0L461.5,403.8L469.5,404.1L473.5,403.7L475.5,404.2L479.5,403.6L483.5,404.1L485.5,403.8L493.5,404.1L497.5,403.6L501.5,404.1L503.5,403.5L507.5,404.0L511.5,403.7L517.5,403.9L521.5,403.4L525.5,404.0L527.5,403.4L531.5,403.8L535.5,403.5L543.5,403.7L545.5,403.2L549.5,403.9L553.5,403.2L555.5,403.7L563.5,403.4L567.5,403.7L571.5,403.3L573.5,403.8L577.5,403.1L579.5,403.5L587.5,403.2L591.5,403.5L595.5,403.0L597.5,403.6L601.5,403.0L605.5,403.6L613.5,403.4L615.5,403.7L619.5,403.2L623.5,403.8L625.5,403.3L629.5,403.8L637.5,403.6L639.5,403.9L643.5,403.4L647.5,404.1L649.5,403.6L665.5,404.1L667.5,403.6L671.5,404.2L675.5,403.7L677.5,404.0L683.5,403.9" fill="none" stroke="#b23f89" stroke-width="0.75" stroke-opacity="0.85"/>
<path d="M411.5,405.2L415.5,404.8L417.5,405.3L419.5,405.2L421.5,404.7L425.5,405.3L427.5,404.9L435.5,405.2L439.5,404.8L443.5,405.2L445.5,404.7L449.5,405.2L453.5,404.8L461.5,405.0L463.5,404.7L467.5,405.3L471.5,404.7L473.5,405.2L477.5,404.8L485.5,405.1L487.5,404.7L491.5,405.3L495.5,404.6L497.5,405.1L501.5,404.8L509.5,405.0L513.5,404.6L515.5,405.1L519.5,404.5L523.5,405.0L525.5,404.7L533.5,404.9L537.5,404.4L541.5,404.9L543.5,404.3L547.5,404.9L551.5,404.5L557.5,404.7L561.5,404.3L565.5,404.9L567.5,404.3L571.5,404.8L575.5,404.4L583.5,404.6L585.5,404.2L589.5,404.8L593.5,404.2L595.5,404.6L599.5,404.4L607.5,404.7L609.5,404.3L613.5,404.9L617.5,404.3L619.5,404.7L631.5,405.0L635.5,404.5L637.5,405.1L641.5,404.5L645.5,405.0L653.5,404.8L655.5,405.1L659.5,404.6L663.5,405.2L665.5,404.7L669.5,405.1L677.5,404.9L679.5,405.1L683.5,404.6" fill="none" stroke="#a83d8f" stroke-width="0.75" stroke-opacity="0.85"/>
<path d="M411.5,406.0L413.5,405.8L415.5,406.3L419.5,405.9L427.5,406.2L431.5,405.9L433.5,406.4L437.5,405.7L441.5,406.3L443.5,405.8L451.5,406.1L455.5,405.8L457.5,406.2L461.5,405.7L465.5,406.3L467.5,405.9L475.5,406.1L479.5,405.8L483.5,406.3L485.5,405.7L489.5,406.3L493.5,405.8L501.5,406.0L503.5,405.7L507.5,406.3L511.5,405.7L513.5,406.2L517.5,405.7L525.5,406.0L527.5,405.6L531.5,406.1L535.5,405.5L537.5,405.9L553.5,405.5L555.5,406.0L559.5,405.3L563.5,405.9L565.5,405.6L573.5,405.8L577.5,405.4L581.5,405.8L583.5,405.3L587.5,405.8L601.5,405.3L605.5,405.9L607.5,405.4L611.5,405.9L615.5,405.6L623.5,405.9L625.5,405.5L629.5,406.1L633.5,405.6L635.5,406.0L651.5,405.8L653.5,406.3L657.5,405.6L661.5,406.1L663.5,405.9L671.5,406.2L675.5,405.7L677.5,406.3L681.5,405.7L683.5,406.0" fill="none" stroke="#9e3c95" stroke-width="0.75" stroke-opacity="0.85"/>
<path d="M411.5,406.9L413.5,407.2L421.5,406.9L425.5,407.4L429.5,406.9L431.5,407.4L435.5,406.9L439.5,407.2L445.5,406.9L449.5,407.3L453.5,406.7L455.5,407.3L459.5,406.8L463.5,407.1L471.5,406.9L473.5,407.3L477.5,406.7L481.5,407.3L483.5,406.9L487.5,407.2L495.5,406.8L499.5,407.2L501.5,406.7L505.5,407.3L507.5,406.9L515.5,407.0L519.5,406.7L523.5,407.2L525.5,406.6L529.5,407.2L533.5,406.7L541.5,406.9L543.5,406.6L547.5,407.1L551.5,406.5L553.5,407.1L557.5,406.6L565.5,406.9L567.5,406.6L571.5,407.1L575.5,406.4L577.5,406.9L581.5,406.5L589.5,406.8L593.5,406.5L595.5,407.0L599.5,406.3L603.5,407.0L605.5,406.6L613.5,406.9L617.5,406.6L621.5,407.0L623.5,406.5L627.5,407.2L629.5,406.8L637.5,407.0L641.5,406.7L645.5,407.3L647.5,406.7L651.5,407.3L655.5,406.8L663.5,407.1L665.5,406.8L669.5,407.4L673.5,406.8L675.5,407.3L679.5,406.9L683.5,407.0" fill="none" stroke="#943a99" stroke-width="0.75" stroke-opacity="0.85"/>
<path d="M411.5,408.1L415.5,408.3L419.5,407.8L423.5,408.5L425.5,408.0L441.5,408.3L443.5,407.8L447.5,408.4L451.5,407.8L453.5,408.2L461.5,407.9L465.5,408.4L469.5,407.9L471.5,408.4L475.5,407.8L479.5,408.2L485.5,408.0L489.5,408.4L493.5,407.8L495.5,408.3L499.5,407.8L503.5,408.2L511.5,407.9L513.5,408.3L517.5,407.7L521.5,408.3L523.5,407.8L539.5,408.1L541.5,407.6L545.5,408.2L549.5,407.7L551.5,408.0L559.5,407.7L563.5,408.1L565.5,407.6L569.5,408.2L573.5,407.6L575.5,407.9L583.5,407.6L587.5,408.1L591.5,407.5L593.5,408.1L597.5,407.6L609.5,407.8L611.5,408.2L615.5,407.6L619.5,408.1L621.5,407.7L629.5,408.1L633.5,407.8L635.5,408.3L639.5,407.7L643.5,408.3L645.5,407.9L653.5,408.1L657.5,407.8L661.5,408.3L663.5,407.8L667.5,408.4L671.5,407.9L677.5,408.2L681.5,407.9L683.5,408.2" fill="none" stroke="#8a389b" stroke-width="0.75" stroke-opacity="0.85"/>
<path d="M411.5,408.9L413.5,409.5L417.5,408.9L421.5,409.4L429.5,409.1L431.5,409.4L435.5,408.9L439.5,409.4L441.5,408.9L445.5,409.3L453.5,409.0L455.5,409.3L459.5,408.8L463.5,409.5L465.5,409.0L469.5,409.3L477.5,409.0L481.5,409.3L483.5,408.9L487.5,409.5L491.5,408.9L493.5,409.3L501.5,409.0L505.5,409.4L509.5,408.9L511.5,409.4L515.5,408.8L519.5,409.2L525.5,408.9L529.5,409.3L533.5,408.7L535.5,409.3L539.5,408.7L543.5,409.1L551.5,408.9L553.5,409.2L557.5,408.6L561.5,409.2L563.5,408.8L567.5,409.1L575.5,408.8L577.5,409.1L581.5,408.6L585.5,409.2L589.5,408.7L591.5,409.0L599.5,408.7L603.5,409.2L605.5,408.7L609.5,409.3L613.5,408.7L615.5,409.0L623.5,408.8L627.5,409.3L631.5,408.8L633.5,409.3L637.5,408.8L641.5,409.2L649.5,409.0L651.5,409.4L655.5,408.8L657.5,409.3L661.5,408.9L665.5,409.2L673.5,409.0L675.5,409.4L679.5,408.8L683.5,409.4" fill="none" stroke="#80359e" stroke-width="0.75" stroke-opacity="0.85"/>
<path d="M411.5,410.4L415.5,410.1L423.5,410.4L425.5,410.0L429.5,410.5L433.5,409.9L437.5,410.4L439.5,410.1L447.5,410.4L451.5,409.9L453.5,410.4L457.5,409.9L461.5,410.4L463.5,410.1L471.5,410.4L475.5,409.9L479.5,410.5L481.5,409.9L485.5,410.4L497.5,410.3L499.5,409.9L503.5,410.5L505.5,410.0L509.5,410.4L517.5,410.0L521.5,410.3L523.5,409.9L527.5,410.5L531.5,409.8L533.5,410.2L541.5,410.0L545.5,410.3L549.5,409.8L551.5,410.4L555.5,409.8L559.5,410.2L565.5,410.0L569.5,410.3L573.5,409.7L575.5,410.3L577.5,410.2L579.5,409.7L583.5,410.2L591.5,409.9L593.5,410.2L597.5,409.7L601.5,410.3L603.5,409.8L607.5,410.2L615.5,409.9L617.5,410.2L621.5,409.7L625.5,410.4L629.5,409.9L631.5,410.2L639.5,410.0L643.5,410.4L645.5,409.9L649.5,410.5L653.5,409.9L655.5,410.2L663.5,410.0L667.5,410.5L671.5,409.9L673.5,410.5L677.5,409.9L683.5,410.2" fill="none" stroke="#7632a0" stroke-width="0.75" stroke-opacity="0.85"/>
<path d="M411.5,411.2L417.5,411.0L421.5,411.6L423.5,411.0L427.5,411.5L431.5,411.1L439.5,411.4L441.5,411.0L445.5,411.6L449.5,410.9L451.5,411.4L455.5,411.1L463.5,411.4L467.5,411.1L469.5,411.6L473.5,410.9L477.5,411.4L479.5,411.1L487.5,411.4L491.5,411.0L493.5,411.5L497.5,410.9L501.5,411.5L503.5,411.1L511.5,411.4L515.5,410.9L519.5,411.5L521.5,410.9L525.5,411.4L529.5,411.1L537.5,411.2L539.5,410.9L543.5,411.5L545.5,411.0L549.5,411.3L553.5,411.0L561.5,411.3L563.5,410.9L567.5,411.5L571.5,410.8L573.5,411.3L577.5,411.0L585.5,411.3L589.5,410.9L591.5,411.4L595.5,410.8L599.5,411.3L605.5,411.0L609.5,411.3L613.5,410.8L615.5,411.4L617.5,411.3L619.5,410.8L623.5,411.3L631.5,411.1L633.5,411.4L637.5,410.9L641.5,411.5L643.5,411.0L647.5,411.4L655.5,411.1L657.5,411.4L661.5,410.9L665.5,411.6L669.5,411.0L671.5,411.4L679.5,411.1L683.5,411.4" fill="none" stroke="#6d2f9d" stroke-width="0.75" stroke-opacity="0.85"/>
<path d="M411.5,412.6L415.5,411.9L419.5,412.6L421.5,412.2L429.5,412.4L433.5,412.1L437.5,412.5L439.5,412.0L443.5,412.6L447.5,412.1L453.5,412.4L457.5,412.0L461.5,412.6L463.5,412.0L467.5,412.6L471.5,412.1L479.5,412.4L481.5,412.0L485.5,412.6L489.5,412.0L491.5,412.5L495.5,412.1L503.5,412.4L505.5,412.1L509.5,412.6L513.5,411.9L517.5,412.5L519.5,412.1L527.5,412.4L531.5,412.0L533.5,412.5L537.5,411.9L541.5,412.5L543.5,412.1L551.5,412.3L555.5,411.9L559.5,412.5L561.5,411.9L565.5,412.5L569.5,412.1L577.5,412.3L579.5,411.9L583.5,412.5L585.5,412.0L589.5,412.4L593.5,412.0L601.5,412.3L603.5,411.9L607.5,412.5L611.5,411.9L613.5,412.4L617.5,412.1L625.5,412.4L629.5,412.0L631.5,412.5L635.5,411.9L639.5,412.4L641.5,412.1L649.5,412.5L653.5,412.0L655.5,412.5L659.5,412.0L663.5,412.5L667.5,412.2L673.5,412.5L677.5,412.0L681.5,412.6L683.5,412.0" fill="none" stroke="#642c9a" stroke-width="0.75" stroke-opacity="0.85"/>
<path d="M411.5,413.4L413.5,413.1L417.5,413.4L423.5,413.2L427.5,413.6L431.5,413.0L433.5,413.5L437.5,413.1L441.5,413.4L449.5,413.1L451.5,413.6L455.5,413.0L459.5,413.6L461.5,413.2L469.5,413.4L473.5,413.1L477.5,413.5L479.5,413.0L483.5,413.6L487.5,413.1L493.5,413.4L497.5,413.1L501.5,413.6L503.5,413.1L507.5,413.6L511.5,413.1L519.5,413.4L521.5,413.1L525.5,413.6L529.5,413.0L531.5,413.5L535.5,413.1L543.5,413.4L545.5,413.1L549.5,413.6L553.5,412.9L557.5,413.5L559.5,413.1L567.5,413.4L571.5,413.0L573.5,413.5L577.5,412.9L581.5,413.5L583.5,413.1L591.5,413.4L595.5,413.0L599.5,413.5L601.5,413.0L605.5,413.5L609.5,413.1L615.5,413.4L619.5,413.0L623.5,413.6L627.5,413.0L629.5,413.5L633.5,413.1L641.5,413.4L643.5,413.1L647.5,413.6L651.5,413.0L653.5,413.5L657.5,413.2L665.5,413.5L669.5,413.1L671.5,413.6L675.5,413.0L679.5,413.5L683.5,413.3" fill="none" stroke="#5c2997" stroke-width="0.75" stroke-opacity="0.85"/>
<path d="M411.5,414.3L415.5,414.2L419.5,414.6L421.5,414.1L425.5,414.7L429.5,414.1L431.5,414.4L439.5,414.2L443.5,414.6L447.5,414.1L449.5,414.6L453.5,414.1L457.5,414.5L465.5,414.3L467.5,414.6L471.5,414.0L473.5,414.5L477.5,414.1L481.5,414.5L489.5,414.2L491.5,414.6L495.5,414.0L499.5,414.6L501.5,414.2L505.5,414.5L513.5,414.2L517.5,414.5L519.5,414.0L523.5,414.7L527.5,414.1L529.5,414.4L537.5,414.1L541.5,414.6L543.5,414.1L547.5,414.6L551.5,414.1L555.5,414.4L561.5,414.1L565.5,414.6L569.5,414.0L571.5,414.6L575.5,414.1L579.5,414.4L587.5,414.2L589.5,414.6L593.5,414.0L597.5,414.5L599.5,414.1L607.5,414.4L611.5,414.1L613.5,414.6L617.5,414.0L621.5,414.6L623.5,414.2L631.5,414.4L635.5,414.1L639.5,414.6L641.5,414.1L645.5,414.6L649.5,414.2L657.5,414.4L659.5,414.1L663.5,414.7L665.5,414.2L667.5,414.1L669.5,414.6L673.5,414.2L681.5,414.5L683.5,414.1" fill="none" stroke="#532694" stroke-width="0.75" stroke-opacity="0.85"/>
<path d="M411.5,415.4L413.5,415.1L417.5,415.7L419.5,415.2L423.5,415.6L431.5,415.3L435.5,415.5L437.5,415.1L441.5,415.7L445.5,415.2L447.5,415.5L455.5,415.3L459.5,415.6L461.5,415.1L465.5,415.7L469.5,415.1L471.5,415.5L479.5,415.3L483.5,415.7L487.5,415.1L489.5,415.7L493.5,415.1L497.5,415.5L503.5,415.3L507.5,415.7L511.5,415.1L513.5,415.6L515.5,415.6L517.5,415.1L521.5,415.5L529.5,415.2L531.5,415.6L535.5,415.0L539.5,415.7L541.5,415.2L545.5,415.5L553.5,415.2L557.5,415.6L559.5,415.1L563.5,415.7L567.5,415.2L569.5,415.5L577.5,415.2L581.5,415.6L583.5,415.1L585.5,415.2L587.5,415.7L591.5,415.1L595.5,415.4L601.5,415.2L605.5,415.7L609.5,415.1L611.5,415.6L615.5,415.1L619.5,415.5L627.5,415.3L629.5,415.7L633.5,415.0L637.5,415.6L639.5,415.2L643.5,415.5L651.5,415.2L653.5,415.6L657.5,415.0L661.5,415.7L663.5,415.3L671.5,415.5L675.5,415.2L679.5,415.6L681.5,415.1L683.5,415.3" fill="none" stroke="#4b2290" stroke-width="0.75" stroke-opacity="0.85"/>
<path d="M411.5,416.1L415.5,416.6L417.5,416.3L425.5,416.6L429.5,416.1L431.5,416.7L435.5,416.1L439.5,416.7L447.5,416.4L449.5,416.6L453.5,416.1L457.5,416.7L459.5,416.2L463.5,416.6L471.5,416.3L475.5,416.6L477.5,416.1L481.5,416.8L485.5,416.2L487.5,416.6L495.5,416.3L499.5,416.6L501.5,416.2L505.5,416.8L509.5,416.1L511.5,416.5L519.5,416.3L523.5,416.7L527.5,416.2L529.5,416.7L533.5,416.1L537.5,416.6L545.5,416.4L547.5,416.7L551.5,416.1L555.5,416.7L557.5,416.2L561.5,416.6L569.5,416.3L571.5,416.6L575.5,416.1L579.5,416.7L581.5,416.2L585.5,416.6L593.5,416.3L597.5,416.6L599.5,416.1L603.5,416.8L607.5,416.2L609.5,416.5L617.5,416.3L621.5,416.7L625.5,416.2L627.5,416.7L631.5,416.2L635.5,416.5L641.5,416.3L645.5,416.7L649.5,416.1L651.5,416.7L655.5,416.2L659.5,416.6L667.5,416.3L669.5,416.7L673.5,416.1L677.5,416.7L679.5,416.2L683.5,416.6" fill="none" stroke="#451f86" stroke-width="0.75" stroke-opacity="0.85"/>
<path d="M411.5,417.5L417.5,417.6L419.5,417.2L423.5,417.8L427.5,417.2L429.5,417.6L433.5,417.3L441.5,417.6L445.5,417.3L447.5,417.8L451.5,417.1L455.5,417.7L457.5,417.4L465.5,417.6L469.5,417.2L471.5,417.7L475.5,417.2L479.5,417.7L483.5,417.4L489.5,417.6L493.5,417.2L497.5,417.8L499.5,417.2L503.5,417.7L507.5,417.4L515.5,417.6L517.5,417.2L521.5,417.8L525.5,417.2L527.5,417.7L531.5,417.4L539.5,417.7L541.5,417.2L545.5,417.8L549.5,417.2L551.5,417.6L559.5,417.4L563.5,417.7L567.5,417.2L569.5,417.7L573.5,417.2L577.5,417.7L585.5,417.4L587.5,417.7L591.5,417.2L595.5,417.7L597.5,417.2L601.5,417.7L609.5,417.4L611.5,417.7L615.5,417.1L619.5,417.8L621.5,417.3L625.5,417.6L633.5,417.3L637.5,417.6L639.5,417.2L643.5,417.8L647.5,417.2L649.5,417.6L657.5,417.3L661.5,417.7L665.5,417.3L667.5,417.8L671.5,417.2L675.5,417.6L683.5,417.4" fill="none" stroke="#401b7b" stroke-width="0.75" stroke-opacity="0.85"/>
<path d="M411.5,418.3L415.5,418.8L417.5,418.2L421.5,418.8L425.5,418.3L433.5,418.6L435.5,418.3L439.5,418.8L443.5,418.3L445.5,418.8L449.5,418.3L457.5,418.6L459.5,418.3L463.5,418.8L467.5,418.2L469.5,418.7L485.5,418.3L487.5,418.8L491.5,418.2L495.5,418.7L497.5,418.4L505.5,418.7L509.5,418.2L513.5,418.7L515.5,418.2L519.5,418.8L523.5,418.4L529.5,418.6L533.5,418.2L537.5,418.8L539.5,418.3L543.5,418.8L547.5,418.4L555.5,418.6L557.5,418.2L561.5,418.8L565.5,418.2L567.5,418.7L571.5,418.4L579.5,418.7L581.5,418.3L585.5,418.8L589.5,418.2L593.5,418.7L595.5,418.4L603.5,418.7L607.5,418.3L609.5,418.8L613.5,418.2L617.5,418.7L619.5,418.4L627.5,418.7L631.5,418.2L635.5,418.7L637.5,418.2L641.5,418.7L645.5,418.4L651.5,418.7L655.5,418.2L659.5,418.8L661.5,418.3L665.5,418.7L673.5,418.4L677.5,418.7L679.5,418.2L683.5,418.8" fill="none" stroke="#3a1870" stroke-width="0.75" stroke-opacity="0.85"/>
<path d="M411.5,388.0L432.0,388.0L450.0,387.7L505.0,387.8L595.0,387.0L646.5,387.7L684.0,387.8" fill="none" stroke="#f08a58" stroke-width="1.0" stroke-linejoin="round"/>
<path d="M411.5,388.0L432.0,388.0L436.0,387.6L448.5,387.4L470.0,387.7L505.0,387.7L545.0,387.1L594.0,386.6L645.5,387.5L684.0,387.8" fill="none" stroke="#f08f53" stroke-width="1.0" stroke-linejoin="round"/>
<path d="M411.5,387.6L433.5,387.7L437.5,387.3L453.5,387.0L469.5,387.5L505.0,387.5L545.0,386.6L593.5,385.9L644.5,387.3L684.0,387.7" fill="none" stroke="#f0954f" stroke-width="1.0" stroke-linejoin="round"/>
<path d="M411.5,387.3L432.0,387.2L433.5,387.5L438.0,386.7L444.0,386.4L449.0,386.6L452.0,386.3L468.5,387.3L505.0,387.2L544.5,385.9L592.5,384.9L603.0,385.2L644.0,386.9L684.0,387.5" fill="none" stroke="#f09a4c" stroke-width="1.0" stroke-linejoin="round"/>
<path d="M411.5,386.9L432.0,386.8L433.5,387.2L437.0,386.1L440.0,385.6L442.5,385.4L447.0,385.8L452.0,385.2L457.0,385.6L462.0,386.4L467.5,386.7L484.5,386.9L505.0,386.6L544.0,384.7L565.5,384.3L591.5,383.3L602.5,383.7L643.0,386.4L684.0,387.3" fill="none" stroke="#f09f4a" stroke-width="1.0" stroke-linejoin="round"/>
<path d="M411.5,386.6L432.0,386.3L433.5,386.9L436.0,385.2L439.0,384.2L441.0,384.1L445.5,384.5L449.0,383.8L452.0,383.6L456.0,384.0L462.0,385.4L467.0,385.9L484.0,386.1L505.0,385.7L544.0,382.9L565.0,382.3L590.5,380.8L601.5,381.4L620.5,383.5L642.0,385.5L659.5,386.3L684.0,387.0" fill="none" stroke="#f0a448" stroke-width="1.0" stroke-linejoin="round"/>
<path d="M411.5,386.2L432.0,385.9L433.5,386.5L435.5,383.9L437.0,382.6L438.5,381.9L440.0,381.8L443.5,382.4L447.5,381.3L450.0,381.1L452.0,381.0L455.0,381.4L462.0,383.9L466.0,384.6L479.0,384.9L491.5,384.7L508.0,384.0L521.5,382.7L543.5,380.2L564.0,379.3L585.0,377.1L590.0,376.9L600.5,377.8L619.5,381.1L641.0,384.1L659.0,385.4L684.0,386.4" fill="none" stroke="#f0a945" stroke-width="1.0" stroke-linejoin="round"/>
<path d="M411.5,385.9L432.0,385.5L433.5,385.9L434.0,385.1L435.0,382.1L436.5,379.8L438.0,378.4L439.0,378.4L442.0,379.3L443.0,379.1L446.0,377.6L448.5,377.2L452.0,377.1L454.0,377.4L462.0,381.4L465.5,382.3L478.0,382.8L489.5,382.6L504.5,381.7L510.0,381.1L522.0,379.5L543.0,375.9L548.5,375.4L563.0,374.6L584.0,371.3L589.0,370.9L593.0,371.2L599.5,372.3L619.0,377.4L640.5,382.1L658.5,384.1L684.0,385.6" fill="none" stroke="#f0ad42" stroke-width="1.0" stroke-linejoin="round"/>
<path d="M411.5,385.5L424.0,385.4L433.5,385.0L434.0,383.5L435.0,378.0L436.5,373.9L437.5,372.2L438.0,372.0L438.5,372.1L440.0,373.5L441.0,374.0L442.0,373.6L444.5,371.2L447.0,370.6L452.0,370.5L453.0,370.7L462.0,376.5L465.0,377.7L477.0,378.5L487.5,378.2L504.5,376.5L518.5,374.3L525.0,372.9L543.0,368.2L548.0,367.4L562.0,366.2L566.5,365.2L583.0,360.9L588.0,360.2L592.0,360.7L598.5,362.5L618.0,370.8L634.0,376.7L639.5,378.4L648.5,380.3L658.0,381.7L672.5,383.4L684.0,384.2" fill="none" stroke="#f0b13f" stroke-width="1.0" stroke-linejoin="round"/>
<path d="M411.5,385.0L432.0,385.0L433.5,384.5L434.0,380.8L435.0,368.0L436.5,359.8L437.5,355.9L438.5,354.1L439.0,354.1L441.0,357.7L441.5,358.0L442.0,357.2L444.0,348.0L445.5,342.4L446.5,340.1L447.0,339.9L448.0,341.3L450.0,346.0L454.5,354.3L457.5,358.1L460.0,360.6L464.0,362.7L468.0,364.1L474.5,365.1L480.0,365.4L497.0,363.8L500.5,363.3L502.5,362.7L512.0,359.2L515.0,357.8L518.0,355.9L528.0,348.5L530.5,347.0L534.5,345.6L544.5,342.7L548.0,341.9L553.5,341.1L570.5,339.7L579.5,337.7L583.5,337.2L586.0,337.5L590.5,339.2L596.0,342.3L599.5,345.0L610.5,355.0L613.5,357.5L625.5,365.7L631.5,369.1L649.0,376.2L657.5,378.8L663.5,380.2L671.0,381.5L678.0,382.5L684.0,383.1" fill="none" stroke="#f0b43e" stroke-width="1.0" stroke-linejoin="round"/>
<path d="M411.5,384.4L418.5,383.5L428.0,383.5L432.0,384.5L432.5,384.4L433.5,383.5L434.0,375.9L435.0,350.0L436.5,334.5L437.0,331.4L437.5,330.0L438.0,330.3L439.5,333.6L440.0,334.0L440.5,332.7L443.0,312.0L445.0,301.5L445.5,300.2L446.0,300.1L447.0,302.7L451.5,322.6L452.5,325.0L454.5,327.7L455.5,329.7L458.5,338.7L461.5,346.6L462.5,348.4L463.0,348.9L466.0,349.7L469.0,350.0L472.0,349.7L476.5,348.7L486.0,344.2L489.0,343.1L510.0,340.9L512.5,340.1L516.0,338.0L519.5,334.9L521.0,333.0L522.5,330.5L523.5,327.6L525.5,319.7L527.5,313.2L529.0,308.8L530.0,306.7L532.0,305.0L535.0,303.3L537.0,302.7L538.5,302.5L547.0,303.0L549.5,302.9L564.0,299.8L568.5,299.2L577.5,299.5L580.0,300.0L583.0,300.9L586.0,302.2L589.0,304.1L592.5,306.8L595.0,309.4L607.0,325.1L611.0,330.9L617.0,340.6L621.0,345.9L624.5,350.1L628.5,354.3L632.5,358.1L636.5,361.4L644.5,367.2L648.0,369.2L652.0,371.0L669.0,377.1L676.5,379.2L684.0,381.0" fill="none" stroke="#efb83c" stroke-width="1.0" stroke-linejoin="round"/>
<path d="M411.5,383.9L421.5,382.0L428.0,382.5L431.0,383.8L432.0,384.0L432.5,383.9L433.5,383.0L434.0,373.2L435.0,340.0L436.5,321.0L437.0,317.3L437.5,315.7L438.0,316.1L439.5,321.3L440.0,322.0L440.5,320.7L443.0,300.0L445.0,290.2L446.0,286.8L446.5,286.0L447.0,286.0L448.0,288.9L453.0,318.0L455.5,329.0L457.0,333.0L460.0,337.0L461.5,338.3L462.5,338.7L465.0,338.6L473.5,336.5L476.0,335.4L481.5,330.0L483.5,328.6L494.5,327.0L503.0,326.4L505.5,325.5L508.0,323.7L510.5,318.9L514.5,313.4L516.5,310.0L521.0,297.6L529.5,279.9L532.5,275.0L536.0,270.9L542.5,265.1L548.0,261.4L559.5,256.2L570.0,250.9L575.5,247.8L577.5,247.1L582.5,246.6L584.0,246.8L585.5,247.5L590.0,251.2L592.0,253.6L594.5,257.8L603.0,275.8L625.5,330.5L631.0,340.6L634.0,345.3L637.5,350.2L642.0,355.6L648.5,362.5L653.0,366.6L657.0,369.6L665.5,373.8L672.5,376.7L678.5,378.4L684.0,379.0" fill="none" stroke="#efbb3a" stroke-width="1.0" stroke-linejoin="round"/>
</g>
<rect x="411.5" y="19.5" width="272.5" height="174" fill="none" stroke="#a8a8a8" stroke-width="0.9"/>
<rect x="411.5" y="246.5" width="272.5" height="171.5" fill="none" stroke="#a8a8a8" stroke-width="0.9"/>
<text x="2.50" y="13.20" font-size="15" text-anchor="start" fill="#111" font-weight="bold">a</text><text x="35.00" y="11.34" font-size="10.4" text-anchor="start" fill="#262626" font-weight="normal">ωq of hBN in Γ<tspan font-size="18" dx="-3">→</tspan><tspan dx="-1.7"> M</tspan></text><text x="217.50" y="13.20" font-size="15" text-anchor="start" fill="#111" font-weight="bold">b</text><text x="238.00" y="11.34" font-size="10.4" text-anchor="start" fill="#262626" font-weight="normal">TDDFT ωq of hBN in Γ<tspan font-size="16" dx="-2.7">→</tspan><tspan dx="-3.3"> M</tspan></text><text x="396.50" y="13.70" font-size="15" text-anchor="start" fill="#111" font-weight="bold">c</text><text x="413.40" y="11.34" font-size="10.4" text-anchor="start" fill="#262626" font-weight="normal">q-EELS of hBN in Γ<tspan font-size="16" dx="-2.7">→</tspan><tspan dx="-3.8"> M</tspan></text><text x="3.50" y="244.90" font-size="15" text-anchor="start" fill="#111" font-weight="bold">d</text><text x="36.00" y="242.04" font-size="10.4" text-anchor="start" fill="#262626" font-weight="normal">ωq of hBN in Γ<tspan font-size="18" dx="-3">→</tspan><tspan dx="-1.7"> K</tspan></text><text x="217.50" y="245.90" font-size="15" text-anchor="start" fill="#111" font-weight="bold">e</text><text x="236.00" y="244.04" font-size="10.4" text-anchor="start" fill="#262626" font-weight="normal">TDDFT ωq of hBN ωq in Γ<tspan font-size="17" dx="-2.9">→</tspan><tspan dx="-1.9"> K</tspan></text><text x="395.50" y="245.90" font-size="15" text-anchor="start" fill="#111" font-weight="bold">f</text><text x="412.40" y="244.04" font-size="10.4" text-anchor="start" fill="#262626" font-weight="normal">q-EELS of hBN in Γ<tspan font-size="16" dx="-2.7">→</tspan><tspan dx="-3.8"> K</tspan></text><text x="30.00" y="36.48" font-size="10.5" text-anchor="end" fill="#262626" font-weight="normal">0.25</text><line x1="31" y1="32.7" x2="33" y2="32.7" stroke="#444" stroke-width="0.8"/><text x="30.00" y="61.58" font-size="10.5" text-anchor="end" fill="#262626" font-weight="normal">0.50</text><line x1="31" y1="57.8" x2="33" y2="57.8" stroke="#444" stroke-width="0.8"/><text x="30.00" y="84.78" font-size="10.5" text-anchor="end" fill="#262626" font-weight="normal">0.75</text><line x1="31" y1="81" x2="33" y2="81" stroke="#444" stroke-width="0.8"/><text x="30.00" y="108.58" font-size="10.5" text-anchor="end" fill="#262626" font-weight="normal">1.00</text><line x1="31" y1="104.8" x2="33" y2="104.8" stroke="#444" stroke-width="0.8"/><text x="30.00" y="131.78" font-size="10.5" text-anchor="end" fill="#262626" font-weight="normal">1.25</text><line x1="31" y1="128" x2="33" y2="128" stroke="#444" stroke-width="0.8"/><text x="30.00" y="154.28" font-size="10.5" text-anchor="end" fill="#262626" font-weight="normal">1.50</text><line x1="31" y1="150.5" x2="33" y2="150.5" stroke="#444" stroke-width="0.8"/><text x="30.00" y="178.38" font-size="10.5" text-anchor="end" fill="#262626" font-weight="normal">1.75</text><line x1="31" y1="174.6" x2="33" y2="174.6" stroke="#444" stroke-width="0.8"/><text x="47.60" y="202.78" font-size="10.5" text-anchor="middle" fill="#262626" font-weight="normal">5</text><line x1="48.1" y1="190" x2="48.1" y2="192.2" stroke="#444" stroke-width="0.8"/><text x="72.00" y="202.78" font-size="10.5" text-anchor="middle" fill="#262626" font-weight="normal">10</text><line x1="72.5" y1="190" x2="72.5" y2="192.2" stroke="#444" stroke-width="0.8"/><text x="94.80" y="202.78" font-size="10.5" text-anchor="middle" fill="#262626" font-weight="normal">15</text><line x1="95.3" y1="190" x2="95.3" y2="192.2" stroke="#444" stroke-width="0.8"/><text x="118.50" y="202.78" font-size="10.5" text-anchor="middle" fill="#262626" font-weight="normal">20</text><line x1="119.0" y1="190" x2="119.0" y2="192.2" stroke="#444" stroke-width="0.8"/><text x="141.20" y="202.78" font-size="10.5" text-anchor="middle" fill="#262626" font-weight="normal">25</text><line x1="141.7" y1="190" x2="141.7" y2="192.2" stroke="#444" stroke-width="0.8"/><text x="165.40" y="202.78" font-size="10.5" text-anchor="middle" fill="#262626" font-weight="normal">30</text><line x1="165.9" y1="190" x2="165.9" y2="192.2" stroke="#444" stroke-width="0.8"/><text x="188.40" y="202.78" font-size="10.5" text-anchor="middle" fill="#262626" font-weight="normal">35</text><line x1="188.9" y1="190" x2="188.9" y2="192.2" stroke="#444" stroke-width="0.8"/><text x="112.50" y="217.28" font-size="10.5" text-anchor="middle" fill="#262626" font-weight="normal">Electron energy-loss (eV)</text><text x="5.60" y="104.24" font-size="10.4" text-anchor="middle" fill="#262626" font-weight="normal" transform="rotate(-90 5.60 100.50)" textLength="79" lengthAdjust="spacingAndGlyphs">|q| (||Γ - M − Γ′|)</text><text x="30.00" y="271.38" font-size="10.5" text-anchor="end" fill="#262626" font-weight="normal">0.25</text><line x1="31" y1="267.6" x2="33" y2="267.6" stroke="#444" stroke-width="0.8"/><text x="30.00" y="292.38" font-size="10.5" text-anchor="end" fill="#262626" font-weight="normal">0.50</text><line x1="31" y1="288.6" x2="33" y2="288.6" stroke="#444" stroke-width="0.8"/><text x="30.00" y="312.78" font-size="10.5" text-anchor="end" fill="#262626" font-weight="normal">0.75</text><line x1="31" y1="309" x2="33" y2="309" stroke="#444" stroke-width="0.8"/><text x="30.00" y="334.78" font-size="10.5" text-anchor="end" fill="#262626" font-weight="normal">1.00</text><line x1="31" y1="331" x2="33" y2="331" stroke="#444" stroke-width="0.8"/><text x="30.00" y="356.18" font-size="10.5" text-anchor="end" fill="#262626" font-weight="normal">1.25</text><line x1="31" y1="352.4" x2="33" y2="352.4" stroke="#444" stroke-width="0.8"/><text x="30.00" y="376.18" font-size="10.5" text-anchor="end" fill="#262626" font-weight="normal">1.50</text><line x1="31" y1="372.4" x2="33" y2="372.4" stroke="#444" stroke-width="0.8"/><text x="30.00" y="398.18" font-size="10.5" text-anchor="end" fill="#262626" font-weight="normal">1.75</text><line x1="31" y1="394.4" x2="33" y2="394.4" stroke="#444" stroke-width="0.8"/><text x="47.10" y="427.78" font-size="10.5" text-anchor="middle" fill="#262626" font-weight="normal">5</text><line x1="47.6" y1="417" x2="47.6" y2="419.2" stroke="#444" stroke-width="0.8"/><text x="74.70" y="427.78" font-size="10.5" text-anchor="middle" fill="#262626" font-weight="normal">10</text><line x1="75.2" y1="417" x2="75.2" y2="419.2" stroke="#444" stroke-width="0.8"/><text x="98.30" y="427.78" font-size="10.5" text-anchor="middle" fill="#262626" font-weight="normal">15</text><line x1="98.8" y1="417" x2="98.8" y2="419.2" stroke="#444" stroke-width="0.8"/><text x="121.70" y="427.78" font-size="10.5" text-anchor="middle" fill="#262626" font-weight="normal">20</text><line x1="122.2" y1="417" x2="122.2" y2="419.2" stroke="#444" stroke-width="0.8"/><text x="146.60" y="427.78" font-size="10.5" text-anchor="middle" fill="#262626" font-weight="normal">25</text><line x1="147.1" y1="417" x2="147.1" y2="419.2" stroke="#444" stroke-width="0.8"/><text x="174.20" y="427.78" font-size="10.5" text-anchor="middle" fill="#262626" font-weight="normal">30</text><line x1="174.7" y1="417" x2="174.7" y2="419.2" stroke="#444" stroke-width="0.8"/><text x="198.30" y="427.78" font-size="10.5" text-anchor="middle" fill="#262626" font-weight="normal">35</text><line x1="198.8" y1="417" x2="198.8" y2="419.2" stroke="#444" stroke-width="0.8"/><text x="115.40" y="443.38" font-size="10.5" text-anchor="middle" fill="#262626" font-weight="normal">Electron energy-loss (eV)</text><text x="5.60" y="338.54" font-size="10.4" text-anchor="middle" fill="#262626" font-weight="normal" transform="rotate(-90 5.60 334.80)" textLength="125" lengthAdjust="spacingAndGlyphs">|q| (||Γ - K − M′ − K′ − Γ″|)</text><text x="241.00" y="35.78" font-size="10.5" text-anchor="end" fill="#262626" font-weight="normal">0.05</text><text x="241.00" y="56.78" font-size="10.5" text-anchor="end" fill="#262626" font-weight="normal">0.25</text><text x="241.00" y="76.78" font-size="10.5" text-anchor="end" fill="#262626" font-weight="normal">0.45</text><text x="241.00" y="96.78" font-size="10.5" text-anchor="end" fill="#262626" font-weight="normal">0.65</text><text x="244.20" y="110.18" font-size="10.5" text-anchor="middle" fill="#262626" font-weight="normal">0</text><line x1="244.2" y1="98" x2="244.2" y2="100" stroke="#444" stroke-width="0.8"/><text x="262.20" y="110.18" font-size="10.5" text-anchor="middle" fill="#262626" font-weight="normal">5</text><line x1="262.2" y1="98" x2="262.2" y2="100" stroke="#444" stroke-width="0.8"/><text x="280.00" y="110.18" font-size="10.5" text-anchor="middle" fill="#262626" font-weight="normal">10</text><line x1="280" y1="98" x2="280" y2="100" stroke="#444" stroke-width="0.8"/><text x="297.30" y="110.18" font-size="10.5" text-anchor="middle" fill="#262626" font-weight="normal">15</text><line x1="297.3" y1="98" x2="297.3" y2="100" stroke="#444" stroke-width="0.8"/><text x="314.70" y="110.18" font-size="10.5" text-anchor="middle" fill="#262626" font-weight="normal">20</text><line x1="314.7" y1="98" x2="314.7" y2="100" stroke="#444" stroke-width="0.8"/><text x="332.00" y="110.18" font-size="10.5" text-anchor="middle" fill="#262626" font-weight="normal">25</text><line x1="332" y1="98" x2="332" y2="100" stroke="#444" stroke-width="0.8"/><text x="349.40" y="110.18" font-size="10.5" text-anchor="middle" fill="#262626" font-weight="normal">30</text><line x1="349.4" y1="98" x2="349.4" y2="100" stroke="#444" stroke-width="0.8"/><text x="366.80" y="110.18" font-size="10.5" text-anchor="middle" fill="#262626" font-weight="normal">35</text><line x1="366.8" y1="98" x2="366.8" y2="100" stroke="#444" stroke-width="0.8"/><text x="213.60" y="61.74" font-size="10.4" text-anchor="middle" fill="#262626" font-weight="normal" transform="rotate(-90 213.60 58.00)">|q| (2 π /a)</text><text x="241.00" y="128.38" font-size="10.5" text-anchor="end" fill="#262626" font-weight="normal">0.05</text><text x="241.00" y="148.78" font-size="10.5" text-anchor="end" fill="#262626" font-weight="normal">0.25</text><text x="241.00" y="168.78" font-size="10.5" text-anchor="end" fill="#262626" font-weight="normal">0.45</text><text x="241.00" y="188.78" font-size="10.5" text-anchor="end" fill="#262626" font-weight="normal">0.65</text><text x="244.60" y="203.38" font-size="10.5" text-anchor="middle" fill="#262626" font-weight="normal">0</text><line x1="244.6" y1="191.5" x2="244.6" y2="193.5" stroke="#444" stroke-width="0.8"/><text x="262.60" y="203.38" font-size="10.5" text-anchor="middle" fill="#262626" font-weight="normal">5</text><line x1="262.6" y1="191.5" x2="262.6" y2="193.5" stroke="#444" stroke-width="0.8"/><text x="280.00" y="203.38" font-size="10.5" text-anchor="middle" fill="#262626" font-weight="normal">10</text><line x1="280" y1="191.5" x2="280" y2="193.5" stroke="#444" stroke-width="0.8"/><text x="297.30" y="203.38" font-size="10.5" text-anchor="middle" fill="#262626" font-weight="normal">15</text><line x1="297.3" y1="191.5" x2="297.3" y2="193.5" stroke="#444" stroke-width="0.8"/><text x="314.70" y="203.38" font-size="10.5" text-anchor="middle" fill="#262626" font-weight="normal">20</text><line x1="314.7" y1="191.5" x2="314.7" y2="193.5" stroke="#444" stroke-width="0.8"/><text x="332.00" y="203.38" font-size="10.5" text-anchor="middle" fill="#262626" font-weight="normal">25</text><line x1="332" y1="191.5" x2="332" y2="193.5" stroke="#444" stroke-width="0.8"/><text x="349.40" y="203.38" font-size="10.5" text-anchor="middle" fill="#262626" font-weight="normal">30</text><line x1="349.4" y1="191.5" x2="349.4" y2="193.5" stroke="#444" stroke-width="0.8"/><text x="365.80" y="203.38" font-size="10.5" text-anchor="middle" fill="#262626" font-weight="normal">35</text><line x1="365.8" y1="191.5" x2="365.8" y2="193.5" stroke="#444" stroke-width="0.8"/><text x="213.60" y="150.24" font-size="10.4" text-anchor="middle" fill="#262626" font-weight="normal" transform="rotate(-90 213.60 146.50)">|q| (2 π /a)</text><text x="301.00" y="217.28" font-size="10.5" text-anchor="middle" fill="#262626" font-weight="normal">Electron energy-loss (eV)</text><text x="241.00" y="264.78" font-size="10.5" text-anchor="end" fill="#262626" font-weight="normal">0.05</text><text x="241.00" y="285.18" font-size="10.5" text-anchor="end" fill="#262626" font-weight="normal">0.25</text><text x="241.00" y="305.18" font-size="10.5" text-anchor="end" fill="#262626" font-weight="normal">0.45</text><text x="241.00" y="325.18" font-size="10.5" text-anchor="end" fill="#262626" font-weight="normal">0.65</text><text x="246.20" y="336.78" font-size="10.5" text-anchor="middle" fill="#262626" font-weight="normal">0</text><line x1="246.2" y1="326" x2="246.2" y2="328" stroke="#444" stroke-width="0.8"/><text x="263.60" y="336.78" font-size="10.5" text-anchor="middle" fill="#262626" font-weight="normal">5</text><line x1="263.6" y1="326" x2="263.6" y2="328" stroke="#444" stroke-width="0.8"/><text x="281.40" y="336.78" font-size="10.5" text-anchor="middle" fill="#262626" font-weight="normal">10</text><line x1="281.4" y1="326" x2="281.4" y2="328" stroke="#444" stroke-width="0.8"/><text x="299.00" y="336.78" font-size="10.5" text-anchor="middle" fill="#262626" font-weight="normal">15</text><line x1="299" y1="326" x2="299" y2="328" stroke="#444" stroke-width="0.8"/><text x="316.10" y="336.78" font-size="10.5" text-anchor="middle" fill="#262626" font-weight="normal">20</text><line x1="316.1" y1="326" x2="316.1" y2="328" stroke="#444" stroke-width="0.8"/><text x="333.70" y="336.78" font-size="10.5" text-anchor="middle" fill="#262626" font-weight="normal">25</text><line x1="333.7" y1="326" x2="333.7" y2="328" stroke="#444" stroke-width="0.8"/><text x="350.40" y="336.78" font-size="10.5" text-anchor="middle" fill="#262626" font-weight="normal">30</text><line x1="350.4" y1="326" x2="350.4" y2="328" stroke="#444" stroke-width="0.8"/><text x="366.40" y="336.78" font-size="10.5" text-anchor="middle" fill="#262626" font-weight="normal">35</text><line x1="366.4" y1="326" x2="366.4" y2="328" stroke="#444" stroke-width="0.8"/><text x="213.60" y="285.74" font-size="10.4" text-anchor="middle" fill="#262626" font-weight="normal" transform="rotate(-90 213.60 282.00)">|q| (2 π /a)</text><text x="241.00" y="354.78" font-size="10.5" text-anchor="end" fill="#262626" font-weight="normal">0.05</text><text x="241.00" y="375.38" font-size="10.5" text-anchor="end" fill="#262626" font-weight="normal">0.25</text><text x="241.00" y="395.38" font-size="10.5" text-anchor="end" fill="#262626" font-weight="normal">0.45</text><text x="241.00" y="415.38" font-size="10.5" text-anchor="end" fill="#262626" font-weight="normal">0.65</text><text x="243.40" y="428.78" font-size="10.5" text-anchor="middle" fill="#262626" font-weight="normal">0</text><line x1="243.4" y1="417.4" x2="243.4" y2="419.4" stroke="#444" stroke-width="0.8"/><text x="262.10" y="428.78" font-size="10.5" text-anchor="middle" fill="#262626" font-weight="normal">5</text><line x1="262.1" y1="417.4" x2="262.1" y2="419.4" stroke="#444" stroke-width="0.8"/><text x="280.50" y="428.78" font-size="10.5" text-anchor="middle" fill="#262626" font-weight="normal">10</text><line x1="280.5" y1="417.4" x2="280.5" y2="419.4" stroke="#444" stroke-width="0.8"/><text x="298.80" y="428.78" font-size="10.5" text-anchor="middle" fill="#262626" font-weight="normal">15</text><line x1="298.8" y1="417.4" x2="298.8" y2="419.4" stroke="#444" stroke-width="0.8"/><text x="317.20" y="428.78" font-size="10.5" text-anchor="middle" fill="#262626" font-weight="normal">20</text><line x1="317.2" y1="417.4" x2="317.2" y2="419.4" stroke="#444" stroke-width="0.8"/><text x="335.10" y="428.78" font-size="10.5" text-anchor="middle" fill="#262626" font-weight="normal">25</text><line x1="335.1" y1="417.4" x2="335.1" y2="419.4" stroke="#444" stroke-width="0.8"/><text x="353.00" y="428.78" font-size="10.5" text-anchor="middle" fill="#262626" font-weight="normal">30</text><line x1="353" y1="417.4" x2="353" y2="419.4" stroke="#444" stroke-width="0.8"/><text x="369.90" y="428.78" font-size="10.5" text-anchor="middle" fill="#262626" font-weight="normal">35</text><line x1="369.9" y1="417.4" x2="369.9" y2="419.4" stroke="#444" stroke-width="0.8"/><text x="213.60" y="376.74" font-size="10.4" text-anchor="middle" fill="#262626" font-weight="normal" transform="rotate(-90 213.60 373.00)">|q| (2 π /a)</text><text x="310.00" y="443.98" font-size="10.5" text-anchor="middle" fill="#262626" font-weight="normal">Electron energy-loss (eV)</text><text x="247.60" y="96.28" font-size="8" text-anchor="start" fill="#c8c8ff" font-weight="normal">1L-hBN</text><text x="247.60" y="190.02" font-size="8.4" text-anchor="start" fill="#c8c8ff" font-weight="normal">Bulk-hBN</text><text x="248.00" y="323.68" font-size="8" text-anchor="start" fill="#c8c8ff" font-weight="normal">1L-hBN</text><text x="247.00" y="415.42" font-size="8.4" text-anchor="start" fill="#c8c8ff" font-weight="normal">Bulk-hBN</text><text x="377.00" y="26.78" font-size="10.5" text-anchor="start" fill="#262626" font-weight="normal">1.5</text><text x="377.00" y="43.78" font-size="10.5" text-anchor="start" fill="#262626" font-weight="normal">1.2</text><text x="377.00" y="61.78" font-size="10.5" text-anchor="start" fill="#262626" font-weight="normal">0.8</text><text x="377.00" y="81.78" font-size="10.5" text-anchor="start" fill="#262626" font-weight="normal">0.4</text><text x="377.00" y="100.78" font-size="10.5" text-anchor="start" fill="#262626" font-weight="normal">0.0</text><text x="377.00" y="117.78" font-size="10.5" text-anchor="start" fill="#262626" font-weight="normal">1.5</text><text x="377.00" y="133.78" font-size="10.5" text-anchor="start" fill="#262626" font-weight="normal">1.2</text><text x="377.00" y="152.38" font-size="10.5" text-anchor="start" fill="#262626" font-weight="normal">0.8</text><text x="377.00" y="171.78" font-size="10.5" text-anchor="start" fill="#262626" font-weight="normal">0.4</text><text x="377.00" y="191.78" font-size="10.5" text-anchor="start" fill="#262626" font-weight="normal">0.0</text><text x="376.00" y="256.78" font-size="10.5" text-anchor="start" fill="#262626" font-weight="normal">1.5</text><text x="376.00" y="272.78" font-size="10.5" text-anchor="start" fill="#262626" font-weight="normal">1.2</text><text x="376.00" y="290.78" font-size="10.5" text-anchor="start" fill="#262626" font-weight="normal">0.8</text><text x="376.00" y="310.78" font-size="10.5" text-anchor="start" fill="#262626" font-weight="normal">0.4</text><text x="376.00" y="329.78" font-size="10.5" text-anchor="start" fill="#262626" font-weight="normal">0.0</text><text x="376.00" y="347.78" font-size="10.5" text-anchor="start" fill="#262626" font-weight="normal">1.5</text><text x="376.00" y="363.98" font-size="10.5" text-anchor="start" fill="#262626" font-weight="normal">1.2</text><text x="376.00" y="382.68" font-size="10.5" text-anchor="start" fill="#262626" font-weight="normal">0.8</text><text x="376.00" y="402.78" font-size="10.5" text-anchor="start" fill="#262626" font-weight="normal">0.4</text><text x="376.00" y="421.08" font-size="10.5" text-anchor="start" fill="#262626" font-weight="normal">0.0</text><rect x="33.2" y="20.2" width="172.4" height="170" fill="none" stroke="#3a2a2a" stroke-opacity="0.55" stroke-width="0.7"/><rect x="33.2" y="249.6" width="172.2" height="167.8" fill="none" stroke="#3a2a2a" stroke-opacity="0.55" stroke-width="0.7"/><rect x="243.2" y="18.7" width="122.6" height="79.3" fill="none" stroke="#b0b0b0" stroke-opacity="0.7" stroke-width="0.7"/><rect x="243.2" y="112.7" width="122.6" height="79.3" fill="none" stroke="#b0b0b0" stroke-opacity="0.7" stroke-width="0.7"/><rect x="244.2" y="247.7" width="122.6" height="79.3" fill="none" stroke="#b0b0b0" stroke-opacity="0.7" stroke-width="0.7"/><rect x="243.2" y="338.7" width="122.6" height="79.3" fill="none" stroke="#b0b0b0" stroke-opacity="0.7" stroke-width="0.7"/><rect x="35.2" y="101.8" width="168.0" height="45.39999999999999" fill="none" stroke="#111" stroke-width="1.6" stroke-dasharray="4.2,2.6"/><rect x="35.2" y="331.5" width="168.0" height="42.0" fill="none" stroke="#111" stroke-width="1.6" stroke-dasharray="4.2,2.6"/><line x1="55.2" y1="78.3" x2="64.6" y2="78.3" stroke="#fff" stroke-width="1.6"/><polygon points="62.599999999999994,74.3 69.6,78.3 62.599999999999994,82.3" fill="#fff"/><line x1="61" y1="306.5" x2="70" y2="306.5" stroke="#fff" stroke-width="1.6"/><polygon points="68,302.5 75,306.5 68,310.5" fill="#fff"/><text x="68.00" y="99.28" font-size="10.5" text-anchor="middle" fill="#1a1a1a" font-weight="normal">π</text><text x="150.50" y="99.28" font-size="10.5" text-anchor="middle" fill="#1a1a1a" font-weight="normal">π + σ</text><text x="76.50" y="330.28" font-size="10.5" text-anchor="middle" fill="#1a1a1a" font-weight="normal">π</text><text x="145.50" y="328.58" font-size="10.5" text-anchor="middle" fill="#1a1a1a" font-weight="normal">π + σ</text><text x="405.80" y="108.78" font-size="10.5" text-anchor="middle" fill="#262626" font-weight="normal" transform="rotate(-90 405.80 105.00)">Intensity (au)</text><text x="431.20" y="204.58" font-size="10.5" text-anchor="middle" fill="#262626" font-weight="normal">5</text><line x1="431.5" y1="193.20000000000002" x2="431.5" y2="195.4" stroke="#444" stroke-width="0.8"/><text x="470.70" y="204.58" font-size="10.5" text-anchor="middle" fill="#262626" font-weight="normal">10</text><line x1="471.0" y1="193.20000000000002" x2="471.0" y2="195.4" stroke="#444" stroke-width="0.8"/><text x="508.20" y="204.58" font-size="10.5" text-anchor="middle" fill="#262626" font-weight="normal">15</text><line x1="508.5" y1="193.20000000000002" x2="508.5" y2="195.4" stroke="#444" stroke-width="0.8"/><text x="544.80" y="204.58" font-size="10.5" text-anchor="middle" fill="#262626" font-weight="normal">20</text><line x1="545.0999999999999" y1="193.20000000000002" x2="545.0999999999999" y2="195.4" stroke="#444" stroke-width="0.8"/><text x="583.00" y="204.58" font-size="10.5" text-anchor="middle" fill="#262626" font-weight="normal">25</text><line x1="583.3" y1="193.20000000000002" x2="583.3" y2="195.4" stroke="#444" stroke-width="0.8"/><text x="622.50" y="204.58" font-size="10.5" text-anchor="middle" fill="#262626" font-weight="normal">30</text><line x1="622.8" y1="193.20000000000002" x2="622.8" y2="195.4" stroke="#444" stroke-width="0.8"/><text x="662.90" y="204.58" font-size="10.5" text-anchor="middle" fill="#262626" font-weight="normal">35</text><line x1="663.1999999999999" y1="193.20000000000002" x2="663.1999999999999" y2="195.4" stroke="#444" stroke-width="0.8"/><text x="552.60" y="214.58" font-size="10.5" text-anchor="middle" fill="#262626" font-weight="normal">Electron energy-loss (eV)</text><text x="455.70" y="64.28" font-size="10.5" text-anchor="middle" fill="#1a1a1a" font-weight="normal">π</text><text x="417.60" y="89.98" font-size="10.5" text-anchor="start" fill="#ff2424" font-weight="normal">Exciton</text><polygon points="434.6,97.7 440.6,93.6 442.4,101.4" fill="#ff1a1a"/><line x1="489.3" y1="96.2" x2="489.3" y2="109.8" stroke="#6fb03c" stroke-width="1.3"/><polygon points="485.5,108.3 493.1,108.3 489.3,115.8" fill="#6fb03c"/><path d="M453.6,67 C455,95 456,125 459,140 S464,158 466.5,164.5" fill="none" stroke="#3a5aa8" stroke-width="1.7" stroke-dasharray="4,2.4"/><polygon points="464.1,167.8 470,164.3 470.5,171.7" fill="#3a5aa8"/><path d="M582.3,21.5 C585,60 589,110 592,135 S596,155 597.3,158" fill="none" stroke="#7a3ad0" stroke-width="1.7" stroke-dasharray="4,2.4"/><polygon points="594,158.5 601.5,158 598.6,166.5" fill="#7a3ad0"/><text x="566.50" y="30.98" font-size="10.5" text-anchor="middle" fill="#1a1a1a" font-weight="normal">π + σ</text><text x="467.00" y="186.18" font-size="10.5" text-anchor="start" fill="#f4e8f4" font-weight="normal">π at 12.3eV</text><text x="571.60" y="180.98" font-size="10.5" text-anchor="start" fill="#f4e8f4" font-weight="normal">π + σ at 30.4eV</text><line x1="676.4" y1="26" x2="676.4" y2="153" stroke="#000" stroke-width="1.6"/><polygon points="672.6,151 680.1999999999999,151 676.4,160" fill="#000"/><text x="668.3" y="158.7" font-size="10.5" fill="#262626" transform="rotate(-90 668.3 158.7)" textLength="131.7" lengthAdjust="spacingAndGlyphs">From |q<tspan font-size="7" dy="2">1</tspan><tspan dy="-2">|=0.012 to |q</tspan><tspan font-size="7" dy="2">45</tspan><tspan dy="-2">|=0.5</tspan></text><text x="405.80" y="328.48" font-size="10.5" text-anchor="middle" fill="#262626" font-weight="normal" transform="rotate(-90 405.80 324.70)">Intensity (au)</text><text x="422.90" y="429.28" font-size="10.5" text-anchor="middle" fill="#262626" font-weight="normal">5</text><line x1="423.2" y1="417.9" x2="423.2" y2="420.1" stroke="#444" stroke-width="0.8"/><text x="466.60" y="429.28" font-size="10.5" text-anchor="middle" fill="#262626" font-weight="normal">10</text><line x1="466.90000000000003" y1="417.9" x2="466.90000000000003" y2="420.1" stroke="#444" stroke-width="0.8"/><text x="506.00" y="429.28" font-size="10.5" text-anchor="middle" fill="#262626" font-weight="normal">15</text><line x1="506.3" y1="417.9" x2="506.3" y2="420.1" stroke="#444" stroke-width="0.8"/><text x="547.70" y="429.28" font-size="10.5" text-anchor="middle" fill="#262626" font-weight="normal">20</text><line x1="548.0" y1="417.9" x2="548.0" y2="420.1" stroke="#444" stroke-width="0.8"/><text x="590.00" y="429.28" font-size="10.5" text-anchor="middle" fill="#262626" font-weight="normal">25</text><line x1="590.3" y1="417.9" x2="590.3" y2="420.1" stroke="#444" stroke-width="0.8"/><text x="630.00" y="429.28" font-size="10.5" text-anchor="middle" fill="#262626" font-weight="normal">30</text><line x1="630.3" y1="417.9" x2="630.3" y2="420.1" stroke="#444" stroke-width="0.8"/><text x="671.20" y="429.28" font-size="10.5" text-anchor="middle" fill="#262626" font-weight="normal">35</text><line x1="671.5" y1="417.9" x2="671.5" y2="420.1" stroke="#444" stroke-width="0.8"/><text x="546.40" y="443.28" font-size="10.5" text-anchor="middle" fill="#262626" font-weight="normal">Electron energy-loss (eV)</text><text x="448.30" y="279.58" font-size="10.5" text-anchor="middle" fill="#1a1a1a" font-weight="normal">π</text><text x="413.60" y="308.18" font-size="10.5" text-anchor="start" fill="#ff2424" font-weight="normal">Exciton</text><polygon points="428,313.5 434.2,310.6 436.2,317.5" fill="#ff1a1a"/><line x1="484.6" y1="305" x2="484.6" y2="319.5" stroke="#6fb03c" stroke-width="1.3"/><polygon points="480.8,318.0 488.40000000000003,318.0 484.6,325.5" fill="#6fb03c"/><path d="M447,287 C448.5,315 449.5,345 452.5,360 S459,380 462.5,387" fill="none" stroke="#3a5aa8" stroke-width="1.7" stroke-dasharray="4,2.4"/><polygon points="460,389.5 466.5,387 466.6,395" fill="#3a5aa8"/><path d="M582.6,248 C585,290 589,340 592,362 S595.5,376 596.5,379" fill="none" stroke="#7a3ad0" stroke-width="1.7" stroke-dasharray="4,2.4"/><polygon points="593.5,379.5 601,379 598.3,387.5" fill="#7a3ad0"/><text x="565.50" y="256.58" font-size="10.5" text-anchor="middle" fill="#1a1a1a" font-weight="normal">π + σ</text><text x="465.20" y="408.18" font-size="10.5" text-anchor="start" fill="#f4e8f4" font-weight="normal">π at 12.3eV</text><text x="577.60" y="404.38" font-size="10.5" text-anchor="start" fill="#f4e8f4" font-weight="normal">π + σ at 30.3eV</text><line x1="677.5" y1="251.6" x2="677.5" y2="379.5" stroke="#000" stroke-width="1.6"/><polygon points="673.7,377.5 681.3,377.5 677.5,386.5" fill="#000"/><text x="669.5" y="380" font-size="10.5" fill="#262626" transform="rotate(-90 669.5 380)" textLength="123.69999999999999" lengthAdjust="spacingAndGlyphs">From |q<tspan font-size="7" dy="2">1</tspan><tspan dy="-2">|=0.01 to |q</tspan><tspan font-size="7" dy="2">45</tspan><tspan dy="-2">|=0.5</tspan></text>
</svg>
</body></html>
